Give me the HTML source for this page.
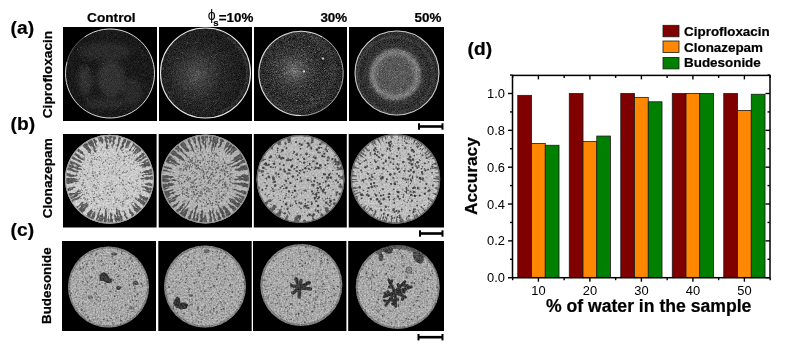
<!DOCTYPE html>
<html><head><meta charset="utf-8"><title>Figure</title>
<style>html,body{margin:0;padding:0;background:#fff;}body{width:786px;height:351px;overflow:hidden;font-family:"Liberation Sans", sans-serif;}svg{display:block;will-change:transform;}</style>
</head><body>
<svg width="786" height="351" viewBox="0 0 786 351">
<defs><filter id="blur1" x="-20%" y="-20%" width="140%" height="140%"><feGaussianBlur stdDeviation="1.2"/></filter><filter id="blur2" x="-20%" y="-20%" width="140%" height="140%"><feGaussianBlur stdDeviation="2.5"/></filter><filter id="blur05"><feGaussianBlur stdDeviation="0.5"/></filter><clipPath id="c00"><circle cx="110" cy="73.5" r="45"/></clipPath><clipPath id="c01"><circle cx="205.5" cy="73" r="45.5"/></clipPath><clipPath id="c02"><circle cx="301" cy="73.4" r="42.7"/></clipPath><clipPath id="c03"><circle cx="397" cy="73" r="42.5"/></clipPath><clipPath id="c10"><circle cx="109.5" cy="179.3" r="44.5"/></clipPath><clipPath id="c11"><circle cx="205.5" cy="179" r="44.5"/></clipPath><clipPath id="c12"><circle cx="300.5" cy="179" r="44"/></clipPath><clipPath id="c13"><circle cx="395.5" cy="179" r="44.7"/></clipPath><clipPath id="c20"><circle cx="108.5" cy="287" r="40.5"/></clipPath><clipPath id="c21"><circle cx="205" cy="286.5" r="41"/></clipPath><clipPath id="c22"><circle cx="301.3" cy="285" r="41"/></clipPath><clipPath id="c23"><circle cx="397.7" cy="287" r="42"/></clipPath><filter id="gr00" x="-5%" y="-5%" width="110%" height="110%" color-interpolation-filters="sRGB">
<feTurbulence type="fractalNoise" baseFrequency="1.37" numOctaves="1" seed="3" result="n"/>
<feColorMatrix in="n" type="matrix" values="1 0 0 0 0 1 0 0 0 0 1 0 0 0 0 0 0 0 0 1" result="g"/>
<feComposite in="SourceGraphic" in2="g" operator="arithmetic" k1="0" k2="1" k3="0.25" k4="-0.125" result="r"/>
<feComposite in="r" in2="SourceGraphic" operator="in"/>
</filter><filter id="gr01" x="-5%" y="-5%" width="110%" height="110%" color-interpolation-filters="sRGB">
<feTurbulence type="fractalNoise" baseFrequency="1.37" numOctaves="1" seed="5" result="n"/>
<feColorMatrix in="n" type="matrix" values="1 0 0 0 0 1 0 0 0 0 1 0 0 0 0 0 0 0 0 1" result="g"/>
<feComposite in="SourceGraphic" in2="g" operator="arithmetic" k1="0" k2="1" k3="0.35" k4="-0.175" result="r"/>
<feComposite in="r" in2="SourceGraphic" operator="in"/>
</filter><radialGradient id="g01" cx="0.4" cy="0.52" r="0.5"><stop offset="0" stop-color="#505050"/><stop offset="0.25" stop-color="#3c3c3c"/><stop offset="0.6" stop-color="#262626"/><stop offset="1" stop-color="#1e1e1e"/></radialGradient><filter id="gr02" x="-5%" y="-5%" width="110%" height="110%" color-interpolation-filters="sRGB">
<feTurbulence type="fractalNoise" baseFrequency="1.37" numOctaves="1" seed="7" result="n"/>
<feColorMatrix in="n" type="matrix" values="1 0 0 0 0 1 0 0 0 0 1 0 0 0 0 0 0 0 0 1" result="g"/>
<feComposite in="SourceGraphic" in2="g" operator="arithmetic" k1="0" k2="1" k3="0.55" k4="-0.275" result="r"/>
<feComposite in="r" in2="SourceGraphic" operator="in"/>
</filter><radialGradient id="g02" cx="0.42" cy="0.47" r="0.5"><stop offset="0" stop-color="#6e6e6e"/><stop offset="0.12" stop-color="#5a5a5a"/><stop offset="0.35" stop-color="#3c3c3c"/><stop offset="0.7" stop-color="#2c2c2c"/><stop offset="0.9" stop-color="#363636"/><stop offset="1" stop-color="#2a2a2a"/></radialGradient><filter id="gr03" x="-5%" y="-5%" width="110%" height="110%" color-interpolation-filters="sRGB">
<feTurbulence type="fractalNoise" baseFrequency="1.37" numOctaves="1" seed="9" result="n"/>
<feColorMatrix in="n" type="matrix" values="1 0 0 0 0 1 0 0 0 0 1 0 0 0 0 0 0 0 0 1" result="g"/>
<feComposite in="SourceGraphic" in2="g" operator="arithmetic" k1="0" k2="1" k3="0.45" k4="-0.225" result="r"/>
<feComposite in="r" in2="SourceGraphic" operator="in"/>
</filter><radialGradient id="g03" cx="0.48" cy="0.52" r="0.5"><stop offset="0" stop-color="#5e5e5e"/><stop offset="0.36" stop-color="#545454"/><stop offset="0.44" stop-color="#606060"/><stop offset="0.5" stop-color="#7c7c7c"/><stop offset="0.57" stop-color="#666"/><stop offset="0.63" stop-color="#3a3a3a"/><stop offset="0.8" stop-color="#2c2c2c"/><stop offset="0.87" stop-color="#3c3c3c"/><stop offset="0.94" stop-color="#2c2c2c"/><stop offset="1" stop-color="#303030"/></radialGradient><filter id="gr10" x="-5%" y="-5%" width="110%" height="110%" color-interpolation-filters="sRGB">
<feTurbulence type="fractalNoise" baseFrequency="0.63" numOctaves="3" seed="11" result="n"/>
<feColorMatrix in="n" type="matrix" values="1 0 0 0 0 1 0 0 0 0 1 0 0 0 0 0 0 0 0 1" result="g"/>
<feComposite in="SourceGraphic" in2="g" operator="arithmetic" k1="0" k2="1" k3="0.3" k4="-0.150" result="r"/>
<feComposite in="r" in2="SourceGraphic" operator="in"/>
</filter><filter id="gr11" x="-5%" y="-5%" width="110%" height="110%" color-interpolation-filters="sRGB">
<feTurbulence type="fractalNoise" baseFrequency="0.63" numOctaves="3" seed="15" result="n"/>
<feColorMatrix in="n" type="matrix" values="1 0 0 0 0 1 0 0 0 0 1 0 0 0 0 0 0 0 0 1" result="g"/>
<feComposite in="SourceGraphic" in2="g" operator="arithmetic" k1="0" k2="1" k3="0.3" k4="-0.150" result="r"/>
<feComposite in="r" in2="SourceGraphic" operator="in"/>
</filter><filter id="gr12" x="-5%" y="-5%" width="110%" height="110%" color-interpolation-filters="sRGB">
<feTurbulence type="fractalNoise" baseFrequency="0.63" numOctaves="3" seed="19" result="n"/>
<feColorMatrix in="n" type="matrix" values="1 0 0 0 0 1 0 0 0 0 1 0 0 0 0 0 0 0 0 1" result="g"/>
<feComposite in="SourceGraphic" in2="g" operator="arithmetic" k1="0" k2="1" k3="0.3" k4="-0.150" result="r"/>
<feComposite in="r" in2="SourceGraphic" operator="in"/>
</filter><filter id="gr13" x="-5%" y="-5%" width="110%" height="110%" color-interpolation-filters="sRGB">
<feTurbulence type="fractalNoise" baseFrequency="0.63" numOctaves="3" seed="23" result="n"/>
<feColorMatrix in="n" type="matrix" values="1 0 0 0 0 1 0 0 0 0 1 0 0 0 0 0 0 0 0 1" result="g"/>
<feComposite in="SourceGraphic" in2="g" operator="arithmetic" k1="0" k2="1" k3="0.3" k4="-0.150" result="r"/>
<feComposite in="r" in2="SourceGraphic" operator="in"/>
</filter><filter id="gr20" x="-5%" y="-5%" width="110%" height="110%" color-interpolation-filters="sRGB">
<feTurbulence type="fractalNoise" baseFrequency="0.63" numOctaves="3" seed="30" result="n"/>
<feColorMatrix in="n" type="matrix" values="1 0 0 0 0 1 0 0 0 0 1 0 0 0 0 0 0 0 0 1" result="g"/>
<feComposite in="SourceGraphic" in2="g" operator="arithmetic" k1="0" k2="1" k3="0.42" k4="-0.210" result="r"/>
<feComposite in="r" in2="SourceGraphic" operator="in"/>
</filter><filter id="gr21" x="-5%" y="-5%" width="110%" height="110%" color-interpolation-filters="sRGB">
<feTurbulence type="fractalNoise" baseFrequency="0.63" numOctaves="3" seed="31" result="n"/>
<feColorMatrix in="n" type="matrix" values="1 0 0 0 0 1 0 0 0 0 1 0 0 0 0 0 0 0 0 1" result="g"/>
<feComposite in="SourceGraphic" in2="g" operator="arithmetic" k1="0" k2="1" k3="0.42" k4="-0.210" result="r"/>
<feComposite in="r" in2="SourceGraphic" operator="in"/>
</filter><filter id="gr22" x="-5%" y="-5%" width="110%" height="110%" color-interpolation-filters="sRGB">
<feTurbulence type="fractalNoise" baseFrequency="0.63" numOctaves="3" seed="32" result="n"/>
<feColorMatrix in="n" type="matrix" values="1 0 0 0 0 1 0 0 0 0 1 0 0 0 0 0 0 0 0 1" result="g"/>
<feComposite in="SourceGraphic" in2="g" operator="arithmetic" k1="0" k2="1" k3="0.42" k4="-0.210" result="r"/>
<feComposite in="r" in2="SourceGraphic" operator="in"/>
</filter><filter id="gr23" x="-5%" y="-5%" width="110%" height="110%" color-interpolation-filters="sRGB">
<feTurbulence type="fractalNoise" baseFrequency="0.63" numOctaves="3" seed="33" result="n"/>
<feColorMatrix in="n" type="matrix" values="1 0 0 0 0 1 0 0 0 0 1 0 0 0 0 0 0 0 0 1" result="g"/>
<feComposite in="SourceGraphic" in2="g" operator="arithmetic" k1="0" k2="1" k3="0.42" k4="-0.210" result="r"/>
<feComposite in="r" in2="SourceGraphic" operator="in"/>
</filter></defs>
<rect width="786" height="351" fill="#fff"/>
<rect x="63" y="27" width="94.0" height="94" fill="#000"/><rect x="159" y="27" width="93.0" height="94" fill="#000"/><rect x="254" y="27" width="93.0" height="94" fill="#000"/><rect x="349" y="27" width="95.0" height="94" fill="#000"/><rect x="63" y="134" width="93.6" height="93.5" fill="#000"/><rect x="158.7" y="134" width="93.3" height="93.5" fill="#000"/><rect x="253.8" y="134" width="93.0" height="93.5" fill="#000"/><rect x="348.7" y="134" width="95.3" height="93.5" fill="#000"/><rect x="62" y="241" width="94.0" height="90" fill="#000"/><rect x="158.3" y="241" width="93.4" height="90" fill="#000"/><rect x="253" y="241" width="93.4" height="90" fill="#000"/><rect x="348.2" y="241" width="95.8" height="90" fill="#000"/><g clip-path="url(#c00)"><g filter="url(#gr00)"><circle cx="110" cy="73.5" r="46" fill="#1a1a1a"/><g filter="url(#blur2)"><ellipse cx="111" cy="78.5" rx="14" ry="18" fill="#333"/><ellipse cx="85" cy="80.5" rx="7" ry="14" fill="#303030"/><ellipse cx="105" cy="51.5" rx="26" ry="9" fill="#2c2c2c"/><ellipse cx="132" cy="91.5" rx="10" ry="14" fill="#2a2a2a"/><ellipse cx="105" cy="103.5" rx="20" ry="6" fill="#2c2c2c"/></g><g fill="#888" opacity="0.6"><circle cx="120.5" cy="102.5" r="0.49"/><circle cx="71.9" cy="81.5" r="0.43"/><circle cx="113.3" cy="92.0" r="0.36"/><circle cx="117.9" cy="106.3" r="0.49"/><circle cx="113.7" cy="83.6" r="0.32"/><circle cx="86.2" cy="99.9" r="0.39"/><circle cx="95.0" cy="55.9" r="0.38"/><circle cx="93.3" cy="81.4" r="0.36"/><circle cx="116.0" cy="61.4" r="0.44"/><circle cx="134.4" cy="51.3" r="0.38"/><circle cx="87.9" cy="85.1" r="0.38"/><circle cx="143.1" cy="74.9" r="0.39"/><circle cx="93.3" cy="97.9" r="0.30"/><circle cx="143.9" cy="75.5" r="0.41"/><circle cx="125.5" cy="76.9" r="0.34"/><circle cx="116.1" cy="81.9" r="0.44"/><circle cx="87.5" cy="99.7" r="0.43"/><circle cx="82.1" cy="73.8" r="0.48"/><circle cx="125.5" cy="57.0" r="0.44"/><circle cx="143.5" cy="74.8" r="0.32"/><circle cx="105.9" cy="79.5" r="0.49"/><circle cx="130.0" cy="41.3" r="0.32"/><circle cx="115.2" cy="39.9" r="0.46"/><circle cx="132.9" cy="101.3" r="0.34"/><circle cx="107.3" cy="37.5" r="0.48"/><circle cx="130.8" cy="56.2" r="0.33"/><circle cx="139.6" cy="47.2" r="0.37"/><circle cx="100.0" cy="70.3" r="0.44"/><circle cx="132.4" cy="82.0" r="0.36"/><circle cx="141.0" cy="93.3" r="0.49"/><circle cx="115.7" cy="92.9" r="0.32"/><circle cx="142.6" cy="50.1" r="0.36"/><circle cx="102.9" cy="63.2" r="0.48"/><circle cx="107.0" cy="70.2" r="0.47"/><circle cx="85.1" cy="61.9" r="0.46"/><circle cx="107.1" cy="93.1" r="0.43"/><circle cx="80.6" cy="66.9" r="0.37"/><circle cx="100.7" cy="111.6" r="0.44"/><circle cx="78.9" cy="95.9" r="0.31"/><circle cx="127.4" cy="81.2" r="0.33"/><circle cx="102.3" cy="85.2" r="0.37"/><circle cx="96.2" cy="50.2" r="0.44"/><circle cx="87.9" cy="98.8" r="0.43"/><circle cx="130.9" cy="95.1" r="0.41"/><circle cx="99.7" cy="53.1" r="0.45"/><circle cx="91.8" cy="81.4" r="0.39"/><circle cx="131.4" cy="79.1" r="0.31"/><circle cx="107.4" cy="33.2" r="0.39"/><circle cx="106.1" cy="106.3" r="0.44"/><circle cx="115.7" cy="34.4" r="0.39"/><circle cx="145.4" cy="54.6" r="0.31"/><circle cx="85.2" cy="81.2" r="0.35"/><circle cx="129.7" cy="98.4" r="0.45"/><circle cx="144.7" cy="87.7" r="0.44"/><circle cx="96.5" cy="57.6" r="0.44"/><circle cx="121.9" cy="35.3" r="0.37"/><circle cx="130.9" cy="101.1" r="0.44"/><circle cx="107.5" cy="99.5" r="0.35"/><circle cx="115.4" cy="55.4" r="0.32"/><circle cx="116.9" cy="91.8" r="0.33"/><circle cx="80.5" cy="55.5" r="0.43"/><circle cx="73.5" cy="85.7" r="0.31"/><circle cx="92.5" cy="71.7" r="0.44"/><circle cx="71.3" cy="70.8" r="0.35"/><circle cx="138.6" cy="61.1" r="0.37"/><circle cx="142.2" cy="51.3" r="0.42"/><circle cx="129.4" cy="93.8" r="0.32"/><circle cx="103.7" cy="68.2" r="0.44"/><circle cx="77.7" cy="49.3" r="0.50"/><circle cx="127.1" cy="92.7" r="0.31"/><circle cx="88.7" cy="69.3" r="0.50"/><circle cx="112.1" cy="95.5" r="0.44"/><circle cx="86.4" cy="64.4" r="0.33"/><circle cx="142.7" cy="55.3" r="0.45"/><circle cx="90.6" cy="107.5" r="0.31"/><circle cx="127.9" cy="60.1" r="0.39"/><circle cx="120.5" cy="88.2" r="0.33"/><circle cx="134.0" cy="61.4" r="0.48"/><circle cx="111.4" cy="38.3" r="0.34"/><circle cx="115.8" cy="108.7" r="0.41"/><circle cx="115.8" cy="68.9" r="0.33"/><circle cx="93.7" cy="46.9" r="0.43"/><circle cx="87.2" cy="98.0" r="0.46"/><circle cx="80.9" cy="47.2" r="0.50"/><circle cx="145.1" cy="86.3" r="0.43"/><circle cx="103.5" cy="63.1" r="0.37"/><circle cx="146.0" cy="83.9" r="0.49"/><circle cx="117.9" cy="76.4" r="0.30"/><circle cx="124.3" cy="72.3" r="0.47"/><circle cx="125.1" cy="109.2" r="0.44"/></g></g></g><path d="M84.48 37.05A44.50 44.50 0 1 1 67.02 61.98" fill="none" stroke="#d4d4d4" stroke-width="1.0" opacity="1"/><path d="M66.92 61.96A44.60 44.60 0 0 1 84.42 36.97" fill="none" stroke="#666" stroke-width="0.8" opacity="1"/><g clip-path="url(#c01)"><g filter="url(#gr01)"><circle cx="205.5" cy="73" r="46.5" fill="url(#g01)"/><g fill="#a0a0a0" opacity="0.6"><circle cx="193.6" cy="70.7" r="0.33"/><circle cx="177.6" cy="58.2" r="0.38"/><circle cx="176.9" cy="65.5" r="0.31"/><circle cx="183.5" cy="61.0" r="0.40"/><circle cx="195.5" cy="42.7" r="0.38"/><circle cx="205.1" cy="81.9" r="0.46"/><circle cx="178.4" cy="58.5" r="0.39"/><circle cx="201.9" cy="94.2" r="0.41"/><circle cx="193.9" cy="70.6" r="0.43"/><circle cx="199.1" cy="100.4" r="0.32"/><circle cx="193.3" cy="62.5" r="0.40"/><circle cx="173.1" cy="86.8" r="0.38"/><circle cx="215.1" cy="103.9" r="0.34"/><circle cx="183.2" cy="58.4" r="0.39"/><circle cx="178.4" cy="82.9" r="0.43"/><circle cx="213.4" cy="45.8" r="0.43"/><circle cx="216.0" cy="69.0" r="0.39"/><circle cx="214.7" cy="57.4" r="0.44"/><circle cx="197.8" cy="59.4" r="0.42"/><circle cx="174.5" cy="51.5" r="0.41"/><circle cx="163.5" cy="68.9" r="0.38"/><circle cx="230.8" cy="63.2" r="0.33"/><circle cx="200.7" cy="72.3" r="0.48"/><circle cx="198.0" cy="90.4" r="0.44"/><circle cx="206.4" cy="108.5" r="0.39"/><circle cx="203.1" cy="99.7" r="0.38"/><circle cx="192.2" cy="75.8" r="0.35"/><circle cx="195.6" cy="77.4" r="0.33"/><circle cx="201.6" cy="79.3" r="0.38"/><circle cx="196.7" cy="62.1" r="0.38"/><circle cx="202.4" cy="84.4" r="0.36"/><circle cx="206.9" cy="101.6" r="0.39"/><circle cx="212.9" cy="48.7" r="0.39"/><circle cx="179.0" cy="50.7" r="0.35"/><circle cx="200.6" cy="78.8" r="0.46"/><circle cx="206.6" cy="61.7" r="0.49"/><circle cx="165.4" cy="81.5" r="0.30"/><circle cx="200.7" cy="86.2" r="0.43"/><circle cx="221.8" cy="62.5" r="0.44"/><circle cx="175.8" cy="48.2" r="0.39"/><circle cx="193.8" cy="105.7" r="0.46"/><circle cx="216.8" cy="54.7" r="0.31"/><circle cx="206.2" cy="72.5" r="0.33"/><circle cx="184.2" cy="64.4" r="0.40"/><circle cx="229.7" cy="66.0" r="0.37"/><circle cx="203.6" cy="71.9" r="0.39"/><circle cx="205.2" cy="82.9" r="0.30"/><circle cx="194.2" cy="97.0" r="0.41"/><circle cx="164.8" cy="78.3" r="0.49"/><circle cx="198.7" cy="71.8" r="0.45"/><circle cx="232.9" cy="81.8" r="0.40"/><circle cx="181.0" cy="62.6" r="0.39"/><circle cx="207.8" cy="68.5" r="0.48"/><circle cx="224.1" cy="68.3" r="0.41"/><circle cx="197.2" cy="71.5" r="0.32"/><circle cx="181.8" cy="52.4" r="0.34"/><circle cx="204.6" cy="77.8" r="0.34"/><circle cx="203.4" cy="110.3" r="0.48"/><circle cx="195.3" cy="80.1" r="0.39"/><circle cx="212.6" cy="71.8" r="0.35"/><circle cx="203.8" cy="93.2" r="0.32"/><circle cx="184.6" cy="97.1" r="0.40"/><circle cx="220.7" cy="88.9" r="0.31"/><circle cx="224.5" cy="74.0" r="0.30"/><circle cx="216.3" cy="74.4" r="0.47"/><circle cx="163.1" cy="68.4" r="0.49"/><circle cx="195.8" cy="75.5" r="0.47"/><circle cx="184.0" cy="80.7" r="0.39"/><circle cx="204.4" cy="60.9" r="0.49"/><circle cx="194.2" cy="83.7" r="0.46"/><circle cx="209.5" cy="49.4" r="0.44"/><circle cx="217.4" cy="47.2" r="0.43"/><circle cx="208.6" cy="81.0" r="0.47"/><circle cx="223.1" cy="55.0" r="0.35"/><circle cx="223.6" cy="63.3" r="0.34"/><circle cx="199.1" cy="76.1" r="0.34"/><circle cx="209.6" cy="51.8" r="0.46"/><circle cx="224.3" cy="71.5" r="0.49"/><circle cx="213.8" cy="66.8" r="0.44"/><circle cx="189.7" cy="69.8" r="0.33"/><circle cx="204.7" cy="60.3" r="0.30"/><circle cx="179.4" cy="83.2" r="0.36"/><circle cx="195.4" cy="74.5" r="0.37"/><circle cx="194.9" cy="77.6" r="0.44"/><circle cx="199.3" cy="71.4" r="0.32"/><circle cx="186.1" cy="88.7" r="0.47"/><circle cx="195.9" cy="42.2" r="0.36"/><circle cx="204.5" cy="63.2" r="0.40"/><circle cx="194.5" cy="51.1" r="0.34"/><circle cx="213.3" cy="70.6" r="0.37"/><circle cx="216.2" cy="100.9" r="0.30"/><circle cx="194.5" cy="94.2" r="0.42"/><circle cx="226.4" cy="82.0" r="0.40"/><circle cx="211.0" cy="66.6" r="0.47"/><circle cx="196.8" cy="42.4" r="0.37"/><circle cx="175.8" cy="68.5" r="0.37"/><circle cx="191.4" cy="65.4" r="0.48"/><circle cx="192.2" cy="83.0" r="0.33"/><circle cx="187.3" cy="84.5" r="0.32"/><circle cx="184.9" cy="95.4" r="0.46"/><circle cx="197.5" cy="64.9" r="0.50"/><circle cx="193.5" cy="80.4" r="0.49"/><circle cx="190.9" cy="89.2" r="0.33"/><circle cx="184.4" cy="102.3" r="0.48"/><circle cx="207.7" cy="94.5" r="0.50"/><circle cx="198.2" cy="41.9" r="0.42"/><circle cx="225.2" cy="65.9" r="0.34"/><circle cx="199.3" cy="64.9" r="0.38"/><circle cx="216.6" cy="44.0" r="0.40"/><circle cx="193.2" cy="70.5" r="0.42"/><circle cx="202.5" cy="53.1" r="0.40"/><circle cx="171.3" cy="56.5" r="0.33"/><circle cx="213.4" cy="101.6" r="0.48"/><circle cx="209.9" cy="107.0" r="0.34"/><circle cx="173.0" cy="82.1" r="0.37"/><circle cx="184.1" cy="99.2" r="0.33"/><circle cx="213.8" cy="60.2" r="0.49"/><circle cx="198.4" cy="70.2" r="0.36"/><circle cx="171.2" cy="97.6" r="0.32"/><circle cx="185.1" cy="73.7" r="0.34"/><circle cx="184.7" cy="100.3" r="0.45"/><circle cx="188.7" cy="75.5" r="0.43"/><circle cx="196.3" cy="83.5" r="0.47"/><circle cx="189.4" cy="87.8" r="0.42"/><circle cx="215.7" cy="55.3" r="0.41"/><circle cx="223.2" cy="55.3" r="0.49"/><circle cx="186.9" cy="43.3" r="0.44"/><circle cx="210.7" cy="84.6" r="0.48"/><circle cx="189.9" cy="89.0" r="0.41"/><circle cx="212.1" cy="50.2" r="0.32"/><circle cx="225.8" cy="64.4" r="0.50"/><circle cx="167.5" cy="59.9" r="0.48"/><circle cx="211.7" cy="56.6" r="0.50"/><circle cx="209.2" cy="85.6" r="0.45"/><circle cx="226.9" cy="55.6" r="0.39"/><circle cx="211.0" cy="87.5" r="0.47"/><circle cx="206.6" cy="82.8" r="0.32"/><circle cx="169.0" cy="92.2" r="0.46"/><circle cx="195.2" cy="75.4" r="0.45"/><circle cx="209.1" cy="101.8" r="0.40"/><circle cx="224.4" cy="59.4" r="0.32"/><circle cx="215.9" cy="60.6" r="0.42"/><circle cx="189.9" cy="103.0" r="0.40"/><circle cx="198.7" cy="74.3" r="0.41"/><circle cx="205.8" cy="72.2" r="0.34"/><circle cx="198.2" cy="73.3" r="0.32"/><circle cx="214.9" cy="93.9" r="0.30"/><circle cx="177.6" cy="56.9" r="0.43"/><circle cx="193.0" cy="48.9" r="0.34"/><circle cx="184.4" cy="65.8" r="0.47"/><circle cx="174.0" cy="76.9" r="0.46"/><circle cx="198.5" cy="106.3" r="0.34"/><circle cx="198.7" cy="74.8" r="0.34"/><circle cx="176.6" cy="71.4" r="0.43"/><circle cx="179.5" cy="46.3" r="0.33"/><circle cx="205.2" cy="90.7" r="0.38"/><circle cx="182.5" cy="52.3" r="0.43"/><circle cx="230.4" cy="74.6" r="0.35"/><circle cx="182.4" cy="54.0" r="0.31"/><circle cx="169.4" cy="96.4" r="0.43"/><circle cx="189.9" cy="79.5" r="0.32"/><circle cx="232.6" cy="84.2" r="0.31"/><circle cx="174.3" cy="62.4" r="0.36"/><circle cx="187.6" cy="42.3" r="0.39"/><circle cx="223.2" cy="64.7" r="0.47"/><circle cx="200.7" cy="60.5" r="0.34"/><circle cx="213.9" cy="74.3" r="0.45"/><circle cx="183.1" cy="70.7" r="0.39"/><circle cx="172.1" cy="71.3" r="0.39"/><circle cx="210.6" cy="63.6" r="0.46"/><circle cx="190.4" cy="81.1" r="0.48"/><circle cx="176.4" cy="58.7" r="0.43"/><circle cx="190.7" cy="71.4" r="0.45"/><circle cx="183.8" cy="84.4" r="0.39"/><circle cx="202.9" cy="97.5" r="0.46"/><circle cx="199.0" cy="71.9" r="0.40"/><circle cx="198.4" cy="85.5" r="0.35"/><circle cx="205.6" cy="74.7" r="0.36"/><circle cx="196.4" cy="71.7" r="0.50"/><circle cx="199.9" cy="86.8" r="0.42"/></g><path d="M226.38 36.84A41.75 41.75 0 0 1 219.78 112.23" fill="none" stroke="#444" stroke-width="2.5" opacity="0.45"/></g></g><circle cx="205.5" cy="73" r="44.98" fill="none" stroke="#e6e6e6" stroke-width="1.05" opacity="1"/><g clip-path="url(#c02)"><g filter="url(#gr02)"><circle cx="301" cy="73.4" r="43.7" fill="url(#g02)"/><g fill="#a8a8a8" opacity="0.7"><circle cx="284.8" cy="58.9" r="0.30"/><circle cx="314.9" cy="33.7" r="0.50"/><circle cx="301.4" cy="83.9" r="0.31"/><circle cx="308.0" cy="72.1" r="0.44"/><circle cx="304.4" cy="53.4" r="0.45"/><circle cx="305.9" cy="85.9" r="0.37"/><circle cx="295.5" cy="68.4" r="0.34"/><circle cx="303.9" cy="64.6" r="0.39"/><circle cx="336.3" cy="65.5" r="0.43"/><circle cx="305.2" cy="81.3" r="0.35"/><circle cx="264.7" cy="68.0" r="0.36"/><circle cx="296.0" cy="71.7" r="0.38"/><circle cx="297.0" cy="75.3" r="0.36"/><circle cx="276.5" cy="71.2" r="0.41"/><circle cx="286.9" cy="105.3" r="0.32"/><circle cx="300.4" cy="86.0" r="0.42"/><circle cx="287.1" cy="91.0" r="0.32"/><circle cx="273.6" cy="47.3" r="0.42"/><circle cx="316.1" cy="45.7" r="0.31"/><circle cx="286.3" cy="72.3" r="0.44"/><circle cx="273.1" cy="69.6" r="0.36"/><circle cx="306.4" cy="60.9" r="0.50"/><circle cx="273.7" cy="75.2" r="0.33"/><circle cx="303.6" cy="97.2" r="0.43"/><circle cx="282.4" cy="73.4" r="0.47"/><circle cx="281.1" cy="66.9" r="0.36"/><circle cx="312.6" cy="53.2" r="0.40"/><circle cx="263.3" cy="92.4" r="0.39"/><circle cx="267.8" cy="70.2" r="0.43"/><circle cx="312.4" cy="71.7" r="0.38"/><circle cx="297.1" cy="75.0" r="0.42"/><circle cx="323.0" cy="53.9" r="0.44"/><circle cx="282.5" cy="91.9" r="0.40"/><circle cx="309.2" cy="79.6" r="0.41"/><circle cx="286.9" cy="97.2" r="0.45"/><circle cx="287.9" cy="93.6" r="0.47"/><circle cx="296.8" cy="72.3" r="0.36"/><circle cx="296.5" cy="100.6" r="0.50"/><circle cx="290.5" cy="72.5" r="0.39"/><circle cx="296.1" cy="103.1" r="0.33"/><circle cx="304.6" cy="38.6" r="0.42"/><circle cx="266.8" cy="93.8" r="0.39"/><circle cx="313.6" cy="87.4" r="0.47"/><circle cx="300.9" cy="72.5" r="0.48"/><circle cx="310.3" cy="87.8" r="0.48"/><circle cx="286.5" cy="73.6" r="0.30"/><circle cx="288.3" cy="71.4" r="0.44"/><circle cx="297.6" cy="62.4" r="0.43"/><circle cx="326.4" cy="63.9" r="0.40"/><circle cx="297.5" cy="70.6" r="0.47"/><circle cx="296.0" cy="77.3" r="0.43"/><circle cx="297.8" cy="38.0" r="0.41"/><circle cx="310.8" cy="60.6" r="0.30"/><circle cx="310.9" cy="69.3" r="0.34"/><circle cx="268.0" cy="48.9" r="0.43"/><circle cx="269.7" cy="79.4" r="0.47"/><circle cx="296.0" cy="74.6" r="0.45"/><circle cx="276.6" cy="45.2" r="0.44"/><circle cx="284.5" cy="61.2" r="0.41"/><circle cx="301.5" cy="105.3" r="0.36"/><circle cx="301.5" cy="86.5" r="0.45"/><circle cx="318.4" cy="80.1" r="0.48"/><circle cx="307.9" cy="48.3" r="0.45"/><circle cx="288.5" cy="88.3" r="0.41"/><circle cx="309.6" cy="33.0" r="0.49"/><circle cx="271.6" cy="63.0" r="0.36"/><circle cx="273.0" cy="61.4" r="0.45"/><circle cx="326.2" cy="49.5" r="0.35"/><circle cx="323.7" cy="82.2" r="0.36"/><circle cx="324.7" cy="70.6" r="0.47"/><circle cx="298.7" cy="95.6" r="0.38"/><circle cx="324.7" cy="88.3" r="0.48"/><circle cx="267.9" cy="65.1" r="0.34"/><circle cx="302.0" cy="98.4" r="0.31"/><circle cx="275.6" cy="99.9" r="0.45"/><circle cx="275.6" cy="61.5" r="0.38"/><circle cx="303.6" cy="35.7" r="0.38"/><circle cx="292.9" cy="96.0" r="0.48"/><circle cx="279.2" cy="57.2" r="0.41"/><circle cx="293.8" cy="76.0" r="0.46"/><circle cx="297.8" cy="97.5" r="0.33"/><circle cx="311.1" cy="36.2" r="0.48"/><circle cx="287.1" cy="67.3" r="0.39"/><circle cx="283.6" cy="86.4" r="0.43"/><circle cx="320.7" cy="82.2" r="0.31"/><circle cx="300.8" cy="60.8" r="0.47"/><circle cx="276.7" cy="92.7" r="0.41"/><circle cx="310.7" cy="96.0" r="0.49"/><circle cx="334.7" cy="78.9" r="0.35"/><circle cx="306.4" cy="59.1" r="0.48"/><circle cx="261.4" cy="87.7" r="0.41"/><circle cx="308.1" cy="72.5" r="0.43"/><circle cx="315.3" cy="52.6" r="0.48"/><circle cx="320.7" cy="79.1" r="0.41"/><circle cx="258.3" cy="76.4" r="0.43"/><circle cx="274.0" cy="78.3" r="0.38"/><circle cx="284.8" cy="74.6" r="0.46"/><circle cx="328.9" cy="76.8" r="0.34"/><circle cx="301.3" cy="73.1" r="0.30"/><circle cx="306.4" cy="101.1" r="0.43"/><circle cx="317.1" cy="99.9" r="0.35"/><circle cx="302.0" cy="75.9" r="0.50"/><circle cx="333.6" cy="63.5" r="0.34"/><circle cx="277.3" cy="63.5" r="0.31"/><circle cx="317.5" cy="49.6" r="0.49"/><circle cx="284.7" cy="105.2" r="0.46"/><circle cx="285.7" cy="73.2" r="0.31"/><circle cx="302.5" cy="73.4" r="0.37"/><circle cx="266.5" cy="58.6" r="0.33"/><circle cx="287.0" cy="82.1" r="0.32"/><circle cx="306.2" cy="67.2" r="0.46"/><circle cx="322.7" cy="86.9" r="0.40"/><circle cx="311.7" cy="39.5" r="0.34"/><circle cx="282.3" cy="58.2" r="0.33"/><circle cx="321.5" cy="83.1" r="0.46"/><circle cx="288.8" cy="79.8" r="0.44"/><circle cx="324.4" cy="68.5" r="0.43"/><circle cx="306.1" cy="81.4" r="0.46"/><circle cx="308.0" cy="100.5" r="0.46"/><circle cx="304.9" cy="87.7" r="0.33"/><circle cx="302.0" cy="49.4" r="0.40"/><circle cx="287.1" cy="57.9" r="0.30"/><circle cx="284.0" cy="40.8" r="0.39"/><circle cx="293.1" cy="73.1" r="0.48"/><circle cx="298.9" cy="31.3" r="0.44"/><circle cx="291.6" cy="110.9" r="0.48"/><circle cx="316.7" cy="37.3" r="0.35"/><circle cx="325.7" cy="76.2" r="0.35"/><circle cx="319.2" cy="98.7" r="0.43"/><circle cx="308.1" cy="68.3" r="0.49"/><circle cx="262.8" cy="49.1" r="0.50"/><circle cx="288.9" cy="65.9" r="0.32"/><circle cx="324.4" cy="68.4" r="0.45"/><circle cx="325.4" cy="51.1" r="0.47"/><circle cx="301.1" cy="42.6" r="0.33"/><circle cx="294.6" cy="56.9" r="0.44"/><circle cx="277.5" cy="74.3" r="0.37"/><circle cx="264.3" cy="81.4" r="0.37"/><circle cx="285.0" cy="73.7" r="0.48"/><circle cx="310.1" cy="73.2" r="0.37"/><circle cx="311.6" cy="59.6" r="0.41"/><circle cx="288.5" cy="95.4" r="0.38"/><circle cx="272.6" cy="71.2" r="0.39"/><circle cx="264.1" cy="47.3" r="0.37"/><circle cx="316.5" cy="96.1" r="0.32"/><circle cx="277.9" cy="66.6" r="0.42"/><circle cx="292.6" cy="64.5" r="0.49"/><circle cx="286.4" cy="78.8" r="0.40"/><circle cx="317.1" cy="42.6" r="0.43"/><circle cx="307.0" cy="94.7" r="0.40"/><circle cx="302.4" cy="71.6" r="0.33"/><circle cx="294.0" cy="106.8" r="0.33"/><circle cx="266.3" cy="83.4" r="0.32"/><circle cx="325.9" cy="64.7" r="0.30"/><circle cx="259.2" cy="55.8" r="0.45"/><circle cx="273.6" cy="85.4" r="0.37"/><circle cx="266.4" cy="82.0" r="0.45"/><circle cx="309.4" cy="46.5" r="0.39"/><circle cx="285.5" cy="81.9" r="0.41"/><circle cx="270.5" cy="53.3" r="0.31"/><circle cx="259.2" cy="86.5" r="0.32"/><circle cx="318.1" cy="96.9" r="0.30"/><circle cx="260.9" cy="60.0" r="0.42"/><circle cx="313.4" cy="80.9" r="0.48"/><circle cx="295.5" cy="72.0" r="0.45"/><circle cx="315.3" cy="95.3" r="0.38"/><circle cx="291.2" cy="81.7" r="0.34"/><circle cx="301.0" cy="65.3" r="0.47"/><circle cx="299.9" cy="89.8" r="0.45"/><circle cx="315.1" cy="52.1" r="0.41"/><circle cx="283.6" cy="53.9" r="0.45"/><circle cx="272.1" cy="38.3" r="0.40"/><circle cx="301.6" cy="93.8" r="0.33"/><circle cx="266.3" cy="79.1" r="0.37"/><circle cx="306.1" cy="92.1" r="0.31"/><circle cx="282.0" cy="70.7" r="0.40"/><circle cx="281.2" cy="100.8" r="0.44"/><circle cx="312.2" cy="69.2" r="0.44"/><circle cx="278.8" cy="83.9" r="0.41"/><circle cx="291.6" cy="62.2" r="0.48"/><circle cx="316.0" cy="98.9" r="0.43"/><circle cx="301.3" cy="60.2" r="0.38"/><circle cx="278.1" cy="81.6" r="0.45"/><circle cx="297.6" cy="106.7" r="0.49"/><circle cx="309.3" cy="73.3" r="0.46"/><circle cx="316.4" cy="103.8" r="0.30"/><circle cx="312.8" cy="75.2" r="0.48"/><circle cx="313.5" cy="70.4" r="0.41"/><circle cx="311.6" cy="81.0" r="0.31"/><circle cx="276.4" cy="64.9" r="0.49"/><circle cx="318.8" cy="54.5" r="0.38"/><circle cx="314.0" cy="103.1" r="0.46"/><circle cx="276.9" cy="65.1" r="0.46"/><circle cx="291.0" cy="66.1" r="0.40"/><circle cx="300.1" cy="94.1" r="0.48"/><circle cx="280.3" cy="64.0" r="0.34"/><circle cx="292.4" cy="77.2" r="0.31"/><circle cx="321.3" cy="103.7" r="0.34"/><circle cx="282.6" cy="87.3" r="0.36"/><circle cx="297.6" cy="71.8" r="0.46"/><circle cx="299.5" cy="54.3" r="0.43"/><circle cx="315.6" cy="105.2" r="0.42"/><circle cx="294.0" cy="73.9" r="0.46"/><circle cx="318.6" cy="64.5" r="0.45"/><circle cx="292.1" cy="68.7" r="0.36"/><circle cx="296.4" cy="68.8" r="0.45"/><circle cx="303.1" cy="62.8" r="0.46"/><circle cx="269.9" cy="65.1" r="0.40"/><circle cx="312.5" cy="37.1" r="0.37"/><circle cx="311.3" cy="98.7" r="0.49"/><circle cx="314.0" cy="40.6" r="0.48"/><circle cx="291.2" cy="61.8" r="0.44"/><circle cx="288.6" cy="42.0" r="0.47"/><circle cx="292.3" cy="44.6" r="0.31"/><circle cx="277.3" cy="47.4" r="0.48"/><circle cx="291.1" cy="94.1" r="0.49"/><circle cx="285.8" cy="64.2" r="0.45"/><circle cx="269.4" cy="101.2" r="0.45"/><circle cx="321.9" cy="92.1" r="0.49"/><circle cx="301.1" cy="66.8" r="0.47"/><circle cx="304.1" cy="47.5" r="0.32"/><circle cx="296.2" cy="73.1" r="0.35"/><circle cx="317.5" cy="59.9" r="0.42"/><circle cx="279.4" cy="46.7" r="0.30"/><circle cx="274.7" cy="83.8" r="0.37"/><circle cx="285.7" cy="80.7" r="0.41"/><circle cx="313.0" cy="90.7" r="0.32"/><circle cx="278.1" cy="97.2" r="0.46"/><circle cx="281.2" cy="76.3" r="0.44"/><circle cx="281.0" cy="62.1" r="0.50"/><circle cx="295.1" cy="65.7" r="0.45"/><circle cx="335.2" cy="58.8" r="0.36"/><circle cx="279.8" cy="74.6" r="0.43"/><circle cx="296.2" cy="83.6" r="0.38"/><circle cx="280.0" cy="74.2" r="0.39"/><circle cx="301.9" cy="40.4" r="0.44"/><circle cx="328.4" cy="83.4" r="0.45"/><circle cx="276.1" cy="65.8" r="0.44"/><circle cx="301.6" cy="93.5" r="0.42"/><circle cx="284.6" cy="80.1" r="0.42"/><circle cx="306.9" cy="93.3" r="0.38"/><circle cx="295.2" cy="71.5" r="0.49"/><circle cx="306.3" cy="99.5" r="0.41"/><circle cx="286.0" cy="43.1" r="0.43"/><circle cx="301.7" cy="65.1" r="0.48"/><circle cx="291.0" cy="64.5" r="0.31"/><circle cx="291.9" cy="63.8" r="0.43"/><circle cx="271.7" cy="79.3" r="0.49"/><circle cx="304.0" cy="111.2" r="0.40"/><circle cx="299.9" cy="87.8" r="0.48"/><circle cx="330.0" cy="94.6" r="0.37"/><circle cx="329.7" cy="48.8" r="0.45"/><circle cx="295.3" cy="46.5" r="0.46"/><circle cx="313.8" cy="47.3" r="0.49"/><circle cx="302.2" cy="77.4" r="0.42"/><circle cx="297.8" cy="50.7" r="0.47"/><circle cx="306.3" cy="79.9" r="0.34"/><circle cx="296.0" cy="66.9" r="0.41"/><circle cx="322.2" cy="68.1" r="0.34"/><circle cx="308.0" cy="33.1" r="0.39"/><circle cx="308.4" cy="69.8" r="0.48"/><circle cx="295.7" cy="59.5" r="0.40"/><circle cx="288.7" cy="44.2" r="0.48"/><circle cx="297.1" cy="61.7" r="0.34"/><circle cx="305.2" cy="73.2" r="0.32"/><circle cx="277.1" cy="60.1" r="0.43"/><circle cx="286.3" cy="57.0" r="0.48"/><circle cx="274.5" cy="81.9" r="0.30"/><circle cx="306.8" cy="65.4" r="0.43"/><circle cx="270.8" cy="74.8" r="0.39"/><circle cx="307.2" cy="59.7" r="0.31"/><circle cx="286.6" cy="72.4" r="0.42"/><circle cx="314.6" cy="50.4" r="0.44"/><circle cx="284.8" cy="47.8" r="0.34"/><circle cx="271.0" cy="61.7" r="0.47"/><circle cx="318.5" cy="41.1" r="0.37"/><circle cx="321.9" cy="49.2" r="0.40"/><circle cx="302.0" cy="55.5" r="0.42"/><circle cx="301.0" cy="62.5" r="0.43"/><circle cx="314.2" cy="72.9" r="0.48"/><circle cx="316.3" cy="79.0" r="0.31"/><circle cx="283.9" cy="74.1" r="0.44"/><circle cx="292.8" cy="53.6" r="0.39"/><circle cx="284.2" cy="60.0" r="0.34"/><circle cx="334.7" cy="75.4" r="0.45"/><circle cx="271.7" cy="37.9" r="0.46"/><circle cx="314.8" cy="105.5" r="0.31"/><circle cx="310.6" cy="43.7" r="0.36"/><circle cx="284.3" cy="99.3" r="0.31"/><circle cx="275.7" cy="61.6" r="0.37"/><circle cx="298.1" cy="62.8" r="0.46"/><circle cx="271.8" cy="69.2" r="0.33"/><circle cx="282.5" cy="55.0" r="0.47"/><circle cx="317.5" cy="44.3" r="0.34"/><circle cx="321.9" cy="80.1" r="0.40"/><circle cx="311.6" cy="72.4" r="0.33"/><circle cx="275.6" cy="93.7" r="0.41"/><circle cx="288.7" cy="70.5" r="0.35"/><circle cx="270.5" cy="97.2" r="0.43"/><circle cx="295.2" cy="56.1" r="0.44"/><circle cx="326.9" cy="71.3" r="0.44"/><circle cx="334.8" cy="69.3" r="0.43"/><circle cx="298.2" cy="68.6" r="0.47"/><circle cx="287.5" cy="92.4" r="0.38"/><circle cx="323.2" cy="52.6" r="0.47"/><circle cx="280.4" cy="105.5" r="0.48"/><circle cx="296.9" cy="72.7" r="0.49"/><circle cx="293.0" cy="103.8" r="0.35"/><circle cx="319.8" cy="48.3" r="0.39"/><circle cx="287.4" cy="101.9" r="0.49"/><circle cx="294.6" cy="78.0" r="0.44"/><circle cx="291.3" cy="71.3" r="0.40"/><circle cx="273.1" cy="61.9" r="0.41"/><circle cx="291.8" cy="33.7" r="0.45"/><circle cx="298.5" cy="44.1" r="0.38"/><circle cx="320.6" cy="52.8" r="0.40"/><circle cx="278.1" cy="92.5" r="0.44"/><circle cx="292.1" cy="72.5" r="0.43"/><circle cx="293.6" cy="98.7" r="0.36"/><circle cx="274.6" cy="64.3" r="0.48"/></g><circle cx="323" cy="58.400000000000006" r="1.2" fill="#ccc"/><circle cx="304" cy="71.4" r="1.1" fill="#ddd"/><circle cx="312" cy="99.4" r="1.8" fill="#666" opacity="0.6"/></g></g><path d="M301.00 115.55A42.15 42.15 0 1 1 322.07 36.90" fill="none" stroke="#d8d8d8" stroke-width="1.1" opacity="1"/><path d="M322.12 36.81A42.25 42.25 0 0 1 301.00 115.65" fill="none" stroke="#b0b0b0" stroke-width="0.9" opacity="1"/><g clip-path="url(#c03)"><g filter="url(#gr03)"><circle cx="397" cy="73" r="43.5" fill="url(#g03)"/><g fill="#c0c0c0" opacity="0.75"><circle cx="383.2" cy="66.2" r="0.55"/><circle cx="376.1" cy="69.0" r="0.39"/><circle cx="386.2" cy="52.9" r="0.45"/><circle cx="388.2" cy="50.7" r="0.39"/><circle cx="381.7" cy="59.2" r="0.47"/><circle cx="402.2" cy="57.3" r="0.41"/><circle cx="415.5" cy="87.4" r="0.38"/><circle cx="385.8" cy="80.1" r="0.36"/><circle cx="399.2" cy="94.4" r="0.51"/><circle cx="382.1" cy="93.0" r="0.42"/><circle cx="412.2" cy="68.2" r="0.53"/><circle cx="408.2" cy="92.9" r="0.54"/><circle cx="412.8" cy="80.7" r="0.40"/><circle cx="407.6" cy="57.9" r="0.34"/><circle cx="382.2" cy="79.6" r="0.31"/><circle cx="372.5" cy="76.2" r="0.52"/><circle cx="397.9" cy="99.0" r="0.50"/><circle cx="416.2" cy="67.8" r="0.32"/><circle cx="416.7" cy="71.9" r="0.31"/><circle cx="388.3" cy="92.8" r="0.39"/><circle cx="404.5" cy="97.8" r="0.51"/><circle cx="409.0" cy="60.9" r="0.34"/><circle cx="411.2" cy="73.1" r="0.30"/><circle cx="402.1" cy="96.4" r="0.44"/><circle cx="381.4" cy="60.5" r="0.47"/><circle cx="412.5" cy="90.8" r="0.51"/><circle cx="379.9" cy="64.1" r="0.50"/><circle cx="372.2" cy="70.0" r="0.42"/><circle cx="408.0" cy="62.7" r="0.45"/><circle cx="418.7" cy="69.5" r="0.48"/><circle cx="376.0" cy="76.9" r="0.34"/><circle cx="407.6" cy="59.4" r="0.47"/><circle cx="378.2" cy="72.1" r="0.40"/><circle cx="407.3" cy="53.6" r="0.39"/><circle cx="401.3" cy="88.6" r="0.44"/><circle cx="415.4" cy="79.0" r="0.49"/><circle cx="385.0" cy="94.6" r="0.31"/><circle cx="378.1" cy="64.1" r="0.32"/><circle cx="411.0" cy="78.6" r="0.31"/><circle cx="390.4" cy="52.4" r="0.46"/><circle cx="383.4" cy="90.2" r="0.30"/><circle cx="371.9" cy="70.2" r="0.35"/><circle cx="392.7" cy="90.5" r="0.40"/><circle cx="416.4" cy="84.7" r="0.49"/><circle cx="406.1" cy="89.9" r="0.46"/><circle cx="412.5" cy="73.1" r="0.47"/><circle cx="373.1" cy="67.5" r="0.52"/><circle cx="372.5" cy="67.0" r="0.34"/><circle cx="418.5" cy="73.7" r="0.36"/><circle cx="413.3" cy="89.5" r="0.51"/><circle cx="375.0" cy="66.3" r="0.45"/><circle cx="384.0" cy="55.7" r="0.45"/><circle cx="408.8" cy="60.2" r="0.33"/><circle cx="374.6" cy="85.3" r="0.33"/><circle cx="376.2" cy="75.6" r="0.33"/><circle cx="417.2" cy="67.7" r="0.48"/><circle cx="377.0" cy="62.2" r="0.42"/><circle cx="388.2" cy="52.0" r="0.43"/><circle cx="381.2" cy="55.8" r="0.32"/><circle cx="382.6" cy="85.5" r="0.38"/><circle cx="372.6" cy="78.6" r="0.47"/><circle cx="417.8" cy="67.6" r="0.43"/><circle cx="414.5" cy="72.1" r="0.38"/><circle cx="396.7" cy="98.1" r="0.40"/><circle cx="415.3" cy="63.0" r="0.54"/><circle cx="370.7" cy="73.4" r="0.49"/><circle cx="372.0" cy="72.8" r="0.49"/><circle cx="375.8" cy="80.8" r="0.38"/><circle cx="411.0" cy="67.9" r="0.43"/><circle cx="389.0" cy="53.6" r="0.37"/><circle cx="384.5" cy="63.2" r="0.36"/><circle cx="377.8" cy="74.3" r="0.40"/><circle cx="370.9" cy="75.9" r="0.53"/><circle cx="382.9" cy="54.3" r="0.44"/><circle cx="407.0" cy="61.8" r="0.34"/><circle cx="419.1" cy="70.2" r="0.52"/><circle cx="400.8" cy="50.8" r="0.42"/><circle cx="389.5" cy="51.5" r="0.46"/><circle cx="380.0" cy="59.4" r="0.49"/><circle cx="385.6" cy="61.8" r="0.53"/><circle cx="410.9" cy="74.2" r="0.52"/><circle cx="376.8" cy="64.3" r="0.40"/><circle cx="386.5" cy="91.0" r="0.54"/><circle cx="381.0" cy="77.8" r="0.37"/><circle cx="416.8" cy="66.3" r="0.46"/><circle cx="413.7" cy="71.8" r="0.40"/><circle cx="414.3" cy="59.3" r="0.38"/><circle cx="412.2" cy="69.8" r="0.52"/><circle cx="408.8" cy="61.8" r="0.50"/><circle cx="410.0" cy="85.4" r="0.44"/><circle cx="401.7" cy="93.4" r="0.30"/><circle cx="415.0" cy="76.9" r="0.31"/><circle cx="377.0" cy="73.5" r="0.45"/><circle cx="400.4" cy="94.2" r="0.43"/><circle cx="376.9" cy="87.3" r="0.42"/><circle cx="417.6" cy="70.0" r="0.32"/><circle cx="403.6" cy="51.7" r="0.40"/><circle cx="413.3" cy="60.2" r="0.50"/><circle cx="415.9" cy="86.7" r="0.36"/><circle cx="412.5" cy="71.9" r="0.35"/><circle cx="391.0" cy="54.1" r="0.51"/><circle cx="411.2" cy="63.2" r="0.38"/><circle cx="410.1" cy="93.9" r="0.53"/><circle cx="404.6" cy="65.4" r="0.40"/><circle cx="403.2" cy="52.8" r="0.53"/><circle cx="403.9" cy="51.6" r="0.33"/><circle cx="373.8" cy="86.6" r="0.36"/><circle cx="395.3" cy="55.3" r="0.55"/><circle cx="413.9" cy="61.3" r="0.44"/><circle cx="416.3" cy="81.9" r="0.49"/><circle cx="419.4" cy="80.7" r="0.44"/><circle cx="417.1" cy="79.1" r="0.54"/><circle cx="414.4" cy="88.1" r="0.55"/><circle cx="381.0" cy="65.6" r="0.34"/><circle cx="413.7" cy="68.7" r="0.51"/><circle cx="399.0" cy="64.4" r="0.46"/><circle cx="418.6" cy="82.9" r="0.42"/><circle cx="386.1" cy="66.7" r="0.36"/><circle cx="376.8" cy="91.1" r="0.55"/><circle cx="404.5" cy="51.3" r="0.34"/><circle cx="411.3" cy="55.2" r="0.48"/><circle cx="373.2" cy="63.5" r="0.42"/><circle cx="377.5" cy="90.5" r="0.41"/><circle cx="408.0" cy="62.8" r="0.31"/><circle cx="375.8" cy="71.4" r="0.46"/><circle cx="408.1" cy="59.9" r="0.49"/><circle cx="377.4" cy="74.8" r="0.49"/><circle cx="376.2" cy="83.9" r="0.42"/><circle cx="389.3" cy="58.1" r="0.43"/><circle cx="376.3" cy="88.0" r="0.45"/><circle cx="419.2" cy="77.7" r="0.32"/><circle cx="388.4" cy="96.9" r="0.33"/><circle cx="411.6" cy="60.2" r="0.31"/><circle cx="381.4" cy="54.1" r="0.39"/><circle cx="391.0" cy="89.1" r="0.38"/><circle cx="376.8" cy="59.0" r="0.52"/><circle cx="400.2" cy="95.8" r="0.45"/><circle cx="382.3" cy="64.5" r="0.38"/><circle cx="398.6" cy="64.4" r="0.31"/><circle cx="405.9" cy="94.6" r="0.53"/><circle cx="373.9" cy="78.9" r="0.45"/><circle cx="385.4" cy="51.9" r="0.31"/><circle cx="377.7" cy="57.4" r="0.49"/><circle cx="384.1" cy="89.3" r="0.42"/><circle cx="398.1" cy="56.3" r="0.39"/><circle cx="403.8" cy="54.1" r="0.48"/><circle cx="407.6" cy="72.7" r="0.35"/><circle cx="385.7" cy="89.3" r="0.51"/><circle cx="409.1" cy="56.6" r="0.47"/><circle cx="375.9" cy="86.0" r="0.44"/><circle cx="408.7" cy="67.6" r="0.48"/><circle cx="392.5" cy="49.8" r="0.45"/><circle cx="389.7" cy="91.7" r="0.46"/><circle cx="405.5" cy="91.4" r="0.31"/><circle cx="388.8" cy="50.9" r="0.36"/><circle cx="401.0" cy="53.1" r="0.35"/><circle cx="408.5" cy="86.3" r="0.41"/><circle cx="371.7" cy="81.9" r="0.35"/><circle cx="416.5" cy="70.8" r="0.50"/><circle cx="400.0" cy="95.8" r="0.37"/><circle cx="382.7" cy="58.4" r="0.39"/><circle cx="404.6" cy="80.1" r="0.36"/><circle cx="414.3" cy="62.3" r="0.40"/><circle cx="377.2" cy="89.4" r="0.49"/><circle cx="395.6" cy="51.5" r="0.45"/><circle cx="413.2" cy="87.4" r="0.50"/><circle cx="399.8" cy="53.7" r="0.34"/><circle cx="414.3" cy="60.9" r="0.37"/><circle cx="400.4" cy="98.8" r="0.34"/><circle cx="381.1" cy="69.8" r="0.53"/><circle cx="416.6" cy="69.5" r="0.39"/><circle cx="410.1" cy="88.6" r="0.49"/><circle cx="414.9" cy="67.9" r="0.41"/><circle cx="404.3" cy="91.9" r="0.33"/><circle cx="377.3" cy="67.3" r="0.39"/><circle cx="408.0" cy="56.1" r="0.40"/><circle cx="404.1" cy="51.8" r="0.49"/><circle cx="400.3" cy="97.4" r="0.39"/><circle cx="378.2" cy="91.9" r="0.34"/><circle cx="406.3" cy="58.8" r="0.37"/><circle cx="389.7" cy="94.4" r="0.36"/><circle cx="378.9" cy="92.2" r="0.46"/><circle cx="380.8" cy="57.2" r="0.36"/><circle cx="377.3" cy="68.3" r="0.39"/><circle cx="417.7" cy="84.9" r="0.49"/><circle cx="372.4" cy="77.0" r="0.47"/><circle cx="406.6" cy="93.9" r="0.52"/><circle cx="409.2" cy="63.9" r="0.44"/><circle cx="405.1" cy="62.8" r="0.33"/><circle cx="416.2" cy="63.7" r="0.33"/><circle cx="400.3" cy="88.9" r="0.43"/><circle cx="408.3" cy="95.1" r="0.51"/><circle cx="377.7" cy="86.9" r="0.40"/><circle cx="379.5" cy="90.6" r="0.43"/><circle cx="386.6" cy="97.4" r="0.46"/><circle cx="377.3" cy="90.9" r="0.50"/><circle cx="392.6" cy="90.8" r="0.49"/><circle cx="393.7" cy="99.3" r="0.53"/><circle cx="408.6" cy="89.2" r="0.34"/><circle cx="408.7" cy="63.3" r="0.50"/></g><g fill="#999" opacity="0.6"><circle cx="375.6" cy="72.7" r="0.41"/><circle cx="373.6" cy="58.8" r="0.40"/><circle cx="405.6" cy="100.8" r="0.32"/><circle cx="400.8" cy="53.0" r="0.31"/><circle cx="375.8" cy="84.2" r="0.41"/><circle cx="413.3" cy="52.0" r="0.49"/><circle cx="406.0" cy="102.1" r="0.48"/><circle cx="360.6" cy="81.3" r="0.46"/><circle cx="433.2" cy="61.5" r="0.35"/><circle cx="403.1" cy="55.2" r="0.35"/><circle cx="417.2" cy="79.4" r="0.45"/><circle cx="406.5" cy="90.2" r="0.42"/><circle cx="399.5" cy="61.6" r="0.32"/><circle cx="423.9" cy="102.3" r="0.33"/><circle cx="399.7" cy="45.7" r="0.40"/><circle cx="398.7" cy="106.9" r="0.47"/><circle cx="381.6" cy="82.7" r="0.46"/><circle cx="420.6" cy="82.2" r="0.44"/><circle cx="386.8" cy="79.4" r="0.37"/><circle cx="415.5" cy="94.4" r="0.48"/><circle cx="362.3" cy="62.1" r="0.36"/><circle cx="395.6" cy="98.0" r="0.38"/><circle cx="396.9" cy="44.8" r="0.32"/><circle cx="428.2" cy="49.6" r="0.41"/><circle cx="422.2" cy="89.1" r="0.34"/><circle cx="403.6" cy="78.4" r="0.44"/><circle cx="390.9" cy="56.1" r="0.46"/><circle cx="385.9" cy="49.5" r="0.42"/><circle cx="370.3" cy="55.9" r="0.43"/><circle cx="412.9" cy="72.5" r="0.34"/><circle cx="398.1" cy="87.7" r="0.46"/><circle cx="436.8" cy="70.2" r="0.33"/><circle cx="397.5" cy="48.0" r="0.32"/><circle cx="373.3" cy="62.5" r="0.35"/><circle cx="375.2" cy="76.5" r="0.33"/><circle cx="359.5" cy="80.0" r="0.33"/><circle cx="378.3" cy="94.4" r="0.43"/><circle cx="390.0" cy="80.7" r="0.31"/><circle cx="365.9" cy="74.8" r="0.46"/><circle cx="365.1" cy="69.2" r="0.43"/><circle cx="374.5" cy="69.2" r="0.38"/><circle cx="373.8" cy="87.2" r="0.30"/><circle cx="380.9" cy="64.8" r="0.32"/><circle cx="406.0" cy="50.1" r="0.40"/><circle cx="380.3" cy="104.3" r="0.30"/><circle cx="398.3" cy="46.2" r="0.40"/><circle cx="412.3" cy="54.3" r="0.37"/><circle cx="391.0" cy="34.5" r="0.34"/><circle cx="377.9" cy="47.0" r="0.42"/><circle cx="370.7" cy="93.6" r="0.45"/><circle cx="403.5" cy="42.5" r="0.45"/><circle cx="366.2" cy="66.9" r="0.34"/><circle cx="384.6" cy="73.8" r="0.40"/><circle cx="372.4" cy="73.5" r="0.47"/><circle cx="426.6" cy="49.9" r="0.33"/><circle cx="408.7" cy="58.6" r="0.47"/><circle cx="400.4" cy="54.9" r="0.31"/><circle cx="379.6" cy="54.7" r="0.38"/><circle cx="405.3" cy="109.4" r="0.33"/><circle cx="393.6" cy="99.5" r="0.45"/></g></g></g><circle cx="397" cy="73" r="41.95" fill="none" stroke="#c8c8c8" stroke-width="1.1" opacity="1"/><g clip-path="url(#c10)"><g filter="url(#gr10)"><circle cx="109.5" cy="179.3" r="45.5" fill="#cacaca"/><g fill="#5a5a5a" opacity="0.75"><circle cx="96.4" cy="159.3" r="0.62"/><circle cx="122.6" cy="180.2" r="0.50"/><circle cx="116.2" cy="162.4" r="0.63"/><circle cx="84.4" cy="169.7" r="0.61"/><circle cx="97.2" cy="184.2" r="0.41"/><circle cx="140.3" cy="191.2" r="0.68"/><circle cx="105.8" cy="170.6" r="0.48"/><circle cx="121.6" cy="160.8" r="0.36"/><circle cx="116.9" cy="174.9" r="0.55"/><circle cx="119.9" cy="178.5" r="0.73"/><circle cx="99.2" cy="184.7" r="0.40"/><circle cx="95.5" cy="165.9" r="0.42"/><circle cx="137.0" cy="188.5" r="0.42"/><circle cx="84.1" cy="197.6" r="0.52"/><circle cx="83.0" cy="183.2" r="0.50"/><circle cx="108.6" cy="173.3" r="0.74"/><circle cx="91.8" cy="149.9" r="0.49"/><circle cx="101.8" cy="159.8" r="0.62"/><circle cx="110.6" cy="191.0" r="0.50"/><circle cx="118.7" cy="156.2" r="0.55"/><circle cx="112.1" cy="174.1" r="0.52"/><circle cx="113.9" cy="203.9" r="0.52"/><circle cx="112.5" cy="157.9" r="0.39"/><circle cx="120.7" cy="202.5" r="0.63"/><circle cx="108.4" cy="185.9" r="0.49"/><circle cx="135.7" cy="188.2" r="0.53"/><circle cx="106.3" cy="194.8" r="0.54"/><circle cx="75.8" cy="183.3" r="0.73"/><circle cx="122.1" cy="172.8" r="0.50"/><circle cx="109.4" cy="164.2" r="0.71"/><circle cx="109.2" cy="182.1" r="0.66"/><circle cx="110.6" cy="199.6" r="0.35"/><circle cx="104.4" cy="174.6" r="0.74"/><circle cx="74.8" cy="178.5" r="0.36"/><circle cx="114.1" cy="160.1" r="0.68"/><circle cx="113.1" cy="206.8" r="0.56"/><circle cx="92.8" cy="162.1" r="0.46"/><circle cx="136.1" cy="158.5" r="0.41"/><circle cx="122.6" cy="165.9" r="0.46"/><circle cx="75.9" cy="176.1" r="0.63"/><circle cx="116.0" cy="207.7" r="0.46"/><circle cx="102.4" cy="163.3" r="0.63"/><circle cx="119.0" cy="171.1" r="0.52"/><circle cx="93.8" cy="186.0" r="0.74"/><circle cx="91.1" cy="161.0" r="0.72"/><circle cx="111.7" cy="145.3" r="0.52"/><circle cx="131.1" cy="163.8" r="0.67"/><circle cx="94.3" cy="200.9" r="0.50"/><circle cx="82.1" cy="167.8" r="0.36"/><circle cx="133.6" cy="162.7" r="0.67"/><circle cx="137.3" cy="161.8" r="0.56"/><circle cx="87.1" cy="200.5" r="0.39"/><circle cx="101.7" cy="198.4" r="0.72"/><circle cx="81.7" cy="171.9" r="0.60"/><circle cx="97.5" cy="176.7" r="0.63"/><circle cx="110.1" cy="201.1" r="0.51"/><circle cx="101.7" cy="161.2" r="0.41"/><circle cx="105.5" cy="188.9" r="0.63"/><circle cx="93.2" cy="153.8" r="0.72"/><circle cx="130.1" cy="183.2" r="0.55"/><circle cx="119.4" cy="200.2" r="0.62"/><circle cx="111.0" cy="199.5" r="0.48"/><circle cx="143.2" cy="180.9" r="0.49"/><circle cx="115.0" cy="196.8" r="0.52"/><circle cx="123.7" cy="171.3" r="0.55"/><circle cx="124.7" cy="204.0" r="0.54"/><circle cx="124.4" cy="156.7" r="0.45"/><circle cx="123.9" cy="160.7" r="0.68"/><circle cx="93.4" cy="175.4" r="0.65"/><circle cx="99.4" cy="160.0" r="0.62"/><circle cx="77.2" cy="167.9" r="0.62"/><circle cx="107.2" cy="158.9" r="0.48"/><circle cx="93.8" cy="198.1" r="0.47"/><circle cx="111.4" cy="191.9" r="0.57"/><circle cx="126.2" cy="184.3" r="0.67"/><circle cx="126.6" cy="172.1" r="0.59"/><circle cx="124.6" cy="163.8" r="0.71"/><circle cx="123.3" cy="193.3" r="0.61"/><circle cx="84.8" cy="159.2" r="0.66"/><circle cx="93.0" cy="164.3" r="0.46"/><circle cx="93.4" cy="194.5" r="0.50"/><circle cx="117.2" cy="158.8" r="0.42"/><circle cx="109.0" cy="195.0" r="0.74"/><circle cx="133.2" cy="187.5" r="0.68"/><circle cx="123.5" cy="150.0" r="0.49"/><circle cx="99.3" cy="207.3" r="0.40"/><circle cx="125.6" cy="151.3" r="0.43"/><circle cx="141.7" cy="184.3" r="0.47"/><circle cx="111.4" cy="182.8" r="0.42"/><circle cx="101.0" cy="207.4" r="0.43"/><circle cx="103.8" cy="193.1" r="0.69"/><circle cx="131.1" cy="195.5" r="0.62"/><circle cx="85.4" cy="187.4" r="0.56"/><circle cx="118.3" cy="152.7" r="0.55"/><circle cx="82.4" cy="184.9" r="0.60"/><circle cx="90.9" cy="190.3" r="0.56"/><circle cx="104.3" cy="208.2" r="0.72"/><circle cx="124.5" cy="160.1" r="0.63"/><circle cx="95.5" cy="148.4" r="0.52"/><circle cx="92.3" cy="165.5" r="0.65"/><circle cx="131.4" cy="202.4" r="0.37"/><circle cx="119.4" cy="185.1" r="0.37"/><circle cx="109.5" cy="182.5" r="0.40"/><circle cx="88.0" cy="160.2" r="0.74"/><circle cx="108.8" cy="145.3" r="0.73"/><circle cx="110.3" cy="185.1" r="0.72"/><circle cx="115.9" cy="202.3" r="0.65"/><circle cx="87.7" cy="173.3" r="0.48"/><circle cx="124.1" cy="188.2" r="0.59"/><circle cx="143.3" cy="176.5" r="0.66"/><circle cx="87.8" cy="204.8" r="0.47"/><circle cx="82.5" cy="159.7" r="0.62"/><circle cx="110.0" cy="183.2" r="0.54"/><circle cx="123.1" cy="152.9" r="0.65"/><circle cx="94.6" cy="193.0" r="0.69"/><circle cx="75.1" cy="182.6" r="0.43"/><circle cx="82.8" cy="173.2" r="0.49"/><circle cx="97.0" cy="190.3" r="0.59"/><circle cx="97.5" cy="176.2" r="0.73"/><circle cx="109.1" cy="209.3" r="0.52"/><circle cx="108.6" cy="168.2" r="0.60"/><circle cx="95.7" cy="175.0" r="0.59"/><circle cx="90.5" cy="197.5" r="0.47"/><circle cx="130.2" cy="179.0" r="0.48"/><circle cx="85.7" cy="185.4" r="0.42"/><circle cx="115.6" cy="200.4" r="0.48"/><circle cx="97.1" cy="196.3" r="0.73"/><circle cx="100.1" cy="195.7" r="0.61"/><circle cx="87.7" cy="177.1" r="0.61"/><circle cx="105.0" cy="171.0" r="0.39"/><circle cx="115.9" cy="163.1" r="0.75"/><circle cx="123.0" cy="204.4" r="0.53"/><circle cx="119.5" cy="163.8" r="0.44"/><circle cx="99.6" cy="167.6" r="0.60"/><circle cx="83.1" cy="182.8" r="0.73"/><circle cx="131.2" cy="170.2" r="0.51"/><circle cx="94.5" cy="197.6" r="0.64"/><circle cx="111.5" cy="209.3" r="0.56"/><circle cx="79.9" cy="179.0" r="0.61"/><circle cx="103.4" cy="152.7" r="0.49"/><circle cx="128.5" cy="182.3" r="0.71"/><circle cx="85.7" cy="198.9" r="0.74"/><circle cx="128.6" cy="206.2" r="0.68"/><circle cx="100.7" cy="200.0" r="0.45"/><circle cx="130.7" cy="186.4" r="0.37"/><circle cx="105.3" cy="190.4" r="0.41"/><circle cx="115.5" cy="168.8" r="0.50"/><circle cx="90.0" cy="164.9" r="0.72"/><circle cx="111.3" cy="192.4" r="0.69"/><circle cx="139.6" cy="165.5" r="0.56"/><circle cx="117.4" cy="198.8" r="0.71"/><circle cx="80.7" cy="169.6" r="0.67"/><circle cx="92.2" cy="175.6" r="0.71"/><circle cx="101.0" cy="171.6" r="0.42"/><circle cx="126.4" cy="152.4" r="0.61"/><circle cx="132.2" cy="182.4" r="0.55"/><circle cx="92.7" cy="191.5" r="0.38"/><circle cx="76.5" cy="174.7" r="0.57"/><circle cx="134.8" cy="160.0" r="0.57"/><circle cx="124.2" cy="158.3" r="0.50"/><circle cx="142.1" cy="184.3" r="0.67"/><circle cx="91.4" cy="161.8" r="0.75"/><circle cx="95.9" cy="188.2" r="0.67"/><circle cx="79.9" cy="174.8" r="0.66"/><circle cx="128.9" cy="158.4" r="0.61"/><circle cx="104.7" cy="199.7" r="0.38"/><circle cx="121.3" cy="182.5" r="0.74"/><circle cx="99.1" cy="171.5" r="0.40"/><circle cx="76.1" cy="172.3" r="0.42"/><circle cx="129.6" cy="155.0" r="0.74"/><circle cx="96.1" cy="188.7" r="0.61"/><circle cx="92.8" cy="171.5" r="0.63"/><circle cx="123.0" cy="152.4" r="0.65"/><circle cx="110.1" cy="160.8" r="0.52"/><circle cx="123.7" cy="181.2" r="0.60"/><circle cx="126.7" cy="190.9" r="0.55"/><circle cx="99.3" cy="199.2" r="0.58"/><circle cx="84.5" cy="174.6" r="0.74"/><circle cx="99.6" cy="210.8" r="0.70"/><circle cx="127.5" cy="171.8" r="0.37"/><circle cx="127.3" cy="171.2" r="0.61"/><circle cx="117.7" cy="207.3" r="0.40"/><circle cx="140.6" cy="193.0" r="0.42"/><circle cx="119.1" cy="158.6" r="0.62"/><circle cx="115.8" cy="145.2" r="0.52"/><circle cx="96.0" cy="209.6" r="0.37"/><circle cx="134.5" cy="156.2" r="0.61"/><circle cx="116.4" cy="202.3" r="0.44"/><circle cx="117.0" cy="184.3" r="0.54"/><circle cx="139.4" cy="165.7" r="0.56"/><circle cx="81.6" cy="185.0" r="0.66"/><circle cx="138.5" cy="176.5" r="0.69"/><circle cx="85.4" cy="163.9" r="0.42"/><circle cx="86.9" cy="187.0" r="0.41"/><circle cx="96.3" cy="187.5" r="0.42"/><circle cx="96.6" cy="203.5" r="0.75"/><circle cx="80.9" cy="176.3" r="0.52"/><circle cx="116.2" cy="200.0" r="0.74"/><circle cx="90.0" cy="152.4" r="0.61"/><circle cx="96.8" cy="175.9" r="0.42"/><circle cx="92.6" cy="169.0" r="0.42"/><circle cx="107.4" cy="162.7" r="0.54"/><circle cx="127.2" cy="206.9" r="0.39"/><circle cx="83.4" cy="158.1" r="0.63"/><circle cx="124.9" cy="200.1" r="0.74"/><circle cx="130.1" cy="166.1" r="0.41"/><circle cx="92.1" cy="173.8" r="0.45"/><circle cx="107.3" cy="211.4" r="0.38"/><circle cx="107.6" cy="193.2" r="0.73"/><circle cx="93.8" cy="150.8" r="0.52"/><circle cx="113.0" cy="173.1" r="0.40"/><circle cx="95.2" cy="185.5" r="0.69"/><circle cx="123.2" cy="185.0" r="0.71"/><circle cx="109.2" cy="176.2" r="0.41"/><circle cx="114.5" cy="197.6" r="0.53"/><circle cx="127.3" cy="151.2" r="0.56"/><circle cx="114.1" cy="188.5" r="0.47"/><circle cx="136.2" cy="163.7" r="0.36"/><circle cx="128.9" cy="174.3" r="0.41"/><circle cx="108.5" cy="189.1" r="0.71"/><circle cx="106.3" cy="161.8" r="0.40"/><circle cx="123.2" cy="203.9" r="0.59"/><circle cx="131.1" cy="158.6" r="0.52"/><circle cx="80.9" cy="198.4" r="0.73"/><circle cx="142.7" cy="179.0" r="0.39"/><circle cx="103.5" cy="162.2" r="0.70"/><circle cx="111.5" cy="161.8" r="0.54"/><circle cx="111.4" cy="180.4" r="0.35"/><circle cx="124.6" cy="172.5" r="0.62"/><circle cx="137.4" cy="163.1" r="0.51"/><circle cx="93.1" cy="155.4" r="0.63"/><circle cx="117.6" cy="172.5" r="0.41"/><circle cx="100.6" cy="157.9" r="0.65"/><circle cx="97.5" cy="208.5" r="0.47"/><circle cx="137.8" cy="187.9" r="0.70"/><circle cx="94.3" cy="191.5" r="0.48"/><circle cx="123.0" cy="205.3" r="0.40"/><circle cx="115.6" cy="185.8" r="0.60"/><circle cx="144.0" cy="180.6" r="0.53"/><circle cx="101.9" cy="198.5" r="0.49"/><circle cx="99.4" cy="184.6" r="0.46"/><circle cx="115.1" cy="185.7" r="0.72"/><circle cx="138.7" cy="176.2" r="0.68"/><circle cx="113.8" cy="208.8" r="0.39"/><circle cx="95.7" cy="147.7" r="0.64"/><circle cx="112.9" cy="166.6" r="0.56"/><circle cx="112.0" cy="189.3" r="0.74"/><circle cx="132.5" cy="194.1" r="0.38"/><circle cx="91.5" cy="203.4" r="0.54"/><circle cx="115.1" cy="190.9" r="0.55"/><circle cx="118.4" cy="200.2" r="0.41"/><circle cx="127.0" cy="194.4" r="0.37"/><circle cx="132.2" cy="186.9" r="0.64"/><circle cx="101.1" cy="150.1" r="0.73"/><circle cx="97.0" cy="186.0" r="0.52"/><circle cx="115.4" cy="172.1" r="0.37"/><circle cx="94.0" cy="148.6" r="0.74"/><circle cx="116.2" cy="174.0" r="0.74"/><circle cx="82.7" cy="164.5" r="0.61"/><circle cx="124.0" cy="160.1" r="0.58"/><circle cx="88.3" cy="193.7" r="0.60"/><circle cx="134.2" cy="169.5" r="0.66"/><circle cx="105.8" cy="159.7" r="0.44"/><circle cx="85.7" cy="175.4" r="0.64"/><circle cx="115.2" cy="186.7" r="0.42"/><circle cx="122.6" cy="203.3" r="0.57"/><circle cx="80.2" cy="193.6" r="0.44"/><circle cx="86.7" cy="193.5" r="0.52"/><circle cx="103.5" cy="165.9" r="0.49"/><circle cx="75.1" cy="180.1" r="0.62"/><circle cx="142.7" cy="175.9" r="0.36"/><circle cx="136.1" cy="199.5" r="0.73"/><circle cx="108.2" cy="210.1" r="0.64"/><circle cx="84.6" cy="187.0" r="0.60"/><circle cx="96.6" cy="159.7" r="0.63"/><circle cx="107.8" cy="177.3" r="0.63"/><circle cx="78.0" cy="172.1" r="0.57"/><circle cx="113.9" cy="191.8" r="0.71"/><circle cx="116.5" cy="174.2" r="0.40"/><circle cx="94.0" cy="164.3" r="0.36"/><circle cx="116.4" cy="157.2" r="0.50"/><circle cx="123.0" cy="184.6" r="0.73"/><circle cx="104.1" cy="169.5" r="0.61"/><circle cx="92.3" cy="172.8" r="0.62"/><circle cx="110.0" cy="195.1" r="0.72"/><circle cx="93.7" cy="180.4" r="0.53"/><circle cx="128.6" cy="155.4" r="0.66"/><circle cx="82.9" cy="172.4" r="0.39"/><circle cx="85.5" cy="190.0" r="0.65"/><circle cx="124.8" cy="194.1" r="0.50"/><circle cx="77.9" cy="180.0" r="0.62"/><circle cx="111.0" cy="187.4" r="0.46"/><circle cx="127.2" cy="195.7" r="0.73"/><circle cx="129.5" cy="179.4" r="0.45"/><circle cx="91.1" cy="162.9" r="0.68"/><circle cx="119.5" cy="177.4" r="0.69"/><circle cx="94.5" cy="159.4" r="0.47"/><circle cx="122.9" cy="180.2" r="0.73"/><circle cx="78.6" cy="190.2" r="0.59"/><circle cx="100.5" cy="157.1" r="0.39"/><circle cx="123.2" cy="206.2" r="0.59"/><circle cx="125.3" cy="156.9" r="0.60"/><circle cx="115.4" cy="165.9" r="0.50"/><circle cx="117.6" cy="154.5" r="0.74"/><circle cx="98.7" cy="182.4" r="0.48"/><circle cx="83.9" cy="198.4" r="0.71"/><circle cx="82.5" cy="194.3" r="0.66"/><circle cx="130.7" cy="198.5" r="0.47"/><circle cx="115.8" cy="168.2" r="0.51"/><circle cx="105.6" cy="160.7" r="0.74"/><circle cx="104.8" cy="167.1" r="0.44"/><circle cx="108.7" cy="148.4" r="0.66"/><circle cx="128.5" cy="197.8" r="0.69"/><circle cx="99.4" cy="173.7" r="0.73"/><circle cx="91.7" cy="181.5" r="0.62"/><circle cx="97.1" cy="204.3" r="0.52"/><circle cx="102.5" cy="147.2" r="0.42"/><circle cx="126.6" cy="156.4" r="0.59"/><circle cx="106.4" cy="212.0" r="0.47"/><circle cx="108.1" cy="211.6" r="0.40"/><circle cx="119.4" cy="170.3" r="0.68"/><circle cx="108.7" cy="163.9" r="0.43"/><circle cx="136.8" cy="181.1" r="0.58"/><circle cx="79.4" cy="178.4" r="0.60"/><circle cx="98.0" cy="182.4" r="0.66"/><circle cx="108.7" cy="158.1" r="0.59"/><circle cx="107.3" cy="148.2" r="0.47"/><circle cx="122.3" cy="150.6" r="0.52"/><circle cx="84.2" cy="194.4" r="0.58"/><circle cx="90.3" cy="184.0" r="0.47"/><circle cx="84.6" cy="157.9" r="0.60"/><circle cx="85.0" cy="184.9" r="0.42"/><circle cx="83.2" cy="188.6" r="0.49"/><circle cx="126.4" cy="197.5" r="0.61"/><circle cx="89.0" cy="202.1" r="0.41"/><circle cx="84.6" cy="156.0" r="0.48"/><circle cx="100.2" cy="174.7" r="0.44"/><circle cx="102.7" cy="147.1" r="0.46"/><circle cx="128.4" cy="190.8" r="0.44"/><circle cx="128.7" cy="161.9" r="0.52"/><circle cx="108.2" cy="213.3" r="0.39"/><circle cx="86.6" cy="201.4" r="0.46"/><circle cx="91.8" cy="164.3" r="0.44"/><circle cx="100.2" cy="172.8" r="0.61"/><circle cx="123.4" cy="201.2" r="0.69"/><circle cx="87.5" cy="173.4" r="0.70"/><circle cx="96.8" cy="179.6" r="0.52"/><circle cx="113.8" cy="206.7" r="0.45"/><circle cx="94.1" cy="173.4" r="0.47"/><circle cx="132.5" cy="155.1" r="0.64"/><circle cx="119.5" cy="159.6" r="0.58"/><circle cx="139.0" cy="170.7" r="0.40"/><circle cx="134.4" cy="162.1" r="0.51"/><circle cx="129.4" cy="183.3" r="0.71"/><circle cx="125.3" cy="180.1" r="0.39"/><circle cx="99.3" cy="156.6" r="0.71"/><circle cx="132.2" cy="196.2" r="0.72"/><circle cx="120.9" cy="149.0" r="0.71"/><circle cx="96.7" cy="150.3" r="0.66"/><circle cx="114.7" cy="179.0" r="0.35"/><circle cx="89.0" cy="169.7" r="0.55"/><circle cx="89.3" cy="178.3" r="0.48"/><circle cx="137.2" cy="184.6" r="0.49"/><circle cx="82.5" cy="186.8" r="0.36"/><circle cx="130.6" cy="169.0" r="0.56"/><circle cx="87.5" cy="199.2" r="0.74"/><circle cx="118.9" cy="155.9" r="0.60"/><circle cx="85.1" cy="198.9" r="0.72"/><circle cx="137.2" cy="158.7" r="0.71"/><circle cx="98.4" cy="197.1" r="0.71"/><circle cx="83.0" cy="162.2" r="0.57"/><circle cx="106.0" cy="177.9" r="0.37"/><circle cx="113.7" cy="204.1" r="0.59"/><circle cx="103.0" cy="191.5" r="0.66"/><circle cx="127.2" cy="198.9" r="0.74"/><circle cx="105.1" cy="182.0" r="0.64"/><circle cx="94.3" cy="157.7" r="0.71"/><circle cx="98.8" cy="178.7" r="0.45"/><circle cx="83.3" cy="185.2" r="0.60"/><circle cx="78.4" cy="179.0" r="0.52"/><circle cx="122.2" cy="201.8" r="0.72"/><circle cx="87.8" cy="179.5" r="0.69"/><circle cx="141.2" cy="178.8" r="0.63"/><circle cx="86.6" cy="190.1" r="0.66"/><circle cx="136.8" cy="181.1" r="0.58"/><circle cx="91.6" cy="201.3" r="0.68"/><circle cx="132.0" cy="159.7" r="0.47"/><circle cx="83.3" cy="168.7" r="0.49"/><circle cx="125.6" cy="189.3" r="0.68"/><circle cx="99.1" cy="194.3" r="0.45"/><circle cx="83.6" cy="180.2" r="0.70"/><circle cx="104.1" cy="187.5" r="0.68"/><circle cx="138.0" cy="191.4" r="0.53"/><circle cx="143.8" cy="174.8" r="0.48"/><circle cx="94.9" cy="205.5" r="0.38"/><circle cx="132.7" cy="202.6" r="0.75"/><circle cx="123.5" cy="160.7" r="0.54"/><circle cx="108.8" cy="146.4" r="0.42"/><circle cx="112.1" cy="184.0" r="0.59"/><circle cx="119.8" cy="184.4" r="0.50"/><circle cx="106.7" cy="186.8" r="0.60"/><circle cx="113.7" cy="163.3" r="0.45"/><circle cx="92.2" cy="191.2" r="0.69"/><circle cx="112.3" cy="172.3" r="0.39"/><circle cx="77.4" cy="167.6" r="0.65"/><circle cx="97.5" cy="157.5" r="0.62"/><circle cx="114.1" cy="191.7" r="0.71"/><circle cx="110.2" cy="195.5" r="0.37"/><circle cx="116.4" cy="150.8" r="0.36"/><circle cx="133.7" cy="200.6" r="0.55"/><circle cx="109.1" cy="204.2" r="0.48"/><circle cx="114.5" cy="155.5" r="0.45"/><circle cx="126.1" cy="176.8" r="0.46"/><circle cx="119.6" cy="174.6" r="0.72"/><circle cx="93.7" cy="176.4" r="0.70"/><circle cx="98.9" cy="195.8" r="0.35"/><circle cx="99.7" cy="171.5" r="0.55"/><circle cx="79.1" cy="190.1" r="0.46"/><circle cx="123.4" cy="196.1" r="0.54"/><circle cx="121.1" cy="205.8" r="0.58"/><circle cx="98.1" cy="146.6" r="0.48"/><circle cx="131.0" cy="197.1" r="0.39"/><circle cx="101.2" cy="149.2" r="0.60"/><circle cx="94.1" cy="200.3" r="0.68"/><circle cx="120.8" cy="157.1" r="0.64"/><circle cx="117.5" cy="160.9" r="0.49"/><circle cx="124.5" cy="156.6" r="0.73"/><circle cx="118.0" cy="205.3" r="0.41"/><circle cx="98.3" cy="208.9" r="0.41"/><circle cx="86.6" cy="192.4" r="0.65"/><circle cx="94.8" cy="178.2" r="0.73"/><circle cx="98.5" cy="188.6" r="0.51"/><circle cx="117.2" cy="189.1" r="0.48"/><circle cx="126.3" cy="198.8" r="0.60"/><circle cx="102.9" cy="199.5" r="0.69"/><circle cx="81.4" cy="189.4" r="0.45"/><circle cx="94.7" cy="159.4" r="0.65"/><circle cx="137.7" cy="179.5" r="0.41"/><circle cx="76.3" cy="169.3" r="0.56"/><circle cx="112.2" cy="167.9" r="0.68"/><circle cx="106.9" cy="198.5" r="0.38"/><circle cx="90.4" cy="177.8" r="0.53"/><circle cx="112.1" cy="181.2" r="0.44"/><circle cx="140.4" cy="172.3" r="0.69"/><circle cx="93.7" cy="197.8" r="0.71"/><circle cx="91.2" cy="155.3" r="0.63"/><circle cx="76.3" cy="173.8" r="0.45"/><circle cx="136.5" cy="166.7" r="0.44"/><circle cx="111.2" cy="157.8" r="0.67"/><circle cx="112.3" cy="171.9" r="0.45"/><circle cx="121.3" cy="183.0" r="0.53"/><circle cx="118.6" cy="200.8" r="0.64"/><circle cx="123.0" cy="172.8" r="0.75"/><circle cx="129.3" cy="182.1" r="0.38"/><circle cx="94.0" cy="199.4" r="0.66"/><circle cx="108.5" cy="201.5" r="0.41"/><circle cx="112.6" cy="144.9" r="0.62"/><circle cx="94.2" cy="185.0" r="0.65"/><circle cx="104.6" cy="206.8" r="0.49"/><circle cx="139.0" cy="189.7" r="0.61"/><circle cx="80.5" cy="176.3" r="0.57"/><circle cx="94.5" cy="209.1" r="0.65"/><circle cx="107.4" cy="149.9" r="0.38"/><circle cx="89.0" cy="199.7" r="0.40"/><circle cx="106.3" cy="212.2" r="0.54"/><circle cx="124.2" cy="191.8" r="0.47"/><circle cx="92.0" cy="158.5" r="0.65"/><circle cx="107.5" cy="192.7" r="0.68"/><circle cx="107.7" cy="154.2" r="0.53"/><circle cx="131.5" cy="183.9" r="0.69"/><circle cx="102.3" cy="147.1" r="0.44"/><circle cx="97.8" cy="154.4" r="0.46"/><circle cx="125.9" cy="165.7" r="0.46"/><circle cx="135.5" cy="187.2" r="0.36"/><circle cx="107.1" cy="186.1" r="0.72"/><circle cx="83.3" cy="181.9" r="0.41"/><circle cx="127.3" cy="198.1" r="0.38"/><circle cx="108.6" cy="199.3" r="0.66"/><circle cx="92.9" cy="159.2" r="0.46"/><circle cx="125.9" cy="193.6" r="0.46"/><circle cx="92.8" cy="149.0" r="0.48"/><circle cx="132.8" cy="164.7" r="0.67"/><circle cx="123.5" cy="200.2" r="0.37"/><circle cx="113.4" cy="171.0" r="0.66"/><circle cx="104.6" cy="150.7" r="0.41"/><circle cx="135.9" cy="180.8" r="0.36"/><circle cx="136.8" cy="180.6" r="0.52"/><circle cx="123.6" cy="164.2" r="0.49"/><circle cx="102.8" cy="165.1" r="0.41"/><circle cx="139.8" cy="163.2" r="0.75"/><circle cx="121.0" cy="204.1" r="0.43"/><circle cx="82.3" cy="190.3" r="0.63"/><circle cx="95.1" cy="172.6" r="0.69"/><circle cx="118.9" cy="163.2" r="0.41"/><circle cx="136.9" cy="186.6" r="0.45"/><circle cx="112.5" cy="188.1" r="0.56"/><circle cx="121.6" cy="150.5" r="0.72"/><circle cx="125.4" cy="172.7" r="0.52"/><circle cx="104.6" cy="151.4" r="0.46"/><circle cx="92.6" cy="186.5" r="0.49"/><circle cx="129.3" cy="157.2" r="0.61"/><circle cx="111.8" cy="172.0" r="0.66"/><circle cx="122.5" cy="211.2" r="0.72"/><circle cx="88.9" cy="171.9" r="0.43"/><circle cx="94.2" cy="187.5" r="0.58"/><circle cx="92.9" cy="173.5" r="0.52"/><circle cx="99.7" cy="166.3" r="0.48"/><circle cx="109.9" cy="185.9" r="0.52"/><circle cx="134.3" cy="190.7" r="0.71"/><circle cx="118.7" cy="176.1" r="0.36"/><circle cx="99.6" cy="195.8" r="0.62"/><circle cx="112.2" cy="189.3" r="0.68"/><circle cx="140.7" cy="190.8" r="0.39"/><circle cx="96.4" cy="194.8" r="0.62"/><circle cx="87.2" cy="154.1" r="0.48"/><circle cx="124.5" cy="185.6" r="0.38"/><circle cx="130.8" cy="155.1" r="0.50"/><circle cx="120.1" cy="166.9" r="0.44"/><circle cx="126.3" cy="165.0" r="0.36"/><circle cx="116.0" cy="198.9" r="0.53"/></g><g fill="#5a5a5a"><path d="M152.7 176.7L150.9 176.1L149.1 177.4L147.3 177.6L145.5 178.0L143.6 178.1L141.8 178.0L140.0 178.6L141.9 179.8L143.7 179.0L145.5 179.5L147.3 180.0L149.2 179.2L151.0 179.4L152.8 179.8Z"/><path d="M152.6 183.4L151.4 183.8L150.4 182.7L149.2 182.7L148.1 182.5L146.8 183.6L145.6 183.2L144.4 183.6L145.5 184.7L146.6 185.2L147.7 185.4L148.9 185.6L150.0 186.0L151.1 186.4L152.3 185.8Z"/><path d="M151.9 188.0L150.4 187.6L148.7 187.9L147.4 186.6L145.8 186.6L144.3 186.3L142.7 186.2L140.9 186.7L142.4 187.5L144.0 187.6L145.3 188.7L146.6 189.9L148.2 190.2L149.9 189.9L151.4 190.4Z"/><path d="M151.2 190.9L149.8 190.8L148.7 190.0L147.1 190.6L145.8 190.2L144.5 190.0L143.2 189.7L141.8 189.5L142.8 190.7L144.2 190.8L145.5 191.2L146.6 192.1L147.9 192.6L149.1 193.2L150.4 193.6Z"/><path d="M148.4 198.4L147.4 197.0L145.3 197.6L144.4 196.0L142.5 196.5L141.6 194.9L140.1 194.4L138.2 194.7L139.4 195.7L140.2 197.5L141.8 197.7L142.9 199.0L144.0 200.1L145.8 199.9L146.9 201.3Z"/><path d="M146.2 202.3L144.7 201.9L143.7 200.6L142.0 200.4L141.0 199.2L139.4 198.8L138.0 198.2L136.5 197.7L137.6 198.8L138.3 200.4L139.6 201.2L140.7 202.3L141.8 203.4L142.7 204.8L144.4 205.0Z"/><path d="M144.8 204.3L143.2 203.5L142.1 202.0L140.4 201.1L138.8 200.3L137.0 199.5L136.3 197.5L134.0 197.5L135.3 198.8L136.8 199.9L138.1 201.2L139.7 202.0L140.7 203.8L142.5 204.4L143.6 206.0Z"/><path d="M141.8 208.2L140.3 207.7L139.5 206.5L137.9 206.1L137.3 204.7L136.2 203.8L135.3 202.8L133.6 202.5L134.4 203.7L135.1 205.0L135.4 206.7L137.0 207.0L137.3 208.7L138.7 209.4L139.7 210.4Z"/><path d="M139.4 210.7L138.6 209.1L137.3 208.1L135.5 207.5L134.4 206.3L133.1 205.3L131.9 204.1L130.5 203.2L131.4 204.6L132.3 206.0L133.2 207.4L133.6 209.2L134.2 210.8L135.9 211.6L136.7 213.0Z"/><path d="M134.3 214.8L133.8 213.7L133.2 212.6L132.0 211.9L130.9 211.1L130.2 210.1L130.0 208.8L128.3 208.5L128.8 209.6L129.4 210.7L129.6 212.0L129.8 213.4L130.8 214.2L131.5 215.2L131.5 216.6Z"/><path d="M128.1 218.4L127.5 217.2L126.4 216.2L126.2 214.8L126.4 213.2L125.0 212.4L124.7 211.0L123.2 210.2L123.5 211.5L124.1 212.8L124.6 214.0L123.9 215.8L125.1 216.8L126.0 217.9L125.9 219.4Z"/><path d="M123.2 220.4L122.0 219.0L122.8 217.0L121.5 215.6L120.7 214.1L119.9 212.6L120.0 210.8L118.7 209.4L118.0 211.4L118.7 212.9L119.0 214.6L120.1 216.1L120.8 217.6L121.0 219.3L121.2 221.0Z"/><path d="M120.4 221.2L120.1 219.2L119.9 217.1L118.1 215.4L118.2 213.3L117.6 211.3L117.7 209.2L115.9 207.4L116.1 209.5L116.4 211.6L115.8 213.8L117.2 215.6L116.3 217.9L117.0 219.9L117.7 221.8Z"/><path d="M117.0 221.9L117.4 220.7L117.0 219.5L117.2 218.3L116.0 217.3L116.4 216.0L115.2 215.0L114.8 213.8L114.1 215.1L114.3 216.3L114.5 217.5L114.2 218.8L114.2 220.0L115.5 221.0L115.2 222.2Z"/><path d="M113.1 222.5L113.0 221.0L113.2 219.6L111.6 218.2L111.8 216.7L112.6 215.2L112.2 213.8L110.8 212.4L109.5 213.9L110.3 215.3L110.0 216.8L110.4 218.2L109.5 219.7L109.6 221.2L109.3 222.6Z"/><path d="M106.7 222.5L106.9 220.4L106.9 218.3L107.0 216.1L106.8 214.0L106.5 211.8L106.5 209.6L106.6 207.5L105.1 209.5L105.1 211.6L104.8 213.8L104.9 215.9L103.3 217.9L103.9 220.1L103.4 222.2Z"/><path d="M102.7 222.1L102.7 220.8L103.0 219.6L103.7 218.5L103.6 217.2L103.1 215.8L102.9 214.5L102.9 213.2L101.4 214.2L100.8 215.4L100.9 216.7L101.2 218.0L100.3 219.1L99.3 220.2L99.8 221.5Z"/><path d="M97.7 221.0L97.6 218.9L99.5 217.4L99.3 215.2L99.4 213.2L99.8 211.2L101.1 209.6L100.8 207.4L99.9 209.2L99.1 211.0L98.2 212.8L97.4 214.7L97.2 216.7L96.1 218.4L95.7 220.3Z"/><path d="M93.3 219.5L93.7 218.4L94.5 217.4L95.1 216.4L95.2 215.1L95.3 213.9L95.6 212.7L95.2 211.2L94.0 211.9L93.1 212.9L92.3 213.8L91.5 214.7L92.1 216.3L90.2 216.8L90.3 218.2Z"/><path d="M88.8 217.3L89.6 216.4L90.1 215.2L90.4 213.9L91.4 213.0L91.8 211.7L92.0 210.3L91.9 208.8L90.8 209.7L89.9 210.6L89.2 211.7L87.8 212.3L87.2 213.5L87.2 214.9L86.0 215.7Z"/><path d="M82.5 213.2L83.3 211.8L84.9 211.1L85.1 209.2L86.1 207.9L87.4 206.9L88.5 205.8L88.4 203.6L86.8 204.3L85.2 205.0L84.4 206.5L83.7 207.9L81.7 208.3L80.5 209.3L79.7 210.7Z"/><path d="M80.3 211.3L81.1 209.7L82.2 208.4L83.4 207.2L84.4 205.7L85.5 204.5L87.4 203.9L87.5 201.7L86.2 202.7L84.9 203.8L82.6 204.0L81.3 205.1L80.7 206.9L79.5 208.1L78.0 209.0Z"/><path d="M77.3 208.3L78.3 207.4L78.9 206.2L80.4 206.0L80.8 204.5L82.4 204.4L83.1 203.2L83.5 201.8L81.9 202.0L81.0 202.8L80.0 203.6L79.5 204.9L78.5 205.8L77.3 206.3L76.1 206.9Z"/><path d="M72.7 202.1L74.1 200.6L76.2 200.1L78.0 199.4L79.6 198.2L81.0 196.6L82.6 195.3L84.2 194.2L82.2 194.6L80.7 196.0L78.7 196.6L77.1 197.9L75.1 198.3L73.2 199.0L71.6 200.3Z"/><path d="M70.9 198.9L72.9 198.5L74.7 197.4L76.6 196.7L78.0 194.8L79.7 193.7L81.6 192.8L83.3 191.7L81.3 192.2L79.5 193.1L77.2 193.1L75.2 193.6L73.8 195.6L72.0 196.5L69.9 196.8Z"/><path d="M69.8 196.6L71.5 195.8L73.0 194.7L74.7 194.1L76.7 194.0L77.9 192.0L80.0 192.2L81.3 190.5L79.3 190.6L77.3 190.6L76.0 192.2L74.3 192.9L72.3 192.9L70.3 192.8L68.7 193.8Z"/><path d="M67.6 190.1L68.9 190.0L69.9 189.0L71.2 188.6L72.6 189.2L73.6 188.0L75.0 188.1L76.1 187.2L74.7 186.8L73.4 186.8L72.1 187.0L71.0 187.8L69.5 187.1L68.5 188.4L67.2 188.4Z"/><path d="M66.4 183.7L68.4 184.1L70.3 183.4L72.2 183.2L74.1 181.9L76.0 182.1L77.9 181.7L79.9 181.3L77.9 180.7L75.9 180.9L73.9 180.2L72.0 180.9L70.0 180.1L68.1 180.6L66.2 180.7Z"/><path d="M66.2 181.2L68.2 181.4L70.2 181.0L72.1 181.3L74.1 181.1L76.1 180.6L78.1 179.8L80.0 179.6L78.1 179.4L76.1 178.7L74.1 178.0L72.1 178.1L70.1 178.3L68.2 177.7L66.2 178.2Z"/><path d="M66.3 176.5L68.0 176.0L69.5 177.1L71.1 177.2L72.8 177.0L74.5 176.7L76.2 176.3L77.9 175.9L76.4 174.5L74.6 175.4L73.1 174.4L71.4 174.4L69.9 173.6L68.2 173.3L66.6 172.9Z"/><path d="M67.2 170.0L69.0 169.7L70.6 170.6L72.2 171.2L73.8 171.9L75.4 172.3L77.1 172.5L79.1 171.6L77.6 170.5L75.8 170.6L74.2 170.1L72.7 169.0L71.2 167.9L69.6 167.4L67.8 167.4Z"/><path d="M68.1 166.5L70.0 167.3L71.9 168.3L74.2 167.9L76.1 168.7L77.9 169.9L80.3 169.5L82.3 169.9L80.7 168.2L78.6 167.9L77.0 166.3L74.6 166.8L73.0 165.1L70.8 165.2L69.0 163.9Z"/><path d="M69.4 163.0L70.7 164.5L72.6 164.8L75.0 164.3L76.5 165.3L77.9 166.9L80.0 166.8L81.9 167.0L80.5 165.5L78.9 164.5L77.3 163.6L75.6 162.8L74.0 161.7L72.0 161.6L70.5 160.4Z"/><path d="M71.8 158.1L72.9 159.3L74.5 159.7L75.9 160.5L77.7 160.7L78.7 162.2L80.2 162.8L82.0 162.9L81.3 161.0L79.9 160.2L78.3 159.6L76.5 159.5L75.3 158.4L73.9 157.7L72.8 156.3Z"/><path d="M73.8 154.8L75.5 155.4L77.0 156.4L78.0 158.1L79.7 158.7L81.1 159.8L83.1 160.0L84.7 160.9L83.8 159.2L82.3 158.1L80.6 157.5L79.9 155.4L78.4 154.5L76.7 153.8L75.6 152.3Z"/><path d="M77.2 150.5L77.9 151.8L79.4 152.3L80.3 153.5L82.0 153.9L82.9 155.0L84.3 155.6L85.5 156.5L84.9 155.0L83.6 154.3L83.2 152.5L82.4 151.3L80.8 150.9L79.7 149.9L79.0 148.5Z"/><path d="M82.8 145.2L83.4 146.9L85.0 147.9L86.1 149.3L87.5 150.4L87.8 152.4L89.7 153.1L90.9 154.4L90.7 152.3L89.2 151.3L87.9 150.1L87.6 148.1L86.0 147.1L85.5 145.3L84.3 144.1Z"/><path d="M83.8 144.4L84.4 145.9L86.1 146.5L86.1 148.3L87.3 149.3L88.3 150.5L89.8 151.2L91.0 152.3L91.0 150.4L90.6 148.9L89.3 148.0L88.6 146.6L88.0 145.2L87.8 143.5L86.3 142.7Z"/><path d="M88.6 141.3L89.0 143.4L90.4 145.0L92.2 146.4L93.4 148.0L93.6 150.2L94.5 152.0L96.5 153.3L96.1 151.2L95.1 149.4L94.9 147.3L94.1 145.4L93.9 143.2L93.1 141.4L91.6 139.8Z"/><path d="M92.6 139.4L93.2 140.6L94.0 141.7L94.3 143.0L95.1 144.2L95.4 145.5L96.7 146.4L97.3 147.6L97.6 146.1L96.7 145.0L96.1 143.8L96.8 142.1L96.9 140.6L95.2 139.8L95.3 138.4Z"/><path d="M98.8 137.3L99.8 138.3L99.8 139.5L99.5 140.7L100.5 141.7L101.4 142.6L101.8 143.7L102.3 144.8L102.2 143.7L103.5 142.2L103.4 141.1L103.1 139.9L103.2 138.7L102.1 137.8L102.4 136.5Z"/><path d="M104.2 136.3L104.7 138.2L104.6 140.1L105.7 141.9L106.1 143.8L106.0 145.7L105.5 147.7L106.9 149.5L108.0 147.5L108.1 145.6L107.0 143.7L108.3 141.7L107.0 139.9L108.1 137.9L107.3 136.0Z"/><path d="M108.4 136.0L108.9 137.1L107.8 138.3L108.4 139.4L109.6 140.6L109.2 141.8L109.2 142.9L110.0 144.1L110.2 142.9L110.5 141.8L111.7 140.6L110.9 139.5L110.8 138.3L112.5 137.2L111.7 136.0Z"/><path d="M112.3 136.1L112.7 137.9L112.7 139.7L112.4 141.5L112.8 143.3L112.3 145.1L112.2 146.9L112.7 148.7L113.1 147.0L113.5 145.2L114.7 143.5L114.3 141.7L114.7 139.9L116.3 138.3L115.8 136.4Z"/><path d="M118.6 136.9L118.1 139.0L117.9 141.1L117.8 143.3L116.6 145.1L117.2 147.4L115.7 149.3L116.4 151.6L117.2 149.6L117.6 147.5L118.8 145.7L119.1 143.6L120.0 141.6L120.6 139.6L121.2 137.6Z"/><path d="M123.7 138.4L123.3 140.1L122.7 141.8L121.4 143.1L122.1 145.3L120.5 146.6L120.2 148.3L120.7 150.4L121.5 148.8L123.2 147.6L124.2 146.1L123.7 144.0L125.2 142.7L126.1 141.2L126.6 139.5Z"/><path d="M127.6 139.9L127.1 141.1L126.6 142.2L126.1 143.4L125.9 144.7L125.6 146.0L125.4 147.3L125.1 148.6L126.8 148.1L126.6 146.5L127.8 145.7L129.2 145.0L128.9 143.5L130.1 142.6L130.7 141.5Z"/><path d="M133.2 143.1L132.5 144.4L131.9 145.8L131.1 147.1L130.5 148.6L129.1 149.4L128.9 151.1L128.2 152.5L129.2 151.3L131.1 150.8L131.1 149.0L131.9 147.7L133.0 146.6L134.9 146.1L135.2 144.4Z"/><path d="M136.0 145.1L135.1 145.8L134.7 147.0L134.4 148.3L133.7 149.2L132.9 150.1L132.2 151.0L131.6 152.1L132.6 151.4L134.0 151.0L134.1 149.5L134.9 148.7L136.0 148.0L136.9 147.3L137.6 146.3Z"/><path d="M137.9 146.6L136.4 147.0L136.4 148.8L135.5 149.8L134.7 151.0L134.0 152.1L133.1 153.2L132.7 154.6L133.8 153.8L135.5 153.5L136.4 152.5L136.8 151.0L138.4 150.7L140.0 150.4L140.3 148.8Z"/><path d="M143.7 152.7L141.9 153.1L140.9 154.7L139.3 155.4L138.4 157.1L136.8 157.8L135.7 159.2L134.7 160.8L136.8 160.7L138.2 159.7L139.2 158.2L141.1 157.8L142.3 156.5L143.7 155.7L145.1 154.6Z"/><path d="M145.6 155.3L144.4 156.4L142.6 156.4L142.1 158.6L140.6 159.0L138.9 159.4L138.2 161.1L137.0 162.1L138.5 161.7L140.2 161.5L141.7 160.8L142.5 159.3L144.2 159.1L145.3 157.8L146.9 157.4Z"/><path d="M148.7 160.9L147.6 162.1L145.9 162.2L144.3 162.2L143.4 164.0L141.7 163.9L140.7 165.4L139.5 166.5L141.2 166.6L142.4 165.5L144.3 166.2L145.7 165.6L147.3 165.4L148.5 164.3L149.9 163.7Z"/><path d="M149.5 162.6L148.4 163.5L147.2 164.5L145.5 163.7L144.7 165.7L143.0 165.1L142.2 166.8L141.0 167.6L142.4 167.4L143.9 167.5L145.5 167.8L146.4 166.1L148.0 166.5L149.4 166.4L150.7 165.8Z"/><path d="M151.7 169.3L149.9 169.3L148.3 170.3L146.5 169.9L144.9 170.7L143.3 171.6L141.8 172.5L140.1 173.1L142.0 173.6L143.5 172.6L145.5 173.6L147.1 172.7L148.9 173.2L150.4 171.7L152.2 172.0Z"/><path d="M152.3 172.8L150.6 172.2L149.0 173.0L147.4 173.8L145.7 173.8L144.1 174.6L142.5 174.9L140.9 175.3L142.7 176.2L144.2 175.0L145.9 175.1L147.5 174.8L149.3 175.3L150.9 174.7L152.6 174.7Z"/></g><g fill="#5e5e5e"><path d="M152.7 176.2L150.9 176.9L149.0 176.9L147.1 176.5L145.3 177.0L143.4 177.7L145.3 178.1L147.2 178.0L149.1 178.7L150.9 178.4L152.8 178.3Z"/><path d="M151.8 188.8L150.4 188.5L149.0 188.0L147.5 188.2L146.2 187.5L144.6 187.9L145.9 188.8L147.1 189.6L148.7 189.1L149.8 190.6L151.4 190.4Z"/><path d="M147.0 200.9L145.6 200.1L143.9 199.5L142.4 198.7L141.2 197.5L139.4 197.2L140.5 198.8L142.2 199.1L143.4 200.5L145.0 201.1L146.3 202.1Z"/><path d="M141.5 208.5L139.9 207.5L138.4 206.4L136.9 205.3L135.9 203.7L134.0 202.9L134.8 204.8L136.5 205.6L137.5 207.4L138.3 209.1L140.0 210.1Z"/><path d="M133.4 215.4L132.8 214.2L132.0 213.1L131.4 212.0L130.3 211.1L129.0 210.3L129.0 211.9L129.8 213.0L130.9 213.9L131.4 215.1L131.8 216.4Z"/><path d="M122.7 220.5L122.8 219.3L122.2 218.2L121.2 217.2L121.0 216.0L120.1 215.1L119.6 216.5L119.9 217.6L120.2 218.8L120.1 220.1L120.9 221.1Z"/><path d="M109.4 222.6L109.1 221.1L109.6 219.6L108.7 218.1L108.9 216.6L108.6 215.1L108.0 216.6L108.2 218.1L107.4 219.6L107.7 221.1L107.4 222.6Z"/><path d="M100.0 221.6L100.2 220.2L101.0 219.0L100.7 217.5L101.2 216.2L100.6 214.6L99.4 215.7L99.6 217.2L98.9 218.4L98.2 219.7L97.8 221.0Z"/><path d="M89.5 217.7L90.6 216.5L90.8 214.7L91.6 213.3L92.8 212.1L92.7 210.2L91.8 211.5L90.6 212.8L89.4 213.9L88.9 215.6L88.2 217.0Z"/><path d="M79.6 210.6L81.2 209.6L82.6 208.2L83.8 206.7L84.5 204.8L85.7 203.3L84.2 204.5L82.7 205.6L81.1 206.8L79.7 208.0L78.4 209.5Z"/><path d="M72.5 201.7L73.8 200.8L75.2 200.0L76.6 199.2L77.7 197.9L79.0 196.9L77.3 197.2L76.1 198.4L74.3 198.5L73.1 199.6L71.6 200.2Z"/><path d="M67.9 191.5L69.1 190.6L70.5 191.1L71.5 189.8L72.8 189.8L73.9 188.9L72.6 189.0L71.2 188.7L70.0 189.3L68.7 189.3L67.4 189.6Z"/><path d="M66.2 181.1L67.2 181.4L68.2 181.3L69.2 181.1L70.2 180.5L71.2 180.3L70.2 179.5L69.2 180.0L68.2 179.2L67.2 179.8L66.2 179.7Z"/><path d="M67.1 170.3L68.3 170.3L69.5 170.3L70.6 170.5L71.7 170.7L72.9 170.8L71.9 170.2L70.9 169.2L69.6 169.8L68.6 169.1L67.5 168.6Z"/><path d="M71.7 158.1L72.8 159.3L74.6 159.4L76.1 160.0L77.4 160.8L79.0 161.1L78.0 159.9L76.5 159.2L75.5 157.8L74.3 156.9L72.9 156.2Z"/><path d="M77.5 150.1L78.9 150.7L79.7 152.0L81.1 152.6L82.2 153.6L83.4 154.5L82.9 152.9L81.5 152.2L80.7 150.9L80.1 149.5L78.7 148.9Z"/><path d="M87.5 142.0L88.3 143.3L88.6 144.8L89.8 145.8L91.1 146.8L92.1 148.0L91.5 146.6L91.1 145.2L90.2 143.9L90.0 142.3L89.3 141.0Z"/><path d="M97.6 137.7L98.0 138.7L98.4 139.7L98.8 140.7L99.3 141.7L100.0 142.6L99.9 141.5L99.9 140.4L99.9 139.3L99.7 138.2L99.7 137.1Z"/><path d="M109.8 136.0L109.9 137.6L109.3 139.2L109.4 140.7L109.8 142.3L110.4 143.9L111.0 142.4L111.5 140.8L111.4 139.2L111.2 137.6L111.4 136.0Z"/><path d="M119.3 137.1L118.9 138.7L118.6 140.3L118.2 141.8L118.0 143.4L118.0 145.1L118.9 143.6L119.4 142.1L119.8 140.5L120.5 139.1L120.6 137.5Z"/><path d="M130.2 141.3L129.3 142.5L128.6 143.9L128.0 145.4L127.4 146.8L126.9 148.3L128.3 147.3L128.7 145.7L129.4 144.4L130.3 143.1L131.3 141.9Z"/><path d="M140.2 148.7L138.5 149.7L137.3 151.1L136.7 153.0L135.1 154.1L134.2 155.7L135.6 154.6L137.1 153.5L138.5 152.3L140.5 151.7L141.5 150.1Z"/><path d="M147.5 158.5L146.3 159.6L144.9 160.1L143.7 161.2L142.5 162.1L141.3 163.0L143.1 163.2L144.5 162.7L145.9 162.1L146.9 160.7L148.6 160.6Z"/><path d="M151.6 169.2L149.9 169.4L148.4 170.6L146.6 170.4L145.0 171.3L143.4 172.0L145.1 171.8L146.9 171.8L148.7 171.9L150.3 171.3L152.0 171.2Z"/></g></g></g><circle cx="109.5" cy="179.3" r="44.00" fill="none" stroke="#999" stroke-width="1.0" opacity="1"/><g clip-path="url(#c11)"><g filter="url(#gr11)"><circle cx="205.5" cy="179" r="45.5" fill="#b2b2b2"/><g fill="#4a4a4a" opacity="0.8"><circle cx="189.0" cy="181.0" r="0.59"/><circle cx="190.0" cy="188.9" r="0.70"/><circle cx="196.2" cy="168.5" r="0.40"/><circle cx="197.8" cy="192.0" r="0.46"/><circle cx="196.7" cy="201.1" r="0.76"/><circle cx="204.9" cy="206.0" r="0.80"/><circle cx="193.2" cy="157.5" r="0.41"/><circle cx="192.5" cy="165.7" r="0.53"/><circle cx="200.7" cy="191.2" r="0.52"/><circle cx="191.4" cy="199.0" r="0.59"/><circle cx="226.5" cy="171.9" r="0.53"/><circle cx="211.2" cy="178.1" r="0.77"/><circle cx="181.2" cy="175.4" r="0.51"/><circle cx="201.9" cy="189.2" r="0.61"/><circle cx="203.3" cy="172.3" r="0.73"/><circle cx="207.2" cy="176.4" r="0.62"/><circle cx="179.4" cy="183.1" r="0.76"/><circle cx="191.4" cy="166.9" r="0.62"/><circle cx="208.1" cy="182.3" r="0.50"/><circle cx="193.5" cy="191.9" r="0.64"/><circle cx="187.4" cy="192.2" r="0.54"/><circle cx="224.4" cy="173.2" r="0.75"/><circle cx="214.6" cy="158.6" r="0.50"/><circle cx="212.8" cy="183.8" r="0.45"/><circle cx="203.6" cy="177.1" r="0.81"/><circle cx="201.9" cy="170.4" r="0.82"/><circle cx="219.3" cy="198.8" r="0.69"/><circle cx="211.6" cy="191.5" r="0.41"/><circle cx="223.0" cy="169.3" r="0.45"/><circle cx="197.4" cy="185.8" r="0.42"/><circle cx="203.2" cy="160.3" r="0.61"/><circle cx="210.9" cy="180.0" r="0.49"/><circle cx="225.6" cy="168.8" r="0.63"/><circle cx="207.4" cy="187.7" r="0.59"/><circle cx="212.3" cy="185.0" r="0.60"/><circle cx="207.5" cy="204.2" r="0.80"/><circle cx="181.9" cy="189.6" r="0.50"/><circle cx="199.6" cy="168.7" r="0.77"/><circle cx="212.1" cy="203.7" r="0.59"/><circle cx="204.1" cy="182.8" r="0.53"/><circle cx="214.1" cy="183.5" r="0.85"/><circle cx="190.3" cy="179.1" r="0.64"/><circle cx="189.5" cy="168.9" r="0.63"/><circle cx="222.5" cy="188.3" r="0.68"/><circle cx="201.8" cy="156.7" r="0.54"/><circle cx="212.0" cy="161.4" r="0.73"/><circle cx="202.3" cy="184.4" r="0.48"/><circle cx="186.5" cy="192.4" r="0.58"/><circle cx="193.0" cy="182.7" r="0.72"/><circle cx="209.4" cy="200.6" r="0.58"/><circle cx="226.0" cy="186.4" r="0.81"/><circle cx="202.5" cy="176.0" r="0.47"/><circle cx="195.9" cy="153.8" r="0.50"/><circle cx="216.6" cy="162.8" r="0.78"/><circle cx="191.0" cy="161.8" r="0.73"/><circle cx="179.2" cy="176.7" r="0.68"/><circle cx="180.9" cy="177.3" r="0.50"/><circle cx="193.2" cy="196.1" r="0.72"/><circle cx="225.4" cy="165.8" r="0.45"/><circle cx="209.3" cy="177.3" r="0.73"/><circle cx="216.3" cy="153.6" r="0.83"/><circle cx="209.8" cy="189.0" r="0.68"/><circle cx="223.3" cy="195.2" r="0.83"/><circle cx="209.3" cy="191.7" r="0.60"/><circle cx="215.4" cy="185.3" r="0.44"/><circle cx="208.4" cy="183.0" r="0.71"/><circle cx="209.0" cy="154.9" r="0.59"/><circle cx="223.4" cy="194.9" r="0.79"/><circle cx="218.2" cy="191.3" r="0.57"/><circle cx="205.0" cy="166.9" r="0.57"/><circle cx="206.8" cy="182.4" r="0.44"/><circle cx="182.7" cy="193.3" r="0.75"/><circle cx="187.4" cy="190.1" r="0.73"/><circle cx="225.3" cy="184.5" r="0.85"/><circle cx="196.1" cy="165.7" r="0.59"/><circle cx="219.0" cy="202.5" r="0.43"/><circle cx="200.9" cy="182.3" r="0.78"/><circle cx="222.3" cy="171.3" r="0.46"/><circle cx="218.9" cy="202.6" r="0.80"/><circle cx="194.9" cy="173.0" r="0.68"/><circle cx="182.4" cy="193.3" r="0.78"/><circle cx="210.5" cy="175.3" r="0.63"/><circle cx="225.3" cy="175.1" r="0.54"/><circle cx="187.0" cy="167.8" r="0.54"/><circle cx="196.0" cy="183.5" r="0.53"/><circle cx="187.4" cy="190.7" r="0.44"/><circle cx="225.8" cy="168.4" r="0.68"/><circle cx="200.6" cy="193.2" r="0.83"/><circle cx="202.6" cy="160.8" r="0.43"/><circle cx="225.0" cy="163.6" r="0.52"/><circle cx="196.5" cy="166.6" r="0.83"/><circle cx="229.7" cy="182.3" r="0.45"/><circle cx="184.3" cy="194.0" r="0.83"/><circle cx="214.9" cy="163.1" r="0.50"/><circle cx="178.8" cy="183.3" r="0.40"/><circle cx="216.2" cy="185.1" r="0.59"/><circle cx="232.0" cy="174.1" r="0.82"/><circle cx="207.6" cy="161.5" r="0.73"/><circle cx="230.2" cy="174.1" r="0.77"/><circle cx="195.6" cy="201.0" r="0.48"/><circle cx="201.0" cy="196.3" r="0.74"/><circle cx="208.7" cy="189.5" r="0.73"/><circle cx="210.2" cy="181.8" r="0.40"/><circle cx="208.6" cy="181.2" r="0.73"/><circle cx="216.7" cy="187.9" r="0.62"/><circle cx="222.0" cy="179.4" r="0.43"/><circle cx="193.3" cy="185.7" r="0.45"/><circle cx="187.7" cy="180.8" r="0.82"/><circle cx="198.2" cy="199.3" r="0.50"/><circle cx="196.6" cy="186.7" r="0.83"/><circle cx="221.7" cy="200.8" r="0.69"/><circle cx="227.0" cy="168.1" r="0.74"/><circle cx="224.0" cy="190.9" r="0.52"/><circle cx="228.1" cy="164.7" r="0.80"/><circle cx="208.7" cy="163.3" r="0.75"/><circle cx="196.7" cy="193.9" r="0.61"/><circle cx="225.6" cy="181.4" r="0.41"/><circle cx="182.5" cy="194.2" r="0.58"/><circle cx="184.7" cy="175.2" r="0.71"/><circle cx="225.5" cy="181.4" r="0.42"/><circle cx="196.4" cy="189.8" r="0.84"/><circle cx="218.7" cy="193.2" r="0.78"/><circle cx="191.9" cy="186.4" r="0.68"/><circle cx="206.4" cy="202.4" r="0.59"/><circle cx="208.0" cy="177.9" r="0.79"/><circle cx="212.5" cy="203.0" r="0.68"/><circle cx="216.0" cy="193.8" r="0.50"/><circle cx="185.4" cy="162.9" r="0.67"/><circle cx="196.8" cy="173.7" r="0.80"/><circle cx="206.7" cy="191.3" r="0.82"/><circle cx="191.5" cy="182.6" r="0.81"/><circle cx="196.4" cy="200.8" r="0.55"/><circle cx="218.8" cy="182.5" r="0.64"/><circle cx="205.0" cy="189.6" r="0.77"/><circle cx="213.9" cy="183.6" r="0.42"/><circle cx="206.2" cy="200.9" r="0.52"/><circle cx="203.2" cy="159.2" r="0.84"/><circle cx="201.6" cy="184.5" r="0.41"/><circle cx="197.2" cy="164.8" r="0.55"/><circle cx="199.3" cy="196.0" r="0.84"/><circle cx="224.5" cy="163.0" r="0.68"/><circle cx="189.4" cy="158.5" r="0.44"/><circle cx="215.1" cy="175.9" r="0.65"/><circle cx="183.4" cy="170.4" r="0.80"/><circle cx="212.1" cy="189.4" r="0.50"/><circle cx="186.1" cy="165.5" r="0.64"/><circle cx="194.4" cy="184.7" r="0.53"/><circle cx="213.7" cy="176.6" r="0.76"/><circle cx="188.2" cy="196.5" r="0.78"/><circle cx="208.1" cy="203.7" r="0.83"/><circle cx="228.8" cy="187.5" r="0.45"/><circle cx="201.6" cy="171.9" r="0.47"/><circle cx="215.9" cy="181.2" r="0.60"/><circle cx="191.4" cy="173.2" r="0.48"/><circle cx="189.3" cy="162.6" r="0.58"/><circle cx="182.8" cy="164.2" r="0.64"/><circle cx="201.2" cy="191.7" r="0.72"/><circle cx="218.1" cy="189.2" r="0.59"/><circle cx="217.6" cy="194.1" r="0.51"/><circle cx="215.4" cy="154.4" r="0.60"/><circle cx="190.7" cy="160.1" r="0.49"/><circle cx="224.2" cy="187.2" r="0.67"/><circle cx="221.6" cy="191.2" r="0.63"/><circle cx="198.2" cy="167.5" r="0.84"/><circle cx="228.1" cy="189.1" r="0.67"/><circle cx="223.3" cy="168.8" r="0.53"/><circle cx="199.7" cy="185.2" r="0.55"/><circle cx="224.5" cy="162.3" r="0.67"/><circle cx="183.4" cy="188.4" r="0.52"/><circle cx="197.8" cy="162.5" r="0.55"/><circle cx="181.4" cy="185.9" r="0.51"/><circle cx="218.7" cy="164.4" r="0.56"/><circle cx="190.0" cy="177.8" r="0.83"/><circle cx="200.9" cy="154.8" r="0.51"/><circle cx="195.5" cy="159.9" r="0.53"/><circle cx="216.3" cy="195.8" r="0.81"/><circle cx="192.1" cy="160.8" r="0.77"/><circle cx="192.2" cy="199.1" r="0.67"/><circle cx="201.6" cy="170.0" r="0.57"/><circle cx="215.2" cy="161.4" r="0.53"/><circle cx="209.1" cy="167.6" r="0.53"/><circle cx="229.3" cy="168.1" r="0.47"/><circle cx="224.8" cy="171.7" r="0.69"/><circle cx="219.7" cy="195.9" r="0.60"/><circle cx="230.3" cy="179.1" r="0.72"/><circle cx="202.2" cy="194.0" r="0.78"/><circle cx="188.7" cy="179.1" r="0.85"/><circle cx="220.2" cy="175.4" r="0.54"/><circle cx="225.5" cy="186.0" r="0.84"/><circle cx="186.7" cy="179.5" r="0.83"/><circle cx="223.1" cy="181.6" r="0.55"/><circle cx="209.6" cy="180.0" r="0.79"/><circle cx="200.9" cy="155.0" r="0.69"/><circle cx="190.1" cy="171.7" r="0.54"/><circle cx="209.6" cy="157.5" r="0.57"/><circle cx="198.4" cy="191.4" r="0.50"/><circle cx="218.7" cy="156.1" r="0.54"/><circle cx="196.6" cy="178.9" r="0.74"/><circle cx="206.4" cy="164.2" r="0.57"/><circle cx="209.9" cy="167.6" r="0.72"/><circle cx="200.6" cy="162.5" r="0.54"/><circle cx="192.1" cy="159.0" r="0.65"/><circle cx="195.2" cy="167.7" r="0.51"/><circle cx="180.3" cy="168.8" r="0.74"/><circle cx="210.4" cy="183.5" r="0.55"/><circle cx="196.7" cy="187.3" r="0.67"/><circle cx="223.9" cy="194.7" r="0.70"/><circle cx="205.9" cy="169.3" r="0.79"/><circle cx="192.0" cy="197.8" r="0.56"/><circle cx="219.7" cy="160.3" r="0.45"/><circle cx="215.5" cy="169.0" r="0.75"/><circle cx="212.7" cy="189.7" r="0.42"/><circle cx="214.0" cy="167.0" r="0.66"/><circle cx="211.8" cy="188.5" r="0.45"/><circle cx="216.9" cy="191.9" r="0.45"/><circle cx="217.0" cy="196.0" r="0.40"/><circle cx="206.5" cy="173.8" r="0.70"/><circle cx="208.0" cy="178.3" r="0.79"/><circle cx="207.6" cy="177.2" r="0.40"/><circle cx="214.7" cy="188.0" r="0.65"/><circle cx="210.0" cy="201.0" r="0.67"/><circle cx="228.0" cy="188.6" r="0.48"/><circle cx="229.8" cy="179.7" r="0.53"/><circle cx="193.3" cy="171.3" r="0.41"/><circle cx="204.5" cy="178.2" r="0.72"/><circle cx="200.7" cy="174.8" r="0.49"/><circle cx="192.2" cy="157.9" r="0.68"/><circle cx="192.4" cy="182.4" r="0.84"/><circle cx="195.7" cy="161.9" r="0.74"/><circle cx="200.4" cy="192.7" r="0.84"/><circle cx="215.9" cy="199.7" r="0.64"/><circle cx="198.1" cy="165.2" r="0.70"/><circle cx="181.9" cy="169.3" r="0.46"/><circle cx="220.9" cy="191.6" r="0.61"/><circle cx="193.8" cy="192.5" r="0.51"/><circle cx="204.3" cy="190.1" r="0.70"/><circle cx="194.3" cy="180.4" r="0.83"/><circle cx="206.2" cy="151.9" r="0.63"/><circle cx="184.6" cy="181.4" r="0.80"/><circle cx="222.8" cy="185.0" r="0.80"/><circle cx="216.6" cy="172.2" r="0.80"/><circle cx="205.1" cy="193.7" r="0.79"/><circle cx="179.5" cy="180.4" r="0.45"/><circle cx="223.2" cy="170.6" r="0.56"/><circle cx="223.0" cy="165.4" r="0.64"/><circle cx="191.7" cy="170.5" r="0.53"/><circle cx="210.8" cy="203.5" r="0.74"/><circle cx="208.6" cy="198.8" r="0.81"/><circle cx="221.6" cy="200.4" r="0.55"/><circle cx="222.9" cy="198.4" r="0.73"/><circle cx="190.7" cy="182.0" r="0.54"/><circle cx="199.7" cy="179.1" r="0.81"/><circle cx="202.1" cy="166.9" r="0.45"/><circle cx="231.4" cy="182.3" r="0.51"/><circle cx="196.3" cy="168.9" r="0.63"/><circle cx="185.1" cy="169.1" r="0.79"/><circle cx="208.0" cy="190.9" r="0.65"/><circle cx="182.9" cy="188.1" r="0.81"/><circle cx="215.6" cy="169.7" r="0.63"/><circle cx="228.8" cy="176.0" r="0.80"/><circle cx="195.6" cy="156.4" r="0.56"/><circle cx="187.3" cy="164.0" r="0.66"/><circle cx="212.8" cy="172.6" r="0.76"/><circle cx="179.2" cy="184.1" r="0.55"/><circle cx="222.7" cy="166.7" r="0.57"/><circle cx="196.2" cy="165.4" r="0.85"/><circle cx="212.2" cy="158.3" r="0.60"/><circle cx="211.2" cy="174.2" r="0.62"/><circle cx="200.1" cy="200.7" r="0.77"/><circle cx="195.1" cy="176.1" r="0.81"/><circle cx="227.4" cy="188.4" r="0.79"/><circle cx="230.7" cy="168.9" r="0.51"/><circle cx="203.8" cy="178.5" r="0.69"/><circle cx="195.2" cy="179.9" r="0.42"/><circle cx="213.0" cy="174.7" r="0.68"/><circle cx="192.5" cy="172.4" r="0.46"/><circle cx="200.4" cy="163.3" r="0.54"/><circle cx="213.4" cy="176.3" r="0.44"/><circle cx="186.7" cy="189.5" r="0.64"/><circle cx="203.4" cy="202.6" r="0.60"/><circle cx="191.0" cy="185.1" r="0.68"/><circle cx="209.2" cy="161.4" r="0.70"/><circle cx="187.8" cy="193.5" r="0.53"/><circle cx="192.1" cy="163.1" r="0.62"/><circle cx="215.9" cy="204.4" r="0.64"/><circle cx="201.7" cy="206.0" r="0.73"/><circle cx="225.1" cy="166.6" r="0.57"/><circle cx="204.2" cy="163.8" r="0.74"/><circle cx="184.1" cy="176.3" r="0.44"/><circle cx="194.6" cy="194.6" r="0.74"/><circle cx="178.2" cy="178.5" r="0.77"/><circle cx="190.6" cy="187.3" r="0.70"/><circle cx="194.0" cy="181.6" r="0.42"/><circle cx="217.3" cy="167.7" r="0.84"/><circle cx="193.0" cy="173.3" r="0.63"/><circle cx="208.1" cy="183.0" r="0.70"/><circle cx="212.5" cy="172.2" r="0.81"/><circle cx="219.7" cy="181.2" r="0.43"/><circle cx="211.8" cy="174.0" r="0.68"/><circle cx="188.8" cy="157.3" r="0.75"/><circle cx="194.7" cy="164.2" r="0.82"/><circle cx="214.8" cy="184.2" r="0.41"/><circle cx="200.7" cy="195.3" r="0.53"/><circle cx="187.9" cy="176.4" r="0.61"/><circle cx="216.5" cy="168.4" r="0.48"/><circle cx="198.4" cy="155.7" r="0.41"/><circle cx="220.4" cy="170.3" r="0.63"/><circle cx="207.1" cy="171.2" r="0.47"/><circle cx="205.3" cy="158.9" r="0.40"/><circle cx="229.8" cy="191.5" r="0.41"/><circle cx="219.6" cy="181.3" r="0.69"/><circle cx="187.4" cy="177.4" r="0.66"/><circle cx="200.3" cy="185.5" r="0.83"/><circle cx="180.9" cy="170.8" r="0.62"/><circle cx="226.8" cy="166.0" r="0.41"/><circle cx="223.4" cy="178.9" r="0.74"/><circle cx="196.6" cy="158.5" r="0.43"/><circle cx="182.6" cy="175.1" r="0.43"/><circle cx="208.3" cy="188.7" r="0.56"/><circle cx="197.8" cy="168.5" r="0.72"/><circle cx="185.0" cy="165.0" r="0.67"/><circle cx="198.7" cy="160.6" r="0.72"/><circle cx="207.8" cy="171.8" r="0.85"/><circle cx="197.5" cy="205.2" r="0.50"/><circle cx="216.7" cy="154.7" r="0.44"/><circle cx="190.5" cy="165.7" r="0.44"/><circle cx="211.9" cy="205.3" r="0.79"/><circle cx="217.7" cy="181.0" r="0.50"/><circle cx="203.9" cy="172.5" r="0.66"/><circle cx="209.4" cy="166.1" r="0.52"/><circle cx="206.0" cy="195.8" r="0.65"/><circle cx="212.6" cy="153.3" r="0.78"/><circle cx="194.9" cy="155.7" r="0.51"/><circle cx="187.4" cy="188.2" r="0.64"/><circle cx="212.4" cy="194.1" r="0.79"/><circle cx="185.6" cy="168.3" r="0.62"/><circle cx="195.6" cy="179.6" r="0.42"/><circle cx="194.2" cy="193.2" r="0.63"/><circle cx="217.8" cy="197.2" r="0.45"/><circle cx="203.6" cy="189.0" r="0.70"/><circle cx="195.4" cy="183.4" r="0.42"/><circle cx="224.7" cy="162.5" r="0.80"/><circle cx="226.2" cy="193.4" r="0.60"/><circle cx="195.7" cy="189.9" r="0.65"/><circle cx="217.0" cy="155.8" r="0.46"/><circle cx="225.3" cy="168.4" r="0.66"/><circle cx="204.5" cy="165.6" r="0.43"/><circle cx="217.5" cy="180.3" r="0.55"/><circle cx="200.8" cy="161.1" r="0.51"/><circle cx="198.8" cy="176.8" r="0.44"/><circle cx="183.8" cy="169.0" r="0.58"/><circle cx="224.1" cy="186.8" r="0.66"/><circle cx="224.9" cy="174.7" r="0.84"/><circle cx="230.8" cy="185.9" r="0.50"/><circle cx="228.8" cy="164.6" r="0.83"/><circle cx="216.9" cy="198.6" r="0.57"/><circle cx="212.3" cy="163.5" r="0.48"/><circle cx="186.5" cy="169.7" r="0.83"/><circle cx="208.2" cy="154.7" r="0.74"/><circle cx="191.8" cy="191.7" r="0.63"/><circle cx="217.1" cy="174.1" r="0.41"/><circle cx="224.2" cy="170.5" r="0.83"/><circle cx="202.5" cy="192.3" r="0.50"/><circle cx="214.7" cy="153.1" r="0.58"/><circle cx="179.9" cy="169.4" r="0.53"/><circle cx="187.2" cy="166.5" r="0.79"/><circle cx="220.1" cy="176.8" r="0.75"/><circle cx="204.8" cy="192.6" r="0.44"/><circle cx="182.7" cy="191.3" r="0.79"/><circle cx="226.5" cy="184.2" r="0.46"/><circle cx="216.7" cy="198.7" r="0.44"/><circle cx="229.8" cy="178.4" r="0.58"/><circle cx="232.9" cy="178.1" r="0.63"/><circle cx="203.9" cy="199.6" r="0.83"/><circle cx="202.3" cy="152.7" r="0.56"/><circle cx="220.8" cy="180.8" r="0.82"/><circle cx="194.8" cy="197.5" r="0.44"/><circle cx="227.6" cy="176.5" r="0.77"/><circle cx="202.2" cy="170.2" r="0.41"/><circle cx="201.9" cy="152.1" r="0.60"/><circle cx="184.2" cy="182.7" r="0.63"/><circle cx="222.6" cy="166.5" r="0.70"/><circle cx="178.3" cy="181.5" r="0.77"/><circle cx="204.7" cy="156.7" r="0.75"/><circle cx="218.1" cy="165.0" r="0.57"/><circle cx="211.2" cy="179.0" r="0.83"/><circle cx="197.1" cy="193.3" r="0.84"/><circle cx="205.0" cy="186.8" r="0.75"/><circle cx="189.8" cy="168.2" r="0.42"/><circle cx="219.5" cy="198.9" r="0.62"/><circle cx="224.9" cy="177.0" r="0.55"/><circle cx="193.9" cy="186.7" r="0.61"/><circle cx="191.0" cy="161.3" r="0.83"/><circle cx="221.4" cy="170.7" r="0.58"/><circle cx="195.2" cy="172.6" r="0.57"/><circle cx="200.8" cy="166.5" r="0.83"/><circle cx="220.0" cy="172.1" r="0.72"/><circle cx="219.9" cy="180.4" r="0.60"/><circle cx="181.5" cy="168.5" r="0.60"/><circle cx="188.3" cy="161.5" r="0.77"/><circle cx="193.3" cy="163.3" r="0.56"/><circle cx="223.3" cy="159.4" r="0.49"/><circle cx="222.8" cy="180.2" r="0.41"/><circle cx="217.1" cy="155.6" r="0.78"/><circle cx="201.6" cy="194.1" r="0.42"/><circle cx="197.6" cy="197.9" r="0.65"/><circle cx="189.4" cy="167.0" r="0.65"/><circle cx="193.2" cy="186.3" r="0.49"/><circle cx="210.4" cy="202.0" r="0.50"/><circle cx="231.0" cy="170.2" r="0.83"/><circle cx="187.4" cy="177.5" r="0.68"/><circle cx="211.0" cy="156.6" r="0.70"/><circle cx="210.9" cy="168.4" r="0.58"/><circle cx="200.7" cy="193.2" r="0.41"/><circle cx="190.2" cy="159.8" r="0.74"/><circle cx="224.0" cy="191.4" r="0.43"/><circle cx="227.7" cy="171.4" r="0.69"/><circle cx="228.5" cy="175.2" r="0.51"/><circle cx="213.9" cy="182.3" r="0.41"/><circle cx="207.3" cy="187.8" r="0.80"/><circle cx="180.5" cy="172.6" r="0.43"/><circle cx="221.5" cy="169.6" r="0.85"/><circle cx="210.6" cy="181.5" r="0.54"/><circle cx="225.0" cy="182.4" r="0.74"/><circle cx="191.6" cy="187.4" r="0.49"/><circle cx="188.7" cy="197.4" r="0.51"/><circle cx="217.9" cy="168.5" r="0.81"/><circle cx="213.1" cy="160.3" r="0.76"/><circle cx="211.9" cy="164.9" r="0.73"/><circle cx="195.5" cy="194.9" r="0.64"/><circle cx="190.4" cy="164.5" r="0.50"/><circle cx="225.6" cy="194.9" r="0.45"/><circle cx="232.5" cy="183.2" r="0.66"/><circle cx="193.0" cy="163.6" r="0.76"/><circle cx="221.2" cy="161.8" r="0.43"/><circle cx="197.2" cy="165.8" r="0.62"/><circle cx="203.4" cy="171.0" r="0.76"/><circle cx="209.0" cy="180.2" r="0.48"/><circle cx="197.5" cy="153.7" r="0.42"/><circle cx="214.4" cy="155.8" r="0.79"/><circle cx="212.7" cy="161.8" r="0.76"/><circle cx="206.0" cy="160.8" r="0.45"/><circle cx="216.6" cy="201.9" r="0.77"/><circle cx="186.3" cy="195.5" r="0.79"/><circle cx="227.5" cy="164.7" r="0.81"/><circle cx="231.5" cy="177.4" r="0.54"/><circle cx="202.5" cy="169.0" r="0.58"/><circle cx="218.5" cy="167.0" r="0.85"/><circle cx="215.7" cy="187.8" r="0.81"/><circle cx="188.2" cy="196.9" r="0.64"/><circle cx="183.2" cy="193.4" r="0.44"/><circle cx="197.5" cy="160.9" r="0.84"/><circle cx="194.7" cy="186.8" r="0.65"/><circle cx="218.6" cy="183.1" r="0.79"/><circle cx="226.7" cy="172.1" r="0.49"/><circle cx="223.2" cy="159.0" r="0.65"/><circle cx="210.0" cy="195.9" r="0.52"/><circle cx="215.4" cy="172.8" r="0.61"/><circle cx="215.6" cy="201.2" r="0.57"/><circle cx="213.2" cy="176.1" r="0.48"/><circle cx="229.9" cy="178.6" r="0.83"/><circle cx="206.7" cy="187.9" r="0.55"/><circle cx="203.7" cy="175.4" r="0.52"/><circle cx="221.1" cy="164.2" r="0.48"/><circle cx="206.0" cy="194.1" r="0.52"/><circle cx="199.8" cy="162.8" r="0.73"/><circle cx="226.4" cy="167.8" r="0.42"/><circle cx="211.5" cy="196.8" r="0.68"/><circle cx="221.2" cy="197.5" r="0.70"/><circle cx="188.0" cy="165.7" r="0.80"/><circle cx="204.9" cy="181.5" r="0.57"/><circle cx="200.0" cy="169.7" r="0.82"/><circle cx="212.6" cy="169.5" r="0.81"/><circle cx="230.0" cy="166.6" r="0.55"/><circle cx="203.9" cy="174.0" r="0.79"/><circle cx="196.9" cy="199.3" r="0.55"/><circle cx="225.0" cy="184.4" r="0.85"/><circle cx="223.3" cy="165.6" r="0.82"/><circle cx="181.6" cy="183.8" r="0.77"/><circle cx="183.7" cy="166.6" r="0.57"/></g><g fill="#505050" opacity="0.8"><circle cx="179.4" cy="160.1" r="0.69"/><circle cx="203.5" cy="176.4" r="0.70"/><circle cx="180.9" cy="181.5" r="0.50"/><circle cx="185.8" cy="167.6" r="0.75"/><circle cx="179.8" cy="187.0" r="0.53"/><circle cx="192.0" cy="206.9" r="0.42"/><circle cx="179.1" cy="176.0" r="0.73"/><circle cx="196.0" cy="157.4" r="0.55"/><circle cx="227.4" cy="190.9" r="0.58"/><circle cx="192.1" cy="188.1" r="0.51"/><circle cx="184.4" cy="200.3" r="0.56"/><circle cx="189.8" cy="162.0" r="0.56"/><circle cx="195.9" cy="149.5" r="0.54"/><circle cx="187.6" cy="158.9" r="0.41"/><circle cx="200.3" cy="201.2" r="0.54"/><circle cx="227.5" cy="173.3" r="0.70"/><circle cx="224.5" cy="183.7" r="0.70"/><circle cx="226.9" cy="184.2" r="0.52"/><circle cx="219.8" cy="178.5" r="0.50"/><circle cx="229.8" cy="184.9" r="0.75"/><circle cx="230.6" cy="182.0" r="0.64"/><circle cx="173.0" cy="184.2" r="0.62"/><circle cx="175.5" cy="195.9" r="0.62"/><circle cx="188.8" cy="150.1" r="0.61"/><circle cx="190.1" cy="165.2" r="0.71"/><circle cx="213.2" cy="208.5" r="0.52"/><circle cx="225.1" cy="196.0" r="0.71"/><circle cx="200.8" cy="196.8" r="0.51"/><circle cx="214.2" cy="164.8" r="0.55"/><circle cx="208.7" cy="169.0" r="0.71"/><circle cx="211.2" cy="185.6" r="0.42"/><circle cx="189.7" cy="159.2" r="0.50"/><circle cx="222.3" cy="206.1" r="0.53"/><circle cx="184.8" cy="189.3" r="0.62"/><circle cx="217.8" cy="202.5" r="0.42"/><circle cx="191.2" cy="195.5" r="0.58"/><circle cx="210.9" cy="173.1" r="0.44"/><circle cx="193.7" cy="183.1" r="0.63"/><circle cx="211.1" cy="169.5" r="0.59"/><circle cx="178.0" cy="190.5" r="0.58"/><circle cx="188.6" cy="193.9" r="0.57"/><circle cx="198.1" cy="151.4" r="0.63"/><circle cx="210.7" cy="191.0" r="0.60"/><circle cx="193.9" cy="191.6" r="0.70"/><circle cx="232.9" cy="199.4" r="0.51"/><circle cx="221.9" cy="196.7" r="0.73"/><circle cx="208.4" cy="143.9" r="0.72"/><circle cx="208.4" cy="197.7" r="0.43"/><circle cx="186.2" cy="193.4" r="0.44"/><circle cx="185.5" cy="200.9" r="0.67"/><circle cx="232.5" cy="198.8" r="0.60"/><circle cx="198.7" cy="148.4" r="0.54"/><circle cx="215.1" cy="201.2" r="0.49"/><circle cx="222.5" cy="184.3" r="0.65"/><circle cx="201.1" cy="177.1" r="0.68"/><circle cx="208.8" cy="146.3" r="0.59"/><circle cx="200.0" cy="155.2" r="0.59"/><circle cx="221.8" cy="187.8" r="0.46"/><circle cx="189.9" cy="167.3" r="0.51"/><circle cx="189.0" cy="178.9" r="0.42"/><circle cx="224.7" cy="173.3" r="0.48"/><circle cx="197.4" cy="202.5" r="0.51"/><circle cx="214.1" cy="179.4" r="0.41"/><circle cx="184.1" cy="186.9" r="0.63"/><circle cx="182.9" cy="177.8" r="0.67"/><circle cx="188.0" cy="157.7" r="0.44"/><circle cx="173.3" cy="172.5" r="0.74"/><circle cx="226.4" cy="201.9" r="0.71"/><circle cx="206.5" cy="172.9" r="0.73"/><circle cx="200.4" cy="172.5" r="0.47"/><circle cx="191.0" cy="150.8" r="0.77"/><circle cx="196.2" cy="194.0" r="0.58"/><circle cx="201.5" cy="180.1" r="0.54"/><circle cx="216.0" cy="196.9" r="0.52"/><circle cx="182.6" cy="201.7" r="0.54"/><circle cx="212.6" cy="161.8" r="0.66"/><circle cx="212.5" cy="187.4" r="0.42"/><circle cx="214.2" cy="175.8" r="0.44"/><circle cx="181.2" cy="175.3" r="0.53"/><circle cx="210.8" cy="196.5" r="0.47"/><circle cx="194.6" cy="163.3" r="0.68"/><circle cx="198.6" cy="195.5" r="0.46"/><circle cx="193.2" cy="189.4" r="0.65"/><circle cx="208.9" cy="180.6" r="0.46"/><circle cx="219.6" cy="151.5" r="0.55"/><circle cx="235.2" cy="186.2" r="0.68"/><circle cx="216.6" cy="180.3" r="0.46"/><circle cx="232.9" cy="166.5" r="0.43"/><circle cx="233.5" cy="190.7" r="0.45"/><circle cx="219.7" cy="166.8" r="0.65"/><circle cx="183.9" cy="201.8" r="0.65"/><circle cx="208.2" cy="168.1" r="0.41"/><circle cx="205.3" cy="193.9" r="0.40"/><circle cx="192.4" cy="187.1" r="0.60"/><circle cx="214.5" cy="146.8" r="0.52"/><circle cx="212.0" cy="174.5" r="0.72"/><circle cx="181.7" cy="183.2" r="0.58"/><circle cx="224.1" cy="192.2" r="0.46"/><circle cx="209.3" cy="161.7" r="0.49"/><circle cx="185.1" cy="206.7" r="0.51"/></g><g fill="#555"><path d="M248.8 177.2L246.6 177.6L244.4 177.1L242.2 178.3L240.0 178.1L237.8 178.5L235.6 178.6L233.3 179.1L235.6 180.4L237.8 180.0L240.0 180.7L242.2 179.7L244.4 181.0L246.6 181.4L248.8 181.0Z"/><path d="M248.6 183.6L246.8 184.0L245.2 182.6L243.4 182.9L241.7 182.4L239.8 183.1L238.1 182.9L236.2 183.6L237.9 184.3L239.5 185.8L241.3 185.1L242.9 186.2L244.7 186.0L246.2 187.6L248.0 187.3Z"/><path d="M248.4 184.9L246.2 183.6L243.8 183.7L241.5 183.2L239.0 183.9L236.8 183.1L234.5 182.5L231.9 183.5L234.2 184.3L236.5 184.8L238.9 184.8L241.2 185.3L243.2 187.2L245.7 186.7L248.0 187.6Z"/><path d="M246.7 192.4L244.6 191.5L242.4 190.9L240.1 190.7L237.8 190.2L235.8 189.0L233.5 188.7L231.3 188.2L233.1 189.7L235.3 190.4L237.4 191.4L239.4 192.6L241.7 192.8L243.5 194.6L245.9 194.6Z"/><path d="M244.8 197.1L243.7 195.7L241.7 196.1L240.5 194.7L238.7 194.6L237.3 193.7L235.5 193.6L233.9 193.1L235.3 194.0L236.4 195.6L238.2 195.8L239.5 196.7L241.2 197.1L242.2 198.8L243.7 199.3Z"/><path d="M242.4 201.7L240.6 200.2L238.4 199.3L236.9 197.3L234.4 197.0L232.2 196.0L230.3 194.7L228.2 193.6L230.1 195.1L232.0 196.3L234.0 197.6L235.5 199.5L237.3 201.0L239.2 202.3L241.4 203.2Z"/><path d="M240.7 204.3L239.6 202.5L237.1 202.7L235.5 201.6L234.7 199.6L232.6 199.2L230.8 198.5L229.2 197.5L230.1 199.4L232.0 200.0L232.8 202.0L234.1 203.5L235.3 205.1L236.8 206.2L238.6 207.0Z"/><path d="M239.2 206.2L237.4 205.4L236.5 203.5L234.6 202.8L233.3 201.5L231.6 200.5L230.4 199.0L228.3 198.5L229.6 199.9L230.3 202.1L232.1 202.9L233.5 204.2L234.8 205.5L236.4 206.6L237.7 208.0Z"/><path d="M236.0 209.8L234.4 209.2L234.0 207.6L233.2 206.2L231.7 205.6L230.5 204.6L229.2 203.8L227.9 203.0L227.9 205.0L229.3 205.8L229.8 207.4L231.4 207.9L232.2 209.2L232.7 210.8L234.1 211.5Z"/><path d="M231.1 214.0L230.4 212.5L229.2 211.3L228.2 210.0L227.4 208.5L226.0 207.6L225.0 206.2L223.6 205.3L224.1 206.9L224.8 208.4L225.7 209.7L226.1 211.4L227.6 212.4L228.0 214.1L229.0 215.4Z"/><path d="M230.5 214.4L230.2 212.7L229.0 211.6L227.3 210.8L226.8 209.2L225.4 208.2L224.6 206.9L222.9 206.1L222.5 208.3L223.3 209.6L225.2 210.3L225.1 212.2L226.2 213.4L226.5 215.1L227.4 216.4Z"/><path d="M226.2 217.0L224.5 215.3L224.4 212.8L223.0 210.9L222.0 208.8L219.7 207.3L218.7 205.2L217.5 203.2L217.8 205.7L218.6 207.8L219.7 209.9L219.9 212.4L221.6 214.1L222.0 216.5L223.1 218.6Z"/><path d="M221.2 219.4L221.2 217.6L219.8 216.3L219.6 214.6L218.9 213.0L217.2 211.9L216.7 210.2L215.9 208.7L216.2 210.4L215.9 212.3L216.1 214.0L217.3 215.4L218.2 216.9L217.1 219.0L218.5 220.3Z"/><path d="M216.3 220.9L216.0 219.1L214.8 217.4L215.2 215.4L213.8 213.7L213.3 211.9L213.7 209.9L212.2 208.2L212.5 210.1L211.6 212.3L212.9 213.9L213.3 215.8L213.7 217.6L213.9 219.5L214.1 221.5Z"/><path d="M212.3 221.8L212.0 220.0L212.2 218.2L211.5 216.5L211.0 214.8L211.1 212.9L211.0 211.2L209.4 209.6L209.1 211.4L208.4 213.3L209.4 215.0L209.7 216.7L209.7 218.5L209.2 220.4L209.5 222.1Z"/><path d="M206.6 222.3L207.1 220.8L206.2 219.4L206.7 217.9L205.8 216.4L205.5 214.9L205.3 213.4L205.1 211.9L204.9 213.4L204.7 214.9L204.4 216.4L203.3 217.8L203.1 219.3L203.5 220.8L203.4 222.3Z"/><path d="M202.8 222.3L202.8 220.5L203.7 218.8L202.7 216.9L202.6 215.1L203.3 213.4L203.4 211.6L202.3 209.7L200.7 211.3L201.3 213.2L199.8 214.8L199.7 216.6L200.5 218.4L199.9 220.2L199.2 221.9Z"/><path d="M197.4 221.6L198.4 220.3L198.3 218.8L198.7 217.4L197.9 215.7L199.1 214.5L198.5 212.9L198.6 211.4L198.1 212.8L197.4 214.1L196.3 215.4L196.9 217.0L195.6 218.2L195.0 219.6L195.5 221.1Z"/><path d="M193.6 220.6L194.1 218.4L195.0 216.2L195.8 214.0L195.9 211.6L196.3 209.3L197.9 207.4L197.4 204.8L195.8 206.7L194.7 208.8L194.9 211.3L193.7 213.4L193.6 215.8L192.8 218.0L191.5 220.0Z"/><path d="M190.2 219.5L191.4 218.4L190.9 216.5L191.5 215.1L191.7 213.6L193.0 212.5L193.0 210.8L193.1 209.2L192.1 210.4L190.6 211.4L190.2 212.9L189.9 214.5L188.9 215.7L187.7 216.8L187.9 218.6Z"/><path d="M184.8 217.1L186.0 216.1L186.0 214.4L187.2 213.5L186.9 211.6L188.4 210.9L188.3 209.1L188.5 207.5L187.1 208.4L185.7 209.2L184.6 210.3L184.1 211.6L183.4 212.9L182.9 214.3L181.8 215.3Z"/><path d="M181.5 215.1L183.6 213.6L183.6 210.6L185.1 208.8L186.1 206.6L187.9 204.9L189.0 202.7L190.1 200.6L188.1 202.1L187.2 204.4L185.7 206.3L184.0 208.0L182.2 209.6L181.0 211.8L179.3 213.5Z"/><path d="M178.3 212.7L179.1 211.2L180.7 210.5L181.4 208.9L182.8 207.9L182.9 205.9L184.7 205.2L184.8 203.1L182.7 203.5L181.9 205.0L180.6 206.1L179.7 207.4L179.1 209.1L177.3 209.7L176.3 211.0Z"/><path d="M173.4 208.1L174.5 207.2L175.8 206.5L177.0 205.8L177.8 204.5L178.4 203.1L179.2 201.9L180.1 200.7L178.5 201.0L177.8 202.4L176.7 203.3L175.6 204.2L173.9 204.4L172.9 205.4L171.7 206.1Z"/><path d="M170.0 203.9L170.8 202.7L171.9 201.9L173.5 201.9L174.6 201.2L175.8 200.5L176.1 198.6L177.1 197.7L175.7 198.0L174.8 199.0L173.5 199.5L172.5 200.4L171.2 200.8L169.5 200.6L168.6 201.7Z"/><path d="M169.0 202.4L170.7 201.2L172.1 199.7L174.1 199.0L175.8 198.0L177.4 196.7L179.4 196.1L180.5 194.1L178.7 194.9L176.5 195.1L175.1 196.7L172.8 196.8L171.7 199.0L169.9 199.9L167.8 200.3Z"/><path d="M166.4 197.7L168.1 197.4L169.4 196.5L170.4 194.7L171.8 193.8L173.8 194.4L174.7 192.4L176.1 191.6L174.5 191.8L172.7 191.8L171.4 192.9L169.7 193.1L167.9 192.9L166.4 193.6L165.0 194.3Z"/><path d="M165.0 194.3L166.2 193.7L167.5 193.3L168.9 193.1L169.9 191.6L171.2 191.2L172.6 191.1L173.6 189.6L171.9 188.8L170.9 190.2L169.3 189.9L168.1 190.5L166.6 190.5L165.4 191.3L163.9 191.1Z"/><path d="M163.1 187.9L165.2 188.1L167.0 186.5L169.1 186.7L171.0 186.0L173.1 185.8L174.9 184.6L176.9 184.1L174.9 184.3L172.9 184.5L170.6 183.7L168.8 184.9L166.7 185.1L164.7 185.3L162.6 185.2Z"/><path d="M162.9 187.0L164.6 187.4L165.9 185.7L167.7 186.7L169.1 185.8L170.6 184.8L172.3 185.2L173.7 183.8L171.9 183.1L170.4 183.3L168.7 182.6L167.3 184.3L165.6 183.4L164.0 183.8L162.4 183.9Z"/><path d="M162.3 181.9L164.5 182.2L166.7 182.2L168.8 182.1L171.0 180.3L173.2 180.9L175.4 181.3L177.5 179.9L175.3 179.8L173.1 178.9L170.9 179.7L168.8 179.7L166.5 178.8L164.4 178.6L162.2 178.9Z"/><path d="M162.2 178.2L163.9 178.1L165.7 177.7L167.3 178.3L169.1 177.7L170.8 178.7L172.6 177.4L174.3 177.3L172.6 176.1L170.9 175.9L169.2 176.0L167.5 174.9L165.8 175.0L164.1 175.5L162.4 175.0Z"/><path d="M162.9 171.2L164.2 171.6L165.7 171.4L167.1 171.5L168.4 172.1L169.7 172.8L171.2 172.1L172.6 172.2L171.4 171.4L169.9 171.4L168.6 171.2L167.3 170.3L166.1 169.4L164.6 169.7L163.3 169.2Z"/><path d="M163.7 167.8L165.1 167.5L166.3 168.2L167.7 168.2L168.8 169.1L170.2 168.9L171.5 169.2L172.8 169.4L171.8 168.1L170.7 167.4L169.3 167.4L168.2 166.5L166.6 167.1L165.5 166.3L164.2 165.8Z"/><path d="M165.7 161.9L167.2 162.8L168.7 163.8L170.9 163.3L172.4 164.2L174.0 165.0L175.3 166.2L177.4 166.0L175.9 165.0L174.3 164.3L173.0 162.8L171.5 161.9L169.6 161.9L168.4 160.2L166.7 159.7Z"/><path d="M166.8 159.6L168.3 161.1L170.7 161.2L172.6 162.2L174.4 163.4L176.3 164.3L178.4 164.9L180.7 165.2L179.1 163.7L177.2 162.7L175.8 160.9L174.2 159.4L171.9 159.0L170.8 156.8L168.5 156.4Z"/><path d="M170.6 153.4L171.7 154.6L172.9 155.7L175.0 155.7L176.5 156.5L177.6 157.7L178.9 158.6L180.5 159.3L179.3 158.2L178.0 157.1L177.5 155.2L176.5 153.8L175.1 152.9L173.9 151.8L172.4 151.1Z"/><path d="M171.4 152.3L173.3 153.7L175.0 155.4L177.5 156.2L178.7 158.5L180.9 159.5L183.1 160.7L185.3 161.8L184.2 159.4L182.5 157.6L181.0 155.7L178.8 154.7L176.9 153.1L175.4 151.2L173.6 149.7Z"/><path d="M176.7 146.6L178.1 148.5L179.6 150.3L181.2 152.0L183.1 153.4L184.7 155.0L186.4 156.7L188.0 158.3L187.5 155.7L185.9 154.0L183.7 152.9L182.8 150.6L181.3 148.8L179.4 147.4L178.4 145.2Z"/><path d="M180.1 143.9L180.5 145.5L181.6 146.7L182.8 147.9L183.8 149.1L185.4 149.9L185.9 151.5L187.5 152.3L186.9 150.8L186.5 149.2L185.0 148.3L184.1 146.9L183.9 145.1L182.6 144.1L182.4 142.4Z"/><path d="M181.9 142.7L183.1 143.9L183.7 145.5L184.3 147.2L185.1 148.7L186.3 150.0L187.4 151.3L189.2 152.2L189.3 150.1L188.4 148.7L187.0 147.5L186.3 146.0L186.1 144.1L184.6 143.0L184.0 141.4Z"/><path d="M187.2 139.7L188.0 141.9L189.0 143.9L190.5 145.8L191.4 147.9L191.9 150.2L193.6 152.0L194.7 154.0L194.2 151.7L193.6 149.5L193.0 147.2L192.1 145.1L190.5 143.3L190.5 140.8L189.4 138.8Z"/><path d="M192.9 137.6L192.8 139.3L194.3 140.6L193.7 142.5L195.4 143.7L195.6 145.3L195.3 147.1L197.0 148.4L197.6 146.5L196.3 145.2L195.8 143.6L196.1 141.8L195.7 140.2L195.2 138.6L194.8 137.0Z"/><path d="M197.4 136.5L197.4 138.8L198.1 141.1L199.1 143.2L199.8 145.5L200.2 147.8L200.0 150.2L201.2 152.4L201.0 150.0L201.7 147.5L201.2 145.3L200.1 143.1L200.5 140.7L200.2 138.3L199.7 136.1Z"/><path d="M201.6 135.9L201.1 137.3L201.1 138.7L202.7 140.0L201.4 141.5L202.1 142.8L203.0 144.1L203.3 145.5L204.2 144.1L204.1 142.7L203.8 141.3L204.6 139.8L203.9 138.5L203.8 137.1L203.8 135.7Z"/><path d="M204.6 135.7L204.6 137.8L203.8 139.9L205.3 141.9L204.2 144.0L204.6 146.1L204.8 148.2L205.5 150.3L205.8 148.2L206.6 146.1L205.7 144.0L206.0 141.9L205.7 139.9L206.0 137.8L206.4 135.7Z"/><path d="M209.9 135.9L209.0 137.2L210.0 138.8L209.5 140.2L210.1 141.7L208.8 142.9L209.5 144.5L209.8 145.9L210.2 144.5L210.4 143.1L211.2 141.8L212.2 140.5L211.2 138.9L211.7 137.6L212.2 136.2Z"/><path d="M212.9 136.3L212.7 138.7L212.1 141.0L212.3 143.4L211.7 145.7L211.6 148.1L211.1 150.4L211.2 152.8L212.5 150.7L212.6 148.3L214.6 146.3L214.2 143.8L216.0 141.8L215.5 139.3L216.5 137.1Z"/><path d="M216.7 137.2L215.9 139.2L214.9 141.1L215.1 143.5L214.7 145.6L214.5 147.8L213.9 149.9L213.4 152.0L214.7 150.1L214.9 147.9L216.3 146.1L216.6 143.9L218.3 142.2L218.0 139.8L218.8 137.8Z"/><path d="M221.2 138.6L219.8 139.6L220.5 141.5L219.4 142.7L219.9 144.5L219.1 145.7L217.8 146.8L218.4 148.7L219.2 147.4L221.1 146.6L221.1 145.0L222.4 143.9L222.1 142.2L224.0 141.4L223.8 139.7Z"/><path d="M227.9 141.9L226.4 142.7L225.7 144.0L225.5 145.6L224.7 146.8L224.5 148.3L224.0 149.8L223.4 151.1L224.4 150.0L225.3 148.9L226.2 147.7L227.9 147.1L228.3 145.6L228.9 144.3L229.8 143.2Z"/><path d="M230.9 143.9L229.3 144.9L228.2 146.3L228.0 148.4L226.5 149.5L225.7 151.1L225.1 152.9L224.1 154.4L225.4 153.1L226.6 151.8L228.0 150.7L229.5 149.6L230.4 148.0L231.7 146.7L232.4 145.1Z"/><path d="M233.5 145.9L231.6 146.8L231.2 148.9L230.4 150.7L228.4 151.4L227.2 152.9L226.6 154.9L225.6 156.4L227.0 155.1L228.2 153.8L229.8 152.7L231.4 151.6L232.1 149.7L234.4 149.3L235.1 147.3Z"/><path d="M235.0 147.3L234.5 148.6L233.1 149.0L232.5 150.2L232.3 151.9L230.5 151.9L230.6 153.8L229.8 154.9L231.6 154.8L231.9 153.4L233.4 153.0L233.9 151.7L235.3 151.3L236.1 150.2L237.5 149.8Z"/><path d="M240.2 153.1L238.8 154.4L237.4 155.6L235.7 156.5L234.1 157.4L233.3 159.5L231.8 160.6L230.4 161.9L232.0 161.0L234.2 160.8L235.8 159.8L237.5 159.0L238.7 157.5L240.3 156.5L242.1 155.8Z"/><path d="M242.2 155.9L239.9 156.8L237.9 158.3L235.9 159.6L234.2 161.5L232.3 163.0L229.7 163.3L228.2 165.7L230.4 164.6L232.9 164.1L234.6 162.2L237.3 161.9L239.0 160.1L241.7 159.9L243.5 158.2Z"/><path d="M244.2 159.4L242.0 159.9L240.4 161.7L238.4 162.7L236.6 164.0L234.7 165.1L232.6 165.8L230.9 167.4L233.2 167.2L235.3 166.4L237.7 166.4L239.6 165.4L241.2 163.6L243.4 163.0L245.6 162.6Z"/><path d="M246.5 164.9L244.6 165.2L242.8 165.6L241.0 166.1L239.5 167.7L237.9 168.7L235.9 168.6L234.4 170.3L236.4 170.4L238.3 170.1L240.0 169.2L242.1 169.6L244.0 169.7L245.9 169.4L247.4 168.1Z"/><path d="M247.0 166.7L245.6 167.6L244.0 167.9L242.3 167.5L241.0 169.3L239.4 169.3L238.0 170.2L236.5 171.0L238.1 170.9L240.0 171.6L241.2 170.0L243.0 170.4L244.5 169.6L246.4 170.6L247.8 169.5Z"/><path d="M248.6 174.4L246.6 175.3L244.5 174.0L242.5 174.6L240.6 175.9L238.6 176.3L236.6 176.5L234.6 177.0L236.6 177.1L238.6 177.4L240.7 178.4L242.7 177.1L244.7 177.6L246.8 178.5L248.8 177.7Z"/></g><g fill="#5e5e5e"><path d="M248.8 177.0L247.8 177.4L246.8 177.6L245.9 177.3L244.9 177.2L244.0 178.0L244.9 178.2L245.9 178.4L246.9 178.7L247.8 178.7L248.8 178.7Z"/><path d="M247.0 191.5L245.8 191.2L244.5 191.2L243.4 190.4L242.2 190.2L240.9 190.3L241.8 191.5L243.0 191.6L244.1 192.2L245.4 192.4L246.5 192.8Z"/><path d="M243.6 199.6L242.6 198.6L240.9 198.8L240.0 197.8L238.5 197.7L237.2 197.2L238.2 198.2L239.4 198.7L240.0 200.4L241.5 200.6L242.5 201.6Z"/><path d="M236.9 208.8L236.3 208.0L235.5 207.2L234.3 207.0L234.0 205.8L232.6 205.6L233.0 206.7L233.9 207.3L234.1 208.7L234.7 209.5L235.8 209.9Z"/><path d="M228.7 215.5L228.7 214.4L227.7 213.7L227.0 212.9L226.4 212.0L225.1 211.6L225.0 212.8L225.6 213.7L225.7 214.9L226.2 215.9L226.8 216.7Z"/><path d="M215.7 221.1L215.4 219.4L214.4 217.9L214.9 216.1L213.7 214.6L213.1 213.0L213.1 214.7L213.4 216.4L213.8 218.0L213.9 219.7L214.2 221.4Z"/><path d="M205.8 222.3L205.9 220.7L206.2 219.1L205.9 217.5L205.7 215.8L205.1 214.2L204.7 215.8L204.0 217.4L204.4 219.1L204.4 220.7L204.2 222.3Z"/><path d="M194.4 220.9L195.3 219.7L194.8 218.1L195.2 216.8L195.3 215.4L195.4 214.0L194.5 215.2L193.6 216.4L193.7 217.8L193.0 219.0L192.5 220.3Z"/><path d="M182.6 215.7L182.8 214.6L183.3 213.7L184.3 213.1L184.6 212.1L184.8 211.0L183.9 211.6L183.3 212.5L182.8 213.4L181.7 214.0L181.4 215.0Z"/><path d="M177.2 211.8L178.5 211.1L179.0 209.6L179.7 208.3L180.6 207.3L181.2 205.8L180.1 206.8L179.1 207.8L178.1 208.8L176.7 209.4L175.7 210.4Z"/><path d="M167.8 200.3L168.6 199.7L169.5 199.1L170.4 198.9L171.3 198.3L171.9 197.3L170.9 197.6L170.0 198.0L168.7 197.7L167.8 198.2L167.1 199.1Z"/><path d="M163.6 190.1L165.1 190.3L166.2 189.2L167.5 189.0L168.7 188.4L169.9 187.6L168.5 187.4L167.1 187.4L165.9 188.0L164.5 187.9L163.2 188.3Z"/><path d="M162.2 178.7L163.5 178.9L164.8 178.5L166.1 178.5L167.5 178.3L168.8 178.2L167.5 177.8L166.2 177.2L164.9 177.4L163.5 177.9L162.2 177.4Z"/><path d="M163.8 167.5L164.9 168.3L166.4 168.3L167.6 168.9L169.2 168.5L170.5 168.7L169.3 168.1L168.0 167.5L166.9 166.4L165.6 165.9L164.2 166.0Z"/><path d="M168.7 156.2L169.7 157.4L171.1 158.0L172.3 158.8L173.8 159.4L175.3 159.7L174.2 158.8L172.9 158.0L172.0 156.6L170.9 155.6L169.3 155.2Z"/><path d="M174.7 148.5L175.5 149.8L177.3 150.2L177.8 151.7L179.3 152.3L180.6 153.1L179.7 151.9L179.0 150.6L178.3 149.1L177.6 147.8L176.2 147.1Z"/><path d="M182.3 142.5L183.0 143.2L183.0 144.3L183.9 144.9L184.6 145.6L185.6 146.1L185.3 145.1L184.8 144.3L184.4 143.4L184.2 142.4L184.0 141.4Z"/><path d="M191.9 137.9L192.0 138.8L192.4 139.6L192.7 140.4L193.4 141.2L193.8 142.0L194.0 141.0L193.7 140.1L193.9 139.1L193.6 138.3L193.1 137.5Z"/><path d="M206.3 135.7L206.1 137.4L206.7 139.1L206.7 140.8L206.7 142.5L206.8 144.2L207.1 142.5L207.6 140.8L207.4 139.1L208.3 137.5L207.9 135.8Z"/><path d="M216.9 137.2L216.6 138.2L216.6 139.3L215.9 140.2L216.3 141.5L216.3 142.6L216.8 141.6L217.4 140.7L217.7 139.7L218.5 138.8L218.6 137.7Z"/><path d="M227.7 141.8L226.8 142.8L226.2 144.0L226.2 145.6L225.5 146.7L225.0 147.9L225.8 146.9L227.1 146.1L227.6 144.9L228.1 143.6L229.2 142.8Z"/><path d="M235.2 147.5L234.4 148.0L233.6 148.6L233.3 149.6L233.0 150.7L232.5 151.5L233.3 150.9L234.0 150.3L234.8 149.7L235.8 149.4L236.4 148.7Z"/><path d="M241.5 154.9L240.6 155.3L239.9 155.8L239.5 156.9L238.5 157.0L238.1 158.0L239.2 158.1L239.9 157.5L240.9 157.4L241.6 156.8L242.4 156.3Z"/><path d="M247.2 167.4L246.0 168.0L244.6 168.2L243.4 168.7L242.0 168.7L241.0 170.0L242.5 170.7L243.7 169.8L245.1 169.8L246.5 170.1L247.7 169.3Z"/></g></g></g><circle cx="205.5" cy="179" r="44.00" fill="none" stroke="#909090" stroke-width="1.0" opacity="1"/><g clip-path="url(#c12)"><g filter="url(#gr12)"><circle cx="300.5" cy="179" r="45" fill="#b8b8b8"/><g fill="#3c3c3c" opacity="0.9"><circle cx="285.5" cy="143.5" r="1.16"/><circle cx="298.1" cy="217.4" r="1.06"/><circle cx="327.2" cy="151.3" r="1.01"/><circle cx="286.3" cy="187.8" r="1.35"/><circle cx="295.0" cy="190.8" r="1.31"/><circle cx="307.5" cy="205.2" r="0.80"/><circle cx="280.7" cy="212.1" r="0.89"/><circle cx="311.5" cy="148.9" r="0.94"/><circle cx="290.1" cy="173.9" r="0.58"/><circle cx="305.1" cy="190.6" r="1.10"/><circle cx="292.6" cy="158.9" r="0.68"/><circle cx="314.2" cy="181.0" r="1.11"/><circle cx="307.6" cy="215.8" r="0.74"/><circle cx="297.7" cy="175.4" r="0.79"/><circle cx="291.5" cy="167.1" r="1.03"/><circle cx="316.0" cy="201.2" r="1.06"/><circle cx="273.0" cy="191.3" r="0.68"/><circle cx="326.0" cy="149.4" r="1.10"/><circle cx="265.1" cy="159.5" r="0.83"/><circle cx="289.7" cy="170.4" r="0.97"/><circle cx="327.2" cy="177.8" r="1.22"/><circle cx="310.7" cy="169.9" r="0.55"/><circle cx="287.5" cy="209.0" r="1.13"/><circle cx="261.7" cy="171.5" r="1.16"/><circle cx="295.8" cy="170.8" r="0.64"/><circle cx="286.8" cy="202.6" r="0.61"/><circle cx="329.7" cy="198.4" r="0.76"/><circle cx="294.3" cy="168.9" r="0.79"/><circle cx="308.9" cy="180.4" r="0.73"/><circle cx="329.2" cy="181.2" r="0.57"/><circle cx="267.9" cy="173.4" r="0.66"/><circle cx="316.4" cy="195.1" r="0.77"/><circle cx="305.5" cy="203.7" r="0.71"/><circle cx="294.4" cy="197.3" r="0.99"/><circle cx="277.7" cy="148.5" r="0.91"/><circle cx="301.4" cy="181.1" r="1.06"/><circle cx="315.3" cy="157.9" r="1.28"/><circle cx="286.0" cy="195.6" r="0.79"/><circle cx="327.6" cy="198.3" r="0.77"/><circle cx="274.0" cy="206.1" r="1.33"/><circle cx="313.7" cy="157.2" r="0.92"/><circle cx="289.2" cy="173.0" r="0.72"/><circle cx="288.7" cy="142.0" r="0.97"/><circle cx="263.3" cy="167.7" r="1.32"/><circle cx="315.3" cy="209.9" r="0.79"/><circle cx="330.6" cy="200.9" r="1.34"/><circle cx="300.5" cy="170.8" r="1.04"/><circle cx="279.8" cy="163.7" r="1.02"/><circle cx="295.5" cy="202.8" r="0.59"/><circle cx="324.5" cy="156.7" r="0.85"/><circle cx="270.5" cy="201.5" r="0.75"/><circle cx="332.9" cy="162.9" r="0.62"/><circle cx="284.6" cy="213.3" r="1.17"/><circle cx="322.4" cy="177.7" r="0.82"/><circle cx="317.9" cy="184.9" r="0.66"/><circle cx="305.7" cy="167.9" r="0.57"/><circle cx="301.4" cy="192.9" r="0.66"/><circle cx="336.1" cy="180.5" r="1.10"/><circle cx="315.0" cy="198.1" r="0.73"/><circle cx="301.0" cy="208.4" r="0.86"/><circle cx="275.9" cy="173.3" r="1.11"/><circle cx="283.6" cy="165.2" r="1.12"/><circle cx="302.5" cy="157.0" r="0.62"/><circle cx="283.4" cy="201.7" r="0.65"/><circle cx="320.1" cy="152.6" r="0.94"/><circle cx="320.4" cy="165.4" r="1.34"/><circle cx="270.8" cy="167.0" r="1.06"/><circle cx="286.5" cy="148.1" r="0.98"/><circle cx="299.7" cy="143.9" r="1.07"/><circle cx="280.3" cy="200.4" r="0.72"/><circle cx="290.4" cy="206.0" r="0.93"/><circle cx="314.7" cy="169.4" r="0.65"/><circle cx="265.8" cy="163.5" r="1.28"/><circle cx="318.6" cy="212.4" r="0.77"/><circle cx="279.2" cy="144.7" r="0.62"/><circle cx="317.6" cy="190.8" r="0.79"/><circle cx="311.3" cy="181.7" r="0.59"/><circle cx="294.1" cy="151.9" r="0.96"/><circle cx="281.7" cy="151.7" r="0.66"/><circle cx="266.5" cy="178.5" r="0.89"/><circle cx="262.3" cy="189.9" r="1.10"/><circle cx="265.0" cy="182.7" r="0.67"/><circle cx="296.2" cy="196.1" r="0.70"/><circle cx="323.8" cy="189.6" r="1.17"/><circle cx="277.3" cy="152.2" r="0.64"/><circle cx="315.7" cy="167.8" r="1.25"/><circle cx="324.0" cy="153.7" r="0.72"/><circle cx="280.5" cy="187.6" r="0.93"/><circle cx="301.3" cy="203.4" r="1.20"/><circle cx="284.9" cy="171.4" r="1.20"/><circle cx="292.5" cy="192.5" r="0.85"/><circle cx="319.2" cy="168.2" r="1.25"/><circle cx="313.8" cy="184.9" r="1.03"/><circle cx="328.5" cy="185.6" r="1.24"/><circle cx="265.5" cy="164.5" r="0.62"/><circle cx="309.7" cy="163.8" r="1.10"/><circle cx="325.3" cy="168.3" r="0.58"/><circle cx="316.9" cy="149.8" r="1.21"/><circle cx="296.9" cy="167.0" r="1.00"/><circle cx="318.0" cy="205.9" r="1.32"/><circle cx="330.0" cy="205.8" r="0.99"/><circle cx="272.6" cy="188.9" r="0.82"/><circle cx="298.1" cy="159.4" r="0.96"/><circle cx="273.3" cy="177.8" r="0.78"/><circle cx="304.8" cy="140.9" r="0.76"/><circle cx="278.5" cy="174.3" r="1.06"/><circle cx="335.1" cy="162.3" r="0.60"/><circle cx="338.0" cy="182.3" r="1.01"/><circle cx="316.0" cy="211.0" r="0.73"/><circle cx="290.4" cy="182.9" r="1.22"/><circle cx="300.5" cy="177.8" r="0.86"/><circle cx="264.2" cy="164.3" r="0.92"/><circle cx="313.0" cy="161.3" r="0.92"/><circle cx="282.6" cy="150.3" r="1.21"/><circle cx="317.9" cy="192.5" r="0.70"/><circle cx="323.9" cy="200.7" r="0.58"/><circle cx="288.0" cy="158.5" r="0.69"/><circle cx="316.1" cy="194.4" r="1.33"/><circle cx="339.0" cy="175.8" r="1.06"/><circle cx="296.4" cy="203.6" r="0.82"/><circle cx="266.1" cy="169.3" r="0.66"/><circle cx="324.2" cy="149.2" r="0.56"/><circle cx="288.2" cy="178.6" r="0.93"/><circle cx="309.6" cy="214.7" r="1.34"/><circle cx="314.8" cy="198.1" r="1.33"/><circle cx="309.9" cy="144.9" r="0.69"/><circle cx="287.3" cy="216.5" r="0.92"/><circle cx="328.2" cy="204.7" r="0.57"/><circle cx="268.8" cy="177.1" r="1.31"/><circle cx="274.1" cy="208.9" r="1.15"/><circle cx="299.3" cy="172.9" r="0.91"/><circle cx="295.5" cy="201.3" r="0.93"/><circle cx="290.3" cy="204.3" r="0.57"/><circle cx="307.8" cy="179.9" r="1.23"/><circle cx="275.1" cy="185.6" r="1.28"/><circle cx="305.3" cy="168.2" r="1.26"/><circle cx="293.3" cy="153.5" r="0.57"/><circle cx="325.8" cy="181.5" r="1.14"/><circle cx="336.3" cy="161.4" r="0.97"/><circle cx="284.2" cy="146.3" r="0.55"/><circle cx="318.7" cy="192.6" r="0.89"/><circle cx="323.6" cy="182.8" r="0.56"/><circle cx="287.7" cy="173.6" r="1.22"/><circle cx="323.8" cy="156.5" r="0.73"/><circle cx="286.5" cy="193.6" r="0.61"/><circle cx="322.2" cy="198.7" r="0.60"/><circle cx="300.3" cy="216.1" r="0.91"/><circle cx="327.0" cy="186.5" r="0.58"/><circle cx="332.5" cy="159.1" r="1.16"/><circle cx="311.9" cy="204.0" r="0.68"/><circle cx="306.6" cy="207.6" r="1.05"/><circle cx="338.1" cy="164.5" r="0.75"/><circle cx="319.6" cy="184.0" r="1.29"/><circle cx="320.0" cy="144.3" r="1.13"/><circle cx="327.8" cy="163.8" r="0.80"/><circle cx="325.3" cy="165.1" r="1.04"/><circle cx="308.4" cy="202.0" r="0.78"/><circle cx="269.7" cy="157.5" r="1.12"/><circle cx="296.2" cy="142.1" r="0.97"/><circle cx="302.7" cy="169.4" r="0.74"/><circle cx="317.3" cy="182.6" r="0.95"/><circle cx="325.6" cy="199.0" r="0.64"/><circle cx="273.2" cy="176.2" r="0.73"/><circle cx="265.1" cy="194.2" r="0.75"/><circle cx="307.2" cy="143.4" r="0.80"/><circle cx="279.1" cy="189.6" r="0.60"/><circle cx="311.4" cy="215.8" r="0.72"/><circle cx="266.8" cy="185.9" r="1.07"/><circle cx="292.1" cy="165.8" r="1.32"/><circle cx="339.9" cy="185.3" r="0.67"/><circle cx="284.1" cy="169.7" r="0.96"/><circle cx="299.3" cy="207.1" r="0.64"/><circle cx="304.7" cy="206.2" r="1.08"/><circle cx="327.1" cy="209.0" r="1.27"/><circle cx="270.7" cy="204.3" r="0.57"/><circle cx="299.4" cy="202.7" r="1.13"/><circle cx="339.4" cy="169.4" r="0.72"/><circle cx="283.7" cy="188.6" r="0.75"/><circle cx="276.2" cy="157.1" r="0.56"/><circle cx="282.1" cy="186.1" r="0.89"/><circle cx="331.0" cy="195.9" r="0.62"/><circle cx="311.4" cy="202.0" r="0.65"/><circle cx="285.2" cy="142.1" r="0.59"/><circle cx="326.2" cy="202.7" r="1.30"/><circle cx="291.5" cy="195.3" r="0.59"/><circle cx="313.1" cy="193.7" r="1.12"/><circle cx="331.0" cy="204.0" r="0.75"/><circle cx="266.3" cy="164.9" r="1.22"/><circle cx="321.1" cy="188.8" r="0.90"/><circle cx="319.1" cy="197.4" r="1.06"/><circle cx="268.9" cy="164.7" r="1.10"/><circle cx="324.4" cy="153.7" r="1.12"/><circle cx="317.0" cy="163.4" r="1.26"/><circle cx="333.2" cy="161.0" r="0.55"/><circle cx="321.3" cy="147.6" r="0.82"/><circle cx="304.2" cy="162.8" r="1.24"/><circle cx="325.4" cy="187.1" r="0.67"/><circle cx="288.8" cy="160.1" r="1.18"/><circle cx="312.1" cy="184.8" r="1.06"/><circle cx="273.3" cy="177.7" r="1.29"/><circle cx="297.8" cy="175.0" r="0.86"/><circle cx="308.4" cy="208.1" r="1.21"/><circle cx="275.0" cy="181.9" r="1.05"/><circle cx="317.8" cy="198.6" r="0.97"/><circle cx="285.6" cy="180.5" r="1.10"/><circle cx="262.7" cy="175.2" r="0.98"/><circle cx="273.0" cy="167.3" r="0.75"/><circle cx="323.3" cy="189.5" r="0.62"/><circle cx="325.2" cy="205.0" r="0.58"/><circle cx="327.7" cy="208.2" r="0.64"/><circle cx="286.2" cy="181.2" r="0.99"/><circle cx="304.2" cy="158.9" r="1.17"/><circle cx="311.4" cy="204.4" r="0.66"/><circle cx="313.8" cy="214.6" r="1.28"/><circle cx="324.0" cy="173.9" r="0.81"/><circle cx="333.2" cy="189.6" r="0.81"/><circle cx="328.4" cy="157.6" r="1.26"/><circle cx="337.7" cy="167.5" r="1.10"/><circle cx="311.9" cy="203.3" r="1.06"/><circle cx="267.5" cy="165.5" r="0.71"/><circle cx="279.3" cy="155.4" r="0.89"/><circle cx="300.0" cy="161.4" r="0.68"/><circle cx="297.0" cy="171.2" r="1.01"/><circle cx="287.6" cy="216.8" r="0.83"/><circle cx="270.9" cy="156.4" r="1.25"/><circle cx="277.6" cy="150.6" r="0.74"/><circle cx="328.8" cy="174.7" r="0.56"/><circle cx="327.6" cy="160.3" r="1.12"/><circle cx="282.6" cy="157.5" r="0.95"/><circle cx="324.4" cy="174.3" r="1.28"/><circle cx="317.6" cy="188.3" r="1.18"/><circle cx="275.4" cy="167.2" r="0.71"/><circle cx="335.3" cy="159.3" r="1.08"/><circle cx="334.3" cy="199.8" r="1.03"/><circle cx="308.8" cy="168.7" r="0.99"/><circle cx="268.9" cy="194.4" r="0.67"/><circle cx="280.5" cy="169.4" r="1.11"/><circle cx="312.4" cy="141.7" r="1.18"/><circle cx="275.5" cy="206.9" r="1.01"/><circle cx="288.9" cy="191.4" r="1.21"/><circle cx="305.3" cy="199.7" r="0.82"/><circle cx="299.9" cy="181.7" r="0.66"/><circle cx="306.0" cy="206.3" r="1.21"/><circle cx="300.4" cy="148.9" r="0.79"/><circle cx="331.0" cy="177.6" r="1.28"/><circle cx="283.4" cy="158.1" r="1.05"/><circle cx="311.7" cy="167.6" r="0.78"/><circle cx="325.2" cy="192.8" r="1.13"/><circle cx="332.8" cy="170.8" r="0.77"/><circle cx="313.4" cy="186.6" r="0.58"/><circle cx="289.5" cy="213.7" r="0.67"/><circle cx="286.1" cy="204.3" r="1.28"/><circle cx="304.2" cy="172.4" r="1.10"/><circle cx="299.8" cy="218.1" r="1.09"/><circle cx="299.5" cy="170.6" r="0.66"/><circle cx="292.9" cy="176.5" r="1.27"/><circle cx="308.8" cy="145.7" r="1.12"/><circle cx="316.3" cy="149.5" r="0.56"/><circle cx="316.8" cy="192.6" r="0.60"/><circle cx="336.8" cy="192.5" r="1.32"/><circle cx="279.0" cy="176.9" r="0.80"/><circle cx="273.9" cy="196.1" r="0.73"/><circle cx="307.3" cy="171.3" r="0.58"/><circle cx="317.6" cy="149.5" r="0.57"/><circle cx="294.9" cy="186.3" r="1.14"/><circle cx="312.0" cy="191.4" r="1.10"/><circle cx="299.6" cy="216.5" r="1.32"/><circle cx="297.3" cy="179.3" r="0.91"/><circle cx="337.1" cy="173.7" r="0.99"/><circle cx="275.2" cy="154.6" r="0.64"/><circle cx="328.0" cy="203.9" r="0.77"/><circle cx="335.1" cy="161.0" r="1.12"/><circle cx="292.4" cy="205.2" r="0.80"/><circle cx="311.6" cy="181.7" r="0.62"/><circle cx="274.2" cy="163.8" r="1.30"/><circle cx="267.1" cy="196.1" r="0.61"/><circle cx="307.4" cy="146.9" r="0.73"/><circle cx="315.2" cy="177.9" r="1.09"/><circle cx="300.3" cy="154.9" r="0.60"/><circle cx="317.8" cy="167.8" r="0.91"/><circle cx="301.7" cy="144.9" r="1.09"/><circle cx="284.9" cy="198.3" r="0.93"/><circle cx="265.8" cy="178.3" r="0.57"/><circle cx="273.7" cy="181.7" r="1.02"/><circle cx="273.6" cy="179.3" r="1.20"/><circle cx="288.5" cy="211.9" r="0.60"/><circle cx="269.3" cy="160.4" r="0.56"/><circle cx="281.4" cy="158.6" r="1.34"/><circle cx="316.6" cy="196.7" r="0.90"/><circle cx="308.0" cy="165.7" r="0.65"/><circle cx="340.5" cy="184.5" r="1.05"/><circle cx="299.6" cy="219.4" r="0.79"/><circle cx="288.9" cy="169.9" r="1.05"/><circle cx="288.5" cy="159.5" r="0.99"/><circle cx="318.2" cy="152.5" r="0.89"/><circle cx="311.1" cy="147.5" r="0.89"/><circle cx="330.1" cy="173.6" r="0.77"/><circle cx="296.8" cy="154.5" r="1.35"/><circle cx="309.2" cy="156.4" r="0.61"/><circle cx="284.4" cy="184.8" r="0.79"/><circle cx="286.9" cy="160.3" r="1.16"/><circle cx="273.2" cy="163.5" r="0.56"/><circle cx="295.9" cy="141.9" r="0.62"/><circle cx="317.3" cy="201.8" r="0.57"/><circle cx="279.5" cy="157.1" r="1.24"/><circle cx="323.1" cy="192.1" r="0.79"/><circle cx="322.8" cy="191.1" r="1.31"/><circle cx="314.0" cy="161.0" r="0.82"/><circle cx="266.0" cy="188.6" r="0.79"/><circle cx="281.7" cy="206.6" r="0.86"/><circle cx="262.7" cy="171.4" r="1.22"/><circle cx="308.3" cy="143.4" r="1.26"/><circle cx="336.4" cy="195.0" r="0.95"/><circle cx="274.3" cy="161.1" r="0.69"/><circle cx="329.2" cy="175.2" r="0.89"/><circle cx="290.8" cy="160.2" r="1.16"/><circle cx="322.4" cy="156.0" r="1.28"/><circle cx="306.6" cy="153.9" r="1.28"/><circle cx="320.4" cy="187.1" r="1.17"/><circle cx="318.0" cy="211.0" r="1.13"/><circle cx="303.9" cy="207.8" r="0.56"/><circle cx="306.6" cy="166.7" r="0.65"/><circle cx="320.8" cy="210.0" r="0.72"/><circle cx="298.1" cy="215.9" r="0.90"/><circle cx="333.2" cy="181.7" r="0.64"/><circle cx="274.0" cy="191.0" r="0.85"/><circle cx="329.8" cy="202.5" r="0.84"/><circle cx="329.3" cy="174.6" r="1.15"/><circle cx="328.1" cy="177.6" r="1.29"/><circle cx="319.1" cy="147.7" r="1.22"/></g><g fill="#555" opacity="0.8"><circle cx="311.8" cy="206.8" r="0.59"/><circle cx="272.3" cy="161.2" r="0.58"/><circle cx="303.9" cy="166.8" r="0.37"/><circle cx="291.4" cy="197.9" r="0.52"/><circle cx="289.5" cy="140.0" r="0.40"/><circle cx="297.1" cy="193.6" r="0.37"/><circle cx="270.9" cy="177.4" r="0.33"/><circle cx="314.3" cy="165.8" r="0.51"/><circle cx="309.1" cy="169.5" r="0.43"/><circle cx="309.3" cy="154.6" r="0.51"/><circle cx="279.9" cy="197.4" r="0.46"/><circle cx="290.6" cy="142.1" r="0.33"/><circle cx="296.0" cy="184.6" r="0.39"/><circle cx="271.7" cy="155.9" r="0.34"/><circle cx="276.5" cy="166.4" r="0.44"/><circle cx="292.6" cy="159.3" r="0.38"/><circle cx="270.3" cy="207.7" r="0.45"/><circle cx="278.1" cy="209.1" r="0.57"/><circle cx="270.5" cy="170.9" r="0.37"/><circle cx="276.8" cy="174.9" r="0.55"/><circle cx="309.9" cy="165.5" r="0.58"/><circle cx="293.2" cy="169.7" r="0.37"/><circle cx="313.5" cy="177.1" r="0.37"/><circle cx="292.9" cy="153.2" r="0.48"/><circle cx="339.7" cy="172.9" r="0.44"/><circle cx="307.6" cy="167.3" r="0.35"/><circle cx="304.9" cy="203.8" r="0.55"/><circle cx="307.8" cy="161.4" r="0.47"/><circle cx="299.6" cy="146.4" r="0.40"/><circle cx="299.6" cy="161.2" r="0.49"/><circle cx="311.2" cy="203.8" r="0.35"/><circle cx="288.1" cy="153.9" r="0.39"/><circle cx="295.5" cy="180.3" r="0.37"/><circle cx="290.1" cy="144.4" r="0.45"/><circle cx="295.4" cy="168.3" r="0.44"/><circle cx="310.4" cy="143.8" r="0.34"/><circle cx="279.5" cy="170.8" r="0.33"/><circle cx="297.2" cy="162.2" r="0.32"/><circle cx="314.3" cy="194.5" r="0.57"/><circle cx="302.0" cy="143.8" r="0.55"/><circle cx="308.7" cy="161.0" r="0.41"/><circle cx="323.3" cy="191.6" r="0.38"/><circle cx="310.7" cy="155.3" r="0.45"/><circle cx="283.2" cy="165.4" r="0.39"/><circle cx="281.6" cy="211.6" r="0.36"/><circle cx="277.9" cy="166.1" r="0.49"/><circle cx="279.4" cy="173.1" r="0.50"/><circle cx="293.2" cy="197.2" r="0.43"/><circle cx="325.3" cy="206.8" r="0.38"/><circle cx="261.3" cy="172.8" r="0.30"/><circle cx="330.9" cy="174.2" r="0.45"/><circle cx="316.9" cy="145.7" r="0.34"/><circle cx="338.7" cy="187.9" r="0.33"/><circle cx="272.7" cy="199.6" r="0.53"/><circle cx="275.1" cy="169.1" r="0.46"/><circle cx="323.2" cy="151.6" r="0.59"/><circle cx="326.7" cy="176.8" r="0.31"/><circle cx="271.4" cy="158.6" r="0.32"/><circle cx="295.9" cy="157.3" r="0.31"/><circle cx="288.4" cy="154.8" r="0.37"/><circle cx="330.2" cy="187.4" r="0.34"/><circle cx="289.0" cy="178.7" r="0.42"/><circle cx="291.5" cy="143.1" r="0.52"/><circle cx="296.1" cy="179.5" r="0.60"/><circle cx="277.9" cy="158.4" r="0.54"/><circle cx="317.4" cy="177.6" r="0.41"/><circle cx="330.3" cy="177.8" r="0.32"/><circle cx="323.6" cy="206.6" r="0.53"/><circle cx="301.6" cy="155.6" r="0.45"/><circle cx="329.7" cy="160.1" r="0.52"/><circle cx="307.3" cy="215.1" r="0.53"/><circle cx="316.3" cy="209.1" r="0.44"/><circle cx="273.8" cy="189.8" r="0.50"/><circle cx="309.4" cy="169.5" r="0.58"/><circle cx="310.1" cy="182.5" r="0.44"/><circle cx="276.7" cy="189.9" r="0.43"/><circle cx="280.3" cy="187.4" r="0.41"/><circle cx="306.4" cy="155.2" r="0.47"/><circle cx="328.6" cy="149.2" r="0.56"/><circle cx="294.5" cy="157.1" r="0.45"/><circle cx="302.9" cy="193.3" r="0.31"/><circle cx="280.1" cy="161.5" r="0.32"/><circle cx="298.4" cy="212.4" r="0.33"/><circle cx="293.7" cy="171.1" r="0.37"/><circle cx="278.6" cy="198.2" r="0.51"/><circle cx="317.4" cy="148.3" r="0.52"/><circle cx="272.4" cy="182.3" r="0.39"/><circle cx="301.3" cy="191.1" r="0.46"/><circle cx="321.7" cy="167.6" r="0.56"/><circle cx="301.5" cy="154.7" r="0.49"/><circle cx="280.6" cy="167.3" r="0.31"/><circle cx="278.7" cy="171.1" r="0.49"/><circle cx="329.2" cy="158.8" r="0.58"/><circle cx="269.8" cy="156.9" r="0.44"/><circle cx="284.8" cy="199.1" r="0.34"/><circle cx="278.2" cy="172.9" r="0.40"/><circle cx="292.9" cy="161.9" r="0.40"/><circle cx="325.7" cy="198.8" r="0.48"/><circle cx="327.0" cy="173.9" r="0.33"/><circle cx="300.3" cy="156.9" r="0.44"/><circle cx="333.2" cy="174.7" r="0.47"/><circle cx="306.3" cy="191.6" r="0.52"/><circle cx="301.4" cy="168.8" r="0.37"/><circle cx="313.6" cy="169.2" r="0.47"/><circle cx="307.6" cy="161.7" r="0.52"/><circle cx="336.2" cy="160.5" r="0.44"/><circle cx="338.9" cy="184.8" r="0.48"/><circle cx="281.3" cy="191.7" r="0.58"/><circle cx="271.4" cy="190.5" r="0.46"/><circle cx="337.6" cy="198.0" r="0.39"/><circle cx="288.5" cy="173.1" r="0.54"/><circle cx="292.7" cy="176.5" r="0.46"/><circle cx="297.1" cy="220.0" r="0.55"/><circle cx="314.3" cy="155.7" r="0.58"/><circle cx="275.6" cy="185.6" r="0.35"/><circle cx="331.5" cy="159.7" r="0.40"/><circle cx="266.4" cy="173.4" r="0.48"/><circle cx="309.4" cy="217.4" r="0.46"/><circle cx="271.5" cy="200.6" r="0.57"/><circle cx="341.4" cy="176.9" r="0.38"/><circle cx="313.9" cy="140.7" r="0.33"/><circle cx="310.9" cy="180.7" r="0.51"/><circle cx="334.8" cy="179.9" r="0.51"/><circle cx="311.3" cy="173.4" r="0.37"/><circle cx="268.3" cy="176.0" r="0.52"/><circle cx="334.7" cy="184.0" r="0.52"/><circle cx="278.0" cy="185.0" r="0.42"/><circle cx="303.9" cy="180.8" r="0.40"/><circle cx="296.9" cy="192.8" r="0.52"/><circle cx="287.3" cy="183.7" r="0.41"/><circle cx="301.7" cy="170.1" r="0.39"/><circle cx="284.8" cy="216.6" r="0.52"/><circle cx="310.5" cy="148.2" r="0.51"/><circle cx="303.7" cy="172.3" r="0.54"/><circle cx="334.2" cy="156.0" r="0.51"/><circle cx="333.2" cy="204.0" r="0.46"/><circle cx="327.7" cy="179.4" r="0.33"/><circle cx="288.4" cy="208.0" r="0.32"/><circle cx="292.9" cy="177.6" r="0.42"/><circle cx="334.0" cy="167.4" r="0.47"/><circle cx="320.3" cy="212.0" r="0.58"/><circle cx="304.3" cy="154.8" r="0.35"/><circle cx="297.6" cy="194.3" r="0.53"/><circle cx="334.2" cy="164.2" r="0.35"/><circle cx="266.7" cy="179.9" r="0.55"/><circle cx="301.3" cy="205.0" r="0.31"/><circle cx="284.0" cy="168.8" r="0.57"/><circle cx="274.0" cy="164.5" r="0.51"/><circle cx="303.5" cy="190.5" r="0.51"/><circle cx="302.5" cy="215.3" r="0.42"/><circle cx="319.0" cy="206.8" r="0.33"/><circle cx="284.2" cy="209.0" r="0.60"/><circle cx="271.2" cy="204.4" r="0.50"/><circle cx="310.7" cy="179.9" r="0.56"/><circle cx="327.4" cy="179.7" r="0.59"/><circle cx="314.2" cy="182.6" r="0.45"/><circle cx="325.7" cy="194.3" r="0.56"/><circle cx="287.1" cy="197.4" r="0.46"/><circle cx="338.0" cy="183.1" r="0.39"/><circle cx="296.6" cy="138.8" r="0.38"/><circle cx="285.8" cy="184.8" r="0.33"/><circle cx="299.3" cy="189.5" r="0.46"/><circle cx="297.3" cy="213.2" r="0.57"/><circle cx="288.0" cy="207.2" r="0.58"/><circle cx="288.1" cy="194.0" r="0.35"/><circle cx="306.9" cy="189.8" r="0.52"/><circle cx="307.8" cy="202.2" r="0.51"/><circle cx="274.8" cy="205.8" r="0.38"/><circle cx="326.8" cy="185.0" r="0.45"/><circle cx="280.3" cy="152.3" r="0.49"/><circle cx="316.9" cy="215.9" r="0.59"/><circle cx="311.9" cy="160.3" r="0.31"/><circle cx="270.2" cy="191.0" r="0.44"/><circle cx="304.9" cy="212.3" r="0.58"/><circle cx="333.1" cy="187.8" r="0.36"/><circle cx="275.1" cy="190.0" r="0.55"/><circle cx="289.4" cy="163.8" r="0.30"/><circle cx="281.0" cy="178.3" r="0.51"/><circle cx="295.0" cy="178.2" r="0.50"/><circle cx="289.1" cy="139.2" r="0.30"/><circle cx="298.4" cy="190.6" r="0.40"/><circle cx="307.8" cy="208.5" r="0.51"/><circle cx="277.7" cy="155.4" r="0.32"/><circle cx="294.0" cy="207.8" r="0.36"/><circle cx="313.2" cy="175.3" r="0.59"/><circle cx="290.6" cy="214.7" r="0.46"/><circle cx="304.2" cy="208.4" r="0.44"/><circle cx="272.6" cy="150.0" r="0.33"/><circle cx="314.6" cy="199.5" r="0.58"/><circle cx="301.3" cy="162.6" r="0.57"/><circle cx="276.6" cy="200.1" r="0.35"/><circle cx="324.9" cy="147.7" r="0.39"/><circle cx="325.3" cy="174.1" r="0.30"/><circle cx="276.6" cy="177.2" r="0.43"/><circle cx="290.4" cy="166.8" r="0.44"/><circle cx="288.9" cy="197.1" r="0.58"/><circle cx="289.7" cy="153.0" r="0.38"/><circle cx="304.9" cy="178.3" r="0.56"/><circle cx="291.8" cy="215.7" r="0.38"/><circle cx="286.1" cy="187.4" r="0.31"/><circle cx="304.1" cy="165.1" r="0.43"/><circle cx="308.3" cy="157.1" r="0.49"/><circle cx="333.8" cy="166.3" r="0.57"/><circle cx="328.5" cy="188.3" r="0.53"/><circle cx="292.2" cy="186.4" r="0.36"/><circle cx="279.1" cy="192.0" r="0.37"/><circle cx="327.7" cy="208.6" r="0.55"/><circle cx="323.1" cy="162.9" r="0.43"/><circle cx="332.3" cy="173.2" r="0.49"/><circle cx="273.4" cy="158.1" r="0.41"/><circle cx="259.3" cy="176.6" r="0.48"/><circle cx="303.4" cy="138.8" r="0.44"/><circle cx="336.8" cy="179.3" r="0.54"/><circle cx="293.3" cy="187.8" r="0.43"/><circle cx="301.8" cy="148.8" r="0.47"/><circle cx="307.4" cy="210.0" r="0.36"/><circle cx="286.1" cy="154.2" r="0.57"/><circle cx="279.8" cy="212.0" r="0.51"/><circle cx="307.4" cy="214.9" r="0.40"/><circle cx="340.0" cy="179.5" r="0.54"/><circle cx="275.8" cy="204.3" r="0.32"/><circle cx="322.6" cy="182.5" r="0.60"/><circle cx="271.5" cy="187.5" r="0.59"/><circle cx="291.7" cy="171.0" r="0.48"/><circle cx="267.8" cy="195.8" r="0.53"/><circle cx="274.9" cy="207.2" r="0.53"/><circle cx="278.9" cy="196.0" r="0.50"/><circle cx="282.4" cy="212.2" r="0.58"/><circle cx="307.3" cy="163.6" r="0.39"/><circle cx="265.5" cy="164.5" r="0.58"/><circle cx="335.1" cy="167.7" r="0.57"/><circle cx="264.3" cy="168.6" r="0.60"/><circle cx="295.7" cy="179.4" r="0.34"/><circle cx="306.7" cy="192.0" r="0.39"/><circle cx="337.2" cy="192.7" r="0.47"/><circle cx="286.2" cy="183.4" r="0.36"/><circle cx="274.7" cy="197.0" r="0.46"/><circle cx="302.9" cy="169.9" r="0.60"/><circle cx="289.3" cy="212.8" r="0.45"/><circle cx="331.0" cy="162.1" r="0.48"/><circle cx="328.9" cy="194.0" r="0.44"/><circle cx="278.9" cy="144.0" r="0.36"/><circle cx="329.0" cy="208.3" r="0.30"/><circle cx="281.5" cy="154.4" r="0.34"/><circle cx="291.4" cy="206.5" r="0.33"/><circle cx="261.1" cy="192.2" r="0.42"/><circle cx="291.2" cy="204.1" r="0.49"/><circle cx="313.0" cy="186.1" r="0.51"/><circle cx="322.9" cy="144.1" r="0.57"/><circle cx="332.7" cy="158.7" r="0.55"/></g><g fill="#5a5a5a"><path d="M346.4 174.9L344.7 175.2L343.0 175.2L341.3 176.1L339.6 177.1L338.0 177.7L339.7 177.9L341.4 179.1L343.2 180.0L344.8 179.4L346.6 180.0Z"/><path d="M345.9 186.5L344.5 185.7L342.8 186.6L341.4 185.3L339.9 185.5L338.1 186.5L339.4 187.7L340.8 188.4L342.5 187.8L343.9 188.7L345.3 189.5Z"/><path d="M344.2 193.6L342.8 193.9L341.8 193.5L340.9 192.7L339.8 192.5L338.1 193.7L338.8 194.9L339.9 195.2L340.8 196.0L341.2 198.0L342.5 197.9Z"/><path d="M338.9 204.4L337.6 204.3L337.1 203.0L335.9 202.7L334.9 202.1L332.9 202.8L332.9 204.8L334.3 204.9L335.0 205.9L335.8 206.6L336.2 208.1Z"/><path d="M332.3 212.4L331.2 210.8L329.4 210.0L327.6 209.2L326.9 207.3L324.5 207.0L325.0 209.0L325.2 211.2L326.2 212.8L328.0 213.6L328.5 215.5Z"/><path d="M325.8 217.5L325.8 216.0L323.4 215.8L323.4 214.3L322.1 213.5L320.7 212.8L320.6 214.4L320.2 216.2L321.9 216.7L321.8 218.3L322.2 219.6Z"/><path d="M316.2 222.3L315.8 220.5L314.9 218.9L313.4 217.5L313.8 215.5L311.8 214.3L311.8 216.1L312.0 217.9L312.6 219.7L312.2 221.7L312.8 223.4Z"/><path d="M306.4 224.6L305.6 223.6L306.4 222.5L305.9 221.4L305.9 220.3L304.3 219.4L302.9 220.6L303.3 221.7L303.6 222.7L302.7 223.9L303.3 224.9Z"/><path d="M299.3 225.1L299.3 222.9L298.8 220.7L298.1 218.4L297.6 216.2L297.2 213.9L296.4 216.1L294.3 218.0L294.4 220.2L292.8 222.3L293.0 224.5Z"/><path d="M287.1 223.1L288.1 221.5L287.5 219.3L288.0 217.5L287.7 215.5L288.1 213.6L286.8 215.1L286.1 216.8L284.9 218.4L284.3 220.1L282.8 221.5Z"/><path d="M278.3 219.4L279.2 217.4L280.6 215.7L281.1 213.4L281.1 210.9L281.7 208.7L279.1 209.6L278.7 211.9L276.5 213.1L275.3 214.9L273.6 216.4Z"/><path d="M270.5 214.0L271.7 212.3L273.3 211.1L274.0 208.9L275.4 207.5L275.7 205.0L274.1 206.3L272.1 207.2L270.4 208.3L268.3 209.1L266.9 210.5Z"/><path d="M263.6 206.5L265.4 205.4L267.3 204.4L268.3 202.1L270.6 201.7L271.5 199.3L269.0 199.3L267.6 201.1L265.5 201.8L263.6 202.8L262.0 204.2Z"/><path d="M259.9 200.6L260.2 199.6L260.8 199.2L261.8 199.4L262.2 198.6L262.6 197.6L261.7 197.5L261.1 197.9L259.7 196.9L259.2 197.6L258.5 197.8Z"/><path d="M255.9 190.2L256.7 189.5L257.7 189.9L258.4 188.3L259.5 189.2L260.2 187.6L259.0 186.6L258.0 186.6L257.1 186.8L256.1 187.0L255.2 186.9Z"/><path d="M254.5 179.9L255.1 179.0L255.7 178.9L256.3 178.6L256.9 178.4L257.6 177.8L257.0 177.5L256.4 176.1L255.8 175.6L255.2 175.1L254.6 175.4Z"/><path d="M254.8 172.9L256.0 172.5L257.1 172.7L258.4 171.6L259.5 172.0L260.8 171.0L260.0 169.2L259.0 168.7L258.1 167.4L257.0 167.4L256.0 167.0Z"/><path d="M258.2 160.7L259.3 161.1L260.8 160.5L261.3 161.9L263.0 161.0L264.3 160.8L264.2 158.6L262.9 158.7L262.5 157.1L261.5 156.6L260.6 156.0Z"/><path d="M261.4 154.7L261.7 155.5L262.8 155.2L263.9 154.8L264.3 155.6L265.3 155.4L265.1 154.4L264.7 153.6L264.3 153.0L263.9 152.2L263.1 152.2Z"/><path d="M268.0 146.4L269.5 146.7L270.3 147.7L270.7 149.0L272.2 149.3L273.6 149.7L273.0 148.6L273.0 146.9L272.3 145.8L271.4 145.0L270.7 143.9Z"/><path d="M274.9 140.7L275.1 142.2L276.8 142.8L277.6 143.9L278.5 145.0L280.6 145.4L280.9 143.5L281.0 141.9L280.1 140.8L279.2 139.8L279.2 138.1Z"/><path d="M284.6 135.7L285.0 137.4L286.7 138.6L287.4 140.1L287.7 141.8L289.8 142.9L291.2 140.7L290.6 139.2L291.1 137.3L290.8 135.6L290.3 134.1Z"/><path d="M296.0 133.2L296.4 133.8L297.1 134.3L297.5 134.9L296.5 135.6L298.1 136.1L299.3 135.4L298.9 134.9L299.6 134.2L299.6 133.6L299.9 133.0Z"/><path d="M302.0 132.9L301.9 133.7L303.0 134.6L302.8 135.3L302.8 136.1L304.7 137.1L305.8 136.4L306.3 135.7L307.5 135.0L307.4 134.2L308.3 133.6Z"/><path d="M312.0 134.4L311.2 136.2L311.1 138.2L311.1 140.3L310.7 142.2L310.8 144.3L312.0 142.6L313.7 141.0L313.4 138.9L314.1 137.1L315.2 135.4Z"/><path d="M322.5 138.6L322.2 139.6L322.2 140.8L322.1 142.0L320.5 142.3L321.3 143.9L322.8 143.6L323.7 143.0L324.7 142.3L324.5 141.0L325.4 140.3Z"/><path d="M328.5 142.5L327.5 143.4L327.2 145.1L326.1 146.0L325.8 147.5L325.2 148.8L326.5 148.1L327.1 146.8L328.1 145.8L330.1 145.6L330.7 144.3Z"/><path d="M337.8 152.1L336.6 152.4L336.0 153.6L335.5 155.0L334.3 155.4L333.8 156.8L335.0 156.3L336.3 156.2L337.1 155.2L338.9 155.9L339.7 154.8Z"/><path d="M341.9 158.7L340.0 159.1L338.5 160.8L336.7 161.5L335.2 163.0L334.0 165.3L336.1 165.2L338.5 165.8L340.1 164.5L342.0 164.1L344.2 164.4Z"/><path d="M344.4 165.0L342.6 165.5L340.7 166.1L339.2 167.9L337.5 168.7L335.8 169.9L338.0 170.6L339.8 170.1L341.7 170.0L343.8 170.1L345.7 169.9Z"/></g></g></g><circle cx="300.5" cy="179" r="43.40" fill="none" stroke="#6a6a6a" stroke-width="1.2" opacity="1"/><g clip-path="url(#c13)"><g filter="url(#gr13)"><circle cx="395.5" cy="179" r="45.7" fill="#bebebe"/><g fill="#3c3c3c" opacity="0.9"><circle cx="413.3" cy="150.9" r="0.65"/><circle cx="409.0" cy="215.9" r="1.04"/><circle cx="396.1" cy="167.1" r="0.62"/><circle cx="390.2" cy="146.4" r="1.11"/><circle cx="412.9" cy="159.5" r="1.29"/><circle cx="382.2" cy="177.6" r="1.27"/><circle cx="363.7" cy="190.6" r="0.74"/><circle cx="428.5" cy="198.6" r="1.11"/><circle cx="415.3" cy="209.2" r="0.76"/><circle cx="374.5" cy="173.3" r="0.79"/><circle cx="428.6" cy="162.0" r="0.75"/><circle cx="429.2" cy="194.8" r="0.58"/><circle cx="405.2" cy="148.4" r="1.16"/><circle cx="420.4" cy="148.8" r="0.71"/><circle cx="425.7" cy="163.5" r="0.57"/><circle cx="411.2" cy="201.8" r="0.61"/><circle cx="382.4" cy="155.1" r="1.28"/><circle cx="381.3" cy="178.5" r="1.30"/><circle cx="361.8" cy="172.1" r="0.69"/><circle cx="393.4" cy="210.2" r="1.02"/><circle cx="370.9" cy="199.0" r="1.14"/><circle cx="371.0" cy="183.9" r="1.17"/><circle cx="403.3" cy="197.1" r="0.96"/><circle cx="413.7" cy="160.6" r="0.70"/><circle cx="417.9" cy="187.5" r="0.86"/><circle cx="374.6" cy="186.0" r="1.11"/><circle cx="403.1" cy="178.5" r="1.07"/><circle cx="361.1" cy="170.4" r="0.96"/><circle cx="375.5" cy="194.3" r="0.68"/><circle cx="389.6" cy="199.8" r="0.77"/><circle cx="406.7" cy="143.3" r="1.01"/><circle cx="395.1" cy="184.1" r="0.93"/><circle cx="366.9" cy="194.9" r="1.01"/><circle cx="391.4" cy="216.2" r="0.81"/><circle cx="381.2" cy="210.2" r="1.08"/><circle cx="420.1" cy="182.0" r="0.87"/><circle cx="397.7" cy="169.0" r="1.18"/><circle cx="418.6" cy="162.1" r="0.67"/><circle cx="407.3" cy="202.4" r="0.54"/><circle cx="429.3" cy="190.5" r="1.25"/><circle cx="386.5" cy="151.0" r="0.54"/><circle cx="405.7" cy="142.9" r="0.58"/><circle cx="406.2" cy="192.0" r="0.90"/><circle cx="398.8" cy="168.5" r="0.90"/><circle cx="394.5" cy="212.0" r="1.02"/><circle cx="379.7" cy="157.7" r="0.83"/><circle cx="417.7" cy="146.8" r="1.17"/><circle cx="403.8" cy="200.4" r="0.62"/><circle cx="409.5" cy="176.1" r="0.73"/><circle cx="399.6" cy="215.5" r="1.00"/><circle cx="388.6" cy="197.4" r="1.10"/><circle cx="424.4" cy="168.8" r="0.69"/><circle cx="414.4" cy="186.9" r="0.67"/><circle cx="359.6" cy="163.8" r="0.88"/><circle cx="396.9" cy="156.1" r="1.05"/><circle cx="410.4" cy="183.5" r="0.64"/><circle cx="391.7" cy="143.6" r="0.68"/><circle cx="388.8" cy="196.8" r="1.04"/><circle cx="398.0" cy="212.9" r="0.76"/><circle cx="413.6" cy="172.6" r="0.94"/><circle cx="397.4" cy="217.1" r="1.01"/><circle cx="422.5" cy="166.7" r="0.79"/><circle cx="403.3" cy="161.9" r="1.26"/><circle cx="381.6" cy="203.4" r="0.57"/><circle cx="418.9" cy="167.1" r="0.79"/><circle cx="371.3" cy="168.6" r="0.69"/><circle cx="382.6" cy="177.5" r="1.27"/><circle cx="383.7" cy="213.8" r="1.13"/><circle cx="364.4" cy="161.1" r="0.79"/><circle cx="390.5" cy="162.3" r="1.05"/><circle cx="407.0" cy="193.1" r="0.59"/><circle cx="422.4" cy="155.4" r="0.91"/><circle cx="387.4" cy="149.4" r="0.63"/><circle cx="368.6" cy="188.1" r="1.20"/><circle cx="404.6" cy="165.9" r="0.61"/><circle cx="419.4" cy="159.6" r="0.56"/><circle cx="422.8" cy="179.8" r="0.91"/><circle cx="422.0" cy="172.1" r="0.89"/><circle cx="390.6" cy="141.8" r="1.17"/><circle cx="414.7" cy="192.2" r="1.01"/><circle cx="386.2" cy="169.6" r="0.64"/><circle cx="398.6" cy="148.6" r="1.27"/><circle cx="403.5" cy="194.7" r="0.84"/><circle cx="394.4" cy="217.8" r="0.88"/><circle cx="418.0" cy="188.2" r="0.93"/><circle cx="374.1" cy="183.1" r="1.09"/><circle cx="396.5" cy="211.1" r="1.02"/><circle cx="398.2" cy="150.3" r="0.50"/><circle cx="385.8" cy="160.5" r="0.95"/><circle cx="368.0" cy="173.9" r="0.99"/><circle cx="412.6" cy="149.9" r="1.12"/><circle cx="362.2" cy="161.9" r="0.64"/><circle cx="411.0" cy="160.8" r="1.12"/><circle cx="417.0" cy="201.3" r="0.63"/><circle cx="367.4" cy="194.0" r="0.65"/><circle cx="400.0" cy="217.5" r="1.24"/><circle cx="425.3" cy="170.4" r="1.12"/><circle cx="398.0" cy="196.5" r="1.19"/><circle cx="369.6" cy="178.4" r="1.10"/><circle cx="389.7" cy="149.0" r="0.92"/><circle cx="391.8" cy="158.7" r="0.60"/><circle cx="405.0" cy="146.9" r="0.61"/><circle cx="397.2" cy="178.0" r="0.65"/><circle cx="388.4" cy="206.8" r="0.61"/><circle cx="413.4" cy="187.9" r="1.18"/><circle cx="402.7" cy="145.3" r="0.62"/><circle cx="413.8" cy="191.9" r="1.18"/><circle cx="432.3" cy="166.6" r="1.17"/><circle cx="364.7" cy="179.5" r="0.59"/><circle cx="390.3" cy="174.2" r="1.27"/><circle cx="361.7" cy="198.3" r="0.92"/><circle cx="388.0" cy="215.1" r="1.09"/><circle cx="367.6" cy="191.3" r="0.81"/><circle cx="405.0" cy="191.5" r="0.74"/><circle cx="411.9" cy="143.5" r="0.51"/><circle cx="417.1" cy="205.5" r="0.96"/><circle cx="426.8" cy="157.9" r="1.21"/><circle cx="368.9" cy="150.2" r="0.53"/><circle cx="385.9" cy="161.7" r="0.98"/><circle cx="413.5" cy="212.0" r="1.21"/><circle cx="370.5" cy="162.5" r="0.60"/><circle cx="372.1" cy="176.9" r="1.10"/><circle cx="375.0" cy="153.9" r="1.07"/><circle cx="383.6" cy="199.1" r="1.28"/><circle cx="365.5" cy="167.2" r="1.27"/><circle cx="388.9" cy="143.0" r="1.28"/><circle cx="417.3" cy="168.0" r="0.96"/><circle cx="374.5" cy="193.8" r="0.54"/><circle cx="432.0" cy="172.9" r="0.80"/><circle cx="421.6" cy="207.0" r="0.87"/><circle cx="369.1" cy="150.0" r="0.63"/><circle cx="426.4" cy="184.1" r="1.08"/><circle cx="376.9" cy="155.2" r="1.04"/><circle cx="404.5" cy="170.8" r="1.11"/><circle cx="400.0" cy="215.9" r="0.68"/><circle cx="425.0" cy="163.3" r="0.96"/><circle cx="377.4" cy="186.0" r="0.69"/><circle cx="421.9" cy="172.0" r="1.04"/><circle cx="410.8" cy="170.0" r="1.20"/><circle cx="420.5" cy="179.1" r="1.03"/><circle cx="411.1" cy="195.1" r="1.23"/><circle cx="408.3" cy="200.4" r="0.73"/><circle cx="372.2" cy="210.6" r="0.88"/><circle cx="412.7" cy="188.7" r="0.61"/><circle cx="386.3" cy="181.6" r="0.84"/><circle cx="412.0" cy="150.4" r="1.20"/><circle cx="381.7" cy="173.8" r="0.61"/><circle cx="379.3" cy="193.0" r="0.81"/><circle cx="363.3" cy="195.4" r="0.63"/><circle cx="393.6" cy="209.4" r="1.22"/><circle cx="402.7" cy="189.7" r="0.55"/><circle cx="399.9" cy="158.0" r="0.56"/><circle cx="420.0" cy="160.5" r="0.69"/><circle cx="389.8" cy="145.5" r="1.27"/><circle cx="370.4" cy="152.8" r="0.84"/><circle cx="412.7" cy="195.6" r="0.54"/><circle cx="388.9" cy="209.9" r="0.63"/><circle cx="412.1" cy="200.5" r="1.01"/><circle cx="368.8" cy="206.6" r="0.53"/><circle cx="389.3" cy="193.9" r="1.21"/><circle cx="365.4" cy="155.3" r="0.82"/><circle cx="401.9" cy="168.7" r="0.52"/><circle cx="393.4" cy="159.0" r="1.05"/><circle cx="412.4" cy="177.9" r="1.02"/><circle cx="398.9" cy="211.5" r="1.14"/><circle cx="390.4" cy="175.2" r="0.52"/><circle cx="366.0" cy="160.3" r="0.95"/><circle cx="400.3" cy="155.5" r="0.53"/><circle cx="410.8" cy="180.1" r="1.00"/><circle cx="405.5" cy="179.4" r="1.18"/><circle cx="381.0" cy="195.7" r="1.16"/><circle cx="408.5" cy="158.9" r="1.29"/><circle cx="396.6" cy="191.8" r="0.51"/><circle cx="378.6" cy="167.9" r="1.28"/><circle cx="389.0" cy="144.5" r="0.62"/><circle cx="360.9" cy="194.4" r="1.12"/><circle cx="412.6" cy="176.3" r="0.81"/><circle cx="409.3" cy="162.8" r="1.03"/><circle cx="371.8" cy="186.6" r="1.09"/><circle cx="371.6" cy="174.8" r="0.90"/><circle cx="380.9" cy="199.1" r="0.71"/><circle cx="376.4" cy="149.7" r="0.64"/><circle cx="383.0" cy="189.0" r="0.98"/><circle cx="378.6" cy="156.7" r="1.06"/><circle cx="415.0" cy="187.7" r="1.03"/><circle cx="380.7" cy="203.8" r="1.21"/><circle cx="406.6" cy="189.0" r="1.00"/><circle cx="381.5" cy="159.1" r="0.57"/><circle cx="374.9" cy="160.9" r="0.85"/><circle cx="408.6" cy="186.1" r="0.75"/><circle cx="411.2" cy="164.7" r="0.55"/><circle cx="428.1" cy="169.3" r="0.92"/><circle cx="383.3" cy="168.6" r="1.24"/><circle cx="391.9" cy="154.0" r="0.67"/><circle cx="383.5" cy="195.0" r="0.99"/><circle cx="415.7" cy="211.3" r="0.53"/><circle cx="383.4" cy="163.3" r="1.05"/><circle cx="390.4" cy="150.6" r="0.89"/><circle cx="410.5" cy="175.0" r="0.77"/><circle cx="397.1" cy="182.0" r="0.71"/><circle cx="385.2" cy="210.7" r="0.64"/><circle cx="377.7" cy="151.7" r="1.03"/><circle cx="412.5" cy="167.8" r="1.01"/><circle cx="418.8" cy="165.4" r="0.69"/><circle cx="376.5" cy="168.9" r="0.96"/><circle cx="419.8" cy="195.5" r="1.10"/><circle cx="370.7" cy="208.9" r="1.16"/><circle cx="406.3" cy="187.9" r="0.97"/><circle cx="360.6" cy="163.8" r="0.69"/><circle cx="408.6" cy="171.3" r="1.06"/><circle cx="392.0" cy="218.0" r="1.11"/><circle cx="406.9" cy="190.5" r="0.82"/><circle cx="397.6" cy="155.9" r="0.84"/><circle cx="412.1" cy="164.2" r="1.19"/><circle cx="399.7" cy="153.0" r="0.56"/><circle cx="411.2" cy="163.7" r="0.90"/><circle cx="398.0" cy="192.0" r="1.21"/><circle cx="419.9" cy="178.0" r="1.28"/><circle cx="414.2" cy="155.5" r="0.78"/><circle cx="428.3" cy="191.3" r="0.89"/><circle cx="394.9" cy="184.1" r="1.25"/><circle cx="425.3" cy="188.1" r="1.17"/><circle cx="430.8" cy="168.6" r="0.85"/><circle cx="397.5" cy="164.2" r="0.97"/><circle cx="386.9" cy="179.3" r="0.99"/><circle cx="370.7" cy="154.9" r="0.75"/><circle cx="406.6" cy="182.5" r="0.59"/><circle cx="376.2" cy="195.2" r="1.23"/><circle cx="408.4" cy="154.3" r="1.04"/><circle cx="413.7" cy="151.5" r="1.19"/><circle cx="362.8" cy="180.2" r="1.18"/><circle cx="394.4" cy="198.7" r="0.60"/><circle cx="408.5" cy="190.3" r="0.65"/><circle cx="389.1" cy="157.8" r="1.29"/><circle cx="387.5" cy="148.5" r="0.93"/><circle cx="393.3" cy="164.1" r="0.97"/><circle cx="410.2" cy="156.8" r="1.26"/><circle cx="411.5" cy="180.8" r="0.80"/><circle cx="365.7" cy="178.9" r="0.74"/><circle cx="376.8" cy="185.9" r="0.57"/><circle cx="417.3" cy="162.2" r="1.20"/><circle cx="409.9" cy="210.6" r="0.81"/><circle cx="399.8" cy="191.8" r="0.53"/><circle cx="393.8" cy="169.2" r="0.72"/><circle cx="363.3" cy="180.8" r="0.71"/><circle cx="363.6" cy="180.9" r="0.65"/><circle cx="375.0" cy="178.9" r="0.69"/><circle cx="377.1" cy="199.2" r="1.25"/><circle cx="399.2" cy="164.1" r="0.63"/><circle cx="399.6" cy="172.0" r="1.11"/><circle cx="415.4" cy="164.1" r="0.73"/><circle cx="410.0" cy="159.7" r="1.14"/><circle cx="375.5" cy="211.7" r="1.09"/><circle cx="386.4" cy="142.4" r="0.77"/><circle cx="409.2" cy="143.6" r="0.54"/><circle cx="422.4" cy="173.8" r="1.14"/><circle cx="424.8" cy="193.8" r="1.18"/><circle cx="399.7" cy="198.8" r="1.09"/><circle cx="422.6" cy="178.5" r="1.17"/><circle cx="406.4" cy="182.1" r="0.64"/><circle cx="393.8" cy="189.4" r="0.80"/><circle cx="394.6" cy="173.7" r="1.15"/><circle cx="371.3" cy="179.7" r="0.97"/><circle cx="398.3" cy="140.0" r="0.66"/><circle cx="385.9" cy="206.7" r="1.22"/><circle cx="359.7" cy="187.2" r="1.26"/><circle cx="410.9" cy="147.7" r="0.79"/><circle cx="414.2" cy="209.5" r="1.17"/><circle cx="416.1" cy="166.1" r="0.87"/><circle cx="393.4" cy="199.5" r="0.78"/><circle cx="359.4" cy="186.4" r="0.76"/><circle cx="404.4" cy="141.3" r="0.54"/><circle cx="421.5" cy="168.8" r="0.82"/><circle cx="393.3" cy="178.0" r="1.09"/><circle cx="375.1" cy="151.6" r="0.83"/><circle cx="415.0" cy="196.0" r="1.24"/><circle cx="424.3" cy="205.5" r="0.61"/><circle cx="391.1" cy="183.9" r="1.10"/><circle cx="394.4" cy="202.9" r="0.87"/><circle cx="367.3" cy="166.0" r="0.90"/><circle cx="371.6" cy="187.3" r="1.02"/><circle cx="417.2" cy="177.1" r="1.03"/><circle cx="374.2" cy="149.8" r="1.30"/><circle cx="394.4" cy="183.2" r="0.94"/><circle cx="360.0" cy="192.6" r="0.66"/><circle cx="426.0" cy="177.0" r="0.51"/><circle cx="387.5" cy="171.3" r="0.64"/><circle cx="432.8" cy="185.6" r="1.07"/><circle cx="377.7" cy="166.7" r="1.03"/><circle cx="379.2" cy="201.5" r="1.27"/><circle cx="402.2" cy="204.4" r="0.51"/><circle cx="401.7" cy="209.5" r="0.93"/><circle cx="410.4" cy="191.5" r="0.89"/><circle cx="368.7" cy="195.8" r="1.27"/><circle cx="375.3" cy="148.1" r="1.06"/><circle cx="361.9" cy="194.7" r="1.25"/><circle cx="413.7" cy="172.0" r="1.20"/><circle cx="408.0" cy="179.4" r="0.98"/><circle cx="372.7" cy="187.5" r="0.54"/><circle cx="375.9" cy="161.9" r="1.11"/></g><g fill="#555" opacity="0.8"><circle cx="355.8" cy="166.6" r="0.35"/><circle cx="359.4" cy="200.0" r="0.54"/><circle cx="399.3" cy="185.5" r="0.59"/><circle cx="433.5" cy="184.2" r="0.44"/><circle cx="399.1" cy="206.5" r="0.33"/><circle cx="410.5" cy="197.6" r="0.36"/><circle cx="371.0" cy="210.0" r="0.39"/><circle cx="416.6" cy="195.6" r="0.57"/><circle cx="379.6" cy="153.1" r="0.60"/><circle cx="382.6" cy="173.1" r="0.44"/><circle cx="366.3" cy="155.9" r="0.43"/><circle cx="380.4" cy="175.8" r="0.54"/><circle cx="355.8" cy="190.5" r="0.45"/><circle cx="359.5" cy="191.3" r="0.42"/><circle cx="422.4" cy="154.5" r="0.53"/><circle cx="414.6" cy="215.3" r="0.46"/><circle cx="405.3" cy="175.0" r="0.37"/><circle cx="384.7" cy="150.2" r="0.44"/><circle cx="366.8" cy="184.0" r="0.47"/><circle cx="390.7" cy="145.4" r="0.44"/><circle cx="410.1" cy="201.6" r="0.31"/><circle cx="418.3" cy="172.2" r="0.44"/><circle cx="379.0" cy="181.7" r="0.52"/><circle cx="369.5" cy="207.6" r="0.48"/><circle cx="400.7" cy="170.5" r="0.42"/><circle cx="399.5" cy="192.7" r="0.54"/><circle cx="407.5" cy="217.2" r="0.59"/><circle cx="413.7" cy="187.6" r="0.31"/><circle cx="392.1" cy="162.2" r="0.47"/><circle cx="406.2" cy="218.2" r="0.35"/><circle cx="356.5" cy="184.0" r="0.44"/><circle cx="432.5" cy="179.3" r="0.32"/><circle cx="387.7" cy="188.9" r="0.33"/><circle cx="368.4" cy="194.1" r="0.41"/><circle cx="375.7" cy="187.3" r="0.53"/><circle cx="436.7" cy="173.6" r="0.31"/><circle cx="393.2" cy="145.4" r="0.58"/><circle cx="398.0" cy="210.4" r="0.43"/><circle cx="422.8" cy="210.0" r="0.45"/><circle cx="383.6" cy="201.9" r="0.32"/><circle cx="370.9" cy="164.5" r="0.54"/><circle cx="379.1" cy="217.2" r="0.39"/><circle cx="379.6" cy="176.8" r="0.54"/><circle cx="362.9" cy="190.0" r="0.59"/><circle cx="429.4" cy="155.2" r="0.40"/><circle cx="429.6" cy="188.8" r="0.49"/><circle cx="373.8" cy="176.9" r="0.60"/><circle cx="393.1" cy="201.9" r="0.50"/><circle cx="393.4" cy="194.0" r="0.54"/><circle cx="397.6" cy="164.5" r="0.43"/><circle cx="418.4" cy="163.6" r="0.43"/><circle cx="386.0" cy="173.6" r="0.43"/><circle cx="358.1" cy="172.5" r="0.53"/><circle cx="374.6" cy="149.3" r="0.55"/><circle cx="424.0" cy="198.8" r="0.35"/><circle cx="382.8" cy="178.5" r="0.58"/><circle cx="412.7" cy="190.4" r="0.36"/><circle cx="417.9" cy="154.5" r="0.56"/><circle cx="402.2" cy="188.7" r="0.44"/><circle cx="417.4" cy="161.6" r="0.42"/><circle cx="425.8" cy="154.3" r="0.57"/><circle cx="393.0" cy="175.0" r="0.41"/><circle cx="431.0" cy="158.7" r="0.33"/><circle cx="381.2" cy="180.9" r="0.46"/><circle cx="411.6" cy="182.2" r="0.34"/><circle cx="415.7" cy="190.9" r="0.43"/><circle cx="376.8" cy="196.6" r="0.49"/><circle cx="418.4" cy="190.6" r="0.44"/><circle cx="402.3" cy="141.2" r="0.49"/><circle cx="432.9" cy="174.3" r="0.37"/><circle cx="363.4" cy="182.7" r="0.51"/><circle cx="428.6" cy="204.1" r="0.59"/><circle cx="423.5" cy="181.0" r="0.42"/><circle cx="380.6" cy="148.8" r="0.60"/><circle cx="398.3" cy="145.3" r="0.35"/><circle cx="382.6" cy="184.4" r="0.38"/><circle cx="367.6" cy="162.2" r="0.43"/><circle cx="397.2" cy="143.7" r="0.49"/><circle cx="390.0" cy="194.7" r="0.45"/><circle cx="392.4" cy="215.4" r="0.48"/><circle cx="388.1" cy="164.5" r="0.54"/><circle cx="423.9" cy="189.2" r="0.38"/><circle cx="363.8" cy="151.5" r="0.49"/><circle cx="358.2" cy="161.3" r="0.50"/><circle cx="360.6" cy="160.3" r="0.52"/><circle cx="405.2" cy="168.6" r="0.59"/><circle cx="411.2" cy="181.4" r="0.49"/><circle cx="372.7" cy="179.9" r="0.44"/><circle cx="395.3" cy="182.1" r="0.57"/><circle cx="367.5" cy="172.8" r="0.58"/><circle cx="381.5" cy="188.0" r="0.42"/><circle cx="359.8" cy="188.2" r="0.57"/><circle cx="424.1" cy="152.3" r="0.38"/><circle cx="424.0" cy="180.5" r="0.49"/><circle cx="382.0" cy="183.8" r="0.47"/><circle cx="417.1" cy="213.1" r="0.33"/><circle cx="428.7" cy="185.4" r="0.33"/><circle cx="404.1" cy="175.8" r="0.48"/><circle cx="394.3" cy="208.0" r="0.38"/><circle cx="366.1" cy="163.9" r="0.41"/><circle cx="379.8" cy="185.7" r="0.42"/><circle cx="368.8" cy="190.6" r="0.35"/><circle cx="361.2" cy="169.2" r="0.32"/><circle cx="380.9" cy="204.3" r="0.55"/><circle cx="411.6" cy="165.8" r="0.56"/><circle cx="413.5" cy="169.9" r="0.44"/><circle cx="423.5" cy="210.6" r="0.34"/><circle cx="388.2" cy="165.7" r="0.52"/><circle cx="412.0" cy="195.0" r="0.57"/><circle cx="410.2" cy="206.3" r="0.42"/><circle cx="356.5" cy="173.6" r="0.34"/><circle cx="381.0" cy="150.0" r="0.40"/><circle cx="428.7" cy="187.6" r="0.55"/><circle cx="370.4" cy="152.9" r="0.41"/><circle cx="393.8" cy="209.1" r="0.36"/><circle cx="397.8" cy="152.5" r="0.40"/><circle cx="409.0" cy="181.4" r="0.49"/><circle cx="414.8" cy="198.0" r="0.42"/><circle cx="377.6" cy="160.9" r="0.56"/><circle cx="386.5" cy="160.8" r="0.45"/><circle cx="384.7" cy="208.8" r="0.58"/><circle cx="425.2" cy="150.5" r="0.41"/><circle cx="409.8" cy="154.8" r="0.40"/><circle cx="397.5" cy="142.8" r="0.46"/><circle cx="405.6" cy="205.2" r="0.53"/><circle cx="358.7" cy="176.0" r="0.41"/><circle cx="419.2" cy="201.9" r="0.37"/><circle cx="380.6" cy="190.5" r="0.54"/><circle cx="384.0" cy="168.1" r="0.52"/><circle cx="429.2" cy="203.2" r="0.53"/><circle cx="413.3" cy="193.6" r="0.32"/><circle cx="421.2" cy="157.7" r="0.39"/><circle cx="410.4" cy="161.1" r="0.40"/><circle cx="419.3" cy="188.9" r="0.55"/><circle cx="361.9" cy="181.5" r="0.49"/><circle cx="366.7" cy="171.8" r="0.45"/><circle cx="377.0" cy="195.5" r="0.31"/><circle cx="362.2" cy="203.5" r="0.34"/><circle cx="397.4" cy="189.2" r="0.31"/><circle cx="420.5" cy="157.0" r="0.31"/><circle cx="381.3" cy="180.0" r="0.56"/><circle cx="390.9" cy="144.4" r="0.58"/><circle cx="373.3" cy="154.3" r="0.54"/><circle cx="391.1" cy="179.2" r="0.39"/><circle cx="413.8" cy="163.1" r="0.34"/><circle cx="374.0" cy="170.8" r="0.33"/><circle cx="416.7" cy="185.8" r="0.37"/><circle cx="420.5" cy="153.4" r="0.60"/><circle cx="376.6" cy="188.6" r="0.35"/><circle cx="397.6" cy="184.6" r="0.36"/><circle cx="394.7" cy="200.4" r="0.49"/><circle cx="425.7" cy="169.8" r="0.49"/><circle cx="371.8" cy="177.6" r="0.51"/><circle cx="432.1" cy="189.3" r="0.55"/><circle cx="396.9" cy="163.6" r="0.38"/><circle cx="396.9" cy="174.3" r="0.44"/><circle cx="392.4" cy="146.9" r="0.56"/><circle cx="414.1" cy="165.7" r="0.58"/><circle cx="373.8" cy="190.6" r="0.50"/><circle cx="415.0" cy="170.1" r="0.42"/><circle cx="385.3" cy="141.8" r="0.41"/><circle cx="402.9" cy="148.8" r="0.39"/><circle cx="376.3" cy="205.3" r="0.43"/><circle cx="421.9" cy="200.9" r="0.57"/><circle cx="411.8" cy="192.2" r="0.55"/><circle cx="368.3" cy="180.0" r="0.36"/><circle cx="393.1" cy="162.4" r="0.44"/><circle cx="409.7" cy="198.3" r="0.41"/><circle cx="374.2" cy="159.6" r="0.53"/><circle cx="427.0" cy="170.4" r="0.49"/><circle cx="380.0" cy="206.6" r="0.55"/><circle cx="375.6" cy="149.5" r="0.35"/><circle cx="388.6" cy="214.2" r="0.34"/><circle cx="401.6" cy="207.2" r="0.34"/><circle cx="365.3" cy="154.6" r="0.41"/><circle cx="384.5" cy="168.5" r="0.40"/><circle cx="417.8" cy="166.7" r="0.54"/><circle cx="369.6" cy="175.4" r="0.44"/><circle cx="380.4" cy="176.2" r="0.60"/><circle cx="404.7" cy="201.4" r="0.46"/><circle cx="421.2" cy="192.6" r="0.47"/><circle cx="363.3" cy="156.9" r="0.52"/><circle cx="394.5" cy="208.8" r="0.33"/><circle cx="364.1" cy="179.1" r="0.32"/><circle cx="373.7" cy="146.8" r="0.36"/><circle cx="415.1" cy="188.9" r="0.32"/><circle cx="409.6" cy="197.0" r="0.40"/><circle cx="419.1" cy="187.7" r="0.53"/><circle cx="410.2" cy="205.1" r="0.43"/><circle cx="402.1" cy="150.9" r="0.37"/><circle cx="373.5" cy="171.1" r="0.36"/><circle cx="411.7" cy="193.9" r="0.31"/><circle cx="365.6" cy="178.5" r="0.58"/><circle cx="414.7" cy="194.8" r="0.34"/><circle cx="410.6" cy="204.3" r="0.36"/><circle cx="376.8" cy="206.5" r="0.43"/><circle cx="404.8" cy="177.8" r="0.50"/><circle cx="374.7" cy="172.7" r="0.34"/><circle cx="390.0" cy="174.4" r="0.52"/><circle cx="389.4" cy="200.1" r="0.55"/><circle cx="358.0" cy="192.9" r="0.32"/><circle cx="432.4" cy="164.7" r="0.47"/><circle cx="363.9" cy="206.9" r="0.55"/><circle cx="415.3" cy="143.9" r="0.37"/><circle cx="425.0" cy="181.7" r="0.38"/><circle cx="380.3" cy="203.2" r="0.56"/><circle cx="393.2" cy="220.6" r="0.33"/><circle cx="398.8" cy="165.4" r="0.54"/><circle cx="403.3" cy="146.0" r="0.34"/><circle cx="359.4" cy="176.9" r="0.47"/><circle cx="420.1" cy="202.9" r="0.46"/><circle cx="393.9" cy="180.9" r="0.54"/><circle cx="416.9" cy="175.9" r="0.32"/><circle cx="375.2" cy="160.0" r="0.48"/><circle cx="415.3" cy="195.7" r="0.49"/><circle cx="396.3" cy="167.2" r="0.45"/><circle cx="409.3" cy="192.8" r="0.58"/><circle cx="394.6" cy="179.4" r="0.30"/><circle cx="410.0" cy="178.6" r="0.51"/><circle cx="373.0" cy="197.7" r="0.34"/><circle cx="389.4" cy="185.5" r="0.32"/><circle cx="412.1" cy="179.8" r="0.40"/><circle cx="372.4" cy="164.0" r="0.45"/><circle cx="367.7" cy="150.5" r="0.39"/><circle cx="416.4" cy="175.2" r="0.41"/><circle cx="369.8" cy="154.0" r="0.44"/><circle cx="396.2" cy="197.8" r="0.54"/><circle cx="388.9" cy="139.4" r="0.44"/><circle cx="385.8" cy="199.6" r="0.53"/><circle cx="406.2" cy="168.2" r="0.34"/><circle cx="395.7" cy="168.2" r="0.60"/><circle cx="391.7" cy="140.0" r="0.41"/><circle cx="375.7" cy="210.2" r="0.50"/><circle cx="373.1" cy="168.3" r="0.51"/><circle cx="419.2" cy="149.6" r="0.41"/><circle cx="393.5" cy="221.1" r="0.31"/><circle cx="390.1" cy="144.0" r="0.42"/><circle cx="387.7" cy="218.9" r="0.42"/><circle cx="378.1" cy="147.0" r="0.33"/><circle cx="427.3" cy="157.6" r="0.34"/><circle cx="401.5" cy="194.6" r="0.53"/><circle cx="422.8" cy="163.5" r="0.55"/><circle cx="421.1" cy="154.7" r="0.38"/><circle cx="393.0" cy="137.5" r="0.55"/><circle cx="406.4" cy="165.6" r="0.53"/><circle cx="429.6" cy="159.3" r="0.42"/><circle cx="416.5" cy="154.5" r="0.53"/><circle cx="406.9" cy="193.3" r="0.38"/><circle cx="427.9" cy="189.9" r="0.43"/><circle cx="422.8" cy="154.2" r="0.55"/></g><g fill="#5c5c5c"><path d="M442.2 177.4L440.3 177.7L438.4 177.5L436.4 177.5L434.5 178.2L432.6 178.5L434.6 178.9L436.5 178.9L438.4 178.9L440.3 179.8L442.2 179.5Z"/><path d="M442.2 180.9L441.2 180.6L440.3 180.7L439.3 180.8L438.3 181.3L437.4 181.6L438.3 182.0L439.2 182.0L440.2 182.6L441.1 182.7L442.1 182.8Z"/><path d="M442.2 181.1L440.2 181.3L438.2 181.1L436.2 181.4L434.3 181.3L432.3 181.4L434.2 182.0L436.2 182.2L438.1 182.3L440.1 182.9L442.0 183.0Z"/><path d="M441.8 185.3L440.8 185.6L439.9 185.0L438.9 185.3L437.9 185.4L436.9 185.6L437.8 186.2L438.7 186.6L439.6 186.7L440.6 187.0L441.4 187.5Z"/><path d="M441.3 188.1L440.0 187.6L438.5 188.0L437.3 187.2L435.8 187.3L434.4 187.3L435.7 187.9L437.0 188.4L438.4 188.6L439.7 188.9L441.1 189.3Z"/><path d="M441.1 189.1L439.5 189.1L438.0 188.8L436.6 187.9L435.0 188.2L433.4 188.0L434.9 188.6L436.3 189.4L437.7 189.9L439.3 189.9L440.8 190.6Z"/><path d="M439.5 194.8L438.3 194.3L437.1 194.0L435.8 193.8L434.6 193.4L433.4 193.2L434.4 194.1L435.6 194.5L436.7 195.0L437.8 195.7L439.0 196.0Z"/><path d="M439.6 194.4L438.3 194.4L437.2 193.9L436.0 193.4L434.8 193.2L433.5 193.3L434.5 194.0L435.5 194.9L436.5 195.7L437.6 196.3L438.8 196.6Z"/><path d="M439.3 195.2L437.6 194.9L436.1 194.1L434.5 193.6L432.9 192.8L431.1 192.8L432.6 193.6L434.2 194.3L435.8 194.9L437.1 196.2L438.8 196.6Z"/><path d="M436.4 201.5L435.1 200.8L433.8 199.9L432.3 199.5L430.9 198.8L429.5 198.2L430.6 199.3L432.0 199.9L433.4 200.7L434.3 202.1L435.8 202.5Z"/><path d="M435.9 202.4L435.2 201.6L433.9 201.7L433.2 200.7L432.0 200.8L430.9 200.4L431.5 201.5L432.5 201.8L433.5 202.3L434.0 203.6L435.0 203.9Z"/><path d="M435.8 202.7L434.2 202.0L432.7 201.3L431.2 200.5L430.0 199.4L428.2 199.1L429.5 200.2L430.8 201.2L431.9 202.6L433.4 203.4L434.7 204.3Z"/><path d="M433.8 205.8L432.5 205.1L431.7 203.8L430.2 203.4L429.0 202.7L427.7 202.1L428.7 203.1L429.9 203.9L430.9 204.8L431.8 206.0L433.1 206.7Z"/><path d="M432.3 207.8L431.6 206.8L430.3 206.6L429.2 206.1L428.3 205.3L427.3 204.8L427.9 205.8L429.0 206.4L429.8 207.1L430.3 208.4L431.3 209.0Z"/><path d="M430.9 209.5L430.2 208.8L429.5 208.2L428.7 207.7L427.8 207.2L426.6 207.1L427.2 207.9L427.3 209.2L428.3 209.5L428.6 210.6L429.4 211.1Z"/><path d="M427.8 212.7L426.7 211.1L424.8 210.1L423.8 208.4L422.1 207.2L420.6 205.9L421.4 207.9L422.8 209.2L424.1 210.7L425.3 212.3L426.9 213.6Z"/><path d="M429.0 211.5L428.3 211.0L427.5 210.5L426.6 210.1L426.1 209.3L425.0 209.1L425.4 210.0L425.6 211.1L426.2 211.7L427.0 212.3L427.4 213.1Z"/><path d="M426.3 214.2L425.5 213.6L424.9 212.9L423.9 212.5L423.1 211.9L422.4 211.3L422.6 212.3L423.0 213.2L423.5 214.0L423.7 215.1L424.5 215.6Z"/><path d="M423.1 216.7L421.8 215.3L420.5 213.8L419.6 212.2L418.7 210.4L417.0 209.3L417.9 211.0L418.9 212.6L420.0 214.2L420.6 216.1L422.0 217.5Z"/><path d="M420.0 218.8L419.1 217.7L418.3 216.6L417.5 215.5L417.1 214.2L416.0 213.3L416.2 214.7L417.0 215.8L417.7 217.0L417.9 218.4L418.9 219.4Z"/><path d="M420.4 218.5L420.0 217.3L418.5 216.6L417.9 215.4L417.0 214.5L416.1 213.4L416.6 214.7L416.9 216.0L417.1 217.4L418.0 218.4L418.6 219.6Z"/><path d="M418.9 219.4L418.4 218.0L417.5 216.9L416.5 215.8L415.6 214.6L414.7 213.4L415.3 214.8L415.4 216.4L416.7 217.3L417.2 218.7L417.7 220.1Z"/><path d="M417.2 220.3L416.2 218.8L415.3 217.2L414.4 215.6L413.3 214.0L412.3 212.5L413.0 214.2L413.8 215.9L413.9 217.9L414.9 219.5L415.7 221.1Z"/><path d="M411.9 222.7L411.6 221.9L411.2 221.0L411.0 220.1L410.6 219.3L409.5 218.7L409.5 219.7L409.3 220.7L409.7 221.5L410.3 222.3L410.3 223.3Z"/><path d="M410.6 223.2L410.3 221.9L409.7 220.7L409.0 219.6L408.6 218.3L408.0 217.1L407.7 218.6L408.5 219.7L408.4 221.2L408.6 222.5L409.4 223.6Z"/><path d="M408.8 223.8L408.6 222.1L408.2 220.4L407.0 218.9L406.6 217.3L405.9 215.7L406.1 217.4L406.0 219.2L407.1 220.7L407.1 222.5L407.5 224.1Z"/><path d="M404.6 224.8L404.3 223.5L403.6 222.3L403.8 221.0L403.5 219.7L402.4 218.5L401.9 220.0L402.5 221.2L401.9 222.6L402.6 223.8L402.4 225.2Z"/><path d="M403.5 225.0L402.8 223.4L402.7 221.7L402.2 220.0L402.1 218.2L401.3 216.6L401.4 218.4L401.1 220.1L401.1 221.9L401.7 223.5L401.8 225.3Z"/><path d="M401.6 225.3L401.2 223.9L401.3 222.4L401.0 221.0L400.7 219.5L399.8 218.2L399.7 219.6L399.4 221.1L399.9 222.6L399.1 224.1L399.6 225.5Z"/><path d="M397.5 225.7L397.3 224.0L397.6 222.3L397.2 220.7L397.2 219.0L396.5 217.4L396.1 219.1L395.9 220.7L395.8 222.4L395.8 224.0L395.9 225.7Z"/><path d="M395.6 225.7L395.9 224.9L395.4 224.0L395.3 223.2L395.1 222.3L394.6 221.5L394.1 222.3L393.6 223.1L393.3 224.0L393.4 224.8L393.4 225.7Z"/><path d="M392.0 225.6L392.2 223.7L392.2 221.8L392.0 219.8L392.0 217.9L392.0 216.0L391.0 217.8L391.3 219.8L390.9 221.6L390.4 223.5L390.2 225.4Z"/><path d="M391.9 225.6L392.5 223.8L391.9 221.9L391.9 220.0L392.0 218.1L391.9 216.3L391.6 218.1L391.2 219.9L390.8 221.7L390.3 223.6L390.2 225.4Z"/><path d="M389.8 225.4L390.2 224.6L390.1 223.7L389.9 222.9L390.0 222.0L389.3 221.1L388.3 221.8L388.3 222.6L388.5 223.5L387.9 224.2L387.6 225.0Z"/><path d="M386.3 224.8L386.3 222.9L386.5 221.2L387.0 219.4L387.3 217.7L387.3 215.8L386.1 217.4L386.0 219.2L385.1 220.9L385.1 222.7L384.3 224.4Z"/><path d="M384.2 224.3L384.8 222.6L384.8 220.7L385.1 219.0L386.1 217.4L385.8 215.4L385.2 217.1L384.7 218.9L383.5 220.4L383.0 222.1L382.7 223.9Z"/><path d="M382.0 223.7L382.7 221.9L382.8 219.9L384.0 218.3L384.2 216.3L384.3 214.3L383.3 216.0L382.4 217.8L382.3 219.8L381.1 221.4L380.7 223.3Z"/><path d="M379.3 222.8L379.9 221.0L380.7 219.3L381.0 217.4L381.7 215.6L382.2 213.8L380.9 215.3L380.6 217.2L379.3 218.8L379.1 220.7L378.3 222.4Z"/><path d="M376.9 221.8L377.2 220.9L377.4 219.9L378.1 219.2L378.2 218.2L378.0 217.0L376.9 217.6L376.8 218.6L375.8 219.2L375.9 220.3L375.1 221.0Z"/><path d="M376.6 221.7L376.9 220.7L377.8 220.0L377.5 218.7L378.2 217.9L378.1 216.7L377.5 217.6L376.8 218.4L376.5 219.4L375.6 220.1L375.3 221.1Z"/><path d="M372.8 219.8L373.4 218.4L374.2 217.1L374.7 215.6L375.7 214.4L375.8 212.6L374.3 213.5L373.5 214.9L372.9 216.3L372.0 217.5L371.0 218.8Z"/><path d="M372.1 219.4L372.9 218.2L373.3 216.8L373.9 215.4L375.0 214.4L375.1 212.8L373.9 213.7L373.1 215.0L372.3 216.2L371.6 217.4L370.6 218.5Z"/><path d="M370.0 218.1L370.8 217.4L370.8 216.0L371.5 215.2L372.2 214.3L372.4 213.1L371.7 213.9L371.0 214.8L369.8 215.4L369.7 216.6L368.7 217.3Z"/><path d="M365.8 215.0L367.0 213.6L368.0 212.0L369.5 210.9L370.3 209.1L371.4 207.5L369.9 208.7L368.8 210.3L367.5 211.6L365.8 212.6L364.9 214.3Z"/><path d="M363.8 213.3L364.8 212.2L365.6 210.9L366.5 209.7L367.6 208.8L368.3 207.3L367.1 208.2L365.9 209.2L364.6 210.0L363.2 210.7L362.4 212.0Z"/><path d="M362.4 211.9L362.9 210.9L363.8 210.2L364.6 209.5L365.1 208.4L365.6 207.4L364.5 207.8L363.5 208.3L362.8 209.2L361.7 209.6L360.9 210.4Z"/><path d="M361.4 210.9L362.5 209.5L363.7 208.3L365.3 207.6L366.2 206.0L367.4 204.7L365.7 205.4L364.7 206.9L363.0 207.6L361.9 208.9L360.6 210.1Z"/><path d="M360.9 210.4L362.3 209.8L363.1 208.6L364.2 207.7L364.9 206.3L365.8 205.3L364.6 206.0L363.3 206.7L362.4 207.8L361.2 208.6L360.1 209.5Z"/><path d="M358.6 207.6L359.6 207.0L360.5 206.2L361.2 205.2L362.4 204.8L363.0 203.6L361.7 203.9L361.0 204.8L359.7 205.2L359.1 206.3L357.9 206.7Z"/><path d="M356.0 204.0L356.8 203.4L357.7 203.1L358.3 202.4L358.9 201.6L359.6 201.0L358.7 201.2L357.9 201.8L356.8 201.6L356.1 202.3L355.3 202.8Z"/><path d="M354.6 201.6L355.2 200.7L356.0 200.5L356.7 199.8L357.6 199.7L358.0 198.5L356.9 198.2L355.9 198.3L355.4 199.2L354.5 199.5L353.5 199.5Z"/><path d="M353.9 200.2L355.0 199.6L356.1 199.1L357.1 198.3L358.0 197.5L359.0 196.8L357.8 197.1L356.6 197.4L355.5 198.0L354.3 198.3L353.2 198.7Z"/><path d="M353.3 198.9L354.5 198.7L355.4 197.7L356.7 197.5L357.7 196.7L358.6 195.7L357.4 196.0L355.9 195.8L355.0 196.7L353.8 197.1L352.6 197.5Z"/><path d="M352.1 196.3L354.0 195.8L355.7 194.8L357.4 193.8L359.2 193.0L360.9 192.2L358.9 192.3L357.0 192.7L355.2 193.3L353.4 194.1L351.6 195.0Z"/><path d="M351.1 193.4L352.4 192.6L353.9 192.7L355.1 191.5L356.6 191.2L357.9 190.4L356.3 190.2L354.9 190.7L353.5 191.0L352.0 191.5L350.6 191.8Z"/><path d="M350.1 189.9L351.9 189.5L353.7 189.0L355.6 188.9L357.3 188.2L359.0 187.3L357.1 187.4L355.3 187.9L353.4 187.6L351.6 188.2L349.8 188.7Z"/><path d="M350.1 190.0L350.9 189.9L351.6 189.2L352.5 189.2L353.3 189.1L354.0 188.2L353.1 188.1L352.3 188.3L351.4 188.3L350.5 188.0L349.7 188.3Z"/><path d="M349.9 189.1L351.4 189.0L352.8 188.8L354.2 188.2L355.5 187.5L356.9 187.0L355.3 186.7L353.9 187.0L352.6 187.6L351.1 187.6L349.6 187.8Z"/><path d="M349.0 183.3L350.9 182.8L352.8 182.5L354.8 182.3L356.7 182.0L358.6 181.6L356.7 181.3L354.7 181.4L352.7 181.1L350.8 181.0L348.9 181.4Z"/><path d="M348.8 180.3L350.6 180.6L352.4 180.1L354.2 179.9L356.0 180.3L357.8 179.6L356.0 179.1L354.2 179.0L352.4 178.9L350.6 178.9L348.8 179.2Z"/><path d="M348.8 180.5L350.1 180.4L351.3 180.6L352.5 179.9L353.8 180.1L355.0 179.6L353.8 179.5L352.5 179.4L351.3 179.2L350.0 179.3L348.8 179.0Z"/><path d="M348.9 175.9L350.7 175.8L352.6 176.0L354.4 176.3L356.2 176.2L358.1 175.9L356.3 175.6L354.5 175.0L352.7 174.5L350.9 174.2L349.0 174.4Z"/><path d="M348.9 176.5L350.6 176.5L352.3 176.4L353.9 176.6L355.7 176.4L357.4 176.4L355.7 176.0L354.0 175.3L352.3 175.4L350.7 174.8L349.0 175.0Z"/><path d="M349.1 173.3L350.1 173.6L351.1 173.2L352.1 173.4L353.1 173.6L354.1 173.1L353.2 172.5L352.2 172.4L351.3 171.9L350.4 171.6L349.4 171.6Z"/><path d="M349.3 172.0L350.6 172.0L351.8 171.9L353.1 172.0L354.3 172.3L355.6 172.1L354.4 171.7L353.3 170.8L352.0 170.9L350.9 170.3L349.6 170.1Z"/><path d="M350.4 167.0L351.3 167.7L352.3 167.9L353.5 167.5L354.4 168.0L355.5 167.9L354.6 167.2L353.7 166.6L352.6 166.6L351.6 166.5L350.7 165.9Z"/><path d="M350.3 167.2L352.2 167.7L354.0 168.4L356.1 168.2L357.9 168.8L359.9 168.8L358.2 167.7L356.4 167.2L354.7 166.1L352.7 165.8L350.9 165.1Z"/><path d="M352.5 160.8L354.2 161.2L355.8 161.8L357.4 162.5L359.0 163.2L360.7 163.6L359.3 162.5L357.7 161.8L356.0 161.3L354.5 160.5L353.1 159.5Z"/><path d="M352.9 159.8L353.8 159.8L354.3 160.6L355.2 160.6L356.1 160.7L357.0 160.7L356.3 160.1L355.7 159.7L355.0 159.2L354.6 158.2L353.8 158.0Z"/><path d="M353.8 157.9L354.9 158.4L356.2 158.7L357.4 158.9L358.3 159.9L359.8 159.8L358.8 159.0L358.0 157.8L357.1 157.0L356.1 156.3L354.9 155.9Z"/><path d="M354.8 156.1L355.5 156.8L356.5 157.2L357.7 157.2L358.4 157.9L359.5 158.0L358.8 157.4L357.9 156.8L357.2 156.0L356.2 155.7L355.5 154.9Z"/><path d="M356.1 153.8L358.0 154.6L359.6 155.7L361.1 157.0L363.1 157.6L364.9 158.4L363.5 157.0L362.0 155.6L360.7 154.1L358.8 153.4L357.4 151.9Z"/><path d="M358.1 151.1L359.3 152.1L360.5 153.1L361.7 154.1L363.3 154.7L364.8 155.3L363.9 153.8L362.7 152.8L361.6 151.6L360.3 150.8L359.0 149.8Z"/><path d="M358.0 151.2L359.2 152.5L361.1 153.0L362.4 154.2L363.9 155.1L365.5 156.0L364.2 154.7L362.9 153.5L361.7 152.2L360.3 151.0L358.8 150.1Z"/><path d="M360.2 148.5L361.5 149.1L362.1 150.5L363.4 151.2L364.8 151.7L365.9 152.5L365.2 151.2L364.3 150.1L363.2 149.3L362.4 148.0L361.3 147.2Z"/><path d="M362.2 146.3L363.4 147.6L365.1 148.5L366.0 150.1L367.8 150.9L369.2 152.1L368.4 150.3L367.4 148.8L365.7 147.9L364.6 146.4L363.6 144.9Z"/><path d="M362.8 145.7L363.8 146.6L364.6 147.7L365.9 148.3L366.9 149.3L368.0 150.2L367.2 149.0L366.7 147.7L365.6 146.8L364.5 146.0L363.7 144.8Z"/><path d="M365.5 143.2L366.2 143.9L367.2 144.5L367.4 145.6L368.7 145.9L369.6 146.5L369.1 145.6L368.6 144.7L368.2 143.7L367.6 142.8L367.3 141.8Z"/><path d="M369.3 140.4L370.0 141.9L371.2 143.0L372.3 144.3L373.0 145.8L374.3 146.9L373.7 145.3L373.0 143.8L371.7 142.7L371.0 141.2L370.2 139.7Z"/><path d="M370.1 139.8L371.0 141.2L372.0 142.5L373.0 143.7L374.0 145.1L375.0 146.3L374.3 144.9L373.7 143.3L373.1 141.8L372.1 140.5L371.2 139.1Z"/><path d="M371.3 139.0L371.9 140.7L373.0 142.1L374.1 143.4L375.3 144.7L376.6 146.0L376.2 144.2L375.3 142.7L375.0 140.9L373.9 139.6L373.2 138.0Z"/><path d="M372.7 138.3L372.9 139.4L374.0 140.0L374.5 141.0L374.8 142.1L375.8 142.8L375.6 141.7L374.9 140.8L374.6 139.7L374.1 138.7L373.7 137.7Z"/><path d="M376.1 136.5L377.1 138.2L377.4 140.2L378.7 141.7L379.9 143.3L380.8 145.0L380.7 143.0L379.8 141.3L379.3 139.3L378.8 137.4L377.9 135.7Z"/><path d="M379.1 135.3L379.5 136.2L380.1 137.0L380.0 138.1L380.9 138.9L381.5 139.8L381.3 138.8L381.0 137.8L381.2 136.6L381.0 135.7L380.4 134.8Z"/><path d="M380.3 134.8L380.9 136.4L381.5 138.0L382.3 139.5L382.4 141.2L383.5 142.6L383.2 140.9L383.1 139.2L382.4 137.7L381.9 136.1L381.5 134.4Z"/><path d="M380.6 134.7L381.3 135.5L381.5 136.5L382.0 137.4L382.5 138.2L383.0 139.1L383.1 138.0L383.3 136.9L383.2 135.9L383.0 135.0L382.6 134.1Z"/><path d="M383.3 133.9L383.5 135.3L384.5 136.5L384.7 137.9L385.3 139.2L386.1 140.5L386.5 138.9L386.3 137.5L385.6 136.2L385.7 134.8L385.5 133.4Z"/><path d="M385.9 133.3L386.1 134.3L386.2 135.3L386.9 136.2L387.1 137.1L387.5 138.1L387.8 137.0L387.9 136.0L387.7 135.0L387.0 134.1L387.1 133.0Z"/><path d="M390.1 132.6L389.9 134.0L390.3 135.3L390.7 136.7L390.8 138.0L391.5 139.3L391.7 137.9L391.4 136.6L391.7 135.2L391.4 133.9L391.6 132.5Z"/><path d="M390.7 132.5L390.7 133.9L391.0 135.2L391.8 136.5L391.4 137.9L392.2 139.2L392.4 137.8L392.7 136.4L393.1 135.0L393.1 133.7L392.7 132.4Z"/><path d="M393.2 132.3L393.0 133.2L393.6 134.1L393.9 134.9L393.9 135.8L394.1 136.6L394.7 135.7L394.3 134.9L394.6 134.0L394.5 133.2L394.7 132.3Z"/><path d="M398.5 132.4L398.6 133.6L398.3 134.8L398.1 136.0L398.6 137.3L398.7 138.5L399.0 137.3L399.3 136.1L399.9 134.9L399.9 133.7L400.0 132.5Z"/><path d="M399.5 132.5L399.8 133.4L399.2 134.2L399.1 135.1L399.5 136.0L399.8 137.0L400.6 136.2L400.8 135.3L400.7 134.4L400.8 133.5L401.1 132.6Z"/><path d="M402.4 132.8L402.2 134.7L401.7 136.5L401.9 138.4L401.7 140.3L401.6 142.1L402.1 140.3L402.7 138.5L403.1 136.7L403.8 134.9L403.8 133.0Z"/><path d="M405.3 133.3L404.6 134.9L404.6 136.5L404.3 138.2L404.5 139.9L404.3 141.5L405.4 140.1L405.9 138.5L405.8 136.8L406.3 135.2L407.0 133.7Z"/><path d="M407.6 133.9L407.6 135.3L406.9 136.6L407.0 138.0L406.5 139.3L406.5 140.8L407.5 139.6L407.7 138.2L408.1 136.9L408.5 135.6L409.3 134.4Z"/><path d="M410.2 134.7L409.3 135.9L408.9 137.3L408.7 138.8L408.6 140.3L408.3 141.8L409.2 140.6L409.7 139.2L410.2 137.8L410.4 136.3L411.2 135.0Z"/><path d="M412.3 135.4L412.0 136.5L411.8 137.6L411.6 138.7L411.4 139.8L411.2 140.9L411.8 140.0L412.5 139.1L413.3 138.2L413.6 137.1L414.3 136.2Z"/><path d="M415.4 136.7L414.7 137.8L414.7 139.3L413.7 140.3L413.8 141.7L413.5 143.0L414.8 142.2L415.1 140.9L416.0 139.9L417.0 139.0L417.3 137.7Z"/><path d="M416.2 137.1L415.2 138.5L414.5 140.0L414.2 141.7L413.2 143.1L413.0 144.9L414.0 143.5L414.7 142.0L415.8 140.7L416.6 139.2L417.5 137.8Z"/><path d="M418.8 138.5L418.1 139.8L417.7 141.3L417.0 142.6L415.8 143.6L415.7 145.2L417.1 144.4L417.5 142.9L418.4 141.7L419.3 140.5L420.2 139.4Z"/><path d="M420.2 139.4L419.5 141.2L418.3 142.9L417.2 144.5L416.3 146.3L415.4 148.1L417.0 146.7L417.7 144.8L419.1 143.4L420.1 141.7L421.2 140.0Z"/><path d="M421.4 140.2L420.8 141.8L419.8 143.2L419.1 144.8L417.7 145.9L417.3 147.7L418.4 146.4L419.6 145.2L420.6 143.8L422.1 142.7L422.9 141.2Z"/><path d="M422.9 141.2L422.3 142.3L421.7 143.5L421.0 144.6L420.4 145.7L419.8 146.9L421.2 146.3L422.1 145.4L423.1 144.5L423.7 143.3L424.5 142.3Z"/><path d="M426.7 144.3L425.7 146.0L424.4 147.5L422.6 148.5L421.5 150.2L420.5 152.0L422.0 150.7L423.3 149.2L424.7 147.8L426.6 146.9L427.6 145.1Z"/><path d="M427.5 144.9L427.0 145.9L426.5 146.8L425.4 147.1L424.9 148.0L424.7 149.2L425.9 149.0L426.5 148.2L427.5 147.8L428.2 147.0L428.9 146.4Z"/><path d="M429.9 147.4L428.7 148.8L427.1 149.8L426.2 151.7L424.9 153.1L423.7 154.5L425.6 153.9L427.1 152.7L428.5 151.4L430.0 150.3L431.5 149.2Z"/><path d="M431.9 149.7L430.4 151.0L428.9 152.3L427.6 153.8L426.0 154.8L424.8 156.5L426.5 155.5L428.2 154.5L429.7 153.3L431.7 152.7L433.1 151.3Z"/><path d="M433.4 151.7L432.5 152.0L431.8 152.5L431.2 153.1L430.7 153.9L430.2 154.9L431.1 154.5L432.1 154.4L432.8 153.9L433.7 153.7L434.3 153.0Z"/><path d="M433.8 152.3L432.4 153.3L431.0 154.3L429.9 155.7L428.3 156.4L427.2 157.9L428.8 157.2L430.5 156.6L431.9 155.6L433.4 154.8L435.0 154.0Z"/><path d="M434.2 152.8L432.6 153.9L431.2 155.4L429.8 156.6L428.0 157.6L426.7 159.0L428.4 158.2L430.2 157.3L432.1 156.8L433.7 155.7L435.4 154.8Z"/><path d="M435.9 155.6L435.0 156.3L434.1 156.9L433.2 157.5L432.2 158.1L431.6 159.2L432.6 158.9L433.9 158.9L434.7 158.1L435.8 157.8L437.0 157.5Z"/><path d="M438.7 161.1L437.0 161.8L435.3 162.4L433.7 163.3L432.2 164.3L430.7 165.4L432.4 164.9L434.2 164.5L436.0 164.2L437.9 164.0L439.4 163.1Z"/><path d="M439.1 162.2L438.0 162.4L436.9 162.8L435.9 163.2L435.0 164.2L434.1 164.8L435.3 165.0L436.3 164.3L437.5 164.5L438.5 163.9L439.6 163.6Z"/><path d="M440.4 166.1L438.9 166.8L437.3 167.1L435.9 167.8L434.2 167.8L432.9 168.8L434.4 168.6L436.1 168.5L437.7 168.4L439.2 167.6L440.7 167.4Z"/><path d="M440.2 165.5L438.4 165.8L436.8 166.9L434.9 167.1L433.2 167.8L431.5 168.7L433.5 168.9L435.3 168.4L437.0 167.7L438.9 167.5L440.6 166.9Z"/><path d="M440.6 166.9L439.5 167.0L438.7 168.1L437.6 168.2L436.4 168.2L435.6 169.3L436.8 169.7L437.8 169.2L439.0 169.6L440.1 169.4L441.2 169.1Z"/><path d="M441.6 171.2L440.0 171.1L438.5 172.1L437.0 172.4L435.4 172.5L434.0 173.2L435.6 173.3L437.2 173.5L438.7 172.9L440.3 173.3L441.8 172.8Z"/><path d="M442.1 175.6L440.5 176.0L438.9 176.1L437.3 176.2L435.7 176.5L434.1 176.8L435.7 177.1L437.3 177.6L438.9 177.2L440.5 176.9L442.2 177.2Z"/><path d="M442.2 177.8L440.4 177.8L438.7 177.9L436.9 177.8L435.2 178.0L433.5 178.8L435.2 179.2L437.0 179.7L438.7 179.8L440.5 179.7L442.2 179.6Z"/></g></g></g><circle cx="395.5" cy="179" r="44.10" fill="none" stroke="#6a6a6a" stroke-width="1.2" opacity="1"/><g clip-path="url(#c20)"><g filter="url(#gr20)"><circle cx="108.5" cy="287" r="41.5" fill="#aaaaaa"/><g fill="#555" opacity="0.75"><circle cx="127.6" cy="268.5" r="0.31"/><circle cx="128.8" cy="282.0" r="0.53"/><circle cx="100.3" cy="298.5" r="0.61"/><circle cx="134.2" cy="291.7" r="0.61"/><circle cx="99.6" cy="276.0" r="0.52"/><circle cx="134.4" cy="280.7" r="0.36"/><circle cx="131.6" cy="307.0" r="0.64"/><circle cx="93.6" cy="285.8" r="0.59"/><circle cx="138.7" cy="308.2" r="0.61"/><circle cx="94.0" cy="320.0" r="0.56"/><circle cx="119.1" cy="302.4" r="0.36"/><circle cx="118.6" cy="267.6" r="0.46"/><circle cx="139.2" cy="262.8" r="0.37"/><circle cx="132.3" cy="297.2" r="0.50"/><circle cx="82.1" cy="271.3" r="0.33"/><circle cx="131.9" cy="306.9" r="0.59"/><circle cx="130.2" cy="302.6" r="0.64"/><circle cx="89.7" cy="320.2" r="0.63"/><circle cx="88.0" cy="282.6" r="0.50"/><circle cx="140.1" cy="301.8" r="0.31"/><circle cx="97.1" cy="297.0" r="0.58"/><circle cx="134.5" cy="308.0" r="0.56"/><circle cx="125.5" cy="289.1" r="0.47"/><circle cx="139.6" cy="266.1" r="0.45"/><circle cx="120.7" cy="319.9" r="0.36"/><circle cx="90.2" cy="253.2" r="0.36"/><circle cx="111.8" cy="264.4" r="0.32"/><circle cx="114.1" cy="271.0" r="0.38"/><circle cx="85.5" cy="297.8" r="0.47"/><circle cx="108.7" cy="308.9" r="0.58"/><circle cx="140.8" cy="275.7" r="0.31"/><circle cx="117.9" cy="274.5" r="0.41"/><circle cx="97.0" cy="320.0" r="0.44"/><circle cx="79.7" cy="301.4" r="0.48"/><circle cx="113.1" cy="281.1" r="0.52"/><circle cx="88.9" cy="290.1" r="0.52"/><circle cx="146.1" cy="292.2" r="0.62"/><circle cx="137.6" cy="294.7" r="0.43"/><circle cx="133.9" cy="308.7" r="0.51"/><circle cx="82.3" cy="273.7" r="0.31"/><circle cx="113.8" cy="285.8" r="0.36"/><circle cx="93.1" cy="279.9" r="0.31"/><circle cx="111.5" cy="253.5" r="0.42"/><circle cx="78.2" cy="290.1" r="0.54"/><circle cx="124.7" cy="290.0" r="0.33"/><circle cx="146.3" cy="283.5" r="0.39"/><circle cx="112.5" cy="320.3" r="0.51"/><circle cx="85.7" cy="277.9" r="0.62"/><circle cx="141.9" cy="271.8" r="0.59"/><circle cx="116.9" cy="312.8" r="0.59"/><circle cx="128.0" cy="311.8" r="0.44"/><circle cx="110.0" cy="278.1" r="0.63"/><circle cx="105.9" cy="284.2" r="0.61"/><circle cx="103.8" cy="250.2" r="0.34"/><circle cx="92.7" cy="311.8" r="0.50"/><circle cx="114.2" cy="309.8" r="0.51"/><circle cx="117.4" cy="297.0" r="0.52"/><circle cx="133.3" cy="309.9" r="0.32"/><circle cx="129.9" cy="301.1" r="0.63"/><circle cx="129.7" cy="288.8" r="0.47"/><circle cx="82.3" cy="299.0" r="0.50"/><circle cx="114.3" cy="295.9" r="0.51"/><circle cx="101.8" cy="289.6" r="0.38"/><circle cx="74.7" cy="282.0" r="0.51"/><circle cx="87.1" cy="287.9" r="0.46"/><circle cx="87.4" cy="270.1" r="0.47"/><circle cx="78.7" cy="303.8" r="0.38"/><circle cx="116.4" cy="290.8" r="0.30"/><circle cx="104.7" cy="276.2" r="0.53"/><circle cx="119.9" cy="268.7" r="0.39"/><circle cx="100.1" cy="263.5" r="0.37"/><circle cx="100.6" cy="311.2" r="0.54"/><circle cx="94.0" cy="294.3" r="0.55"/><circle cx="139.8" cy="277.6" r="0.44"/><circle cx="117.7" cy="315.3" r="0.41"/><circle cx="140.8" cy="275.8" r="0.43"/><circle cx="103.2" cy="275.3" r="0.33"/><circle cx="127.5" cy="294.0" r="0.52"/><circle cx="132.7" cy="311.5" r="0.55"/><circle cx="88.2" cy="296.6" r="0.50"/><circle cx="82.8" cy="276.3" r="0.41"/><circle cx="129.4" cy="269.4" r="0.37"/><circle cx="108.7" cy="314.1" r="0.42"/><circle cx="114.2" cy="270.2" r="0.46"/><circle cx="111.6" cy="279.8" r="0.45"/><circle cx="94.3" cy="278.5" r="0.35"/><circle cx="101.6" cy="258.9" r="0.44"/><circle cx="91.5" cy="300.0" r="0.35"/><circle cx="96.8" cy="317.0" r="0.37"/><circle cx="131.3" cy="258.6" r="0.36"/><circle cx="125.2" cy="313.8" r="0.40"/><circle cx="130.6" cy="297.8" r="0.30"/><circle cx="85.8" cy="314.3" r="0.42"/><circle cx="119.9" cy="275.8" r="0.58"/><circle cx="119.4" cy="281.6" r="0.38"/><circle cx="100.8" cy="293.0" r="0.53"/><circle cx="109.6" cy="293.6" r="0.39"/><circle cx="112.7" cy="313.4" r="0.55"/><circle cx="117.5" cy="253.0" r="0.32"/><circle cx="125.6" cy="264.6" r="0.47"/><circle cx="124.5" cy="263.3" r="0.56"/><circle cx="117.9" cy="300.1" r="0.61"/><circle cx="87.5" cy="282.4" r="0.53"/><circle cx="86.0" cy="279.3" r="0.60"/><circle cx="79.8" cy="293.8" r="0.39"/><circle cx="118.6" cy="317.3" r="0.60"/><circle cx="128.3" cy="259.2" r="0.50"/><circle cx="113.9" cy="324.4" r="0.63"/><circle cx="87.5" cy="256.4" r="0.32"/><circle cx="112.4" cy="306.8" r="0.50"/><circle cx="115.6" cy="260.2" r="0.49"/><circle cx="114.1" cy="312.2" r="0.54"/><circle cx="82.4" cy="277.4" r="0.48"/><circle cx="117.1" cy="294.1" r="0.37"/><circle cx="74.0" cy="270.1" r="0.40"/><circle cx="98.2" cy="311.4" r="0.34"/><circle cx="72.3" cy="271.8" r="0.63"/><circle cx="138.6" cy="301.6" r="0.46"/><circle cx="91.5" cy="268.8" r="0.60"/><circle cx="83.8" cy="294.4" r="0.61"/><circle cx="82.5" cy="303.8" r="0.30"/><circle cx="70.6" cy="294.6" r="0.55"/><circle cx="130.2" cy="314.5" r="0.33"/><circle cx="130.5" cy="264.8" r="0.48"/><circle cx="104.0" cy="300.6" r="0.34"/><circle cx="95.0" cy="296.0" r="0.45"/><circle cx="115.5" cy="262.6" r="0.46"/><circle cx="111.9" cy="312.9" r="0.33"/><circle cx="92.4" cy="271.6" r="0.45"/><circle cx="121.8" cy="262.2" r="0.36"/><circle cx="132.4" cy="264.4" r="0.38"/><circle cx="88.0" cy="305.1" r="0.44"/><circle cx="80.5" cy="268.1" r="0.39"/><circle cx="98.1" cy="276.3" r="0.41"/><circle cx="94.8" cy="316.3" r="0.51"/><circle cx="82.0" cy="281.2" r="0.39"/><circle cx="116.3" cy="317.4" r="0.54"/><circle cx="116.8" cy="309.6" r="0.49"/><circle cx="108.9" cy="263.4" r="0.47"/><circle cx="100.3" cy="322.4" r="0.60"/><circle cx="82.9" cy="311.0" r="0.43"/><circle cx="100.5" cy="256.1" r="0.35"/><circle cx="121.6" cy="307.7" r="0.59"/><circle cx="83.2" cy="266.4" r="0.44"/><circle cx="111.9" cy="264.3" r="0.31"/><circle cx="95.3" cy="295.6" r="0.61"/><circle cx="117.4" cy="276.9" r="0.32"/><circle cx="130.7" cy="306.1" r="0.59"/><circle cx="102.3" cy="279.5" r="0.34"/><circle cx="143.1" cy="296.4" r="0.60"/><circle cx="130.3" cy="259.2" r="0.51"/><circle cx="88.0" cy="277.4" r="0.34"/><circle cx="83.3" cy="312.0" r="0.49"/><circle cx="124.1" cy="253.9" r="0.51"/><circle cx="115.5" cy="293.7" r="0.35"/><circle cx="121.0" cy="306.0" r="0.33"/><circle cx="143.7" cy="285.1" r="0.43"/><circle cx="79.3" cy="269.5" r="0.44"/><circle cx="100.6" cy="278.4" r="0.49"/><circle cx="95.8" cy="254.1" r="0.39"/><circle cx="75.2" cy="297.4" r="0.46"/><circle cx="104.8" cy="318.7" r="0.52"/><circle cx="122.9" cy="288.1" r="0.33"/><circle cx="97.9" cy="260.9" r="0.49"/><circle cx="121.7" cy="314.5" r="0.32"/><circle cx="74.1" cy="300.9" r="0.49"/><circle cx="106.9" cy="297.2" r="0.63"/><circle cx="140.7" cy="291.6" r="0.64"/><circle cx="140.2" cy="309.6" r="0.54"/><circle cx="91.1" cy="284.8" r="0.62"/><circle cx="77.0" cy="286.3" r="0.48"/><circle cx="119.8" cy="286.4" r="0.40"/><circle cx="110.9" cy="255.5" r="0.36"/><circle cx="78.8" cy="270.1" r="0.32"/><circle cx="82.8" cy="315.3" r="0.34"/><circle cx="103.0" cy="295.0" r="0.43"/><circle cx="133.4" cy="268.0" r="0.37"/><circle cx="85.3" cy="308.6" r="0.45"/><circle cx="108.7" cy="273.2" r="0.60"/><circle cx="105.8" cy="256.0" r="0.51"/><circle cx="83.8" cy="272.7" r="0.34"/><circle cx="92.0" cy="277.2" r="0.65"/><circle cx="115.2" cy="248.6" r="0.44"/><circle cx="76.8" cy="264.8" r="0.56"/><circle cx="99.4" cy="255.8" r="0.48"/><circle cx="105.3" cy="283.5" r="0.53"/><circle cx="127.3" cy="259.8" r="0.48"/><circle cx="83.0" cy="303.3" r="0.65"/><circle cx="119.3" cy="282.0" r="0.48"/><circle cx="133.6" cy="285.6" r="0.60"/><circle cx="80.1" cy="266.5" r="0.58"/><circle cx="79.3" cy="268.7" r="0.33"/><circle cx="109.6" cy="280.1" r="0.63"/><circle cx="96.1" cy="293.0" r="0.49"/><circle cx="119.0" cy="260.8" r="0.50"/><circle cx="140.0" cy="297.9" r="0.63"/><circle cx="88.9" cy="260.4" r="0.60"/><circle cx="96.0" cy="311.4" r="0.44"/><circle cx="131.0" cy="293.9" r="0.58"/><circle cx="99.9" cy="318.1" r="0.43"/><circle cx="78.7" cy="307.2" r="0.58"/><circle cx="89.8" cy="320.0" r="0.60"/><circle cx="140.8" cy="270.6" r="0.33"/><circle cx="105.4" cy="268.5" r="0.31"/><circle cx="99.2" cy="274.8" r="0.44"/><circle cx="135.8" cy="312.4" r="0.37"/><circle cx="129.3" cy="266.5" r="0.37"/><circle cx="84.1" cy="308.1" r="0.31"/><circle cx="100.9" cy="272.5" r="0.39"/><circle cx="117.5" cy="249.8" r="0.63"/><circle cx="98.7" cy="274.1" r="0.57"/><circle cx="135.8" cy="279.9" r="0.57"/><circle cx="101.5" cy="323.9" r="0.54"/><circle cx="112.4" cy="301.4" r="0.52"/><circle cx="73.5" cy="277.1" r="0.48"/><circle cx="108.1" cy="255.8" r="0.47"/><circle cx="91.2" cy="268.8" r="0.55"/><circle cx="139.0" cy="302.5" r="0.46"/><circle cx="100.5" cy="265.3" r="0.36"/><circle cx="100.8" cy="275.5" r="0.48"/><circle cx="111.2" cy="315.8" r="0.38"/><circle cx="135.9" cy="287.8" r="0.45"/><circle cx="75.0" cy="268.0" r="0.50"/><circle cx="85.1" cy="267.6" r="0.34"/><circle cx="111.6" cy="258.0" r="0.57"/><circle cx="106.2" cy="263.4" r="0.51"/><circle cx="136.5" cy="273.9" r="0.55"/><circle cx="75.1" cy="294.0" r="0.56"/><circle cx="111.4" cy="260.4" r="0.31"/><circle cx="123.4" cy="262.0" r="0.32"/><circle cx="114.7" cy="316.1" r="0.32"/><circle cx="132.0" cy="299.1" r="0.54"/><circle cx="89.3" cy="252.9" r="0.48"/><circle cx="106.9" cy="300.0" r="0.53"/><circle cx="121.5" cy="268.2" r="0.53"/><circle cx="121.4" cy="274.5" r="0.33"/><circle cx="118.4" cy="269.8" r="0.54"/><circle cx="121.7" cy="289.4" r="0.33"/><circle cx="77.5" cy="269.5" r="0.59"/><circle cx="93.4" cy="320.9" r="0.39"/><circle cx="85.7" cy="274.3" r="0.31"/><circle cx="120.3" cy="296.1" r="0.48"/><circle cx="142.5" cy="300.0" r="0.55"/><circle cx="139.6" cy="286.4" r="0.32"/><circle cx="97.8" cy="279.8" r="0.65"/><circle cx="112.1" cy="278.1" r="0.31"/><circle cx="112.1" cy="312.8" r="0.37"/><circle cx="86.7" cy="296.8" r="0.41"/><circle cx="77.2" cy="274.5" r="0.51"/><circle cx="128.9" cy="288.9" r="0.44"/><circle cx="107.5" cy="298.1" r="0.47"/><circle cx="125.2" cy="319.9" r="0.36"/><circle cx="109.3" cy="281.7" r="0.56"/><circle cx="133.8" cy="283.4" r="0.38"/><circle cx="85.8" cy="271.0" r="0.42"/><circle cx="118.3" cy="260.0" r="0.40"/><circle cx="106.8" cy="287.6" r="0.62"/><circle cx="129.4" cy="298.2" r="0.49"/><circle cx="110.7" cy="250.1" r="0.35"/><circle cx="94.8" cy="297.4" r="0.35"/><circle cx="128.0" cy="312.4" r="0.62"/><circle cx="107.5" cy="325.2" r="0.41"/><circle cx="83.8" cy="313.4" r="0.54"/><circle cx="114.3" cy="264.2" r="0.49"/><circle cx="82.7" cy="262.4" r="0.39"/><circle cx="75.5" cy="292.0" r="0.57"/><circle cx="122.8" cy="291.8" r="0.54"/><circle cx="74.9" cy="267.6" r="0.50"/><circle cx="96.8" cy="294.8" r="0.53"/><circle cx="102.9" cy="265.2" r="0.53"/><circle cx="105.3" cy="309.8" r="0.44"/><circle cx="101.5" cy="255.6" r="0.47"/><circle cx="111.7" cy="310.3" r="0.36"/><circle cx="107.7" cy="257.0" r="0.48"/><circle cx="78.6" cy="302.2" r="0.48"/><circle cx="105.0" cy="325.6" r="0.34"/><circle cx="102.0" cy="295.2" r="0.40"/><circle cx="103.2" cy="300.8" r="0.46"/><circle cx="138.4" cy="278.5" r="0.40"/><circle cx="120.8" cy="320.4" r="0.48"/><circle cx="112.6" cy="288.0" r="0.46"/><circle cx="102.5" cy="286.9" r="0.64"/><circle cx="106.9" cy="258.4" r="0.35"/><circle cx="83.8" cy="297.5" r="0.31"/><circle cx="133.3" cy="317.4" r="0.45"/><circle cx="98.3" cy="296.3" r="0.56"/><circle cx="141.6" cy="268.1" r="0.60"/><circle cx="76.3" cy="305.6" r="0.49"/><circle cx="112.3" cy="286.8" r="0.52"/><circle cx="107.6" cy="276.9" r="0.39"/><circle cx="128.0" cy="296.0" r="0.53"/><circle cx="87.0" cy="285.2" r="0.60"/><circle cx="88.1" cy="310.3" r="0.47"/><circle cx="129.0" cy="293.0" r="0.55"/><circle cx="106.6" cy="276.3" r="0.62"/><circle cx="130.3" cy="277.1" r="0.47"/><circle cx="76.9" cy="303.4" r="0.50"/><circle cx="103.6" cy="319.5" r="0.63"/><circle cx="83.9" cy="304.3" r="0.34"/><circle cx="83.3" cy="268.5" r="0.35"/><circle cx="92.2" cy="287.7" r="0.56"/><circle cx="122.4" cy="284.1" r="0.62"/><circle cx="99.8" cy="260.1" r="0.53"/><circle cx="140.2" cy="302.3" r="0.37"/><circle cx="97.2" cy="254.1" r="0.48"/><circle cx="97.3" cy="298.4" r="0.38"/><circle cx="112.5" cy="322.9" r="0.65"/><circle cx="144.2" cy="273.2" r="0.56"/><circle cx="117.5" cy="306.0" r="0.52"/><circle cx="90.4" cy="293.9" r="0.34"/><circle cx="90.7" cy="306.1" r="0.35"/><circle cx="127.4" cy="289.8" r="0.35"/><circle cx="115.2" cy="259.3" r="0.57"/><circle cx="99.8" cy="264.3" r="0.44"/><circle cx="140.0" cy="290.9" r="0.46"/><circle cx="104.0" cy="300.3" r="0.43"/><circle cx="126.4" cy="317.7" r="0.56"/><circle cx="89.3" cy="255.8" r="0.49"/><circle cx="110.8" cy="295.3" r="0.57"/><circle cx="115.4" cy="307.8" r="0.57"/><circle cx="97.1" cy="315.1" r="0.34"/><circle cx="81.2" cy="297.6" r="0.46"/><circle cx="99.7" cy="290.1" r="0.50"/><circle cx="92.6" cy="267.8" r="0.41"/><circle cx="85.8" cy="269.3" r="0.62"/><circle cx="85.2" cy="303.4" r="0.34"/><circle cx="93.2" cy="319.4" r="0.33"/><circle cx="115.7" cy="313.4" r="0.32"/><circle cx="128.0" cy="290.9" r="0.51"/><circle cx="102.8" cy="250.0" r="0.44"/><circle cx="111.9" cy="291.1" r="0.37"/><circle cx="85.8" cy="299.2" r="0.36"/><circle cx="103.4" cy="309.5" r="0.44"/><circle cx="96.9" cy="283.4" r="0.46"/><circle cx="140.0" cy="302.9" r="0.35"/><circle cx="113.5" cy="316.5" r="0.32"/><circle cx="133.5" cy="303.9" r="0.54"/><circle cx="138.1" cy="266.8" r="0.58"/><circle cx="96.0" cy="303.9" r="0.65"/><circle cx="129.8" cy="273.9" r="0.54"/><circle cx="102.5" cy="252.9" r="0.59"/><circle cx="146.0" cy="284.6" r="0.41"/><circle cx="117.9" cy="264.9" r="0.47"/><circle cx="116.3" cy="284.0" r="0.64"/><circle cx="132.9" cy="309.0" r="0.44"/><circle cx="136.0" cy="269.1" r="0.48"/><circle cx="112.3" cy="292.4" r="0.31"/><circle cx="99.4" cy="303.5" r="0.37"/><circle cx="104.6" cy="284.0" r="0.63"/><circle cx="115.1" cy="282.1" r="0.58"/><circle cx="92.2" cy="283.7" r="0.52"/><circle cx="112.1" cy="288.8" r="0.30"/><circle cx="99.8" cy="281.5" r="0.49"/><circle cx="126.6" cy="279.5" r="0.48"/><circle cx="122.3" cy="298.2" r="0.63"/><circle cx="131.4" cy="268.3" r="0.64"/><circle cx="115.2" cy="296.7" r="0.37"/><circle cx="86.7" cy="273.3" r="0.53"/><circle cx="120.6" cy="268.3" r="0.64"/><circle cx="128.0" cy="279.1" r="0.50"/><circle cx="136.3" cy="265.3" r="0.42"/><circle cx="96.7" cy="285.7" r="0.35"/><circle cx="120.9" cy="263.2" r="0.38"/><circle cx="128.4" cy="290.0" r="0.43"/><circle cx="113.3" cy="260.9" r="0.48"/><circle cx="93.2" cy="266.9" r="0.64"/><circle cx="103.1" cy="253.3" r="0.56"/><circle cx="98.8" cy="300.9" r="0.56"/><circle cx="70.1" cy="279.7" r="0.45"/><circle cx="86.8" cy="266.4" r="0.54"/><circle cx="106.9" cy="315.6" r="0.59"/><circle cx="94.8" cy="302.7" r="0.64"/><circle cx="122.8" cy="251.6" r="0.59"/><circle cx="135.7" cy="292.2" r="0.51"/><circle cx="80.2" cy="262.0" r="0.41"/><circle cx="120.9" cy="271.9" r="0.47"/><circle cx="97.3" cy="282.8" r="0.38"/><circle cx="101.1" cy="321.9" r="0.57"/><circle cx="73.2" cy="277.9" r="0.37"/><circle cx="123.8" cy="259.1" r="0.62"/><circle cx="110.4" cy="318.6" r="0.51"/><circle cx="76.6" cy="297.4" r="0.38"/><circle cx="136.6" cy="280.0" r="0.33"/><circle cx="116.4" cy="293.3" r="0.38"/><circle cx="76.7" cy="280.8" r="0.44"/><circle cx="111.2" cy="269.5" r="0.59"/><circle cx="102.6" cy="309.7" r="0.31"/><circle cx="102.0" cy="314.1" r="0.45"/><circle cx="110.5" cy="282.3" r="0.36"/><circle cx="134.8" cy="286.3" r="0.64"/><circle cx="92.0" cy="301.1" r="0.41"/><circle cx="81.3" cy="281.0" r="0.44"/><circle cx="139.2" cy="263.7" r="0.37"/><circle cx="111.8" cy="311.5" r="0.40"/><circle cx="81.6" cy="292.4" r="0.44"/><circle cx="111.5" cy="282.9" r="0.39"/><circle cx="99.9" cy="304.4" r="0.52"/><circle cx="137.3" cy="296.7" r="0.48"/><circle cx="102.2" cy="265.6" r="0.59"/><circle cx="125.7" cy="280.0" r="0.35"/><circle cx="79.0" cy="267.4" r="0.45"/><circle cx="101.3" cy="321.4" r="0.38"/><circle cx="94.6" cy="293.8" r="0.53"/><circle cx="128.7" cy="281.0" r="0.52"/><circle cx="96.1" cy="304.5" r="0.62"/><circle cx="95.5" cy="286.5" r="0.59"/><circle cx="84.7" cy="261.6" r="0.60"/><circle cx="79.7" cy="277.7" r="0.38"/><circle cx="115.2" cy="319.2" r="0.43"/><circle cx="117.6" cy="295.6" r="0.32"/><circle cx="75.8" cy="269.6" r="0.60"/><circle cx="127.5" cy="270.8" r="0.43"/><circle cx="101.2" cy="273.4" r="0.53"/><circle cx="119.4" cy="249.7" r="0.59"/><circle cx="127.1" cy="314.6" r="0.35"/><circle cx="77.5" cy="282.7" r="0.55"/><circle cx="113.6" cy="269.8" r="0.38"/><circle cx="96.5" cy="286.9" r="0.63"/><circle cx="118.7" cy="318.2" r="0.30"/><circle cx="76.8" cy="307.8" r="0.53"/><circle cx="133.1" cy="286.0" r="0.54"/><circle cx="84.9" cy="315.0" r="0.50"/><circle cx="86.7" cy="314.8" r="0.42"/><circle cx="90.6" cy="299.7" r="0.47"/><circle cx="131.3" cy="255.9" r="0.44"/><circle cx="99.2" cy="257.4" r="0.46"/><circle cx="96.3" cy="255.2" r="0.39"/><circle cx="96.3" cy="293.9" r="0.53"/><circle cx="100.3" cy="301.8" r="0.35"/><circle cx="127.7" cy="310.4" r="0.64"/><circle cx="107.0" cy="306.6" r="0.34"/><circle cx="114.1" cy="289.0" r="0.53"/><circle cx="94.7" cy="314.6" r="0.36"/><circle cx="91.0" cy="284.2" r="0.64"/><circle cx="137.0" cy="283.7" r="0.34"/><circle cx="81.9" cy="295.6" r="0.35"/><circle cx="91.8" cy="309.3" r="0.62"/><circle cx="98.0" cy="249.5" r="0.47"/><circle cx="76.5" cy="284.7" r="0.42"/><circle cx="123.7" cy="314.5" r="0.42"/><circle cx="96.3" cy="286.6" r="0.56"/><circle cx="100.0" cy="284.2" r="0.56"/><circle cx="132.6" cy="264.5" r="0.46"/><circle cx="92.2" cy="320.0" r="0.48"/><circle cx="130.6" cy="315.4" r="0.49"/><circle cx="145.6" cy="295.2" r="0.43"/><circle cx="97.7" cy="266.4" r="0.38"/><circle cx="108.7" cy="310.2" r="0.33"/><circle cx="73.3" cy="280.3" r="0.35"/><circle cx="111.5" cy="307.7" r="0.52"/><circle cx="112.6" cy="257.5" r="0.41"/><circle cx="115.4" cy="313.8" r="0.60"/><circle cx="133.9" cy="269.8" r="0.37"/><circle cx="79.1" cy="297.7" r="0.47"/><circle cx="105.3" cy="287.1" r="0.50"/><circle cx="136.0" cy="287.9" r="0.40"/><circle cx="79.5" cy="299.9" r="0.36"/><circle cx="142.5" cy="285.3" r="0.42"/><circle cx="135.2" cy="260.1" r="0.30"/><circle cx="91.2" cy="263.0" r="0.57"/><circle cx="77.5" cy="272.8" r="0.43"/><circle cx="120.5" cy="288.5" r="0.52"/><circle cx="95.6" cy="255.2" r="0.62"/><circle cx="125.4" cy="261.6" r="0.39"/><circle cx="111.8" cy="300.3" r="0.53"/><circle cx="120.6" cy="324.0" r="0.65"/><circle cx="96.6" cy="290.7" r="0.32"/><circle cx="106.7" cy="294.6" r="0.44"/><circle cx="112.1" cy="309.5" r="0.61"/><circle cx="117.4" cy="276.4" r="0.53"/><circle cx="104.8" cy="301.8" r="0.43"/><circle cx="108.2" cy="325.3" r="0.62"/><circle cx="132.4" cy="292.8" r="0.36"/><circle cx="92.9" cy="272.7" r="0.31"/><circle cx="134.1" cy="311.8" r="0.60"/><circle cx="112.3" cy="275.0" r="0.60"/><circle cx="126.4" cy="270.7" r="0.49"/><circle cx="100.3" cy="261.4" r="0.37"/><circle cx="94.2" cy="259.8" r="0.60"/><circle cx="103.0" cy="303.2" r="0.43"/><circle cx="95.2" cy="321.9" r="0.39"/><circle cx="93.1" cy="252.3" r="0.65"/><circle cx="104.7" cy="264.6" r="0.34"/><circle cx="125.3" cy="260.7" r="0.50"/><circle cx="122.3" cy="254.3" r="0.45"/><circle cx="119.7" cy="279.7" r="0.59"/><circle cx="126.1" cy="314.5" r="0.40"/><circle cx="78.3" cy="304.0" r="0.59"/><circle cx="98.9" cy="297.5" r="0.53"/><circle cx="106.7" cy="260.6" r="0.48"/><circle cx="123.7" cy="276.9" r="0.50"/><circle cx="131.1" cy="311.8" r="0.46"/><circle cx="115.1" cy="282.5" r="0.38"/><circle cx="100.4" cy="300.8" r="0.57"/><circle cx="115.4" cy="268.5" r="0.34"/><circle cx="92.1" cy="317.9" r="0.39"/><circle cx="116.0" cy="295.6" r="0.60"/><circle cx="143.5" cy="291.5" r="0.43"/><circle cx="82.3" cy="263.0" r="0.63"/><circle cx="116.3" cy="317.2" r="0.49"/><circle cx="77.6" cy="290.5" r="0.55"/><circle cx="118.0" cy="268.3" r="0.60"/><circle cx="88.2" cy="272.2" r="0.46"/><circle cx="122.9" cy="265.2" r="0.46"/><circle cx="129.3" cy="298.2" r="0.36"/><circle cx="82.9" cy="272.3" r="0.57"/><circle cx="116.7" cy="300.5" r="0.39"/><circle cx="131.7" cy="295.7" r="0.54"/><circle cx="89.7" cy="276.1" r="0.63"/><circle cx="135.2" cy="306.5" r="0.57"/><circle cx="131.3" cy="257.1" r="0.64"/><circle cx="104.7" cy="305.6" r="0.33"/><circle cx="89.8" cy="278.3" r="0.60"/><circle cx="74.7" cy="278.7" r="0.37"/><circle cx="136.2" cy="267.6" r="0.45"/><circle cx="98.0" cy="318.9" r="0.56"/><circle cx="108.1" cy="312.9" r="0.33"/><circle cx="145.7" cy="285.3" r="0.31"/><circle cx="124.2" cy="293.2" r="0.62"/><circle cx="116.6" cy="317.9" r="0.65"/></g><g fill="#505050" opacity="0.8"><circle cx="136.5" cy="306.0" r="0.73"/><circle cx="135.0" cy="296.2" r="0.96"/><circle cx="110.3" cy="291.4" r="0.95"/><circle cx="81.6" cy="309.8" r="1.09"/><circle cx="113.0" cy="323.1" r="0.69"/><circle cx="96.5" cy="253.9" r="1.06"/><circle cx="99.9" cy="284.0" r="0.80"/><circle cx="101.5" cy="260.9" r="0.93"/><circle cx="118.4" cy="276.2" r="0.93"/><circle cx="80.7" cy="268.7" r="0.93"/><circle cx="121.8" cy="251.8" r="0.84"/><circle cx="109.3" cy="304.8" r="0.67"/><circle cx="132.7" cy="300.2" r="0.85"/><circle cx="116.0" cy="274.5" r="0.79"/><circle cx="132.2" cy="261.1" r="1.03"/><circle cx="71.2" cy="293.3" r="0.94"/><circle cx="135.3" cy="273.6" r="0.79"/><circle cx="112.1" cy="256.3" r="0.94"/><circle cx="87.6" cy="317.8" r="0.73"/><circle cx="96.6" cy="299.4" r="0.90"/><circle cx="119.6" cy="266.3" r="0.69"/><circle cx="121.6" cy="253.5" r="0.80"/><circle cx="86.9" cy="289.7" r="0.67"/><circle cx="130.1" cy="318.4" r="0.70"/><circle cx="92.7" cy="263.0" r="0.73"/><circle cx="120.7" cy="287.2" r="0.91"/><circle cx="111.2" cy="318.7" r="0.78"/><circle cx="87.1" cy="281.3" r="0.78"/><circle cx="91.9" cy="298.2" r="0.98"/><circle cx="139.1" cy="274.0" r="1.01"/><circle cx="125.6" cy="305.7" r="0.87"/><circle cx="129.5" cy="285.1" r="0.93"/><circle cx="91.3" cy="277.5" r="1.09"/><circle cx="91.7" cy="254.4" r="0.94"/><circle cx="135.6" cy="266.2" r="0.65"/><circle cx="125.4" cy="304.7" r="0.73"/><circle cx="84.9" cy="285.0" r="0.82"/><circle cx="83.4" cy="267.5" r="0.72"/><circle cx="124.9" cy="269.7" r="0.83"/><circle cx="141.4" cy="283.6" r="1.06"/><circle cx="131.8" cy="279.4" r="0.66"/><circle cx="84.5" cy="311.5" r="0.77"/><circle cx="133.7" cy="275.9" r="0.87"/><circle cx="107.7" cy="320.6" r="1.04"/><circle cx="115.9" cy="291.5" r="0.66"/><circle cx="114.6" cy="296.5" r="0.79"/><circle cx="121.1" cy="321.1" r="1.01"/><circle cx="89.8" cy="256.7" r="0.61"/><circle cx="114.6" cy="263.8" r="0.96"/><circle cx="127.9" cy="262.3" r="0.87"/><circle cx="86.7" cy="264.3" r="1.09"/><circle cx="137.7" cy="294.1" r="1.04"/><circle cx="93.9" cy="268.5" r="0.86"/><circle cx="81.7" cy="310.0" r="0.91"/><circle cx="83.1" cy="281.7" r="0.83"/><circle cx="81.5" cy="306.6" r="0.68"/><circle cx="136.5" cy="300.8" r="0.99"/><circle cx="88.3" cy="317.0" r="0.86"/><circle cx="134.7" cy="288.4" r="0.99"/><circle cx="129.1" cy="265.9" r="0.90"/><circle cx="104.5" cy="306.2" r="0.75"/><circle cx="119.8" cy="310.7" r="0.65"/><circle cx="120.9" cy="316.2" r="0.69"/><circle cx="105.7" cy="277.8" r="0.97"/><circle cx="86.1" cy="292.4" r="0.79"/><circle cx="130.1" cy="258.5" r="1.00"/><circle cx="113.5" cy="280.1" r="0.92"/><circle cx="95.0" cy="293.0" r="0.87"/><circle cx="103.4" cy="264.1" r="0.86"/><circle cx="142.4" cy="286.0" r="0.73"/></g><path d="M99.5 275l4 -3l4 2l2 4l3 1l-1 4l-5 0l-3 -2l-4 0z" fill="#3a3a3a"/><ellipse cx="118.5" cy="288" rx="2.5" ry="2" fill="#444"/><ellipse cx="135.5" cy="283" rx="3" ry="2" fill="#505050"/><ellipse cx="114.0" cy="254" rx="3" ry="1.8" fill="#5a5a5a"/><ellipse cx="89.9" cy="297" rx="2.5" ry="2" fill="#777"/><ellipse cx="131.2" cy="308" rx="2.5" ry="2" fill="#777"/><circle cx="108.5" cy="287" r="39.5" fill="none" stroke="#555" stroke-width="2" opacity="0.5"/></g></g><g clip-path="url(#c21)"><g filter="url(#gr21)"><circle cx="205" cy="286.5" r="42" fill="#aaaaaa"/><g fill="#555" opacity="0.75"><circle cx="208.0" cy="310.9" r="0.36"/><circle cx="171.5" cy="268.6" r="0.54"/><circle cx="183.0" cy="306.3" r="0.56"/><circle cx="210.9" cy="256.9" r="0.53"/><circle cx="171.2" cy="300.0" r="0.35"/><circle cx="202.4" cy="271.3" r="0.36"/><circle cx="181.7" cy="264.4" r="0.32"/><circle cx="239.5" cy="293.8" r="0.60"/><circle cx="212.8" cy="322.1" r="0.55"/><circle cx="229.1" cy="310.6" r="0.53"/><circle cx="217.0" cy="279.2" r="0.54"/><circle cx="242.2" cy="299.5" r="0.41"/><circle cx="180.7" cy="266.8" r="0.36"/><circle cx="226.4" cy="255.7" r="0.41"/><circle cx="197.5" cy="273.3" r="0.44"/><circle cx="172.6" cy="287.9" r="0.44"/><circle cx="208.9" cy="290.9" r="0.46"/><circle cx="174.7" cy="301.8" r="0.56"/><circle cx="226.3" cy="266.5" r="0.53"/><circle cx="219.5" cy="303.8" r="0.32"/><circle cx="210.1" cy="280.5" r="0.61"/><circle cx="231.7" cy="308.4" r="0.53"/><circle cx="215.9" cy="277.4" r="0.53"/><circle cx="178.3" cy="264.7" r="0.45"/><circle cx="240.6" cy="277.8" r="0.38"/><circle cx="202.3" cy="260.3" r="0.54"/><circle cx="180.8" cy="294.4" r="0.64"/><circle cx="210.0" cy="306.8" r="0.54"/><circle cx="221.7" cy="273.9" r="0.41"/><circle cx="177.2" cy="312.7" r="0.61"/><circle cx="201.1" cy="252.3" r="0.38"/><circle cx="220.8" cy="289.6" r="0.36"/><circle cx="234.9" cy="299.3" r="0.38"/><circle cx="221.8" cy="311.3" r="0.42"/><circle cx="196.5" cy="269.5" r="0.34"/><circle cx="172.7" cy="263.4" r="0.55"/><circle cx="175.4" cy="286.9" r="0.64"/><circle cx="221.4" cy="252.7" r="0.31"/><circle cx="233.5" cy="275.6" r="0.52"/><circle cx="188.2" cy="263.5" r="0.36"/><circle cx="212.1" cy="253.3" r="0.33"/><circle cx="181.5" cy="270.5" r="0.42"/><circle cx="234.0" cy="271.0" r="0.62"/><circle cx="217.8" cy="304.5" r="0.60"/><circle cx="219.9" cy="259.2" r="0.60"/><circle cx="187.1" cy="275.5" r="0.41"/><circle cx="192.3" cy="253.4" r="0.38"/><circle cx="181.7" cy="270.8" r="0.38"/><circle cx="188.2" cy="289.2" r="0.33"/><circle cx="231.0" cy="276.2" r="0.59"/><circle cx="209.2" cy="278.3" r="0.55"/><circle cx="238.0" cy="292.1" r="0.57"/><circle cx="210.8" cy="269.9" r="0.41"/><circle cx="216.3" cy="307.8" r="0.60"/><circle cx="218.1" cy="273.1" r="0.48"/><circle cx="196.4" cy="273.8" r="0.49"/><circle cx="207.9" cy="280.6" r="0.39"/><circle cx="205.6" cy="280.4" r="0.55"/><circle cx="214.6" cy="309.2" r="0.48"/><circle cx="193.7" cy="258.2" r="0.47"/><circle cx="199.5" cy="257.0" r="0.37"/><circle cx="188.2" cy="288.1" r="0.56"/><circle cx="226.5" cy="258.1" r="0.45"/><circle cx="231.4" cy="307.3" r="0.44"/><circle cx="210.2" cy="277.7" r="0.65"/><circle cx="205.5" cy="254.0" r="0.43"/><circle cx="235.5" cy="304.6" r="0.43"/><circle cx="220.5" cy="268.7" r="0.36"/><circle cx="218.4" cy="294.9" r="0.60"/><circle cx="223.3" cy="273.7" r="0.41"/><circle cx="217.3" cy="320.7" r="0.62"/><circle cx="233.3" cy="259.3" r="0.54"/><circle cx="237.3" cy="267.2" r="0.64"/><circle cx="217.3" cy="269.6" r="0.57"/><circle cx="216.5" cy="306.9" r="0.61"/><circle cx="178.2" cy="281.4" r="0.61"/><circle cx="204.6" cy="314.2" r="0.54"/><circle cx="200.9" cy="315.2" r="0.54"/><circle cx="206.0" cy="324.3" r="0.58"/><circle cx="170.8" cy="281.6" r="0.37"/><circle cx="198.6" cy="318.3" r="0.39"/><circle cx="200.3" cy="322.9" r="0.33"/><circle cx="241.5" cy="285.3" r="0.41"/><circle cx="180.7" cy="279.5" r="0.56"/><circle cx="202.4" cy="283.0" r="0.38"/><circle cx="172.0" cy="306.1" r="0.63"/><circle cx="190.0" cy="264.4" r="0.31"/><circle cx="199.9" cy="303.7" r="0.43"/><circle cx="190.4" cy="294.4" r="0.33"/><circle cx="234.1" cy="279.6" r="0.60"/><circle cx="236.2" cy="282.9" r="0.55"/><circle cx="174.5" cy="294.9" r="0.33"/><circle cx="234.9" cy="263.7" r="0.58"/><circle cx="217.7" cy="256.0" r="0.64"/><circle cx="209.9" cy="247.6" r="0.31"/><circle cx="169.7" cy="270.5" r="0.46"/><circle cx="201.7" cy="312.4" r="0.31"/><circle cx="181.9" cy="265.4" r="0.33"/><circle cx="236.4" cy="264.7" r="0.60"/><circle cx="183.1" cy="305.8" r="0.46"/><circle cx="228.3" cy="279.8" r="0.62"/><circle cx="167.6" cy="281.8" r="0.48"/><circle cx="197.0" cy="318.5" r="0.36"/><circle cx="200.2" cy="325.7" r="0.39"/><circle cx="228.7" cy="301.2" r="0.48"/><circle cx="212.6" cy="272.5" r="0.33"/><circle cx="200.8" cy="321.9" r="0.58"/><circle cx="239.2" cy="276.7" r="0.36"/><circle cx="228.6" cy="318.1" r="0.42"/><circle cx="201.6" cy="286.6" r="0.33"/><circle cx="232.1" cy="274.4" r="0.57"/><circle cx="231.9" cy="303.8" r="0.65"/><circle cx="227.8" cy="279.0" r="0.35"/><circle cx="225.6" cy="279.5" r="0.56"/><circle cx="188.4" cy="291.0" r="0.49"/><circle cx="208.9" cy="306.1" r="0.33"/><circle cx="180.5" cy="300.8" r="0.42"/><circle cx="189.3" cy="309.1" r="0.44"/><circle cx="225.7" cy="314.4" r="0.33"/><circle cx="198.4" cy="312.3" r="0.47"/><circle cx="239.8" cy="274.3" r="0.59"/><circle cx="209.6" cy="324.4" r="0.42"/><circle cx="201.7" cy="299.4" r="0.39"/><circle cx="195.3" cy="303.4" r="0.63"/><circle cx="228.1" cy="269.7" r="0.48"/><circle cx="188.4" cy="256.3" r="0.51"/><circle cx="173.2" cy="265.2" r="0.48"/><circle cx="220.5" cy="297.6" r="0.45"/><circle cx="222.3" cy="305.0" r="0.63"/><circle cx="200.1" cy="288.4" r="0.39"/><circle cx="218.2" cy="264.8" r="0.64"/><circle cx="199.1" cy="262.1" r="0.61"/><circle cx="187.9" cy="299.4" r="0.45"/><circle cx="193.1" cy="320.9" r="0.61"/><circle cx="197.8" cy="271.0" r="0.52"/><circle cx="201.6" cy="293.0" r="0.59"/><circle cx="228.6" cy="295.4" r="0.46"/><circle cx="176.3" cy="292.1" r="0.45"/><circle cx="186.6" cy="252.7" r="0.46"/><circle cx="208.3" cy="260.1" r="0.38"/><circle cx="206.8" cy="258.9" r="0.33"/><circle cx="219.5" cy="291.3" r="0.53"/><circle cx="186.3" cy="256.3" r="0.52"/><circle cx="200.4" cy="291.8" r="0.46"/><circle cx="205.0" cy="309.6" r="0.43"/><circle cx="222.2" cy="294.6" r="0.50"/><circle cx="199.3" cy="289.0" r="0.44"/><circle cx="195.3" cy="252.0" r="0.46"/><circle cx="204.3" cy="283.5" r="0.55"/><circle cx="236.7" cy="284.6" r="0.47"/><circle cx="180.6" cy="281.1" r="0.34"/><circle cx="226.3" cy="309.7" r="0.53"/><circle cx="192.6" cy="258.0" r="0.36"/><circle cx="236.4" cy="274.7" r="0.64"/><circle cx="224.1" cy="315.6" r="0.57"/><circle cx="221.6" cy="284.4" r="0.31"/><circle cx="200.8" cy="289.5" r="0.33"/><circle cx="240.2" cy="270.0" r="0.39"/><circle cx="183.2" cy="316.5" r="0.59"/><circle cx="218.1" cy="281.4" r="0.46"/><circle cx="186.8" cy="293.1" r="0.30"/><circle cx="197.4" cy="287.7" r="0.51"/><circle cx="165.6" cy="281.2" r="0.42"/><circle cx="225.2" cy="289.2" r="0.62"/><circle cx="202.0" cy="319.6" r="0.56"/><circle cx="183.8" cy="261.2" r="0.46"/><circle cx="238.2" cy="269.9" r="0.57"/><circle cx="188.8" cy="292.1" r="0.53"/><circle cx="166.2" cy="285.2" r="0.47"/><circle cx="214.5" cy="290.6" r="0.39"/><circle cx="212.2" cy="318.4" r="0.56"/><circle cx="197.7" cy="317.5" r="0.48"/><circle cx="240.6" cy="293.6" r="0.52"/><circle cx="238.7" cy="279.3" r="0.42"/><circle cx="215.9" cy="256.7" r="0.41"/><circle cx="205.0" cy="251.5" r="0.63"/><circle cx="224.8" cy="302.7" r="0.48"/><circle cx="233.1" cy="269.6" r="0.56"/><circle cx="223.1" cy="263.3" r="0.60"/><circle cx="200.8" cy="317.3" r="0.30"/><circle cx="235.3" cy="289.0" r="0.42"/><circle cx="202.9" cy="326.0" r="0.54"/><circle cx="189.8" cy="317.0" r="0.51"/><circle cx="199.0" cy="249.5" r="0.42"/><circle cx="186.1" cy="251.6" r="0.38"/><circle cx="212.5" cy="251.5" r="0.61"/><circle cx="215.5" cy="251.7" r="0.44"/><circle cx="208.2" cy="252.1" r="0.59"/><circle cx="223.4" cy="284.9" r="0.50"/><circle cx="167.3" cy="282.5" r="0.57"/><circle cx="197.1" cy="316.4" r="0.47"/><circle cx="198.4" cy="321.9" r="0.62"/><circle cx="213.0" cy="253.4" r="0.48"/><circle cx="182.9" cy="261.3" r="0.45"/><circle cx="203.4" cy="285.9" r="0.54"/><circle cx="181.0" cy="303.8" r="0.49"/><circle cx="197.1" cy="276.4" r="0.32"/><circle cx="217.7" cy="293.4" r="0.63"/><circle cx="178.4" cy="259.5" r="0.63"/><circle cx="195.4" cy="271.0" r="0.47"/><circle cx="193.5" cy="280.4" r="0.34"/><circle cx="218.2" cy="302.9" r="0.39"/><circle cx="167.4" cy="288.0" r="0.49"/><circle cx="213.7" cy="298.8" r="0.34"/><circle cx="175.7" cy="270.7" r="0.56"/><circle cx="204.8" cy="316.9" r="0.44"/><circle cx="226.6" cy="275.8" r="0.55"/><circle cx="185.1" cy="256.1" r="0.64"/><circle cx="239.8" cy="286.6" r="0.33"/><circle cx="211.1" cy="281.6" r="0.37"/><circle cx="181.7" cy="272.8" r="0.38"/><circle cx="220.5" cy="272.5" r="0.36"/><circle cx="169.4" cy="293.6" r="0.54"/><circle cx="194.2" cy="264.1" r="0.55"/><circle cx="197.1" cy="311.1" r="0.45"/><circle cx="239.3" cy="288.8" r="0.37"/><circle cx="197.3" cy="264.2" r="0.48"/><circle cx="218.6" cy="273.5" r="0.50"/><circle cx="177.7" cy="312.2" r="0.63"/><circle cx="187.8" cy="311.5" r="0.35"/><circle cx="221.3" cy="318.1" r="0.59"/><circle cx="229.2" cy="313.0" r="0.55"/><circle cx="232.7" cy="304.9" r="0.57"/><circle cx="185.1" cy="319.8" r="0.49"/><circle cx="206.8" cy="311.9" r="0.36"/><circle cx="236.7" cy="279.9" r="0.34"/><circle cx="199.3" cy="285.0" r="0.39"/><circle cx="195.0" cy="322.2" r="0.31"/><circle cx="186.3" cy="298.3" r="0.45"/><circle cx="199.5" cy="311.4" r="0.64"/><circle cx="205.8" cy="291.1" r="0.59"/><circle cx="209.5" cy="303.8" r="0.44"/><circle cx="219.2" cy="258.3" r="0.58"/><circle cx="220.2" cy="279.6" r="0.36"/><circle cx="227.6" cy="258.9" r="0.34"/><circle cx="210.7" cy="310.3" r="0.46"/><circle cx="216.5" cy="253.2" r="0.57"/><circle cx="203.3" cy="293.2" r="0.62"/><circle cx="207.8" cy="252.5" r="0.36"/><circle cx="189.3" cy="287.6" r="0.51"/><circle cx="214.9" cy="276.6" r="0.50"/><circle cx="236.9" cy="265.2" r="0.44"/><circle cx="215.8" cy="268.6" r="0.47"/><circle cx="199.3" cy="256.2" r="0.64"/><circle cx="177.4" cy="293.8" r="0.60"/><circle cx="194.8" cy="290.7" r="0.38"/><circle cx="218.6" cy="258.6" r="0.45"/><circle cx="218.1" cy="299.0" r="0.62"/><circle cx="233.0" cy="274.5" r="0.39"/><circle cx="214.1" cy="305.7" r="0.52"/><circle cx="223.5" cy="263.1" r="0.51"/><circle cx="223.4" cy="300.3" r="0.58"/><circle cx="186.7" cy="320.7" r="0.41"/><circle cx="184.6" cy="306.8" r="0.56"/><circle cx="177.6" cy="289.5" r="0.43"/><circle cx="222.6" cy="277.3" r="0.63"/><circle cx="192.0" cy="299.3" r="0.55"/><circle cx="182.9" cy="295.0" r="0.50"/><circle cx="189.3" cy="299.9" r="0.55"/><circle cx="240.4" cy="301.8" r="0.61"/><circle cx="198.6" cy="276.7" r="0.32"/><circle cx="208.9" cy="315.6" r="0.58"/><circle cx="199.3" cy="286.1" r="0.64"/><circle cx="177.9" cy="296.8" r="0.53"/><circle cx="191.0" cy="253.9" r="0.45"/><circle cx="208.7" cy="268.9" r="0.48"/><circle cx="184.2" cy="319.4" r="0.41"/><circle cx="232.1" cy="284.5" r="0.57"/><circle cx="197.4" cy="266.3" r="0.59"/><circle cx="204.8" cy="277.0" r="0.47"/><circle cx="205.2" cy="249.2" r="0.43"/><circle cx="195.6" cy="292.8" r="0.43"/><circle cx="198.2" cy="269.9" r="0.60"/><circle cx="224.8" cy="304.1" r="0.50"/><circle cx="227.3" cy="292.8" r="0.33"/><circle cx="229.2" cy="291.8" r="0.35"/><circle cx="167.2" cy="278.4" r="0.36"/><circle cx="203.2" cy="294.4" r="0.41"/><circle cx="220.5" cy="321.9" r="0.62"/><circle cx="214.7" cy="260.0" r="0.50"/><circle cx="242.7" cy="276.8" r="0.52"/><circle cx="198.2" cy="308.6" r="0.36"/><circle cx="190.5" cy="274.2" r="0.45"/><circle cx="232.9" cy="277.8" r="0.56"/><circle cx="208.6" cy="248.2" r="0.39"/><circle cx="202.5" cy="278.7" r="0.35"/><circle cx="232.6" cy="303.1" r="0.50"/><circle cx="177.1" cy="293.9" r="0.58"/><circle cx="211.0" cy="319.2" r="0.47"/><circle cx="185.6" cy="303.2" r="0.38"/><circle cx="191.1" cy="274.0" r="0.32"/><circle cx="179.0" cy="287.0" r="0.46"/><circle cx="216.2" cy="255.4" r="0.49"/><circle cx="212.1" cy="300.9" r="0.63"/><circle cx="177.9" cy="288.4" r="0.38"/><circle cx="182.0" cy="308.1" r="0.50"/><circle cx="230.1" cy="270.9" r="0.57"/><circle cx="231.6" cy="259.3" r="0.33"/><circle cx="200.5" cy="317.3" r="0.42"/><circle cx="176.8" cy="282.6" r="0.50"/><circle cx="225.5" cy="303.0" r="0.64"/><circle cx="212.2" cy="284.0" r="0.65"/><circle cx="212.9" cy="318.0" r="0.55"/><circle cx="190.4" cy="304.3" r="0.60"/><circle cx="238.5" cy="291.6" r="0.63"/><circle cx="197.5" cy="310.3" r="0.44"/><circle cx="188.8" cy="294.5" r="0.59"/><circle cx="226.7" cy="253.7" r="0.53"/><circle cx="179.3" cy="290.1" r="0.35"/><circle cx="224.1" cy="292.3" r="0.57"/><circle cx="210.6" cy="298.1" r="0.45"/><circle cx="237.0" cy="302.6" r="0.56"/><circle cx="187.1" cy="298.9" r="0.46"/><circle cx="244.5" cy="285.2" r="0.39"/><circle cx="190.6" cy="313.8" r="0.41"/><circle cx="182.7" cy="258.1" r="0.49"/><circle cx="189.3" cy="301.8" r="0.46"/><circle cx="201.4" cy="322.4" r="0.50"/><circle cx="238.2" cy="298.7" r="0.38"/><circle cx="236.5" cy="301.2" r="0.63"/><circle cx="187.3" cy="267.2" r="0.34"/><circle cx="179.0" cy="292.0" r="0.57"/><circle cx="223.1" cy="311.3" r="0.33"/><circle cx="187.4" cy="276.4" r="0.34"/><circle cx="195.8" cy="299.2" r="0.38"/><circle cx="210.5" cy="317.0" r="0.37"/><circle cx="180.1" cy="262.6" r="0.56"/><circle cx="194.5" cy="275.6" r="0.43"/><circle cx="211.1" cy="313.1" r="0.59"/><circle cx="170.2" cy="295.1" r="0.43"/><circle cx="185.1" cy="285.9" r="0.41"/><circle cx="184.5" cy="270.0" r="0.60"/><circle cx="238.7" cy="301.1" r="0.57"/><circle cx="223.4" cy="303.1" r="0.46"/><circle cx="176.0" cy="309.7" r="0.41"/><circle cx="178.3" cy="275.0" r="0.62"/><circle cx="242.6" cy="282.1" r="0.32"/><circle cx="171.2" cy="289.2" r="0.51"/><circle cx="193.8" cy="321.2" r="0.30"/><circle cx="224.5" cy="282.1" r="0.62"/><circle cx="223.0" cy="306.8" r="0.56"/><circle cx="221.0" cy="271.1" r="0.48"/><circle cx="225.0" cy="294.9" r="0.39"/><circle cx="198.5" cy="308.7" r="0.56"/><circle cx="184.0" cy="256.5" r="0.46"/><circle cx="236.4" cy="295.6" r="0.48"/><circle cx="183.3" cy="267.2" r="0.39"/><circle cx="183.9" cy="316.9" r="0.46"/><circle cx="191.3" cy="284.9" r="0.30"/><circle cx="212.8" cy="314.4" r="0.63"/><circle cx="207.9" cy="312.9" r="0.53"/><circle cx="190.3" cy="284.4" r="0.46"/><circle cx="202.6" cy="247.9" r="0.60"/><circle cx="173.0" cy="263.3" r="0.53"/><circle cx="219.7" cy="257.0" r="0.60"/><circle cx="237.7" cy="268.8" r="0.63"/><circle cx="207.3" cy="270.3" r="0.55"/><circle cx="180.8" cy="315.3" r="0.57"/><circle cx="202.8" cy="288.4" r="0.38"/><circle cx="221.9" cy="296.4" r="0.48"/><circle cx="219.0" cy="291.4" r="0.52"/><circle cx="188.4" cy="317.4" r="0.31"/><circle cx="182.2" cy="315.7" r="0.44"/><circle cx="227.0" cy="317.2" r="0.53"/><circle cx="185.8" cy="272.0" r="0.46"/><circle cx="221.6" cy="280.0" r="0.48"/><circle cx="188.5" cy="290.8" r="0.51"/><circle cx="192.9" cy="322.6" r="0.34"/><circle cx="220.8" cy="264.3" r="0.31"/><circle cx="166.9" cy="287.7" r="0.47"/><circle cx="202.6" cy="255.2" r="0.53"/><circle cx="176.4" cy="261.1" r="0.41"/><circle cx="183.2" cy="299.4" r="0.38"/><circle cx="189.5" cy="302.0" r="0.63"/><circle cx="201.7" cy="249.1" r="0.55"/><circle cx="191.6" cy="301.6" r="0.37"/><circle cx="189.8" cy="253.9" r="0.53"/><circle cx="204.3" cy="280.9" r="0.58"/><circle cx="206.4" cy="257.8" r="0.58"/><circle cx="192.0" cy="315.5" r="0.50"/><circle cx="235.4" cy="308.1" r="0.59"/><circle cx="196.5" cy="264.9" r="0.34"/><circle cx="231.9" cy="286.2" r="0.50"/><circle cx="194.2" cy="311.9" r="0.43"/><circle cx="233.2" cy="270.8" r="0.34"/><circle cx="188.8" cy="303.2" r="0.40"/><circle cx="221.0" cy="250.8" r="0.48"/><circle cx="209.4" cy="283.1" r="0.56"/><circle cx="192.8" cy="321.8" r="0.41"/><circle cx="183.9" cy="300.7" r="0.46"/><circle cx="228.9" cy="255.0" r="0.32"/><circle cx="220.6" cy="307.5" r="0.47"/><circle cx="191.5" cy="263.4" r="0.60"/><circle cx="224.1" cy="266.8" r="0.37"/><circle cx="221.4" cy="302.9" r="0.59"/><circle cx="174.1" cy="268.2" r="0.40"/><circle cx="227.4" cy="292.6" r="0.52"/><circle cx="207.6" cy="304.7" r="0.40"/><circle cx="196.5" cy="320.9" r="0.63"/><circle cx="227.0" cy="307.4" r="0.38"/><circle cx="165.3" cy="286.6" r="0.50"/><circle cx="208.5" cy="274.4" r="0.43"/><circle cx="208.3" cy="290.4" r="0.41"/><circle cx="200.9" cy="297.7" r="0.53"/><circle cx="222.5" cy="284.7" r="0.51"/><circle cx="180.5" cy="265.7" r="0.48"/><circle cx="202.1" cy="318.3" r="0.42"/><circle cx="187.2" cy="280.5" r="0.50"/><circle cx="194.8" cy="252.1" r="0.60"/><circle cx="222.0" cy="267.8" r="0.36"/><circle cx="186.7" cy="265.7" r="0.31"/><circle cx="189.6" cy="299.5" r="0.55"/><circle cx="230.5" cy="284.3" r="0.53"/><circle cx="241.1" cy="282.6" r="0.48"/><circle cx="229.5" cy="305.7" r="0.50"/><circle cx="193.1" cy="302.8" r="0.49"/><circle cx="193.5" cy="274.0" r="0.39"/><circle cx="241.1" cy="285.7" r="0.41"/><circle cx="222.8" cy="298.8" r="0.32"/><circle cx="205.9" cy="300.3" r="0.54"/><circle cx="173.9" cy="299.8" r="0.44"/><circle cx="213.8" cy="308.4" r="0.64"/><circle cx="191.5" cy="293.6" r="0.31"/><circle cx="175.8" cy="288.9" r="0.33"/><circle cx="173.6" cy="286.3" r="0.54"/><circle cx="191.7" cy="312.9" r="0.53"/><circle cx="224.3" cy="266.2" r="0.63"/><circle cx="184.4" cy="255.4" r="0.40"/><circle cx="211.8" cy="277.3" r="0.31"/><circle cx="222.1" cy="319.4" r="0.40"/><circle cx="222.1" cy="314.5" r="0.43"/><circle cx="232.4" cy="288.8" r="0.35"/><circle cx="191.5" cy="272.4" r="0.52"/><circle cx="219.2" cy="285.5" r="0.38"/><circle cx="197.4" cy="300.7" r="0.34"/><circle cx="228.7" cy="292.0" r="0.39"/><circle cx="223.9" cy="317.0" r="0.50"/><circle cx="202.1" cy="259.4" r="0.36"/><circle cx="183.5" cy="319.1" r="0.63"/><circle cx="205.3" cy="305.2" r="0.60"/><circle cx="195.1" cy="262.3" r="0.59"/><circle cx="201.1" cy="253.5" r="0.59"/><circle cx="205.5" cy="291.1" r="0.62"/><circle cx="234.1" cy="306.7" r="0.61"/><circle cx="178.1" cy="308.0" r="0.44"/><circle cx="214.3" cy="264.9" r="0.39"/><circle cx="184.6" cy="270.8" r="0.48"/><circle cx="222.3" cy="308.7" r="0.53"/><circle cx="225.3" cy="281.4" r="0.37"/><circle cx="167.7" cy="299.0" r="0.33"/><circle cx="187.9" cy="305.2" r="0.38"/><circle cx="176.2" cy="277.0" r="0.53"/><circle cx="216.8" cy="313.7" r="0.60"/><circle cx="231.9" cy="289.3" r="0.55"/><circle cx="225.8" cy="253.2" r="0.57"/><circle cx="223.0" cy="314.2" r="0.36"/><circle cx="209.0" cy="250.5" r="0.50"/><circle cx="188.6" cy="272.7" r="0.62"/><circle cx="201.0" cy="299.1" r="0.50"/><circle cx="203.0" cy="266.0" r="0.37"/><circle cx="209.1" cy="300.9" r="0.31"/><circle cx="179.7" cy="282.5" r="0.63"/><circle cx="228.3" cy="271.8" r="0.33"/><circle cx="226.6" cy="275.8" r="0.41"/><circle cx="209.5" cy="289.0" r="0.54"/><circle cx="183.9" cy="261.8" r="0.59"/><circle cx="225.4" cy="255.9" r="0.56"/><circle cx="184.2" cy="292.4" r="0.53"/><circle cx="227.5" cy="301.0" r="0.42"/><circle cx="197.4" cy="310.5" r="0.33"/><circle cx="207.0" cy="316.7" r="0.52"/><circle cx="194.1" cy="266.0" r="0.59"/><circle cx="190.8" cy="312.0" r="0.54"/><circle cx="204.8" cy="265.3" r="0.63"/><circle cx="173.1" cy="269.3" r="0.62"/><circle cx="186.8" cy="263.5" r="0.31"/><circle cx="197.4" cy="309.8" r="0.31"/><circle cx="197.5" cy="281.5" r="0.36"/><circle cx="224.6" cy="269.8" r="0.32"/><circle cx="186.2" cy="275.4" r="0.55"/><circle cx="229.2" cy="292.2" r="0.49"/><circle cx="206.2" cy="297.9" r="0.50"/><circle cx="219.8" cy="290.6" r="0.62"/><circle cx="207.3" cy="274.3" r="0.57"/><circle cx="241.4" cy="288.5" r="0.34"/><circle cx="167.7" cy="294.2" r="0.49"/><circle cx="204.9" cy="296.5" r="0.30"/><circle cx="199.0" cy="313.8" r="0.57"/><circle cx="195.7" cy="320.7" r="0.64"/><circle cx="222.9" cy="301.3" r="0.40"/><circle cx="169.5" cy="279.6" r="0.63"/><circle cx="210.4" cy="267.9" r="0.40"/><circle cx="226.8" cy="261.6" r="0.48"/><circle cx="176.0" cy="262.1" r="0.48"/><circle cx="182.3" cy="313.7" r="0.41"/><circle cx="219.1" cy="300.0" r="0.33"/><circle cx="191.7" cy="260.2" r="0.33"/><circle cx="165.9" cy="288.2" r="0.35"/><circle cx="202.0" cy="325.9" r="0.65"/><circle cx="210.1" cy="273.0" r="0.45"/><circle cx="206.9" cy="291.0" r="0.48"/><circle cx="185.8" cy="282.5" r="0.47"/><circle cx="195.5" cy="295.8" r="0.62"/><circle cx="192.0" cy="276.0" r="0.64"/><circle cx="221.2" cy="314.0" r="0.49"/><circle cx="194.4" cy="293.0" r="0.64"/><circle cx="212.7" cy="297.6" r="0.56"/><circle cx="213.3" cy="278.6" r="0.43"/><circle cx="234.3" cy="275.7" r="0.41"/><circle cx="206.6" cy="318.1" r="0.59"/><circle cx="177.9" cy="270.0" r="0.57"/><circle cx="185.4" cy="274.7" r="0.39"/><circle cx="186.4" cy="267.4" r="0.64"/><circle cx="196.2" cy="250.8" r="0.58"/><circle cx="213.6" cy="261.1" r="0.37"/><circle cx="221.7" cy="259.5" r="0.37"/><circle cx="188.8" cy="309.7" r="0.60"/><circle cx="206.3" cy="313.3" r="0.44"/><circle cx="221.2" cy="285.1" r="0.37"/><circle cx="213.2" cy="266.8" r="0.48"/></g><g fill="#505050" opacity="0.8"><circle cx="232.5" cy="291.8" r="0.99"/><circle cx="199.7" cy="271.0" r="0.60"/><circle cx="186.3" cy="278.9" r="0.94"/><circle cx="173.7" cy="306.1" r="0.73"/><circle cx="203.9" cy="263.5" r="1.01"/><circle cx="203.0" cy="269.9" r="0.78"/><circle cx="204.6" cy="268.1" r="0.73"/><circle cx="203.0" cy="315.1" r="0.73"/><circle cx="213.8" cy="273.4" r="1.00"/><circle cx="188.0" cy="257.3" r="0.88"/><circle cx="186.3" cy="265.0" r="0.82"/><circle cx="202.4" cy="298.5" r="0.76"/><circle cx="222.0" cy="260.8" r="0.83"/><circle cx="189.3" cy="305.4" r="0.89"/><circle cx="173.1" cy="281.2" r="0.73"/><circle cx="239.1" cy="296.4" r="0.76"/><circle cx="204.5" cy="291.2" r="0.91"/><circle cx="192.0" cy="315.1" r="0.76"/><circle cx="194.2" cy="258.1" r="0.62"/><circle cx="172.9" cy="292.4" r="0.82"/><circle cx="216.9" cy="312.1" r="0.88"/><circle cx="199.9" cy="273.0" r="1.08"/><circle cx="182.2" cy="307.3" r="1.01"/><circle cx="220.3" cy="252.6" r="0.92"/><circle cx="197.8" cy="308.2" r="1.08"/><circle cx="202.1" cy="310.2" r="0.95"/><circle cx="225.3" cy="278.7" r="0.90"/><circle cx="199.0" cy="272.3" r="0.90"/><circle cx="194.6" cy="282.9" r="0.99"/><circle cx="213.9" cy="285.7" r="1.04"/><circle cx="229.8" cy="285.6" r="1.07"/><circle cx="210.8" cy="287.6" r="0.91"/><circle cx="185.7" cy="282.2" r="0.73"/><circle cx="220.1" cy="301.7" r="0.73"/><circle cx="213.6" cy="311.1" r="0.62"/><circle cx="169.1" cy="287.0" r="1.08"/><circle cx="191.2" cy="261.4" r="0.80"/><circle cx="220.9" cy="283.9" r="0.73"/><circle cx="189.6" cy="289.0" r="1.01"/><circle cx="198.1" cy="306.6" r="0.64"/><circle cx="243.6" cy="282.1" r="0.95"/><circle cx="223.7" cy="309.0" r="1.04"/><circle cx="187.2" cy="264.0" r="0.74"/><circle cx="196.2" cy="300.2" r="0.68"/><circle cx="175.9" cy="296.0" r="0.68"/><circle cx="223.8" cy="258.5" r="0.94"/><circle cx="217.7" cy="267.4" r="1.02"/><circle cx="201.6" cy="269.2" r="0.69"/><circle cx="218.7" cy="264.8" r="1.05"/><circle cx="221.2" cy="309.5" r="0.84"/><circle cx="216.9" cy="279.3" r="1.00"/><circle cx="173.3" cy="308.2" r="0.88"/><circle cx="214.2" cy="286.5" r="0.65"/><circle cx="199.7" cy="275.7" r="0.84"/><circle cx="200.4" cy="314.6" r="0.60"/><circle cx="214.0" cy="308.7" r="0.67"/><circle cx="184.1" cy="313.5" r="0.97"/><circle cx="196.2" cy="281.9" r="0.83"/><circle cx="210.5" cy="312.1" r="0.89"/><circle cx="217.1" cy="251.3" r="0.85"/><circle cx="224.7" cy="266.8" r="1.03"/><circle cx="211.2" cy="298.9" r="0.96"/><circle cx="175.2" cy="264.1" r="0.72"/><circle cx="225.7" cy="271.2" r="0.88"/><circle cx="213.4" cy="310.0" r="0.72"/><circle cx="225.5" cy="256.5" r="0.87"/><circle cx="191.7" cy="304.6" r="0.99"/><circle cx="201.3" cy="291.4" r="0.66"/><circle cx="204.7" cy="306.9" r="0.80"/><circle cx="231.5" cy="296.8" r="1.01"/></g><path d="M174 300.5l3 -4l3 2l0 4l5 0l3 2l-1 4l-6 1l-5 -2l-3 -4z" fill="#333"/><ellipse cx="206.7" cy="251.0" rx="3" ry="2" fill="#666"/><ellipse cx="191" cy="295.5" rx="2" ry="1.6" fill="#666"/><circle cx="205" cy="286.5" r="40" fill="none" stroke="#555" stroke-width="2" opacity="0.5"/></g></g><g clip-path="url(#c22)"><g filter="url(#gr22)"><circle cx="301.3" cy="285" r="42" fill="#aaaaaa"/><g fill="#555" opacity="0.75"><circle cx="332.7" cy="290.0" r="0.40"/><circle cx="299.7" cy="266.3" r="0.54"/><circle cx="333.4" cy="304.5" r="0.45"/><circle cx="302.6" cy="291.7" r="0.48"/><circle cx="303.3" cy="291.1" r="0.53"/><circle cx="306.7" cy="313.9" r="0.51"/><circle cx="337.1" cy="286.5" r="0.58"/><circle cx="283.5" cy="313.0" r="0.35"/><circle cx="281.2" cy="318.3" r="0.33"/><circle cx="308.4" cy="274.9" r="0.51"/><circle cx="296.8" cy="249.6" r="0.49"/><circle cx="272.9" cy="312.1" r="0.49"/><circle cx="274.7" cy="260.5" r="0.60"/><circle cx="292.8" cy="256.0" r="0.32"/><circle cx="296.6" cy="303.4" r="0.33"/><circle cx="316.8" cy="296.4" r="0.40"/><circle cx="280.4" cy="308.8" r="0.43"/><circle cx="299.4" cy="303.1" r="0.63"/><circle cx="276.5" cy="264.7" r="0.36"/><circle cx="318.9" cy="314.1" r="0.43"/><circle cx="276.1" cy="254.5" r="0.49"/><circle cx="319.4" cy="257.5" r="0.57"/><circle cx="319.9" cy="288.8" r="0.41"/><circle cx="306.3" cy="305.0" r="0.63"/><circle cx="286.6" cy="319.2" r="0.53"/><circle cx="322.8" cy="272.2" r="0.46"/><circle cx="301.7" cy="305.5" r="0.50"/><circle cx="283.7" cy="274.7" r="0.61"/><circle cx="306.1" cy="309.7" r="0.65"/><circle cx="325.2" cy="300.3" r="0.32"/><circle cx="292.1" cy="275.5" r="0.58"/><circle cx="325.1" cy="295.0" r="0.43"/><circle cx="262.3" cy="277.8" r="0.64"/><circle cx="338.1" cy="287.7" r="0.55"/><circle cx="269.3" cy="277.4" r="0.39"/><circle cx="325.6" cy="305.5" r="0.45"/><circle cx="327.0" cy="277.3" r="0.61"/><circle cx="280.9" cy="284.9" r="0.36"/><circle cx="327.4" cy="257.4" r="0.40"/><circle cx="276.7" cy="264.9" r="0.35"/><circle cx="267.6" cy="276.5" r="0.57"/><circle cx="330.3" cy="285.1" r="0.41"/><circle cx="306.3" cy="282.6" r="0.61"/><circle cx="288.5" cy="318.9" r="0.32"/><circle cx="336.5" cy="272.8" r="0.33"/><circle cx="326.4" cy="296.7" r="0.57"/><circle cx="325.4" cy="310.1" r="0.47"/><circle cx="298.5" cy="314.4" r="0.61"/><circle cx="307.5" cy="310.1" r="0.49"/><circle cx="311.6" cy="317.4" r="0.41"/><circle cx="278.0" cy="252.9" r="0.45"/><circle cx="322.0" cy="304.7" r="0.38"/><circle cx="281.6" cy="272.8" r="0.38"/><circle cx="318.1" cy="293.1" r="0.52"/><circle cx="317.1" cy="274.3" r="0.60"/><circle cx="302.1" cy="295.6" r="0.53"/><circle cx="313.7" cy="298.6" r="0.63"/><circle cx="271.7" cy="290.1" r="0.57"/><circle cx="314.4" cy="318.3" r="0.33"/><circle cx="278.1" cy="297.1" r="0.46"/><circle cx="285.6" cy="254.9" r="0.64"/><circle cx="291.1" cy="292.2" r="0.42"/><circle cx="301.6" cy="321.9" r="0.37"/><circle cx="277.8" cy="297.6" r="0.40"/><circle cx="318.9" cy="275.8" r="0.46"/><circle cx="266.2" cy="273.5" r="0.32"/><circle cx="321.8" cy="250.9" r="0.64"/><circle cx="323.5" cy="253.8" r="0.36"/><circle cx="307.6" cy="312.0" r="0.44"/><circle cx="294.3" cy="291.6" r="0.64"/><circle cx="305.7" cy="265.0" r="0.46"/><circle cx="326.2" cy="278.1" r="0.65"/><circle cx="295.5" cy="255.9" r="0.35"/><circle cx="322.5" cy="280.8" r="0.50"/><circle cx="300.9" cy="255.7" r="0.32"/><circle cx="270.9" cy="284.5" r="0.60"/><circle cx="316.6" cy="281.2" r="0.33"/><circle cx="287.1" cy="275.4" r="0.54"/><circle cx="315.4" cy="298.2" r="0.61"/><circle cx="284.9" cy="274.0" r="0.52"/><circle cx="279.0" cy="272.1" r="0.48"/><circle cx="312.2" cy="321.9" r="0.55"/><circle cx="285.9" cy="296.8" r="0.54"/><circle cx="292.5" cy="304.9" r="0.56"/><circle cx="291.0" cy="287.8" r="0.65"/><circle cx="336.9" cy="302.6" r="0.37"/><circle cx="320.0" cy="276.7" r="0.61"/><circle cx="275.9" cy="312.3" r="0.36"/><circle cx="290.8" cy="250.2" r="0.51"/><circle cx="278.9" cy="252.5" r="0.30"/><circle cx="290.3" cy="319.2" r="0.53"/><circle cx="326.9" cy="313.8" r="0.34"/><circle cx="289.0" cy="280.7" r="0.40"/><circle cx="295.0" cy="254.7" r="0.37"/><circle cx="298.5" cy="316.6" r="0.47"/><circle cx="322.8" cy="253.9" r="0.33"/><circle cx="297.0" cy="310.5" r="0.30"/><circle cx="278.6" cy="258.5" r="0.39"/><circle cx="268.8" cy="274.1" r="0.45"/><circle cx="304.8" cy="286.8" r="0.61"/><circle cx="265.0" cy="274.3" r="0.59"/><circle cx="319.4" cy="309.3" r="0.34"/><circle cx="319.1" cy="271.9" r="0.58"/><circle cx="331.0" cy="263.1" r="0.37"/><circle cx="317.2" cy="297.0" r="0.57"/><circle cx="270.2" cy="305.8" r="0.52"/><circle cx="315.4" cy="278.3" r="0.60"/><circle cx="315.9" cy="248.5" r="0.61"/><circle cx="300.8" cy="278.8" r="0.42"/><circle cx="313.7" cy="248.7" r="0.60"/><circle cx="297.5" cy="320.6" r="0.58"/><circle cx="310.4" cy="275.6" r="0.60"/><circle cx="308.9" cy="267.9" r="0.46"/><circle cx="307.5" cy="263.9" r="0.38"/><circle cx="303.4" cy="290.7" r="0.41"/><circle cx="337.5" cy="277.4" r="0.40"/><circle cx="275.6" cy="303.8" r="0.64"/><circle cx="328.3" cy="274.1" r="0.34"/><circle cx="318.3" cy="320.3" r="0.64"/><circle cx="317.2" cy="297.9" r="0.45"/><circle cx="288.1" cy="316.3" r="0.51"/><circle cx="279.9" cy="303.8" r="0.50"/><circle cx="296.2" cy="265.6" r="0.30"/><circle cx="264.1" cy="275.8" r="0.55"/><circle cx="284.9" cy="254.9" r="0.43"/><circle cx="295.9" cy="276.0" r="0.42"/><circle cx="314.2" cy="266.8" r="0.55"/><circle cx="293.4" cy="305.3" r="0.44"/><circle cx="294.2" cy="309.2" r="0.34"/><circle cx="325.3" cy="275.6" r="0.54"/><circle cx="273.0" cy="259.9" r="0.41"/><circle cx="330.7" cy="285.1" r="0.40"/><circle cx="278.4" cy="272.4" r="0.53"/><circle cx="276.0" cy="294.6" r="0.37"/><circle cx="323.6" cy="269.1" r="0.58"/><circle cx="315.4" cy="293.3" r="0.48"/><circle cx="285.2" cy="312.2" r="0.59"/><circle cx="285.2" cy="254.5" r="0.38"/><circle cx="318.8" cy="287.7" r="0.39"/><circle cx="317.4" cy="262.8" r="0.33"/><circle cx="283.7" cy="266.4" r="0.37"/><circle cx="268.1" cy="286.2" r="0.39"/><circle cx="333.5" cy="286.1" r="0.56"/><circle cx="328.7" cy="306.7" r="0.45"/><circle cx="317.4" cy="280.6" r="0.48"/><circle cx="301.3" cy="293.9" r="0.60"/><circle cx="309.8" cy="259.5" r="0.53"/><circle cx="268.7" cy="262.7" r="0.63"/><circle cx="272.8" cy="260.6" r="0.55"/><circle cx="315.0" cy="260.3" r="0.49"/><circle cx="299.8" cy="247.4" r="0.47"/><circle cx="301.7" cy="305.2" r="0.52"/><circle cx="266.8" cy="280.4" r="0.52"/><circle cx="319.7" cy="294.7" r="0.40"/><circle cx="292.5" cy="303.8" r="0.49"/><circle cx="303.0" cy="299.7" r="0.54"/><circle cx="332.0" cy="298.1" r="0.44"/><circle cx="276.0" cy="299.8" r="0.37"/><circle cx="322.6" cy="270.5" r="0.50"/><circle cx="321.9" cy="259.0" r="0.57"/><circle cx="325.8" cy="285.9" r="0.42"/><circle cx="322.2" cy="257.5" r="0.63"/><circle cx="300.9" cy="259.3" r="0.49"/><circle cx="307.0" cy="315.4" r="0.38"/><circle cx="327.1" cy="289.8" r="0.42"/><circle cx="274.3" cy="303.5" r="0.36"/><circle cx="320.2" cy="304.5" r="0.52"/><circle cx="296.2" cy="289.0" r="0.50"/><circle cx="297.2" cy="279.9" r="0.35"/><circle cx="327.0" cy="293.4" r="0.43"/><circle cx="292.8" cy="301.2" r="0.57"/><circle cx="301.6" cy="260.5" r="0.59"/><circle cx="318.7" cy="294.8" r="0.31"/><circle cx="330.5" cy="285.0" r="0.42"/><circle cx="307.6" cy="253.5" r="0.53"/><circle cx="334.1" cy="274.2" r="0.37"/><circle cx="304.6" cy="289.6" r="0.34"/><circle cx="271.4" cy="272.3" r="0.38"/><circle cx="304.8" cy="251.9" r="0.36"/><circle cx="300.9" cy="254.0" r="0.34"/><circle cx="336.4" cy="277.1" r="0.34"/><circle cx="298.9" cy="290.9" r="0.54"/><circle cx="270.3" cy="308.5" r="0.55"/><circle cx="297.3" cy="274.8" r="0.52"/><circle cx="303.1" cy="272.4" r="0.60"/><circle cx="323.6" cy="306.2" r="0.64"/><circle cx="281.1" cy="313.8" r="0.45"/><circle cx="277.1" cy="284.1" r="0.42"/><circle cx="317.4" cy="252.1" r="0.34"/><circle cx="275.6" cy="255.7" r="0.59"/><circle cx="270.6" cy="298.2" r="0.56"/><circle cx="296.4" cy="323.8" r="0.58"/><circle cx="272.3" cy="288.0" r="0.45"/><circle cx="297.4" cy="318.8" r="0.60"/><circle cx="332.3" cy="303.8" r="0.61"/><circle cx="282.1" cy="289.3" r="0.51"/><circle cx="325.4" cy="289.4" r="0.60"/><circle cx="305.3" cy="301.5" r="0.58"/><circle cx="318.2" cy="269.2" r="0.55"/><circle cx="322.2" cy="286.3" r="0.63"/><circle cx="299.1" cy="273.6" r="0.47"/><circle cx="288.7" cy="252.8" r="0.53"/><circle cx="308.7" cy="258.1" r="0.33"/><circle cx="294.6" cy="267.5" r="0.41"/><circle cx="271.4" cy="290.1" r="0.49"/><circle cx="300.6" cy="259.1" r="0.42"/><circle cx="296.9" cy="318.1" r="0.39"/><circle cx="306.2" cy="297.9" r="0.34"/><circle cx="303.5" cy="256.0" r="0.36"/><circle cx="282.9" cy="286.8" r="0.55"/><circle cx="262.5" cy="278.9" r="0.40"/><circle cx="305.6" cy="296.8" r="0.38"/><circle cx="318.1" cy="286.5" r="0.49"/><circle cx="321.9" cy="281.7" r="0.49"/><circle cx="324.6" cy="308.7" r="0.60"/><circle cx="320.7" cy="265.0" r="0.50"/><circle cx="275.9" cy="295.0" r="0.36"/><circle cx="309.7" cy="281.7" r="0.47"/><circle cx="272.0" cy="306.1" r="0.33"/><circle cx="331.1" cy="295.4" r="0.35"/><circle cx="291.4" cy="313.1" r="0.65"/><circle cx="302.5" cy="271.4" r="0.51"/><circle cx="306.7" cy="320.0" r="0.48"/><circle cx="276.3" cy="294.4" r="0.60"/><circle cx="287.8" cy="322.2" r="0.52"/><circle cx="299.4" cy="254.0" r="0.63"/><circle cx="305.7" cy="302.6" r="0.53"/><circle cx="308.6" cy="299.0" r="0.33"/><circle cx="299.3" cy="285.6" r="0.51"/><circle cx="303.8" cy="306.3" r="0.55"/><circle cx="269.3" cy="294.5" r="0.54"/><circle cx="310.3" cy="247.8" r="0.52"/><circle cx="330.9" cy="271.9" r="0.45"/><circle cx="283.7" cy="261.5" r="0.62"/><circle cx="333.9" cy="300.7" r="0.36"/><circle cx="301.2" cy="262.9" r="0.50"/><circle cx="316.5" cy="300.0" r="0.54"/><circle cx="332.4" cy="273.3" r="0.48"/><circle cx="325.8" cy="298.5" r="0.31"/><circle cx="289.8" cy="308.5" r="0.39"/><circle cx="313.0" cy="282.2" r="0.59"/><circle cx="330.0" cy="275.8" r="0.65"/><circle cx="297.3" cy="317.4" r="0.31"/><circle cx="267.3" cy="291.4" r="0.53"/><circle cx="317.2" cy="319.6" r="0.50"/><circle cx="269.7" cy="286.6" r="0.33"/><circle cx="289.6" cy="305.3" r="0.53"/><circle cx="283.6" cy="317.3" r="0.54"/><circle cx="321.4" cy="277.8" r="0.58"/><circle cx="273.0" cy="293.3" r="0.41"/><circle cx="323.5" cy="280.8" r="0.44"/><circle cx="329.7" cy="282.9" r="0.53"/><circle cx="276.3" cy="300.2" r="0.37"/><circle cx="302.3" cy="261.1" r="0.52"/><circle cx="311.3" cy="318.2" r="0.49"/><circle cx="265.9" cy="299.5" r="0.54"/><circle cx="315.0" cy="282.7" r="0.51"/><circle cx="311.9" cy="301.3" r="0.49"/><circle cx="325.9" cy="301.3" r="0.65"/><circle cx="264.4" cy="294.1" r="0.34"/><circle cx="265.0" cy="285.4" r="0.55"/><circle cx="297.1" cy="313.1" r="0.59"/><circle cx="302.9" cy="324.3" r="0.49"/><circle cx="323.0" cy="273.4" r="0.48"/><circle cx="325.8" cy="256.9" r="0.40"/><circle cx="270.9" cy="303.0" r="0.63"/><circle cx="313.5" cy="259.4" r="0.40"/><circle cx="282.7" cy="273.7" r="0.65"/><circle cx="317.9" cy="307.4" r="0.49"/><circle cx="279.2" cy="277.5" r="0.49"/><circle cx="289.6" cy="309.2" r="0.37"/><circle cx="271.4" cy="270.5" r="0.38"/><circle cx="335.0" cy="294.5" r="0.56"/><circle cx="313.9" cy="254.1" r="0.44"/><circle cx="315.2" cy="255.7" r="0.64"/><circle cx="328.5" cy="291.5" r="0.48"/><circle cx="322.2" cy="262.7" r="0.61"/><circle cx="275.3" cy="280.7" r="0.46"/><circle cx="272.8" cy="303.1" r="0.53"/><circle cx="286.0" cy="288.0" r="0.64"/><circle cx="293.1" cy="263.3" r="0.53"/><circle cx="323.3" cy="255.6" r="0.60"/><circle cx="291.3" cy="307.4" r="0.55"/><circle cx="325.4" cy="260.1" r="0.31"/><circle cx="294.2" cy="277.4" r="0.62"/><circle cx="300.5" cy="245.3" r="0.45"/><circle cx="293.0" cy="275.7" r="0.61"/><circle cx="292.2" cy="260.1" r="0.62"/><circle cx="303.7" cy="276.8" r="0.40"/><circle cx="316.2" cy="304.3" r="0.49"/><circle cx="309.2" cy="256.1" r="0.36"/><circle cx="309.0" cy="276.9" r="0.52"/><circle cx="318.0" cy="274.8" r="0.35"/><circle cx="300.6" cy="312.0" r="0.39"/><circle cx="302.6" cy="281.4" r="0.62"/><circle cx="319.2" cy="312.4" r="0.45"/><circle cx="281.4" cy="272.8" r="0.52"/><circle cx="301.3" cy="310.9" r="0.60"/><circle cx="288.0" cy="296.8" r="0.47"/><circle cx="283.9" cy="276.5" r="0.50"/><circle cx="290.2" cy="323.0" r="0.64"/><circle cx="296.4" cy="316.9" r="0.50"/><circle cx="300.2" cy="252.1" r="0.32"/><circle cx="270.3" cy="285.6" r="0.62"/><circle cx="307.7" cy="264.7" r="0.51"/><circle cx="285.9" cy="267.1" r="0.52"/><circle cx="295.4" cy="252.8" r="0.53"/><circle cx="276.1" cy="258.7" r="0.62"/><circle cx="289.7" cy="314.8" r="0.45"/><circle cx="298.0" cy="254.9" r="0.33"/><circle cx="301.0" cy="263.4" r="0.36"/><circle cx="287.3" cy="281.5" r="0.64"/><circle cx="326.1" cy="270.0" r="0.59"/><circle cx="310.4" cy="267.0" r="0.47"/><circle cx="300.5" cy="249.3" r="0.42"/><circle cx="314.4" cy="281.9" r="0.35"/><circle cx="326.2" cy="254.9" r="0.55"/><circle cx="339.8" cy="277.0" r="0.58"/><circle cx="307.4" cy="261.7" r="0.30"/><circle cx="273.3" cy="293.2" r="0.54"/><circle cx="273.2" cy="268.5" r="0.59"/><circle cx="331.3" cy="309.3" r="0.38"/><circle cx="306.0" cy="280.8" r="0.50"/><circle cx="308.1" cy="322.4" r="0.32"/><circle cx="331.7" cy="265.5" r="0.41"/><circle cx="317.5" cy="304.6" r="0.63"/><circle cx="279.4" cy="286.0" r="0.33"/><circle cx="326.0" cy="313.2" r="0.46"/><circle cx="299.9" cy="252.5" r="0.63"/><circle cx="300.0" cy="259.3" r="0.35"/><circle cx="322.1" cy="299.9" r="0.47"/><circle cx="325.5" cy="277.4" r="0.31"/><circle cx="278.6" cy="293.4" r="0.63"/><circle cx="331.1" cy="306.5" r="0.54"/><circle cx="330.4" cy="280.9" r="0.43"/><circle cx="310.6" cy="308.3" r="0.34"/><circle cx="266.1" cy="295.3" r="0.53"/><circle cx="275.2" cy="266.7" r="0.31"/><circle cx="302.7" cy="320.2" r="0.34"/><circle cx="328.4" cy="297.5" r="0.57"/><circle cx="305.1" cy="302.7" r="0.60"/><circle cx="315.0" cy="303.2" r="0.62"/><circle cx="302.6" cy="283.4" r="0.35"/><circle cx="301.2" cy="299.3" r="0.36"/><circle cx="333.2" cy="290.2" r="0.31"/><circle cx="304.0" cy="320.2" r="0.41"/><circle cx="317.0" cy="290.4" r="0.56"/><circle cx="300.5" cy="256.2" r="0.47"/><circle cx="266.3" cy="282.1" r="0.34"/><circle cx="327.9" cy="275.5" r="0.32"/><circle cx="324.9" cy="258.9" r="0.48"/><circle cx="327.5" cy="279.0" r="0.32"/><circle cx="278.9" cy="301.0" r="0.54"/><circle cx="324.8" cy="270.0" r="0.33"/><circle cx="292.5" cy="277.9" r="0.32"/><circle cx="287.3" cy="269.5" r="0.49"/><circle cx="324.0" cy="284.2" r="0.49"/><circle cx="280.2" cy="268.5" r="0.33"/><circle cx="321.4" cy="258.4" r="0.53"/><circle cx="294.9" cy="250.7" r="0.38"/><circle cx="304.9" cy="311.5" r="0.42"/><circle cx="278.2" cy="298.5" r="0.33"/><circle cx="288.1" cy="262.6" r="0.43"/><circle cx="315.1" cy="277.8" r="0.32"/><circle cx="331.5" cy="305.1" r="0.33"/><circle cx="314.2" cy="253.4" r="0.49"/><circle cx="273.1" cy="273.5" r="0.42"/><circle cx="292.9" cy="296.1" r="0.53"/><circle cx="324.6" cy="259.6" r="0.55"/><circle cx="269.7" cy="261.9" r="0.42"/><circle cx="308.3" cy="314.4" r="0.53"/><circle cx="315.9" cy="296.8" r="0.60"/><circle cx="303.2" cy="261.0" r="0.50"/><circle cx="321.4" cy="255.5" r="0.64"/><circle cx="274.1" cy="261.4" r="0.52"/><circle cx="307.1" cy="282.2" r="0.59"/><circle cx="310.0" cy="303.6" r="0.55"/><circle cx="289.5" cy="303.7" r="0.30"/><circle cx="267.4" cy="270.0" r="0.44"/><circle cx="291.3" cy="273.9" r="0.31"/><circle cx="308.8" cy="318.5" r="0.45"/><circle cx="285.4" cy="301.9" r="0.55"/><circle cx="269.4" cy="270.6" r="0.33"/><circle cx="306.3" cy="292.6" r="0.52"/><circle cx="296.8" cy="317.3" r="0.53"/><circle cx="275.4" cy="294.9" r="0.40"/><circle cx="327.4" cy="307.7" r="0.45"/><circle cx="292.1" cy="265.9" r="0.47"/><circle cx="332.5" cy="294.1" r="0.44"/><circle cx="332.1" cy="286.5" r="0.41"/><circle cx="313.2" cy="298.9" r="0.39"/><circle cx="324.1" cy="286.1" r="0.56"/><circle cx="289.1" cy="296.4" r="0.55"/><circle cx="315.4" cy="260.6" r="0.58"/><circle cx="308.2" cy="276.8" r="0.31"/><circle cx="306.1" cy="282.4" r="0.60"/><circle cx="274.3" cy="271.6" r="0.55"/><circle cx="320.6" cy="302.0" r="0.31"/><circle cx="308.5" cy="263.5" r="0.52"/><circle cx="333.1" cy="267.5" r="0.33"/><circle cx="302.8" cy="321.5" r="0.51"/><circle cx="278.5" cy="302.5" r="0.41"/><circle cx="289.7" cy="305.1" r="0.36"/><circle cx="322.7" cy="303.7" r="0.48"/><circle cx="279.2" cy="315.7" r="0.55"/><circle cx="315.6" cy="252.0" r="0.38"/><circle cx="306.3" cy="299.4" r="0.51"/><circle cx="281.9" cy="256.3" r="0.36"/><circle cx="266.4" cy="286.3" r="0.56"/><circle cx="268.4" cy="295.9" r="0.62"/><circle cx="281.6" cy="262.5" r="0.52"/><circle cx="275.5" cy="258.5" r="0.35"/><circle cx="291.6" cy="288.7" r="0.41"/><circle cx="320.9" cy="292.2" r="0.48"/><circle cx="280.1" cy="291.6" r="0.32"/><circle cx="333.4" cy="301.8" r="0.60"/><circle cx="273.7" cy="260.7" r="0.48"/><circle cx="275.8" cy="275.9" r="0.58"/><circle cx="265.5" cy="296.7" r="0.58"/><circle cx="287.4" cy="313.9" r="0.47"/><circle cx="315.6" cy="290.9" r="0.34"/><circle cx="280.4" cy="316.4" r="0.55"/><circle cx="314.5" cy="310.0" r="0.39"/><circle cx="276.9" cy="294.8" r="0.48"/><circle cx="290.2" cy="296.4" r="0.40"/><circle cx="287.9" cy="306.6" r="0.51"/><circle cx="280.1" cy="256.8" r="0.32"/><circle cx="296.0" cy="274.0" r="0.40"/><circle cx="282.6" cy="256.8" r="0.62"/><circle cx="282.7" cy="317.2" r="0.50"/><circle cx="292.5" cy="297.1" r="0.64"/><circle cx="275.4" cy="305.9" r="0.51"/><circle cx="287.2" cy="320.8" r="0.43"/><circle cx="315.0" cy="252.4" r="0.53"/><circle cx="298.7" cy="248.9" r="0.54"/><circle cx="283.8" cy="262.1" r="0.45"/><circle cx="285.8" cy="303.2" r="0.36"/><circle cx="318.7" cy="279.1" r="0.47"/><circle cx="313.6" cy="299.4" r="0.33"/><circle cx="330.7" cy="306.7" r="0.57"/><circle cx="328.4" cy="260.7" r="0.31"/><circle cx="303.7" cy="262.0" r="0.35"/><circle cx="314.1" cy="305.8" r="0.59"/><circle cx="314.0" cy="252.5" r="0.36"/><circle cx="279.0" cy="299.0" r="0.54"/><circle cx="283.1" cy="291.7" r="0.40"/><circle cx="268.6" cy="295.9" r="0.49"/><circle cx="309.3" cy="264.4" r="0.46"/><circle cx="276.8" cy="311.8" r="0.63"/><circle cx="263.0" cy="294.4" r="0.40"/><circle cx="277.1" cy="280.8" r="0.64"/><circle cx="312.7" cy="250.9" r="0.35"/><circle cx="288.7" cy="269.6" r="0.61"/><circle cx="325.0" cy="302.8" r="0.60"/><circle cx="293.3" cy="320.8" r="0.57"/><circle cx="318.5" cy="273.4" r="0.35"/><circle cx="326.1" cy="276.3" r="0.38"/><circle cx="285.7" cy="306.7" r="0.31"/><circle cx="292.1" cy="284.9" r="0.38"/><circle cx="273.3" cy="313.1" r="0.31"/><circle cx="321.7" cy="252.5" r="0.53"/><circle cx="324.3" cy="311.9" r="0.40"/><circle cx="289.3" cy="250.8" r="0.35"/><circle cx="269.6" cy="295.6" r="0.30"/><circle cx="300.9" cy="296.2" r="0.59"/><circle cx="297.1" cy="255.8" r="0.48"/><circle cx="298.2" cy="297.9" r="0.41"/><circle cx="293.7" cy="289.2" r="0.58"/><circle cx="321.9" cy="302.3" r="0.62"/><circle cx="331.9" cy="288.2" r="0.48"/><circle cx="313.4" cy="300.3" r="0.45"/><circle cx="303.1" cy="316.1" r="0.45"/><circle cx="329.1" cy="301.6" r="0.64"/><circle cx="291.1" cy="283.3" r="0.48"/><circle cx="264.0" cy="271.8" r="0.44"/><circle cx="283.4" cy="264.5" r="0.64"/><circle cx="321.2" cy="287.0" r="0.58"/><circle cx="298.8" cy="261.8" r="0.52"/><circle cx="298.1" cy="250.2" r="0.42"/><circle cx="293.3" cy="282.6" r="0.58"/><circle cx="304.3" cy="268.6" r="0.46"/><circle cx="278.9" cy="260.6" r="0.58"/><circle cx="302.9" cy="275.1" r="0.46"/><circle cx="322.0" cy="290.9" r="0.37"/><circle cx="308.7" cy="281.7" r="0.48"/><circle cx="263.2" cy="274.4" r="0.39"/><circle cx="313.8" cy="317.2" r="0.42"/><circle cx="324.7" cy="258.8" r="0.42"/><circle cx="291.8" cy="295.3" r="0.61"/><circle cx="328.3" cy="263.9" r="0.44"/><circle cx="262.1" cy="285.9" r="0.47"/><circle cx="263.3" cy="280.4" r="0.58"/><circle cx="331.1" cy="301.1" r="0.51"/><circle cx="266.7" cy="274.8" r="0.41"/><circle cx="295.3" cy="275.5" r="0.41"/><circle cx="273.7" cy="298.8" r="0.54"/><circle cx="324.1" cy="291.2" r="0.60"/><circle cx="324.9" cy="284.7" r="0.40"/><circle cx="338.6" cy="272.3" r="0.33"/><circle cx="280.6" cy="309.0" r="0.58"/><circle cx="332.6" cy="275.4" r="0.35"/><circle cx="307.4" cy="254.6" r="0.31"/><circle cx="303.1" cy="274.9" r="0.43"/><circle cx="278.9" cy="274.9" r="0.51"/><circle cx="332.4" cy="274.6" r="0.43"/><circle cx="270.2" cy="269.4" r="0.49"/><circle cx="286.5" cy="264.7" r="0.39"/><circle cx="300.1" cy="271.7" r="0.47"/><circle cx="278.4" cy="275.7" r="0.39"/><circle cx="282.2" cy="291.7" r="0.65"/><circle cx="319.7" cy="274.4" r="0.47"/><circle cx="309.7" cy="273.9" r="0.46"/><circle cx="265.8" cy="297.7" r="0.33"/><circle cx="319.8" cy="257.9" r="0.41"/><circle cx="322.8" cy="294.3" r="0.49"/><circle cx="323.6" cy="254.8" r="0.55"/><circle cx="276.5" cy="255.8" r="0.58"/><circle cx="321.8" cy="304.6" r="0.37"/><circle cx="305.0" cy="270.7" r="0.31"/><circle cx="281.2" cy="306.7" r="0.58"/></g><g fill="#505050" opacity="0.8"><circle cx="288.7" cy="258.1" r="0.84"/><circle cx="286.0" cy="307.4" r="1.02"/><circle cx="317.6" cy="296.5" r="0.69"/><circle cx="321.0" cy="263.6" r="0.87"/><circle cx="301.3" cy="292.7" r="0.65"/><circle cx="290.9" cy="304.2" r="1.05"/><circle cx="312.6" cy="260.4" r="1.00"/><circle cx="310.2" cy="295.1" r="1.07"/><circle cx="298.8" cy="286.0" r="1.00"/><circle cx="302.5" cy="265.9" r="1.04"/><circle cx="291.4" cy="319.3" r="0.73"/><circle cx="323.9" cy="289.4" r="0.61"/><circle cx="308.7" cy="302.4" r="0.97"/><circle cx="322.5" cy="292.7" r="0.75"/><circle cx="314.9" cy="286.9" r="0.90"/><circle cx="299.2" cy="304.0" r="0.70"/><circle cx="309.3" cy="255.7" r="1.07"/><circle cx="304.8" cy="322.2" r="0.91"/><circle cx="315.9" cy="299.9" r="0.84"/><circle cx="280.0" cy="316.0" r="0.86"/><circle cx="330.9" cy="302.0" r="0.60"/><circle cx="327.4" cy="259.7" r="0.91"/><circle cx="328.3" cy="262.9" r="0.96"/><circle cx="319.3" cy="251.3" r="1.09"/><circle cx="335.7" cy="293.4" r="0.84"/><circle cx="299.7" cy="274.5" r="0.62"/><circle cx="305.0" cy="251.8" r="0.62"/><circle cx="290.8" cy="283.9" r="1.08"/><circle cx="305.9" cy="246.8" r="1.00"/><circle cx="305.3" cy="263.2" r="0.88"/><circle cx="289.1" cy="261.8" r="0.61"/><circle cx="279.3" cy="287.9" r="0.70"/><circle cx="333.8" cy="280.7" r="0.73"/><circle cx="292.7" cy="266.5" r="0.89"/><circle cx="277.0" cy="286.7" r="0.74"/><circle cx="334.1" cy="288.7" r="1.00"/><circle cx="285.0" cy="294.6" r="0.82"/><circle cx="287.9" cy="311.3" r="0.69"/><circle cx="338.0" cy="286.6" r="1.09"/><circle cx="286.5" cy="299.1" r="0.88"/><circle cx="299.6" cy="263.7" r="0.71"/><circle cx="305.1" cy="317.7" r="0.83"/><circle cx="312.4" cy="311.7" r="1.08"/><circle cx="264.4" cy="280.1" r="1.08"/><circle cx="315.4" cy="292.1" r="0.99"/><circle cx="279.8" cy="295.3" r="0.67"/><circle cx="277.6" cy="303.6" r="0.91"/><circle cx="323.1" cy="284.2" r="1.06"/><circle cx="331.5" cy="296.5" r="0.78"/><circle cx="296.1" cy="314.3" r="0.82"/><circle cx="302.2" cy="311.4" r="0.76"/><circle cx="334.4" cy="295.7" r="0.88"/><circle cx="316.9" cy="279.2" r="0.74"/><circle cx="276.5" cy="289.7" r="0.79"/><circle cx="264.5" cy="286.1" r="0.73"/><circle cx="314.6" cy="307.4" r="1.09"/><circle cx="298.8" cy="313.8" r="0.99"/><circle cx="321.1" cy="261.3" r="0.99"/><circle cx="303.9" cy="313.5" r="0.89"/><circle cx="334.1" cy="268.9" r="0.81"/><circle cx="298.0" cy="273.9" r="0.67"/><circle cx="307.3" cy="251.7" r="0.96"/><circle cx="277.3" cy="295.6" r="0.80"/><circle cx="310.0" cy="256.5" r="0.98"/><circle cx="269.5" cy="273.7" r="0.78"/><circle cx="266.0" cy="289.6" r="0.78"/><circle cx="304.8" cy="293.1" r="0.72"/><circle cx="267.6" cy="298.5" r="1.00"/><circle cx="315.1" cy="274.0" r="0.73"/><circle cx="318.8" cy="288.6" r="0.78"/></g><path d="M299.8 287.5L296.0 279.0M299.8 287.5L301.0 280.5M299.8 287.5L309.2 282.5M299.8 287.5L310.5 289.0M299.8 287.5L299.1 297.1M299.8 287.5L293.2 293.0M299.8 287.5L291.8 285.7" stroke="#3a3a3a" stroke-width="3.4" stroke-linecap="round" fill="none"/><circle cx="299.8" cy="287.5" r="3.1" fill="#3a3a3a"/><circle cx="296.5" cy="279.5" r="2" fill="#3a3a3a"/><circle cx="309" cy="283" r="1.8" fill="#3a3a3a"/><circle cx="293" cy="292.5" r="1.8" fill="#3a3a3a"/><circle cx="301.3" cy="285" r="40" fill="none" stroke="#555" stroke-width="2" opacity="0.5"/></g></g><g clip-path="url(#c23)"><g filter="url(#gr23)"><circle cx="397.7" cy="287" r="43" fill="#aaaaaa"/><g fill="#555" opacity="0.75"><circle cx="395.0" cy="279.5" r="0.35"/><circle cx="384.6" cy="262.6" r="0.58"/><circle cx="370.3" cy="287.3" r="0.31"/><circle cx="379.1" cy="306.3" r="0.60"/><circle cx="398.7" cy="256.9" r="0.45"/><circle cx="407.8" cy="273.2" r="0.59"/><circle cx="418.3" cy="301.1" r="0.48"/><circle cx="401.7" cy="258.6" r="0.51"/><circle cx="371.9" cy="273.8" r="0.43"/><circle cx="406.1" cy="290.4" r="0.63"/><circle cx="387.0" cy="322.8" r="0.61"/><circle cx="421.2" cy="304.8" r="0.60"/><circle cx="426.1" cy="274.2" r="0.54"/><circle cx="388.7" cy="278.3" r="0.58"/><circle cx="378.8" cy="320.7" r="0.49"/><circle cx="414.7" cy="316.6" r="0.60"/><circle cx="431.9" cy="298.1" r="0.51"/><circle cx="407.4" cy="309.7" r="0.51"/><circle cx="359.7" cy="274.1" r="0.34"/><circle cx="402.9" cy="258.8" r="0.63"/><circle cx="431.0" cy="295.8" r="0.64"/><circle cx="425.0" cy="302.9" r="0.34"/><circle cx="391.6" cy="276.7" r="0.35"/><circle cx="426.1" cy="310.1" r="0.49"/><circle cx="424.0" cy="293.4" r="0.30"/><circle cx="436.0" cy="281.3" r="0.34"/><circle cx="432.5" cy="284.6" r="0.62"/><circle cx="377.6" cy="319.7" r="0.55"/><circle cx="424.3" cy="276.0" r="0.55"/><circle cx="421.0" cy="257.8" r="0.43"/><circle cx="426.4" cy="306.0" r="0.37"/><circle cx="365.1" cy="309.2" r="0.54"/><circle cx="395.7" cy="317.8" r="0.51"/><circle cx="379.5" cy="321.4" r="0.42"/><circle cx="405.4" cy="302.8" r="0.59"/><circle cx="431.1" cy="279.5" r="0.53"/><circle cx="404.7" cy="326.3" r="0.37"/><circle cx="383.6" cy="299.6" r="0.65"/><circle cx="379.0" cy="292.0" r="0.32"/><circle cx="391.3" cy="285.1" r="0.51"/><circle cx="422.7" cy="272.1" r="0.60"/><circle cx="362.8" cy="268.1" r="0.39"/><circle cx="399.0" cy="272.4" r="0.35"/><circle cx="396.7" cy="284.0" r="0.34"/><circle cx="407.4" cy="317.6" r="0.45"/><circle cx="394.2" cy="290.5" r="0.41"/><circle cx="411.6" cy="302.5" r="0.50"/><circle cx="408.2" cy="319.2" r="0.32"/><circle cx="391.1" cy="267.0" r="0.40"/><circle cx="427.0" cy="301.6" r="0.55"/><circle cx="400.3" cy="302.1" r="0.56"/><circle cx="379.9" cy="265.3" r="0.40"/><circle cx="387.6" cy="318.7" r="0.47"/><circle cx="420.8" cy="272.8" r="0.56"/><circle cx="414.7" cy="262.1" r="0.51"/><circle cx="363.3" cy="283.1" r="0.50"/><circle cx="414.8" cy="279.1" r="0.52"/><circle cx="368.8" cy="264.1" r="0.31"/><circle cx="407.6" cy="277.9" r="0.54"/><circle cx="428.1" cy="263.0" r="0.38"/><circle cx="366.7" cy="261.1" r="0.56"/><circle cx="396.6" cy="316.3" r="0.47"/><circle cx="389.6" cy="313.5" r="0.42"/><circle cx="394.9" cy="314.0" r="0.35"/><circle cx="374.7" cy="315.4" r="0.43"/><circle cx="386.2" cy="252.8" r="0.46"/><circle cx="404.2" cy="265.3" r="0.38"/><circle cx="378.2" cy="306.7" r="0.65"/><circle cx="381.1" cy="275.9" r="0.48"/><circle cx="401.4" cy="295.2" r="0.61"/><circle cx="405.9" cy="322.2" r="0.36"/><circle cx="364.2" cy="266.1" r="0.55"/><circle cx="395.0" cy="325.7" r="0.47"/><circle cx="412.9" cy="322.9" r="0.39"/><circle cx="418.5" cy="254.9" r="0.48"/><circle cx="405.1" cy="274.1" r="0.41"/><circle cx="396.6" cy="322.4" r="0.35"/><circle cx="371.1" cy="308.1" r="0.43"/><circle cx="371.6" cy="293.9" r="0.46"/><circle cx="423.4" cy="307.4" r="0.54"/><circle cx="409.5" cy="261.2" r="0.40"/><circle cx="406.9" cy="319.0" r="0.54"/><circle cx="365.4" cy="277.9" r="0.47"/><circle cx="372.6" cy="317.8" r="0.33"/><circle cx="420.3" cy="293.2" r="0.61"/><circle cx="412.4" cy="321.2" r="0.52"/><circle cx="409.0" cy="272.4" r="0.45"/><circle cx="391.1" cy="279.6" r="0.33"/><circle cx="432.4" cy="270.2" r="0.51"/><circle cx="400.8" cy="267.1" r="0.31"/><circle cx="393.2" cy="299.8" r="0.33"/><circle cx="379.0" cy="253.8" r="0.58"/><circle cx="403.0" cy="319.6" r="0.40"/><circle cx="405.8" cy="256.3" r="0.52"/><circle cx="404.8" cy="265.0" r="0.44"/><circle cx="416.6" cy="260.9" r="0.53"/><circle cx="374.4" cy="272.1" r="0.37"/><circle cx="411.1" cy="263.6" r="0.47"/><circle cx="399.8" cy="282.1" r="0.35"/><circle cx="391.2" cy="283.5" r="0.57"/><circle cx="384.9" cy="291.7" r="0.46"/><circle cx="387.9" cy="276.6" r="0.39"/><circle cx="363.8" cy="286.4" r="0.48"/><circle cx="399.3" cy="267.5" r="0.30"/><circle cx="415.9" cy="300.7" r="0.33"/><circle cx="393.5" cy="286.4" r="0.33"/><circle cx="385.2" cy="292.7" r="0.54"/><circle cx="387.6" cy="271.7" r="0.50"/><circle cx="412.2" cy="250.6" r="0.65"/><circle cx="416.0" cy="270.9" r="0.41"/><circle cx="378.4" cy="296.8" r="0.31"/><circle cx="427.1" cy="305.3" r="0.51"/><circle cx="388.8" cy="291.4" r="0.39"/><circle cx="385.8" cy="324.8" r="0.42"/><circle cx="413.7" cy="303.0" r="0.53"/><circle cx="394.7" cy="309.2" r="0.41"/><circle cx="404.2" cy="263.7" r="0.38"/><circle cx="390.7" cy="299.5" r="0.50"/><circle cx="414.4" cy="300.8" r="0.43"/><circle cx="429.4" cy="262.7" r="0.46"/><circle cx="410.1" cy="310.8" r="0.53"/><circle cx="395.9" cy="321.6" r="0.52"/><circle cx="392.5" cy="298.9" r="0.40"/><circle cx="370.9" cy="262.4" r="0.48"/><circle cx="372.2" cy="278.4" r="0.47"/><circle cx="407.8" cy="268.9" r="0.58"/><circle cx="377.0" cy="301.5" r="0.62"/><circle cx="398.3" cy="281.2" r="0.36"/><circle cx="387.3" cy="301.4" r="0.52"/><circle cx="374.8" cy="284.4" r="0.48"/><circle cx="363.4" cy="268.3" r="0.39"/><circle cx="367.3" cy="275.8" r="0.41"/><circle cx="432.3" cy="289.0" r="0.65"/><circle cx="433.1" cy="301.2" r="0.55"/><circle cx="412.4" cy="286.1" r="0.46"/><circle cx="396.4" cy="322.2" r="0.53"/><circle cx="399.8" cy="280.4" r="0.39"/><circle cx="381.9" cy="293.1" r="0.48"/><circle cx="402.1" cy="294.6" r="0.43"/><circle cx="388.4" cy="258.4" r="0.35"/><circle cx="374.3" cy="315.6" r="0.65"/><circle cx="374.2" cy="295.0" r="0.43"/><circle cx="408.1" cy="281.9" r="0.51"/><circle cx="417.8" cy="316.2" r="0.47"/><circle cx="394.7" cy="308.6" r="0.44"/><circle cx="366.6" cy="295.5" r="0.54"/><circle cx="363.5" cy="265.3" r="0.58"/><circle cx="436.8" cy="279.8" r="0.42"/><circle cx="385.6" cy="251.7" r="0.31"/><circle cx="427.2" cy="264.9" r="0.61"/><circle cx="394.2" cy="263.6" r="0.59"/><circle cx="380.1" cy="266.3" r="0.43"/><circle cx="359.1" cy="281.1" r="0.38"/><circle cx="374.9" cy="273.1" r="0.43"/><circle cx="381.7" cy="270.0" r="0.41"/><circle cx="422.3" cy="301.3" r="0.41"/><circle cx="384.0" cy="288.6" r="0.41"/><circle cx="422.3" cy="291.7" r="0.65"/><circle cx="416.4" cy="288.2" r="0.50"/><circle cx="390.5" cy="283.5" r="0.62"/><circle cx="388.0" cy="288.6" r="0.59"/><circle cx="411.1" cy="301.6" r="0.32"/><circle cx="400.5" cy="253.1" r="0.45"/><circle cx="421.6" cy="284.5" r="0.39"/><circle cx="410.7" cy="253.0" r="0.46"/><circle cx="381.0" cy="319.0" r="0.62"/><circle cx="372.6" cy="262.4" r="0.59"/><circle cx="420.0" cy="262.0" r="0.42"/><circle cx="421.2" cy="278.5" r="0.45"/><circle cx="405.8" cy="265.7" r="0.42"/><circle cx="373.8" cy="276.0" r="0.33"/><circle cx="369.1" cy="263.0" r="0.32"/><circle cx="394.3" cy="299.0" r="0.45"/><circle cx="409.1" cy="252.4" r="0.56"/><circle cx="363.0" cy="284.4" r="0.33"/><circle cx="396.9" cy="262.9" r="0.31"/><circle cx="417.6" cy="289.1" r="0.41"/><circle cx="374.7" cy="290.0" r="0.36"/><circle cx="420.0" cy="307.3" r="0.58"/><circle cx="365.9" cy="306.3" r="0.61"/><circle cx="366.8" cy="274.9" r="0.52"/><circle cx="415.2" cy="307.8" r="0.61"/><circle cx="411.3" cy="273.2" r="0.43"/><circle cx="375.3" cy="266.7" r="0.43"/><circle cx="421.1" cy="253.9" r="0.43"/><circle cx="415.7" cy="271.6" r="0.63"/><circle cx="414.4" cy="304.9" r="0.49"/><circle cx="371.8" cy="296.8" r="0.51"/><circle cx="393.3" cy="285.1" r="0.54"/><circle cx="428.0" cy="287.3" r="0.50"/><circle cx="382.0" cy="251.3" r="0.48"/><circle cx="403.0" cy="311.4" r="0.46"/><circle cx="421.0" cy="319.3" r="0.52"/><circle cx="422.5" cy="303.0" r="0.39"/><circle cx="415.3" cy="298.0" r="0.33"/><circle cx="384.2" cy="321.5" r="0.54"/><circle cx="369.4" cy="284.2" r="0.46"/><circle cx="404.3" cy="290.2" r="0.34"/><circle cx="386.2" cy="252.1" r="0.64"/><circle cx="402.8" cy="320.5" r="0.50"/><circle cx="391.7" cy="319.6" r="0.44"/><circle cx="407.5" cy="322.0" r="0.31"/><circle cx="377.2" cy="319.6" r="0.51"/><circle cx="411.2" cy="324.9" r="0.39"/><circle cx="393.3" cy="310.2" r="0.47"/><circle cx="399.8" cy="281.4" r="0.65"/><circle cx="382.7" cy="298.4" r="0.43"/><circle cx="368.2" cy="304.3" r="0.60"/><circle cx="394.4" cy="326.5" r="0.34"/><circle cx="427.1" cy="299.1" r="0.45"/><circle cx="406.0" cy="271.0" r="0.44"/><circle cx="366.6" cy="266.6" r="0.56"/><circle cx="405.0" cy="254.6" r="0.56"/><circle cx="369.6" cy="310.4" r="0.36"/><circle cx="405.6" cy="269.0" r="0.34"/><circle cx="431.7" cy="297.5" r="0.31"/><circle cx="392.9" cy="252.4" r="0.58"/><circle cx="387.8" cy="264.3" r="0.56"/><circle cx="411.8" cy="300.6" r="0.32"/><circle cx="401.3" cy="264.8" r="0.38"/><circle cx="375.9" cy="256.8" r="0.63"/><circle cx="418.7" cy="283.2" r="0.57"/><circle cx="396.4" cy="295.7" r="0.34"/><circle cx="377.4" cy="275.2" r="0.64"/><circle cx="382.7" cy="321.6" r="0.50"/><circle cx="426.4" cy="290.4" r="0.40"/><circle cx="368.9" cy="285.5" r="0.55"/><circle cx="420.0" cy="284.5" r="0.62"/><circle cx="412.6" cy="303.5" r="0.38"/><circle cx="373.7" cy="290.0" r="0.45"/><circle cx="391.8" cy="255.8" r="0.30"/><circle cx="384.1" cy="292.5" r="0.48"/><circle cx="398.1" cy="251.8" r="0.43"/><circle cx="388.7" cy="318.3" r="0.48"/><circle cx="393.6" cy="249.9" r="0.31"/><circle cx="366.9" cy="271.1" r="0.61"/><circle cx="407.4" cy="287.0" r="0.41"/><circle cx="375.0" cy="320.3" r="0.49"/><circle cx="378.8" cy="286.0" r="0.57"/><circle cx="417.7" cy="298.2" r="0.51"/><circle cx="408.5" cy="289.1" r="0.35"/><circle cx="410.0" cy="307.6" r="0.64"/><circle cx="400.5" cy="253.4" r="0.54"/><circle cx="420.5" cy="290.3" r="0.30"/><circle cx="387.4" cy="298.4" r="0.48"/><circle cx="429.7" cy="272.0" r="0.59"/><circle cx="390.8" cy="256.2" r="0.64"/><circle cx="369.9" cy="258.9" r="0.54"/><circle cx="422.7" cy="259.3" r="0.49"/><circle cx="427.7" cy="280.2" r="0.40"/><circle cx="421.5" cy="286.3" r="0.48"/><circle cx="374.8" cy="308.6" r="0.30"/><circle cx="406.8" cy="257.4" r="0.45"/><circle cx="410.1" cy="294.2" r="0.32"/><circle cx="370.2" cy="261.0" r="0.58"/><circle cx="434.2" cy="293.3" r="0.49"/><circle cx="393.8" cy="302.9" r="0.36"/><circle cx="384.4" cy="313.1" r="0.33"/><circle cx="418.2" cy="256.8" r="0.49"/><circle cx="360.3" cy="278.5" r="0.36"/><circle cx="362.5" cy="276.8" r="0.43"/><circle cx="404.2" cy="276.2" r="0.40"/><circle cx="403.3" cy="326.8" r="0.40"/><circle cx="387.7" cy="256.2" r="0.63"/><circle cx="415.0" cy="301.0" r="0.59"/><circle cx="416.4" cy="302.4" r="0.41"/><circle cx="421.1" cy="292.1" r="0.65"/><circle cx="363.0" cy="273.0" r="0.46"/><circle cx="390.5" cy="284.9" r="0.42"/><circle cx="417.9" cy="317.5" r="0.40"/><circle cx="433.0" cy="284.8" r="0.49"/><circle cx="388.7" cy="265.5" r="0.64"/><circle cx="399.9" cy="293.6" r="0.35"/><circle cx="414.1" cy="260.9" r="0.42"/><circle cx="434.4" cy="290.6" r="0.33"/><circle cx="407.7" cy="271.0" r="0.51"/><circle cx="394.6" cy="277.4" r="0.61"/><circle cx="370.7" cy="289.7" r="0.61"/><circle cx="394.4" cy="304.5" r="0.59"/><circle cx="399.2" cy="266.5" r="0.33"/><circle cx="380.6" cy="293.8" r="0.48"/><circle cx="416.7" cy="297.7" r="0.33"/><circle cx="386.1" cy="322.5" r="0.42"/><circle cx="383.7" cy="254.2" r="0.46"/><circle cx="378.0" cy="292.3" r="0.60"/><circle cx="394.2" cy="318.6" r="0.42"/><circle cx="426.1" cy="266.9" r="0.41"/><circle cx="400.0" cy="313.6" r="0.50"/><circle cx="400.2" cy="257.2" r="0.61"/><circle cx="431.1" cy="270.3" r="0.48"/><circle cx="401.4" cy="274.7" r="0.32"/><circle cx="390.9" cy="275.7" r="0.54"/><circle cx="395.0" cy="323.4" r="0.56"/><circle cx="424.8" cy="290.2" r="0.56"/><circle cx="375.0" cy="311.1" r="0.45"/><circle cx="403.0" cy="273.0" r="0.39"/><circle cx="402.2" cy="268.6" r="0.43"/><circle cx="365.9" cy="282.7" r="0.47"/><circle cx="365.9" cy="290.3" r="0.33"/><circle cx="369.5" cy="280.6" r="0.31"/><circle cx="399.8" cy="286.7" r="0.42"/><circle cx="408.9" cy="294.9" r="0.45"/><circle cx="415.1" cy="253.1" r="0.47"/><circle cx="382.8" cy="255.1" r="0.56"/><circle cx="372.5" cy="316.0" r="0.47"/><circle cx="396.9" cy="252.1" r="0.59"/><circle cx="392.6" cy="276.6" r="0.57"/><circle cx="371.3" cy="268.6" r="0.41"/><circle cx="401.0" cy="311.1" r="0.30"/><circle cx="407.3" cy="291.5" r="0.65"/><circle cx="424.5" cy="274.1" r="0.46"/><circle cx="394.4" cy="253.9" r="0.32"/><circle cx="424.4" cy="304.1" r="0.33"/><circle cx="413.3" cy="272.9" r="0.57"/><circle cx="394.4" cy="301.9" r="0.43"/><circle cx="388.2" cy="303.9" r="0.43"/><circle cx="432.4" cy="277.3" r="0.37"/><circle cx="408.3" cy="318.9" r="0.64"/><circle cx="378.9" cy="254.6" r="0.56"/><circle cx="419.9" cy="294.4" r="0.53"/><circle cx="402.5" cy="283.8" r="0.64"/><circle cx="409.2" cy="321.6" r="0.33"/><circle cx="426.3" cy="268.0" r="0.54"/><circle cx="387.5" cy="313.4" r="0.51"/><circle cx="411.3" cy="306.9" r="0.46"/><circle cx="384.8" cy="259.4" r="0.54"/><circle cx="375.0" cy="290.4" r="0.56"/><circle cx="390.4" cy="248.6" r="0.48"/><circle cx="392.2" cy="288.6" r="0.47"/><circle cx="368.6" cy="278.7" r="0.46"/><circle cx="371.8" cy="281.8" r="0.41"/><circle cx="376.9" cy="316.7" r="0.61"/><circle cx="391.3" cy="247.9" r="0.34"/><circle cx="420.5" cy="258.1" r="0.31"/><circle cx="399.4" cy="252.1" r="0.42"/><circle cx="419.1" cy="288.5" r="0.62"/><circle cx="399.8" cy="262.6" r="0.36"/><circle cx="390.3" cy="321.9" r="0.50"/><circle cx="382.0" cy="300.3" r="0.52"/><circle cx="391.8" cy="302.5" r="0.44"/><circle cx="378.2" cy="303.3" r="0.39"/><circle cx="397.3" cy="272.8" r="0.47"/><circle cx="407.5" cy="322.3" r="0.65"/><circle cx="409.3" cy="288.7" r="0.64"/><circle cx="374.0" cy="286.0" r="0.44"/><circle cx="415.1" cy="279.6" r="0.63"/><circle cx="370.9" cy="276.9" r="0.44"/><circle cx="369.9" cy="265.1" r="0.46"/><circle cx="405.6" cy="278.1" r="0.53"/><circle cx="396.2" cy="264.2" r="0.50"/><circle cx="405.0" cy="296.0" r="0.32"/><circle cx="395.6" cy="320.3" r="0.58"/><circle cx="358.7" cy="280.9" r="0.43"/><circle cx="382.1" cy="302.1" r="0.51"/><circle cx="403.1" cy="309.8" r="0.45"/><circle cx="386.0" cy="273.4" r="0.50"/><circle cx="392.0" cy="277.4" r="0.55"/><circle cx="385.3" cy="274.7" r="0.54"/><circle cx="398.2" cy="265.2" r="0.32"/><circle cx="390.0" cy="303.7" r="0.40"/><circle cx="370.9" cy="313.6" r="0.50"/><circle cx="398.5" cy="269.3" r="0.50"/><circle cx="372.2" cy="273.4" r="0.46"/><circle cx="417.3" cy="310.6" r="0.54"/><circle cx="397.7" cy="297.0" r="0.45"/><circle cx="395.7" cy="299.4" r="0.44"/><circle cx="372.9" cy="309.9" r="0.58"/><circle cx="397.8" cy="255.8" r="0.48"/><circle cx="403.9" cy="263.5" r="0.61"/><circle cx="414.4" cy="292.1" r="0.63"/><circle cx="372.2" cy="274.0" r="0.46"/><circle cx="371.4" cy="282.9" r="0.53"/><circle cx="381.4" cy="258.4" r="0.61"/><circle cx="418.5" cy="265.8" r="0.34"/><circle cx="410.5" cy="291.4" r="0.50"/><circle cx="410.4" cy="308.8" r="0.65"/><circle cx="376.5" cy="259.8" r="0.36"/><circle cx="402.2" cy="290.2" r="0.57"/><circle cx="400.5" cy="304.2" r="0.56"/><circle cx="382.3" cy="309.2" r="0.56"/><circle cx="420.8" cy="278.1" r="0.34"/><circle cx="369.8" cy="301.8" r="0.41"/><circle cx="398.8" cy="291.9" r="0.46"/><circle cx="397.8" cy="321.0" r="0.44"/><circle cx="376.5" cy="307.7" r="0.45"/><circle cx="378.1" cy="294.4" r="0.30"/><circle cx="368.9" cy="268.3" r="0.54"/><circle cx="382.3" cy="259.4" r="0.62"/><circle cx="369.8" cy="303.5" r="0.54"/><circle cx="389.5" cy="269.4" r="0.56"/><circle cx="411.1" cy="264.7" r="0.55"/><circle cx="432.7" cy="280.0" r="0.47"/><circle cx="388.9" cy="292.9" r="0.47"/><circle cx="426.8" cy="309.7" r="0.40"/><circle cx="369.3" cy="299.8" r="0.51"/><circle cx="368.7" cy="278.1" r="0.46"/><circle cx="423.9" cy="262.5" r="0.46"/><circle cx="418.8" cy="279.8" r="0.44"/><circle cx="416.1" cy="271.9" r="0.37"/><circle cx="380.3" cy="273.0" r="0.59"/><circle cx="386.7" cy="275.0" r="0.31"/><circle cx="383.5" cy="278.8" r="0.43"/><circle cx="379.0" cy="319.0" r="0.63"/><circle cx="380.1" cy="296.8" r="0.57"/><circle cx="388.4" cy="323.6" r="0.54"/><circle cx="390.0" cy="310.7" r="0.50"/><circle cx="421.7" cy="313.8" r="0.40"/><circle cx="397.8" cy="314.4" r="0.36"/><circle cx="403.6" cy="266.6" r="0.37"/><circle cx="369.3" cy="277.2" r="0.54"/><circle cx="357.6" cy="292.3" r="0.60"/><circle cx="417.0" cy="252.6" r="0.34"/><circle cx="368.0" cy="277.6" r="0.53"/><circle cx="372.9" cy="305.7" r="0.44"/><circle cx="362.4" cy="281.9" r="0.44"/><circle cx="366.8" cy="277.1" r="0.58"/><circle cx="391.5" cy="324.5" r="0.60"/><circle cx="407.6" cy="300.0" r="0.41"/><circle cx="415.4" cy="265.4" r="0.43"/><circle cx="406.5" cy="263.5" r="0.42"/><circle cx="394.4" cy="300.4" r="0.37"/><circle cx="362.5" cy="270.6" r="0.49"/><circle cx="410.4" cy="273.0" r="0.34"/><circle cx="391.3" cy="323.1" r="0.58"/><circle cx="369.9" cy="290.0" r="0.34"/><circle cx="429.4" cy="279.5" r="0.46"/><circle cx="402.1" cy="257.7" r="0.33"/><circle cx="371.3" cy="307.3" r="0.62"/><circle cx="417.9" cy="296.6" r="0.64"/><circle cx="426.8" cy="267.0" r="0.42"/><circle cx="419.6" cy="252.8" r="0.39"/><circle cx="360.7" cy="299.8" r="0.37"/><circle cx="407.8" cy="250.9" r="0.52"/><circle cx="411.9" cy="285.4" r="0.61"/><circle cx="436.6" cy="285.1" r="0.42"/><circle cx="391.2" cy="322.6" r="0.57"/><circle cx="368.3" cy="299.8" r="0.49"/><circle cx="363.5" cy="264.8" r="0.47"/><circle cx="381.5" cy="290.8" r="0.63"/><circle cx="367.7" cy="280.7" r="0.64"/><circle cx="412.4" cy="255.5" r="0.46"/><circle cx="408.2" cy="254.9" r="0.62"/><circle cx="426.8" cy="293.3" r="0.42"/><circle cx="425.6" cy="296.9" r="0.40"/><circle cx="422.9" cy="289.3" r="0.44"/><circle cx="391.2" cy="249.5" r="0.65"/><circle cx="429.7" cy="274.1" r="0.40"/><circle cx="434.9" cy="275.4" r="0.40"/><circle cx="414.3" cy="270.5" r="0.59"/><circle cx="422.4" cy="263.6" r="0.46"/><circle cx="402.2" cy="326.9" r="0.54"/><circle cx="405.4" cy="287.1" r="0.32"/><circle cx="404.7" cy="258.0" r="0.60"/><circle cx="376.9" cy="310.5" r="0.62"/><circle cx="406.3" cy="259.3" r="0.64"/><circle cx="383.2" cy="300.9" r="0.61"/><circle cx="422.3" cy="268.2" r="0.31"/><circle cx="379.3" cy="255.1" r="0.52"/><circle cx="389.8" cy="300.2" r="0.62"/><circle cx="419.7" cy="273.5" r="0.42"/><circle cx="382.7" cy="258.7" r="0.36"/><circle cx="421.1" cy="316.1" r="0.36"/><circle cx="383.6" cy="298.6" r="0.31"/><circle cx="397.6" cy="286.6" r="0.54"/><circle cx="430.1" cy="292.3" r="0.47"/><circle cx="405.1" cy="320.8" r="0.39"/><circle cx="414.8" cy="291.9" r="0.59"/><circle cx="400.2" cy="320.2" r="0.45"/><circle cx="408.3" cy="275.1" r="0.64"/><circle cx="408.1" cy="313.9" r="0.38"/><circle cx="420.6" cy="268.2" r="0.36"/><circle cx="367.3" cy="294.7" r="0.38"/><circle cx="395.1" cy="326.7" r="0.60"/><circle cx="383.2" cy="313.5" r="0.58"/><circle cx="411.2" cy="262.8" r="0.38"/><circle cx="416.0" cy="268.8" r="0.44"/><circle cx="389.1" cy="254.1" r="0.50"/><circle cx="384.2" cy="316.4" r="0.44"/><circle cx="404.5" cy="321.1" r="0.35"/><circle cx="397.7" cy="325.6" r="0.36"/><circle cx="410.5" cy="314.9" r="0.39"/><circle cx="378.0" cy="284.8" r="0.58"/><circle cx="409.2" cy="319.1" r="0.46"/><circle cx="391.1" cy="299.1" r="0.56"/><circle cx="361.2" cy="291.5" r="0.50"/><circle cx="412.9" cy="312.4" r="0.63"/><circle cx="389.5" cy="267.5" r="0.36"/><circle cx="388.2" cy="318.9" r="0.42"/><circle cx="414.8" cy="284.9" r="0.63"/><circle cx="379.0" cy="285.8" r="0.44"/><circle cx="401.8" cy="286.1" r="0.58"/><circle cx="388.4" cy="281.5" r="0.30"/><circle cx="400.3" cy="311.3" r="0.36"/><circle cx="414.9" cy="285.7" r="0.56"/><circle cx="419.6" cy="319.8" r="0.44"/><circle cx="380.9" cy="287.8" r="0.43"/><circle cx="383.8" cy="278.2" r="0.33"/><circle cx="374.3" cy="283.9" r="0.43"/><circle cx="381.7" cy="280.7" r="0.62"/><circle cx="388.6" cy="251.1" r="0.56"/><circle cx="399.8" cy="275.8" r="0.50"/><circle cx="397.8" cy="253.4" r="0.53"/><circle cx="407.8" cy="324.4" r="0.39"/><circle cx="368.4" cy="272.4" r="0.51"/><circle cx="417.4" cy="297.2" r="0.38"/><circle cx="370.4" cy="258.5" r="0.55"/><circle cx="384.7" cy="317.9" r="0.33"/><circle cx="373.7" cy="267.4" r="0.44"/><circle cx="421.0" cy="286.2" r="0.48"/><circle cx="424.6" cy="300.3" r="0.38"/><circle cx="409.0" cy="304.8" r="0.52"/><circle cx="395.3" cy="257.9" r="0.61"/><circle cx="421.4" cy="301.7" r="0.42"/><circle cx="417.6" cy="294.3" r="0.53"/><circle cx="431.7" cy="271.4" r="0.50"/><circle cx="432.7" cy="305.8" r="0.47"/><circle cx="426.8" cy="300.2" r="0.45"/><circle cx="401.9" cy="322.3" r="0.36"/><circle cx="390.3" cy="276.5" r="0.44"/><circle cx="375.4" cy="306.7" r="0.64"/></g><g fill="#505050" opacity="0.8"><circle cx="420.3" cy="256.5" r="0.62"/><circle cx="398.4" cy="306.0" r="0.97"/><circle cx="372.5" cy="274.7" r="0.98"/><circle cx="414.3" cy="261.3" r="0.65"/><circle cx="427.8" cy="279.0" r="0.92"/><circle cx="406.6" cy="276.9" r="1.08"/><circle cx="376.8" cy="292.0" r="0.81"/><circle cx="388.3" cy="279.3" r="0.76"/><circle cx="386.2" cy="273.7" r="1.02"/><circle cx="402.4" cy="256.5" r="0.94"/><circle cx="424.8" cy="278.2" r="0.99"/><circle cx="379.3" cy="310.9" r="0.73"/><circle cx="390.0" cy="249.3" r="0.77"/><circle cx="383.2" cy="286.6" r="0.64"/><circle cx="385.7" cy="291.8" r="0.61"/><circle cx="417.5" cy="317.5" r="1.07"/><circle cx="427.7" cy="290.7" r="0.94"/><circle cx="405.4" cy="288.2" r="0.85"/><circle cx="370.4" cy="278.4" r="0.99"/><circle cx="380.4" cy="293.4" r="1.00"/><circle cx="360.7" cy="277.2" r="0.85"/><circle cx="437.0" cy="287.3" r="0.96"/><circle cx="403.6" cy="322.4" r="0.61"/><circle cx="378.4" cy="299.5" r="1.10"/><circle cx="419.2" cy="306.3" r="0.91"/><circle cx="392.6" cy="270.0" r="0.75"/><circle cx="362.4" cy="269.1" r="0.96"/><circle cx="394.4" cy="267.8" r="1.03"/><circle cx="417.0" cy="300.7" r="0.97"/><circle cx="403.3" cy="266.0" r="1.08"/><circle cx="417.1" cy="253.2" r="0.96"/><circle cx="384.1" cy="315.0" r="0.76"/><circle cx="371.7" cy="287.7" r="0.76"/><circle cx="388.8" cy="302.7" r="0.83"/><circle cx="411.6" cy="319.4" r="0.95"/><circle cx="433.0" cy="273.5" r="0.86"/><circle cx="406.0" cy="271.5" r="0.92"/><circle cx="380.6" cy="308.8" r="0.75"/><circle cx="401.2" cy="294.5" r="0.72"/><circle cx="413.8" cy="305.4" r="0.92"/><circle cx="376.4" cy="275.4" r="0.82"/><circle cx="410.8" cy="273.3" r="0.65"/><circle cx="379.4" cy="255.6" r="0.65"/><circle cx="422.6" cy="281.8" r="1.06"/><circle cx="405.3" cy="290.4" r="0.65"/><circle cx="414.3" cy="283.1" r="1.02"/><circle cx="383.3" cy="264.4" r="0.87"/><circle cx="430.9" cy="275.1" r="0.91"/><circle cx="383.2" cy="288.6" r="0.62"/><circle cx="383.5" cy="259.1" r="0.70"/><circle cx="372.8" cy="270.4" r="0.86"/><circle cx="387.9" cy="291.8" r="0.98"/><circle cx="397.6" cy="252.7" r="0.62"/><circle cx="432.5" cy="298.9" r="0.61"/><circle cx="372.3" cy="264.8" r="0.72"/><circle cx="402.7" cy="272.1" r="0.78"/><circle cx="406.3" cy="318.7" r="0.91"/><circle cx="366.4" cy="273.4" r="1.09"/><circle cx="418.4" cy="296.6" r="0.94"/><circle cx="398.6" cy="304.6" r="0.84"/><circle cx="377.1" cy="302.7" r="0.70"/><circle cx="411.7" cy="282.9" r="1.08"/><circle cx="382.6" cy="315.7" r="1.06"/><circle cx="378.1" cy="311.7" r="0.98"/><circle cx="399.2" cy="249.2" r="1.08"/><circle cx="391.0" cy="300.7" r="0.94"/><circle cx="390.7" cy="311.3" r="0.76"/><circle cx="391.7" cy="266.1" r="0.99"/><circle cx="374.0" cy="277.1" r="0.86"/><circle cx="388.1" cy="251.8" r="1.01"/></g><path d="M395.1 292.1L388.8 280.1M392.3 286.7l-3.0 0.2M390.4 283.1l1.3 -2.0M395.1 292.1L404.8 281.8M399.5 287.5l-1.4 -2.9M402.4 284.4l3.3 1.5M395.1 292.1L411.0 287.0M402.3 289.8l1.9 2.0M407.0 288.3l0.4 -2.7M395.1 292.1L405.3 297.2M399.7 294.4l2.5 -2.2M402.8 295.9l-0.4 3.5M395.1 292.1L395.7 306.3M395.4 298.5l2.3 1.1M395.6 302.8l-2.9 1.3M395.1 292.1L386.0 305.2M391.0 298.0l2.0 2.8M388.3 301.9l-3.5 -1.0M395.1 292.1L384.3 296.7M390.2 294.2l-2.4 -2.5M387.0 295.6l-2.1 -2.0" stroke="#363636" stroke-width="3.0" stroke-linecap="round" fill="none"/><circle cx="395.1" cy="292.1" r="2.7" fill="#363636"/><path d="M376.50 253.08A40.00 40.00 0 0 1 424.47 257.27" fill="none" stroke="#4e4e4e" stroke-width="4" opacity="0.8"/><path d="M384 247l5 -1l4 3l-1 4l-5 1l-4 -3z" fill="#404040"/><path d="M413 252l5 -1l5 4l1 5l-3 4l-5 -2l-3 -5z" fill="#484848"/><path d="M378.5 254l3 -1l2 3l-1 5l-3 0l-1 -3z" fill="#505050"/><circle cx="409" cy="270" r="3" fill="#8a8a8a" stroke="#555" stroke-width="0.8"/><circle cx="397.7" cy="287" r="41" fill="none" stroke="#555" stroke-width="2" opacity="0.5"/></g></g><rect x="419" y="125.2" width="23.5" height="2.6" fill="#000"/><rect x="418" y="123.3" width="2" height="6.4" fill="#000"/><rect x="441.5" y="123.3" width="2" height="6.4" fill="#000"/><rect x="420" y="232.2" width="22.5" height="2.6" fill="#000"/><rect x="419" y="230.3" width="2" height="6.4" fill="#000"/><rect x="441.5" y="230.3" width="2" height="6.4" fill="#000"/><rect x="418.5" y="335.9" width="24.0" height="2.6" fill="#000"/><rect x="417.5" y="334.0" width="2" height="6.4" fill="#000"/><rect x="441.5" y="334.0" width="2" height="6.4" fill="#000"/>
<rect x="517.77" y="95.34" width="13.75" height="182.36" fill="#800000" stroke="#1a1a1a" stroke-width="0.8"/><rect x="531.52" y="143.42" width="13.75" height="134.28" fill="#ff8800" stroke="#1a1a1a" stroke-width="0.8"/><rect x="545.27" y="145.26" width="13.75" height="132.44" fill="#008000" stroke="#1a1a1a" stroke-width="0.8"/><rect x="569.27" y="93.50" width="13.75" height="184.20" fill="#800000" stroke="#1a1a1a" stroke-width="0.8"/><rect x="583.02" y="141.58" width="13.75" height="136.12" fill="#ff8800" stroke="#1a1a1a" stroke-width="0.8"/><rect x="596.77" y="136.05" width="13.75" height="141.65" fill="#008000" stroke="#1a1a1a" stroke-width="0.8"/><rect x="620.77" y="93.50" width="13.75" height="184.20" fill="#800000" stroke="#1a1a1a" stroke-width="0.8"/><rect x="634.52" y="97.37" width="13.75" height="180.33" fill="#ff8800" stroke="#1a1a1a" stroke-width="0.8"/><rect x="648.27" y="101.79" width="13.75" height="175.91" fill="#008000" stroke="#1a1a1a" stroke-width="0.8"/><rect x="672.27" y="93.50" width="13.75" height="184.20" fill="#800000" stroke="#1a1a1a" stroke-width="0.8"/><rect x="686.02" y="93.50" width="13.75" height="184.20" fill="#ff8800" stroke="#1a1a1a" stroke-width="0.8"/><rect x="699.77" y="93.50" width="13.75" height="184.20" fill="#008000" stroke="#1a1a1a" stroke-width="0.8"/><rect x="723.77" y="93.50" width="13.75" height="184.20" fill="#800000" stroke="#1a1a1a" stroke-width="0.8"/><rect x="737.52" y="110.45" width="13.75" height="167.25" fill="#ff8800" stroke="#1a1a1a" stroke-width="0.8"/><rect x="751.27" y="94.24" width="13.75" height="183.46" fill="#008000" stroke="#1a1a1a" stroke-width="0.8"/><rect x="512.5" y="75.4" width="257.5" height="202.29999999999998" fill="none" stroke="#000" stroke-width="1.5"/><line x1="508.0" y1="277.70" x2="512.5" y2="277.70" stroke="#000" stroke-width="1.4"/><line x1="765.5" y1="277.70" x2="770" y2="277.70" stroke="#000" stroke-width="1.4"/><line x1="510.0" y1="259.28" x2="512.5" y2="259.28" stroke="#000" stroke-width="1.4"/><line x1="767.5" y1="259.28" x2="770" y2="259.28" stroke="#000" stroke-width="1.4"/><line x1="508.0" y1="240.86" x2="512.5" y2="240.86" stroke="#000" stroke-width="1.4"/><line x1="765.5" y1="240.86" x2="770" y2="240.86" stroke="#000" stroke-width="1.4"/><line x1="510.0" y1="222.44" x2="512.5" y2="222.44" stroke="#000" stroke-width="1.4"/><line x1="767.5" y1="222.44" x2="770" y2="222.44" stroke="#000" stroke-width="1.4"/><line x1="508.0" y1="204.02" x2="512.5" y2="204.02" stroke="#000" stroke-width="1.4"/><line x1="765.5" y1="204.02" x2="770" y2="204.02" stroke="#000" stroke-width="1.4"/><line x1="510.0" y1="185.60" x2="512.5" y2="185.60" stroke="#000" stroke-width="1.4"/><line x1="767.5" y1="185.60" x2="770" y2="185.60" stroke="#000" stroke-width="1.4"/><line x1="508.0" y1="167.18" x2="512.5" y2="167.18" stroke="#000" stroke-width="1.4"/><line x1="765.5" y1="167.18" x2="770" y2="167.18" stroke="#000" stroke-width="1.4"/><line x1="510.0" y1="148.76" x2="512.5" y2="148.76" stroke="#000" stroke-width="1.4"/><line x1="767.5" y1="148.76" x2="770" y2="148.76" stroke="#000" stroke-width="1.4"/><line x1="508.0" y1="130.34" x2="512.5" y2="130.34" stroke="#000" stroke-width="1.4"/><line x1="765.5" y1="130.34" x2="770" y2="130.34" stroke="#000" stroke-width="1.4"/><line x1="510.0" y1="111.92" x2="512.5" y2="111.92" stroke="#000" stroke-width="1.4"/><line x1="767.5" y1="111.92" x2="770" y2="111.92" stroke="#000" stroke-width="1.4"/><line x1="508.0" y1="93.50" x2="512.5" y2="93.50" stroke="#000" stroke-width="1.4"/><line x1="765.5" y1="93.50" x2="770" y2="93.50" stroke="#000" stroke-width="1.4"/><line x1="510.0" y1="75.08" x2="512.5" y2="75.08" stroke="#000" stroke-width="1.4"/><line x1="767.5" y1="75.08" x2="770" y2="75.08" stroke="#000" stroke-width="1.4"/><line x1="512.65" y1="277.7" x2="512.65" y2="280.2" stroke="#000" stroke-width="1.4"/><line x1="512.65" y1="75.4" x2="512.65" y2="77.9" stroke="#000" stroke-width="1.4"/><line x1="538.40" y1="277.7" x2="538.40" y2="281.7" stroke="#000" stroke-width="1.4"/><line x1="538.40" y1="75.4" x2="538.40" y2="79.4" stroke="#000" stroke-width="1.4"/><line x1="564.15" y1="277.7" x2="564.15" y2="280.2" stroke="#000" stroke-width="1.4"/><line x1="564.15" y1="75.4" x2="564.15" y2="77.9" stroke="#000" stroke-width="1.4"/><line x1="589.90" y1="277.7" x2="589.90" y2="281.7" stroke="#000" stroke-width="1.4"/><line x1="589.90" y1="75.4" x2="589.90" y2="79.4" stroke="#000" stroke-width="1.4"/><line x1="615.65" y1="277.7" x2="615.65" y2="280.2" stroke="#000" stroke-width="1.4"/><line x1="615.65" y1="75.4" x2="615.65" y2="77.9" stroke="#000" stroke-width="1.4"/><line x1="641.40" y1="277.7" x2="641.40" y2="281.7" stroke="#000" stroke-width="1.4"/><line x1="641.40" y1="75.4" x2="641.40" y2="79.4" stroke="#000" stroke-width="1.4"/><line x1="667.15" y1="277.7" x2="667.15" y2="280.2" stroke="#000" stroke-width="1.4"/><line x1="667.15" y1="75.4" x2="667.15" y2="77.9" stroke="#000" stroke-width="1.4"/><line x1="692.90" y1="277.7" x2="692.90" y2="281.7" stroke="#000" stroke-width="1.4"/><line x1="692.90" y1="75.4" x2="692.90" y2="79.4" stroke="#000" stroke-width="1.4"/><line x1="718.65" y1="277.7" x2="718.65" y2="280.2" stroke="#000" stroke-width="1.4"/><line x1="718.65" y1="75.4" x2="718.65" y2="77.9" stroke="#000" stroke-width="1.4"/><line x1="744.40" y1="277.7" x2="744.40" y2="281.7" stroke="#000" stroke-width="1.4"/><line x1="744.40" y1="75.4" x2="744.40" y2="79.4" stroke="#000" stroke-width="1.4"/><line x1="770.15" y1="277.7" x2="770.15" y2="280.2" stroke="#000" stroke-width="1.4"/><line x1="770.15" y1="75.4" x2="770.15" y2="77.9" stroke="#000" stroke-width="1.4"/><rect x="663" y="25.3" width="16" height="11.5" fill="#800000" stroke="#1a1a1a" stroke-width="0.8"/><rect x="663" y="41" width="16" height="11.5" fill="#ff8800" stroke="#1a1a1a" stroke-width="0.8"/><rect x="663" y="57.4" width="16" height="11.5" fill="#008000" stroke="#1a1a1a" stroke-width="0.8"/>
<g font-family='"Liberation Sans", sans-serif' fill="#000"><text x="10.6" y="34.3" font-size="19.2" font-weight="bold" text-anchor="start" stroke="#000" stroke-width="0.22">(a)</text><text x="10.6" y="130" font-size="19.2" font-weight="bold" text-anchor="start" stroke="#000" stroke-width="0.22">(b)</text><text x="10.6" y="235.8" font-size="19.2" font-weight="bold" text-anchor="start" stroke="#000" stroke-width="0.22">(c)</text><text x="467.6" y="55.3" font-size="19.2" font-weight="bold" text-anchor="start" stroke="#000" stroke-width="0.22">(d)</text><text x="87.0" y="22.1" font-size="13.7" font-weight="bold" text-anchor="start" stroke="#000" stroke-width="0.22">Control</text><text x="218.7" y="22.1" font-size="13.4" font-weight="bold" text-anchor="start" stroke="#000" stroke-width="0.22">=10%</text><text x="320.4" y="21.7" font-size="13.4" font-weight="bold" text-anchor="start" stroke="#000" stroke-width="0.22">30%</text><text x="414.5" y="21.7" font-size="13.4" font-weight="bold" text-anchor="start" stroke="#000" stroke-width="0.22">50%</text><text x="207.8" y="20.4" font-size="14" font-weight="normal" text-anchor="start">&#x3D5;</text><text x="213.3" y="25.5" font-size="9.5" font-weight="bold" text-anchor="start" stroke="#000" stroke-width="0.22">s</text><text x="52.5" y="118.3" font-size="13.7" font-weight="bold" text-anchor="start" transform="rotate(-90 52.5 118.3)" stroke="#000" stroke-width="0.22">Ciprofloxacin</text><text x="52.2" y="218.3" font-size="13.6" font-weight="bold" text-anchor="start" transform="rotate(-90 52.2 218.3)" stroke="#000" stroke-width="0.22">Clonazepam</text><text x="50.8" y="324" font-size="13.4" font-weight="bold" text-anchor="start" transform="rotate(-90 50.8 324)" stroke="#000" stroke-width="0.22">Budesonide</text><text x="505" y="282.30" font-size="12.9" text-anchor="end">0.0</text><text x="505" y="245.46" font-size="12.9" text-anchor="end">0.2</text><text x="505" y="208.62" font-size="12.9" text-anchor="end">0.4</text><text x="505" y="171.78" font-size="12.9" text-anchor="end">0.6</text><text x="505" y="134.94" font-size="12.9" text-anchor="end">0.8</text><text x="505" y="98.10" font-size="12.9" text-anchor="end">1.0</text><text x="538.40" y="295.2" font-size="12.9" text-anchor="middle">10</text><text x="589.90" y="295.2" font-size="12.9" text-anchor="middle">20</text><text x="641.40" y="295.2" font-size="12.9" text-anchor="middle">30</text><text x="692.90" y="295.2" font-size="12.9" text-anchor="middle">40</text><text x="744.40" y="295.2" font-size="12.9" text-anchor="middle">50</text><text x="476.5" y="215" font-size="17.3" font-weight="bold" text-anchor="start" transform="rotate(-90 476.5 215)" stroke="#000" stroke-width="0.22">Accuracy</text><text x="546.0" y="311.7" font-size="17.6" font-weight="bold" text-anchor="start" stroke="#000" stroke-width="0.22">% of water in the sample</text><text x="684.1" y="35.5" font-size="13.4" font-weight="bold" text-anchor="start" stroke="#000" stroke-width="0.22">Ciprofloxacin</text><text x="684.1" y="51.8" font-size="13.4" font-weight="bold" text-anchor="start" stroke="#000" stroke-width="0.22">Clonazepam</text><text x="684.1" y="67.2" font-size="13.4" font-weight="bold" text-anchor="start" stroke="#000" stroke-width="0.22">Budesonide</text></g>
</svg>
</body></html>
